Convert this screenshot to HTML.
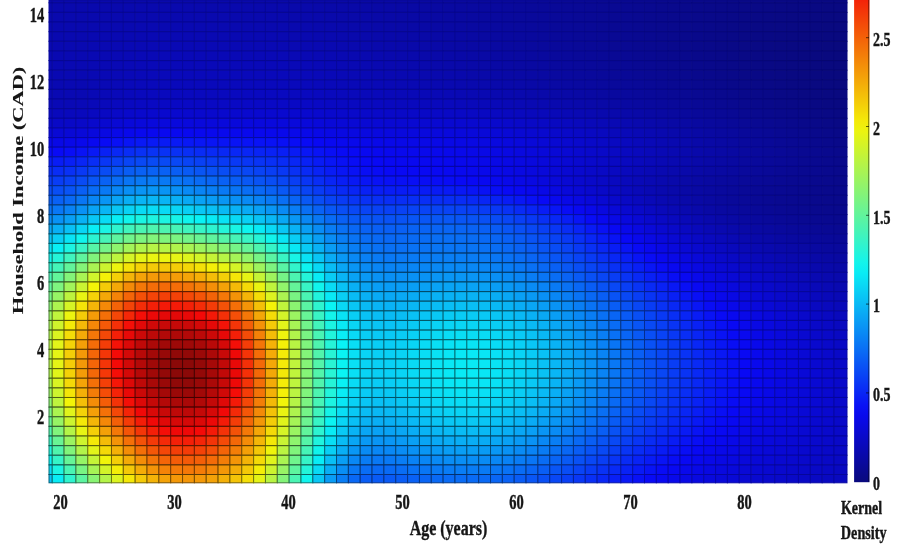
<!DOCTYPE html>
<html><head><meta charset="utf-8"><title>Kernel Density</title>
<style>
html,body{margin:0;padding:0;background:#fff;}
body{width:910px;height:550px;overflow:hidden;}
svg{display:block;}
text{font-family:"Liberation Serif",serif;font-weight:bold;fill:#161616;stroke:#161616;stroke-width:0.3px;}
</style></head><body>
<svg width="910" height="550" viewBox="0 0 910 550">
<rect width="910" height="550" fill="#fff"/>
<g>
<g stroke-width="1.0">
<rect x="49.00" y="0.00" width="3.25" height="2.78" fill="#0909ac" stroke="#08089a"/>
<rect x="52.25" y="0.00" width="11.84" height="2.78" fill="#0909ac" stroke="#080899"/>
<rect x="64.09" y="0.00" width="11.84" height="2.78" fill="#0909ac" stroke="#080899"/>
<rect x="75.94" y="0.00" width="11.84" height="2.78" fill="#0909ac" stroke="#080899"/>
<rect x="87.78" y="0.00" width="11.84" height="2.78" fill="#0909ac" stroke="#080899"/>
<rect x="99.63" y="0.00" width="11.84" height="2.78" fill="#0909ac" stroke="#080899"/>
<rect x="111.47" y="0.00" width="11.85" height="2.78" fill="#0909ac" stroke="#080899"/>
<rect x="123.32" y="0.00" width="11.85" height="2.78" fill="#0909ac" stroke="#08089a"/>
<rect x="135.17" y="0.00" width="11.84" height="2.78" fill="#0909ac" stroke="#08089a"/>
<rect x="147.01" y="0.00" width="11.85" height="2.78" fill="#0909ac" stroke="#08089a"/>
<rect x="158.86" y="0.00" width="11.84" height="2.78" fill="#0909ac" stroke="#08089a"/>
<rect x="170.70" y="0.00" width="11.85" height="2.78" fill="#0909ac" stroke="#08089a"/>
<rect x="182.55" y="0.00" width="11.84" height="2.78" fill="#0909ac" stroke="#080899"/>
<rect x="194.39" y="0.00" width="11.84" height="2.78" fill="#0909ac" stroke="#080899"/>
<rect x="206.24" y="0.00" width="11.84" height="2.78" fill="#0909ac" stroke="#080899"/>
<rect x="218.08" y="0.00" width="11.84" height="2.78" fill="#0909ac" stroke="#080899"/>
<rect x="229.93" y="0.00" width="11.84" height="2.78" fill="#0909ab" stroke="#080899"/>
<rect x="241.77" y="0.00" width="11.84" height="2.78" fill="#0909ab" stroke="#080899"/>
<rect x="253.62" y="0.00" width="11.85" height="2.78" fill="#0909ab" stroke="#080899"/>
<rect x="265.46" y="0.00" width="11.84" height="2.78" fill="#0909ab" stroke="#080899"/>
<rect x="277.31" y="0.00" width="11.84" height="2.78" fill="#0909aa" stroke="#080899"/>
<rect x="289.15" y="0.00" width="11.85" height="2.78" fill="#0909aa" stroke="#080898"/>
<rect x="301.00" y="0.00" width="11.85" height="2.78" fill="#0909a9" stroke="#080898"/>
<rect x="312.84" y="0.00" width="11.84" height="2.78" fill="#0909a9" stroke="#080898"/>
<rect x="324.69" y="0.00" width="11.85" height="2.78" fill="#0909a8" stroke="#080898"/>
<rect x="336.53" y="0.00" width="11.84" height="2.78" fill="#0909a8" stroke="#080898"/>
<rect x="348.38" y="0.00" width="11.85" height="2.78" fill="#0909a7" stroke="#080897"/>
<rect x="360.22" y="0.00" width="11.84" height="2.78" fill="#0909a6" stroke="#080897"/>
<rect x="372.06" y="0.00" width="11.85" height="2.78" fill="#0909a5" stroke="#080897"/>
<rect x="383.91" y="0.00" width="11.84" height="2.78" fill="#0909a5" stroke="#080897"/>
<rect x="395.75" y="0.00" width="11.85" height="2.78" fill="#0909a4" stroke="#080896"/>
<rect x="407.60" y="0.00" width="11.84" height="2.78" fill="#0909a3" stroke="#080896"/>
<rect x="419.44" y="0.00" width="11.85" height="2.78" fill="#0909a2" stroke="#080896"/>
<rect x="431.29" y="0.00" width="11.85" height="2.78" fill="#0909a2" stroke="#080895"/>
<rect x="443.14" y="0.00" width="11.84" height="2.78" fill="#0909a1" stroke="#080895"/>
<rect x="454.98" y="0.00" width="11.85" height="2.78" fill="#0909a0" stroke="#080895"/>
<rect x="466.83" y="0.00" width="11.84" height="2.78" fill="#09099f" stroke="#080895"/>
<rect x="478.67" y="0.00" width="11.85" height="2.78" fill="#09099e" stroke="#080894"/>
<rect x="490.52" y="0.00" width="11.84" height="2.78" fill="#09099d" stroke="#080894"/>
<rect x="502.36" y="0.00" width="11.85" height="2.78" fill="#09099c" stroke="#080894"/>
<rect x="514.21" y="0.00" width="11.84" height="2.78" fill="#09099b" stroke="#080893"/>
<rect x="526.05" y="0.00" width="11.85" height="2.78" fill="#09099a" stroke="#080892"/>
<rect x="537.89" y="0.00" width="11.85" height="2.78" fill="#090999" stroke="#080891"/>
<rect x="549.74" y="0.00" width="11.85" height="2.78" fill="#090998" stroke="#080890"/>
<rect x="561.59" y="0.00" width="11.85" height="2.78" fill="#090997" stroke="#080890"/>
<rect x="573.43" y="0.00" width="11.84" height="2.78" fill="#090996" stroke="#08088f"/>
<rect x="585.27" y="0.00" width="11.85" height="2.78" fill="#090995" stroke="#08088e"/>
<rect x="597.12" y="0.00" width="11.85" height="2.78" fill="#090994" stroke="#08088d"/>
<rect x="608.97" y="0.00" width="11.85" height="2.78" fill="#090993" stroke="#08088c"/>
<rect x="620.81" y="0.00" width="11.85" height="2.78" fill="#090992" stroke="#08088b"/>
<rect x="632.66" y="0.00" width="11.84" height="2.78" fill="#090991" stroke="#08088a"/>
<rect x="644.50" y="0.00" width="11.85" height="2.78" fill="#090990" stroke="#080889"/>
<rect x="656.35" y="0.00" width="11.85" height="2.78" fill="#09098f" stroke="#080888"/>
<rect x="668.19" y="0.00" width="11.85" height="2.78" fill="#09098e" stroke="#080887"/>
<rect x="680.04" y="0.00" width="11.84" height="2.78" fill="#09098d" stroke="#080886"/>
<rect x="691.88" y="0.00" width="11.85" height="2.78" fill="#09098c" stroke="#080885"/>
<rect x="703.73" y="0.00" width="11.85" height="2.78" fill="#09098b" stroke="#080884"/>
<rect x="715.57" y="0.00" width="11.85" height="2.78" fill="#09098a" stroke="#080883"/>
<rect x="727.42" y="0.00" width="11.84" height="2.78" fill="#090989" stroke="#080882"/>
<rect x="739.26" y="0.00" width="11.85" height="2.78" fill="#090988" stroke="#080882"/>
<rect x="751.11" y="0.00" width="11.85" height="2.78" fill="#090988" stroke="#080881"/>
<rect x="762.95" y="0.00" width="11.85" height="2.78" fill="#090987" stroke="#080880"/>
<rect x="774.80" y="0.00" width="11.84" height="2.78" fill="#090986" stroke="#08087f"/>
<rect x="786.64" y="0.00" width="11.85" height="2.78" fill="#090985" stroke="#08087f"/>
<rect x="798.49" y="0.00" width="11.85" height="2.78" fill="#090985" stroke="#08087e"/>
<rect x="810.33" y="0.00" width="11.85" height="2.78" fill="#090984" stroke="#08087e"/>
<rect x="822.18" y="0.00" width="11.85" height="2.78" fill="#090984" stroke="#08087d"/>
<rect x="834.02" y="0.00" width="12.98" height="2.78" fill="#090983" stroke="#08087d"/>
<rect x="49.00" y="2.78" width="3.25" height="9.63" fill="#0909ad" stroke="#08089a"/>
<rect x="52.25" y="2.78" width="11.84" height="9.63" fill="#0909ad" stroke="#08089a"/>
<rect x="64.09" y="2.78" width="11.84" height="9.63" fill="#0909ad" stroke="#08089a"/>
<rect x="75.94" y="2.78" width="11.84" height="9.63" fill="#0909ad" stroke="#08089a"/>
<rect x="87.78" y="2.78" width="11.84" height="9.63" fill="#0909ad" stroke="#08089a"/>
<rect x="99.63" y="2.78" width="11.84" height="9.63" fill="#0909ad" stroke="#08089a"/>
<rect x="111.47" y="2.78" width="11.85" height="9.63" fill="#0909ad" stroke="#08089a"/>
<rect x="123.32" y="2.78" width="11.85" height="9.63" fill="#0909ae" stroke="#08089a"/>
<rect x="135.17" y="2.78" width="11.84" height="9.63" fill="#0909ae" stroke="#08089a"/>
<rect x="147.01" y="2.78" width="11.85" height="9.63" fill="#0909ae" stroke="#08089a"/>
<rect x="158.86" y="2.78" width="11.84" height="9.63" fill="#0909ae" stroke="#08089a"/>
<rect x="170.70" y="2.78" width="11.85" height="9.63" fill="#0909ae" stroke="#08089a"/>
<rect x="182.55" y="2.78" width="11.84" height="9.63" fill="#0909ae" stroke="#08089a"/>
<rect x="194.39" y="2.78" width="11.84" height="9.63" fill="#0909ad" stroke="#08089a"/>
<rect x="206.24" y="2.78" width="11.84" height="9.63" fill="#0909ad" stroke="#08089a"/>
<rect x="218.08" y="2.78" width="11.84" height="9.63" fill="#0909ad" stroke="#08089a"/>
<rect x="229.93" y="2.78" width="11.84" height="9.63" fill="#0909ad" stroke="#08089a"/>
<rect x="241.77" y="2.78" width="11.84" height="9.63" fill="#0909ad" stroke="#08089a"/>
<rect x="253.62" y="2.78" width="11.85" height="9.63" fill="#0909ac" stroke="#080899"/>
<rect x="265.46" y="2.78" width="11.84" height="9.63" fill="#0909ac" stroke="#080899"/>
<rect x="277.31" y="2.78" width="11.84" height="9.63" fill="#0909ac" stroke="#080899"/>
<rect x="289.15" y="2.78" width="11.85" height="9.63" fill="#0909ab" stroke="#080899"/>
<rect x="301.00" y="2.78" width="11.85" height="9.63" fill="#0909ab" stroke="#080899"/>
<rect x="312.84" y="2.78" width="11.84" height="9.63" fill="#0909aa" stroke="#080899"/>
<rect x="324.69" y="2.78" width="11.85" height="9.63" fill="#0909a9" stroke="#080898"/>
<rect x="336.53" y="2.78" width="11.84" height="9.63" fill="#0909a9" stroke="#080898"/>
<rect x="348.38" y="2.78" width="11.85" height="9.63" fill="#0909a8" stroke="#080898"/>
<rect x="360.22" y="2.78" width="11.84" height="9.63" fill="#0909a7" stroke="#080898"/>
<rect x="372.06" y="2.78" width="11.85" height="9.63" fill="#0909a6" stroke="#080897"/>
<rect x="383.91" y="2.78" width="11.84" height="9.63" fill="#0909a6" stroke="#080897"/>
<rect x="395.75" y="2.78" width="11.85" height="9.63" fill="#0909a5" stroke="#080897"/>
<rect x="407.60" y="2.78" width="11.84" height="9.63" fill="#0909a4" stroke="#080896"/>
<rect x="419.44" y="2.78" width="11.85" height="9.63" fill="#0909a3" stroke="#080896"/>
<rect x="431.29" y="2.78" width="11.85" height="9.63" fill="#0909a2" stroke="#080896"/>
<rect x="443.14" y="2.78" width="11.84" height="9.63" fill="#0909a1" stroke="#080895"/>
<rect x="454.98" y="2.78" width="11.85" height="9.63" fill="#0909a0" stroke="#080895"/>
<rect x="466.83" y="2.78" width="11.84" height="9.63" fill="#0909a0" stroke="#080895"/>
<rect x="478.67" y="2.78" width="11.85" height="9.63" fill="#09099f" stroke="#080894"/>
<rect x="490.52" y="2.78" width="11.84" height="9.63" fill="#09099e" stroke="#080894"/>
<rect x="502.36" y="2.78" width="11.85" height="9.63" fill="#09099d" stroke="#080894"/>
<rect x="514.21" y="2.78" width="11.84" height="9.63" fill="#09099b" stroke="#080894"/>
<rect x="526.05" y="2.78" width="11.85" height="9.63" fill="#09099a" stroke="#080893"/>
<rect x="537.89" y="2.78" width="11.85" height="9.63" fill="#090999" stroke="#080892"/>
<rect x="549.74" y="2.78" width="11.85" height="9.63" fill="#090998" stroke="#080891"/>
<rect x="561.59" y="2.78" width="11.85" height="9.63" fill="#090997" stroke="#080890"/>
<rect x="573.43" y="2.78" width="11.84" height="9.63" fill="#090996" stroke="#08088f"/>
<rect x="585.27" y="2.78" width="11.85" height="9.63" fill="#090995" stroke="#08088e"/>
<rect x="597.12" y="2.78" width="11.85" height="9.63" fill="#090994" stroke="#08088d"/>
<rect x="608.97" y="2.78" width="11.85" height="9.63" fill="#090993" stroke="#08088b"/>
<rect x="620.81" y="2.78" width="11.85" height="9.63" fill="#090992" stroke="#08088a"/>
<rect x="632.66" y="2.78" width="11.84" height="9.63" fill="#090991" stroke="#080889"/>
<rect x="644.50" y="2.78" width="11.85" height="9.63" fill="#090990" stroke="#080888"/>
<rect x="656.35" y="2.78" width="11.85" height="9.63" fill="#09098e" stroke="#080887"/>
<rect x="668.19" y="2.78" width="11.85" height="9.63" fill="#09098d" stroke="#080886"/>
<rect x="680.04" y="2.78" width="11.84" height="9.63" fill="#09098c" stroke="#080885"/>
<rect x="691.88" y="2.78" width="11.85" height="9.63" fill="#09098b" stroke="#080884"/>
<rect x="703.73" y="2.78" width="11.85" height="9.63" fill="#09098a" stroke="#080883"/>
<rect x="715.57" y="2.78" width="11.85" height="9.63" fill="#090989" stroke="#080883"/>
<rect x="727.42" y="2.78" width="11.84" height="9.63" fill="#090988" stroke="#080882"/>
<rect x="739.26" y="2.78" width="11.85" height="9.63" fill="#090988" stroke="#080881"/>
<rect x="751.11" y="2.78" width="11.85" height="9.63" fill="#090987" stroke="#080880"/>
<rect x="762.95" y="2.78" width="11.85" height="9.63" fill="#090986" stroke="#08087f"/>
<rect x="774.80" y="2.78" width="11.84" height="9.63" fill="#090985" stroke="#08087e"/>
<rect x="786.64" y="2.78" width="11.85" height="9.63" fill="#090984" stroke="#08087e"/>
<rect x="798.49" y="2.78" width="11.85" height="9.63" fill="#090984" stroke="#08087d"/>
<rect x="810.33" y="2.78" width="11.85" height="9.63" fill="#090983" stroke="#08087d"/>
<rect x="822.18" y="2.78" width="11.85" height="9.63" fill="#090982" stroke="#08087c"/>
<rect x="834.02" y="2.78" width="12.98" height="9.63" fill="#090982" stroke="#08087b"/>
<rect x="49.00" y="12.40" width="3.25" height="9.63" fill="#0909ae" stroke="#08089a"/>
<rect x="52.25" y="12.40" width="11.84" height="9.63" fill="#0909ae" stroke="#08089a"/>
<rect x="64.09" y="12.40" width="11.84" height="9.63" fill="#0909ae" stroke="#08089a"/>
<rect x="75.94" y="12.40" width="11.84" height="9.63" fill="#0909ae" stroke="#08089a"/>
<rect x="87.78" y="12.40" width="11.84" height="9.63" fill="#0909ae" stroke="#08089a"/>
<rect x="99.63" y="12.40" width="11.84" height="9.63" fill="#0909ae" stroke="#08089a"/>
<rect x="111.47" y="12.40" width="11.85" height="9.63" fill="#0909af" stroke="#08089a"/>
<rect x="123.32" y="12.40" width="11.85" height="9.63" fill="#0909af" stroke="#08089b"/>
<rect x="135.17" y="12.40" width="11.84" height="9.63" fill="#0909af" stroke="#08089b"/>
<rect x="147.01" y="12.40" width="11.85" height="9.63" fill="#0909af" stroke="#08089b"/>
<rect x="158.86" y="12.40" width="11.84" height="9.63" fill="#0909af" stroke="#08089b"/>
<rect x="170.70" y="12.40" width="11.85" height="9.63" fill="#0909af" stroke="#08089b"/>
<rect x="182.55" y="12.40" width="11.84" height="9.63" fill="#0909af" stroke="#08089b"/>
<rect x="194.39" y="12.40" width="11.84" height="9.63" fill="#0909af" stroke="#08089b"/>
<rect x="206.24" y="12.40" width="11.84" height="9.63" fill="#0909af" stroke="#08089a"/>
<rect x="218.08" y="12.40" width="11.84" height="9.63" fill="#0909af" stroke="#08089a"/>
<rect x="229.93" y="12.40" width="11.84" height="9.63" fill="#0909ae" stroke="#08089a"/>
<rect x="241.77" y="12.40" width="11.84" height="9.63" fill="#0909ae" stroke="#08089a"/>
<rect x="253.62" y="12.40" width="11.85" height="9.63" fill="#0909ae" stroke="#08089a"/>
<rect x="265.46" y="12.40" width="11.84" height="9.63" fill="#0909ae" stroke="#08089a"/>
<rect x="277.31" y="12.40" width="11.84" height="9.63" fill="#0909ad" stroke="#08089a"/>
<rect x="289.15" y="12.40" width="11.85" height="9.63" fill="#0909ad" stroke="#08089a"/>
<rect x="301.00" y="12.40" width="11.85" height="9.63" fill="#0909ac" stroke="#080899"/>
<rect x="312.84" y="12.40" width="11.84" height="9.63" fill="#0909ac" stroke="#080899"/>
<rect x="324.69" y="12.40" width="11.85" height="9.63" fill="#0909ab" stroke="#080899"/>
<rect x="336.53" y="12.40" width="11.84" height="9.63" fill="#0909aa" stroke="#080899"/>
<rect x="348.38" y="12.40" width="11.85" height="9.63" fill="#0909a9" stroke="#080898"/>
<rect x="360.22" y="12.40" width="11.84" height="9.63" fill="#0909a9" stroke="#080898"/>
<rect x="372.06" y="12.40" width="11.85" height="9.63" fill="#0909a8" stroke="#080898"/>
<rect x="383.91" y="12.40" width="11.84" height="9.63" fill="#0909a7" stroke="#080897"/>
<rect x="395.75" y="12.40" width="11.85" height="9.63" fill="#0909a6" stroke="#080897"/>
<rect x="407.60" y="12.40" width="11.84" height="9.63" fill="#0909a5" stroke="#080897"/>
<rect x="419.44" y="12.40" width="11.85" height="9.63" fill="#0909a4" stroke="#080896"/>
<rect x="431.29" y="12.40" width="11.85" height="9.63" fill="#0909a3" stroke="#080896"/>
<rect x="443.14" y="12.40" width="11.84" height="9.63" fill="#0909a2" stroke="#080896"/>
<rect x="454.98" y="12.40" width="11.85" height="9.63" fill="#0909a1" stroke="#080895"/>
<rect x="466.83" y="12.40" width="11.84" height="9.63" fill="#0909a0" stroke="#080895"/>
<rect x="478.67" y="12.40" width="11.85" height="9.63" fill="#09099f" stroke="#080895"/>
<rect x="490.52" y="12.40" width="11.84" height="9.63" fill="#09099e" stroke="#080894"/>
<rect x="502.36" y="12.40" width="11.85" height="9.63" fill="#09099d" stroke="#080894"/>
<rect x="514.21" y="12.40" width="11.84" height="9.63" fill="#09099c" stroke="#080894"/>
<rect x="526.05" y="12.40" width="11.85" height="9.63" fill="#09099b" stroke="#080893"/>
<rect x="537.89" y="12.40" width="11.85" height="9.63" fill="#09099a" stroke="#080892"/>
<rect x="549.74" y="12.40" width="11.85" height="9.63" fill="#090999" stroke="#080891"/>
<rect x="561.59" y="12.40" width="11.85" height="9.63" fill="#090998" stroke="#080890"/>
<rect x="573.43" y="12.40" width="11.84" height="9.63" fill="#090996" stroke="#08088f"/>
<rect x="585.27" y="12.40" width="11.85" height="9.63" fill="#090995" stroke="#08088e"/>
<rect x="597.12" y="12.40" width="11.85" height="9.63" fill="#090994" stroke="#08088d"/>
<rect x="608.97" y="12.40" width="11.85" height="9.63" fill="#090993" stroke="#08088c"/>
<rect x="620.81" y="12.40" width="11.85" height="9.63" fill="#090992" stroke="#08088a"/>
<rect x="632.66" y="12.40" width="11.84" height="9.63" fill="#090991" stroke="#080889"/>
<rect x="644.50" y="12.40" width="11.85" height="9.63" fill="#09098f" stroke="#080888"/>
<rect x="656.35" y="12.40" width="11.85" height="9.63" fill="#09098e" stroke="#080887"/>
<rect x="668.19" y="12.40" width="11.85" height="9.63" fill="#09098d" stroke="#080886"/>
<rect x="680.04" y="12.40" width="11.84" height="9.63" fill="#09098c" stroke="#080885"/>
<rect x="691.88" y="12.40" width="11.85" height="9.63" fill="#09098b" stroke="#080884"/>
<rect x="703.73" y="12.40" width="11.85" height="9.63" fill="#09098a" stroke="#080883"/>
<rect x="715.57" y="12.40" width="11.85" height="9.63" fill="#090989" stroke="#080882"/>
<rect x="727.42" y="12.40" width="11.84" height="9.63" fill="#090988" stroke="#080881"/>
<rect x="739.26" y="12.40" width="11.85" height="9.63" fill="#090987" stroke="#080880"/>
<rect x="751.11" y="12.40" width="11.85" height="9.63" fill="#090986" stroke="#08087f"/>
<rect x="762.95" y="12.40" width="11.85" height="9.63" fill="#090985" stroke="#08087e"/>
<rect x="774.80" y="12.40" width="11.84" height="9.63" fill="#090984" stroke="#08087e"/>
<rect x="786.64" y="12.40" width="11.85" height="9.63" fill="#090983" stroke="#08087d"/>
<rect x="798.49" y="12.40" width="11.85" height="9.63" fill="#090983" stroke="#08087c"/>
<rect x="810.33" y="12.40" width="11.85" height="9.63" fill="#090982" stroke="#08087c"/>
<rect x="822.18" y="12.40" width="11.85" height="9.63" fill="#090981" stroke="#08087b"/>
<rect x="834.02" y="12.40" width="12.98" height="9.63" fill="#090981" stroke="#08087a"/>
<rect x="49.00" y="22.03" width="3.25" height="9.63" fill="#0909b0" stroke="#08089b"/>
<rect x="52.25" y="22.03" width="11.84" height="9.63" fill="#0909af" stroke="#08089b"/>
<rect x="64.09" y="22.03" width="11.84" height="9.63" fill="#0909af" stroke="#08089b"/>
<rect x="75.94" y="22.03" width="11.84" height="9.63" fill="#0909af" stroke="#08089b"/>
<rect x="87.78" y="22.03" width="11.84" height="9.63" fill="#0909af" stroke="#08089b"/>
<rect x="99.63" y="22.03" width="11.84" height="9.63" fill="#0909b0" stroke="#08089b"/>
<rect x="111.47" y="22.03" width="11.85" height="9.63" fill="#0909b0" stroke="#08089b"/>
<rect x="123.32" y="22.03" width="11.85" height="9.63" fill="#0909b0" stroke="#08089b"/>
<rect x="135.17" y="22.03" width="11.84" height="9.63" fill="#0909b1" stroke="#08089b"/>
<rect x="147.01" y="22.03" width="11.85" height="9.63" fill="#0909b1" stroke="#08089b"/>
<rect x="158.86" y="22.03" width="11.84" height="9.63" fill="#0909b1" stroke="#08089b"/>
<rect x="170.70" y="22.03" width="11.85" height="9.63" fill="#0909b1" stroke="#08089b"/>
<rect x="182.55" y="22.03" width="11.84" height="9.63" fill="#0909b1" stroke="#08089b"/>
<rect x="194.39" y="22.03" width="11.84" height="9.63" fill="#0909b1" stroke="#08089b"/>
<rect x="206.24" y="22.03" width="11.84" height="9.63" fill="#0909b1" stroke="#08089b"/>
<rect x="218.08" y="22.03" width="11.84" height="9.63" fill="#0909b0" stroke="#08089b"/>
<rect x="229.93" y="22.03" width="11.84" height="9.63" fill="#0909b0" stroke="#08089b"/>
<rect x="241.77" y="22.03" width="11.84" height="9.63" fill="#0909b0" stroke="#08089b"/>
<rect x="253.62" y="22.03" width="11.85" height="9.63" fill="#0909b0" stroke="#08089b"/>
<rect x="265.46" y="22.03" width="11.84" height="9.63" fill="#0909af" stroke="#08089b"/>
<rect x="277.31" y="22.03" width="11.84" height="9.63" fill="#0909af" stroke="#08089b"/>
<rect x="289.15" y="22.03" width="11.85" height="9.63" fill="#0909af" stroke="#08089a"/>
<rect x="301.00" y="22.03" width="11.85" height="9.63" fill="#0909ae" stroke="#08089a"/>
<rect x="312.84" y="22.03" width="11.84" height="9.63" fill="#0909ad" stroke="#08089a"/>
<rect x="324.69" y="22.03" width="11.85" height="9.63" fill="#0909ad" stroke="#08089a"/>
<rect x="336.53" y="22.03" width="11.84" height="9.63" fill="#0909ac" stroke="#080899"/>
<rect x="348.38" y="22.03" width="11.85" height="9.63" fill="#0909ab" stroke="#080899"/>
<rect x="360.22" y="22.03" width="11.84" height="9.63" fill="#0909aa" stroke="#080899"/>
<rect x="372.06" y="22.03" width="11.85" height="9.63" fill="#0909a9" stroke="#080898"/>
<rect x="383.91" y="22.03" width="11.84" height="9.63" fill="#0909a8" stroke="#080898"/>
<rect x="395.75" y="22.03" width="11.85" height="9.63" fill="#0909a7" stroke="#080898"/>
<rect x="407.60" y="22.03" width="11.84" height="9.63" fill="#0909a6" stroke="#080897"/>
<rect x="419.44" y="22.03" width="11.85" height="9.63" fill="#0909a5" stroke="#080897"/>
<rect x="431.29" y="22.03" width="11.85" height="9.63" fill="#0909a4" stroke="#080896"/>
<rect x="443.14" y="22.03" width="11.84" height="9.63" fill="#0909a3" stroke="#080896"/>
<rect x="454.98" y="22.03" width="11.85" height="9.63" fill="#0909a2" stroke="#080896"/>
<rect x="466.83" y="22.03" width="11.84" height="9.63" fill="#0909a1" stroke="#080895"/>
<rect x="478.67" y="22.03" width="11.85" height="9.63" fill="#0909a0" stroke="#080895"/>
<rect x="490.52" y="22.03" width="11.84" height="9.63" fill="#09099f" stroke="#080895"/>
<rect x="502.36" y="22.03" width="11.85" height="9.63" fill="#09099e" stroke="#080894"/>
<rect x="514.21" y="22.03" width="11.84" height="9.63" fill="#09099d" stroke="#080894"/>
<rect x="526.05" y="22.03" width="11.85" height="9.63" fill="#09099c" stroke="#080894"/>
<rect x="537.89" y="22.03" width="11.85" height="9.63" fill="#09099a" stroke="#080893"/>
<rect x="549.74" y="22.03" width="11.85" height="9.63" fill="#090999" stroke="#080892"/>
<rect x="561.59" y="22.03" width="11.85" height="9.63" fill="#090998" stroke="#080890"/>
<rect x="573.43" y="22.03" width="11.84" height="9.63" fill="#090997" stroke="#08088f"/>
<rect x="585.27" y="22.03" width="11.85" height="9.63" fill="#090996" stroke="#08088e"/>
<rect x="597.12" y="22.03" width="11.85" height="9.63" fill="#090994" stroke="#08088d"/>
<rect x="608.97" y="22.03" width="11.85" height="9.63" fill="#090993" stroke="#08088c"/>
<rect x="620.81" y="22.03" width="11.85" height="9.63" fill="#090992" stroke="#08088b"/>
<rect x="632.66" y="22.03" width="11.84" height="9.63" fill="#090991" stroke="#080889"/>
<rect x="644.50" y="22.03" width="11.85" height="9.63" fill="#09098f" stroke="#080888"/>
<rect x="656.35" y="22.03" width="11.85" height="9.63" fill="#09098e" stroke="#080887"/>
<rect x="668.19" y="22.03" width="11.85" height="9.63" fill="#09098d" stroke="#080886"/>
<rect x="680.04" y="22.03" width="11.84" height="9.63" fill="#09098c" stroke="#080885"/>
<rect x="691.88" y="22.03" width="11.85" height="9.63" fill="#09098b" stroke="#080884"/>
<rect x="703.73" y="22.03" width="11.85" height="9.63" fill="#09098a" stroke="#080883"/>
<rect x="715.57" y="22.03" width="11.85" height="9.63" fill="#090988" stroke="#080882"/>
<rect x="727.42" y="22.03" width="11.84" height="9.63" fill="#090987" stroke="#080881"/>
<rect x="739.26" y="22.03" width="11.85" height="9.63" fill="#090986" stroke="#080880"/>
<rect x="751.11" y="22.03" width="11.85" height="9.63" fill="#090985" stroke="#08087f"/>
<rect x="762.95" y="22.03" width="11.85" height="9.63" fill="#090984" stroke="#08087e"/>
<rect x="774.80" y="22.03" width="11.84" height="9.63" fill="#090984" stroke="#08087d"/>
<rect x="786.64" y="22.03" width="11.85" height="9.63" fill="#090983" stroke="#08087c"/>
<rect x="798.49" y="22.03" width="11.85" height="9.63" fill="#090982" stroke="#08087b"/>
<rect x="810.33" y="22.03" width="11.85" height="9.63" fill="#090981" stroke="#08087b"/>
<rect x="822.18" y="22.03" width="11.85" height="9.63" fill="#090980" stroke="#08087a"/>
<rect x="834.02" y="22.03" width="12.98" height="9.63" fill="#090980" stroke="#080879"/>
<rect x="49.00" y="31.66" width="3.25" height="9.63" fill="#0909b1" stroke="#08089b"/>
<rect x="52.25" y="31.66" width="11.84" height="9.63" fill="#0909b0" stroke="#08089b"/>
<rect x="64.09" y="31.66" width="11.84" height="9.63" fill="#0909b0" stroke="#08089b"/>
<rect x="75.94" y="31.66" width="11.84" height="9.63" fill="#0909b0" stroke="#08089b"/>
<rect x="87.78" y="31.66" width="11.84" height="9.63" fill="#0909b1" stroke="#08089b"/>
<rect x="99.63" y="31.66" width="11.84" height="9.63" fill="#0909b1" stroke="#08089b"/>
<rect x="111.47" y="31.66" width="11.85" height="9.63" fill="#0909b2" stroke="#08089c"/>
<rect x="123.32" y="31.66" width="11.85" height="9.63" fill="#0909b2" stroke="#08089c"/>
<rect x="135.17" y="31.66" width="11.84" height="9.63" fill="#0909b2" stroke="#08089c"/>
<rect x="147.01" y="31.66" width="11.85" height="9.63" fill="#0909b3" stroke="#08089c"/>
<rect x="158.86" y="31.66" width="11.84" height="9.63" fill="#0909b3" stroke="#08089c"/>
<rect x="170.70" y="31.66" width="11.85" height="9.63" fill="#0909b3" stroke="#08089c"/>
<rect x="182.55" y="31.66" width="11.84" height="9.63" fill="#0909b3" stroke="#08089c"/>
<rect x="194.39" y="31.66" width="11.84" height="9.63" fill="#0909b3" stroke="#08089c"/>
<rect x="206.24" y="31.66" width="11.84" height="9.63" fill="#0909b3" stroke="#08089c"/>
<rect x="218.08" y="31.66" width="11.84" height="9.63" fill="#0909b2" stroke="#08089c"/>
<rect x="229.93" y="31.66" width="11.84" height="9.63" fill="#0909b2" stroke="#08089c"/>
<rect x="241.77" y="31.66" width="11.84" height="9.63" fill="#0909b2" stroke="#08089c"/>
<rect x="253.62" y="31.66" width="11.85" height="9.63" fill="#0909b2" stroke="#08089c"/>
<rect x="265.46" y="31.66" width="11.84" height="9.63" fill="#0909b2" stroke="#08089c"/>
<rect x="277.31" y="31.66" width="11.84" height="9.63" fill="#0909b1" stroke="#08089b"/>
<rect x="289.15" y="31.66" width="11.85" height="9.63" fill="#0909b1" stroke="#08089b"/>
<rect x="301.00" y="31.66" width="11.85" height="9.63" fill="#0909b0" stroke="#08089b"/>
<rect x="312.84" y="31.66" width="11.84" height="9.63" fill="#0909af" stroke="#08089b"/>
<rect x="324.69" y="31.66" width="11.85" height="9.63" fill="#0909af" stroke="#08089a"/>
<rect x="336.53" y="31.66" width="11.84" height="9.63" fill="#0909ae" stroke="#08089a"/>
<rect x="348.38" y="31.66" width="11.85" height="9.63" fill="#0909ad" stroke="#08089a"/>
<rect x="360.22" y="31.66" width="11.84" height="9.63" fill="#0909ac" stroke="#080899"/>
<rect x="372.06" y="31.66" width="11.85" height="9.63" fill="#0909ab" stroke="#080899"/>
<rect x="383.91" y="31.66" width="11.84" height="9.63" fill="#0909aa" stroke="#080899"/>
<rect x="395.75" y="31.66" width="11.85" height="9.63" fill="#0909a9" stroke="#080898"/>
<rect x="407.60" y="31.66" width="11.84" height="9.63" fill="#0909a8" stroke="#080898"/>
<rect x="419.44" y="31.66" width="11.85" height="9.63" fill="#0909a7" stroke="#080897"/>
<rect x="431.29" y="31.66" width="11.85" height="9.63" fill="#0909a6" stroke="#080897"/>
<rect x="443.14" y="31.66" width="11.84" height="9.63" fill="#0909a5" stroke="#080897"/>
<rect x="454.98" y="31.66" width="11.85" height="9.63" fill="#0909a4" stroke="#080896"/>
<rect x="466.83" y="31.66" width="11.84" height="9.63" fill="#0909a3" stroke="#080896"/>
<rect x="478.67" y="31.66" width="11.85" height="9.63" fill="#0909a1" stroke="#080895"/>
<rect x="490.52" y="31.66" width="11.84" height="9.63" fill="#0909a0" stroke="#080895"/>
<rect x="502.36" y="31.66" width="11.85" height="9.63" fill="#09099f" stroke="#080895"/>
<rect x="514.21" y="31.66" width="11.84" height="9.63" fill="#09099e" stroke="#080894"/>
<rect x="526.05" y="31.66" width="11.85" height="9.63" fill="#09099d" stroke="#080894"/>
<rect x="537.89" y="31.66" width="11.85" height="9.63" fill="#09099b" stroke="#080894"/>
<rect x="549.74" y="31.66" width="11.85" height="9.63" fill="#09099a" stroke="#080892"/>
<rect x="561.59" y="31.66" width="11.85" height="9.63" fill="#090999" stroke="#080891"/>
<rect x="573.43" y="31.66" width="11.84" height="9.63" fill="#090997" stroke="#080890"/>
<rect x="585.27" y="31.66" width="11.85" height="9.63" fill="#090996" stroke="#08088f"/>
<rect x="597.12" y="31.66" width="11.85" height="9.63" fill="#090995" stroke="#08088d"/>
<rect x="608.97" y="31.66" width="11.85" height="9.63" fill="#090994" stroke="#08088c"/>
<rect x="620.81" y="31.66" width="11.85" height="9.63" fill="#090992" stroke="#08088b"/>
<rect x="632.66" y="31.66" width="11.84" height="9.63" fill="#090991" stroke="#08088a"/>
<rect x="644.50" y="31.66" width="11.85" height="9.63" fill="#090990" stroke="#080888"/>
<rect x="656.35" y="31.66" width="11.85" height="9.63" fill="#09098e" stroke="#080887"/>
<rect x="668.19" y="31.66" width="11.85" height="9.63" fill="#09098d" stroke="#080886"/>
<rect x="680.04" y="31.66" width="11.84" height="9.63" fill="#09098c" stroke="#080885"/>
<rect x="691.88" y="31.66" width="11.85" height="9.63" fill="#09098b" stroke="#080884"/>
<rect x="703.73" y="31.66" width="11.85" height="9.63" fill="#090989" stroke="#080883"/>
<rect x="715.57" y="31.66" width="11.85" height="9.63" fill="#090988" stroke="#080882"/>
<rect x="727.42" y="31.66" width="11.84" height="9.63" fill="#090987" stroke="#080880"/>
<rect x="739.26" y="31.66" width="11.85" height="9.63" fill="#090986" stroke="#08087f"/>
<rect x="751.11" y="31.66" width="11.85" height="9.63" fill="#090985" stroke="#08087e"/>
<rect x="762.95" y="31.66" width="11.85" height="9.63" fill="#090984" stroke="#08087d"/>
<rect x="774.80" y="31.66" width="11.84" height="9.63" fill="#090983" stroke="#08087d"/>
<rect x="786.64" y="31.66" width="11.85" height="9.63" fill="#090982" stroke="#08087c"/>
<rect x="798.49" y="31.66" width="11.85" height="9.63" fill="#090981" stroke="#08087b"/>
<rect x="810.33" y="31.66" width="11.85" height="9.63" fill="#090980" stroke="#08087a"/>
<rect x="822.18" y="31.66" width="11.85" height="9.63" fill="#090980" stroke="#080879"/>
<rect x="834.02" y="31.66" width="12.98" height="9.63" fill="#09097f" stroke="#080879"/>
<rect x="49.00" y="41.28" width="3.25" height="9.63" fill="#0909b2" stroke="#08089c"/>
<rect x="52.25" y="41.28" width="11.84" height="9.63" fill="#0909b1" stroke="#08089b"/>
<rect x="64.09" y="41.28" width="11.84" height="9.63" fill="#0909b1" stroke="#08089b"/>
<rect x="75.94" y="41.28" width="11.84" height="9.63" fill="#0909b1" stroke="#08089b"/>
<rect x="87.78" y="41.28" width="11.84" height="9.63" fill="#0909b2" stroke="#08089c"/>
<rect x="99.63" y="41.28" width="11.84" height="9.63" fill="#0909b2" stroke="#08089c"/>
<rect x="111.47" y="41.28" width="11.85" height="9.63" fill="#0909b3" stroke="#08089c"/>
<rect x="123.32" y="41.28" width="11.85" height="9.63" fill="#0909b4" stroke="#08089c"/>
<rect x="135.17" y="41.28" width="11.84" height="9.63" fill="#0909b4" stroke="#08089d"/>
<rect x="147.01" y="41.28" width="11.85" height="9.63" fill="#0909b5" stroke="#08089d"/>
<rect x="158.86" y="41.28" width="11.84" height="9.63" fill="#0909b5" stroke="#08089d"/>
<rect x="170.70" y="41.28" width="11.85" height="9.63" fill="#0909b5" stroke="#08089d"/>
<rect x="182.55" y="41.28" width="11.84" height="9.63" fill="#0909b5" stroke="#08089d"/>
<rect x="194.39" y="41.28" width="11.84" height="9.63" fill="#0909b5" stroke="#08089d"/>
<rect x="206.24" y="41.28" width="11.84" height="9.63" fill="#0909b5" stroke="#08089d"/>
<rect x="218.08" y="41.28" width="11.84" height="9.63" fill="#0909b4" stroke="#08089d"/>
<rect x="229.93" y="41.28" width="11.84" height="9.63" fill="#0909b4" stroke="#08089d"/>
<rect x="241.77" y="41.28" width="11.84" height="9.63" fill="#0909b4" stroke="#08089d"/>
<rect x="253.62" y="41.28" width="11.85" height="9.63" fill="#0909b4" stroke="#08089d"/>
<rect x="265.46" y="41.28" width="11.84" height="9.63" fill="#0909b4" stroke="#08089c"/>
<rect x="277.31" y="41.28" width="11.84" height="9.63" fill="#0909b3" stroke="#08089c"/>
<rect x="289.15" y="41.28" width="11.85" height="9.63" fill="#0909b3" stroke="#08089c"/>
<rect x="301.00" y="41.28" width="11.85" height="9.63" fill="#0909b2" stroke="#08089c"/>
<rect x="312.84" y="41.28" width="11.84" height="9.63" fill="#0909b2" stroke="#08089c"/>
<rect x="324.69" y="41.28" width="11.85" height="9.63" fill="#0909b1" stroke="#08089b"/>
<rect x="336.53" y="41.28" width="11.84" height="9.63" fill="#0909b0" stroke="#08089b"/>
<rect x="348.38" y="41.28" width="11.85" height="9.63" fill="#0909af" stroke="#08089a"/>
<rect x="360.22" y="41.28" width="11.84" height="9.63" fill="#0909ae" stroke="#08089a"/>
<rect x="372.06" y="41.28" width="11.85" height="9.63" fill="#0909ad" stroke="#08089a"/>
<rect x="383.91" y="41.28" width="11.84" height="9.63" fill="#0909ac" stroke="#080899"/>
<rect x="395.75" y="41.28" width="11.85" height="9.63" fill="#0909ab" stroke="#080899"/>
<rect x="407.60" y="41.28" width="11.84" height="9.63" fill="#0909aa" stroke="#080898"/>
<rect x="419.44" y="41.28" width="11.85" height="9.63" fill="#0909a9" stroke="#080898"/>
<rect x="431.29" y="41.28" width="11.85" height="9.63" fill="#0909a8" stroke="#080898"/>
<rect x="443.14" y="41.28" width="11.84" height="9.63" fill="#0909a6" stroke="#080897"/>
<rect x="454.98" y="41.28" width="11.85" height="9.63" fill="#0909a5" stroke="#080897"/>
<rect x="466.83" y="41.28" width="11.84" height="9.63" fill="#0909a4" stroke="#080896"/>
<rect x="478.67" y="41.28" width="11.85" height="9.63" fill="#0909a3" stroke="#080896"/>
<rect x="490.52" y="41.28" width="11.84" height="9.63" fill="#0909a2" stroke="#080895"/>
<rect x="502.36" y="41.28" width="11.85" height="9.63" fill="#0909a0" stroke="#080895"/>
<rect x="514.21" y="41.28" width="11.84" height="9.63" fill="#09099f" stroke="#080895"/>
<rect x="526.05" y="41.28" width="11.85" height="9.63" fill="#09099e" stroke="#080894"/>
<rect x="537.89" y="41.28" width="11.85" height="9.63" fill="#09099c" stroke="#080894"/>
<rect x="549.74" y="41.28" width="11.85" height="9.63" fill="#09099b" stroke="#080893"/>
<rect x="561.59" y="41.28" width="11.85" height="9.63" fill="#09099a" stroke="#080892"/>
<rect x="573.43" y="41.28" width="11.84" height="9.63" fill="#090998" stroke="#080891"/>
<rect x="585.27" y="41.28" width="11.85" height="9.63" fill="#090997" stroke="#08088f"/>
<rect x="597.12" y="41.28" width="11.85" height="9.63" fill="#090996" stroke="#08088e"/>
<rect x="608.97" y="41.28" width="11.85" height="9.63" fill="#090994" stroke="#08088d"/>
<rect x="620.81" y="41.28" width="11.85" height="9.63" fill="#090993" stroke="#08088b"/>
<rect x="632.66" y="41.28" width="11.84" height="9.63" fill="#090991" stroke="#08088a"/>
<rect x="644.50" y="41.28" width="11.85" height="9.63" fill="#090990" stroke="#080889"/>
<rect x="656.35" y="41.28" width="11.85" height="9.63" fill="#09098f" stroke="#080888"/>
<rect x="668.19" y="41.28" width="11.85" height="9.63" fill="#09098d" stroke="#080886"/>
<rect x="680.04" y="41.28" width="11.84" height="9.63" fill="#09098c" stroke="#080885"/>
<rect x="691.88" y="41.28" width="11.85" height="9.63" fill="#09098b" stroke="#080884"/>
<rect x="703.73" y="41.28" width="11.85" height="9.63" fill="#09098a" stroke="#080883"/>
<rect x="715.57" y="41.28" width="11.85" height="9.63" fill="#090988" stroke="#080882"/>
<rect x="727.42" y="41.28" width="11.84" height="9.63" fill="#090987" stroke="#080880"/>
<rect x="739.26" y="41.28" width="11.85" height="9.63" fill="#090986" stroke="#08087f"/>
<rect x="751.11" y="41.28" width="11.85" height="9.63" fill="#090985" stroke="#08087e"/>
<rect x="762.95" y="41.28" width="11.85" height="9.63" fill="#090984" stroke="#08087d"/>
<rect x="774.80" y="41.28" width="11.84" height="9.63" fill="#090983" stroke="#08087c"/>
<rect x="786.64" y="41.28" width="11.85" height="9.63" fill="#090982" stroke="#08087b"/>
<rect x="798.49" y="41.28" width="11.85" height="9.63" fill="#090981" stroke="#08087a"/>
<rect x="810.33" y="41.28" width="11.85" height="9.63" fill="#090980" stroke="#08087a"/>
<rect x="822.18" y="41.28" width="11.85" height="9.63" fill="#09097f" stroke="#080879"/>
<rect x="834.02" y="41.28" width="12.98" height="9.63" fill="#09097e" stroke="#080878"/>
<rect x="49.00" y="50.91" width="3.25" height="9.63" fill="#0909b3" stroke="#08089c"/>
<rect x="52.25" y="50.91" width="11.84" height="9.63" fill="#0909b2" stroke="#08089c"/>
<rect x="64.09" y="50.91" width="11.84" height="9.63" fill="#0909b2" stroke="#08089c"/>
<rect x="75.94" y="50.91" width="11.84" height="9.63" fill="#0909b2" stroke="#08089c"/>
<rect x="87.78" y="50.91" width="11.84" height="9.63" fill="#0909b3" stroke="#08089c"/>
<rect x="99.63" y="50.91" width="11.84" height="9.63" fill="#0909b3" stroke="#08089c"/>
<rect x="111.47" y="50.91" width="11.85" height="9.63" fill="#0909b4" stroke="#08089d"/>
<rect x="123.32" y="50.91" width="11.85" height="9.63" fill="#0909b5" stroke="#08089d"/>
<rect x="135.17" y="50.91" width="11.84" height="9.63" fill="#0909b6" stroke="#08089d"/>
<rect x="147.01" y="50.91" width="11.85" height="9.63" fill="#0909b6" stroke="#08089d"/>
<rect x="158.86" y="50.91" width="11.84" height="9.63" fill="#0909b7" stroke="#08089d"/>
<rect x="170.70" y="50.91" width="11.85" height="9.63" fill="#0909b7" stroke="#08089e"/>
<rect x="182.55" y="50.91" width="11.84" height="9.63" fill="#0909b7" stroke="#08089e"/>
<rect x="194.39" y="50.91" width="11.84" height="9.63" fill="#0909b7" stroke="#08089d"/>
<rect x="206.24" y="50.91" width="11.84" height="9.63" fill="#0909b6" stroke="#08089d"/>
<rect x="218.08" y="50.91" width="11.84" height="9.63" fill="#0909b6" stroke="#08089d"/>
<rect x="229.93" y="50.91" width="11.84" height="9.63" fill="#0909b6" stroke="#08089d"/>
<rect x="241.77" y="50.91" width="11.84" height="9.63" fill="#0909b6" stroke="#08089d"/>
<rect x="253.62" y="50.91" width="11.85" height="9.63" fill="#0909b6" stroke="#08089d"/>
<rect x="265.46" y="50.91" width="11.84" height="9.63" fill="#0909b6" stroke="#08089d"/>
<rect x="277.31" y="50.91" width="11.84" height="9.63" fill="#0909b6" stroke="#08089d"/>
<rect x="289.15" y="50.91" width="11.85" height="9.63" fill="#0909b5" stroke="#08089d"/>
<rect x="301.00" y="50.91" width="11.85" height="9.63" fill="#0909b4" stroke="#08089d"/>
<rect x="312.84" y="50.91" width="11.84" height="9.63" fill="#0909b4" stroke="#08089c"/>
<rect x="324.69" y="50.91" width="11.85" height="9.63" fill="#0909b3" stroke="#08089c"/>
<rect x="336.53" y="50.91" width="11.84" height="9.63" fill="#0909b2" stroke="#08089c"/>
<rect x="348.38" y="50.91" width="11.85" height="9.63" fill="#0909b1" stroke="#08089b"/>
<rect x="360.22" y="50.91" width="11.84" height="9.63" fill="#0909b0" stroke="#08089b"/>
<rect x="372.06" y="50.91" width="11.85" height="9.63" fill="#0909af" stroke="#08089a"/>
<rect x="383.91" y="50.91" width="11.84" height="9.63" fill="#0909ae" stroke="#08089a"/>
<rect x="395.75" y="50.91" width="11.85" height="9.63" fill="#0909ad" stroke="#08089a"/>
<rect x="407.60" y="50.91" width="11.84" height="9.63" fill="#0909ac" stroke="#080899"/>
<rect x="419.44" y="50.91" width="11.85" height="9.63" fill="#0909aa" stroke="#080899"/>
<rect x="431.29" y="50.91" width="11.85" height="9.63" fill="#0909a9" stroke="#080898"/>
<rect x="443.14" y="50.91" width="11.84" height="9.63" fill="#0909a8" stroke="#080898"/>
<rect x="454.98" y="50.91" width="11.85" height="9.63" fill="#0909a7" stroke="#080897"/>
<rect x="466.83" y="50.91" width="11.84" height="9.63" fill="#0909a6" stroke="#080897"/>
<rect x="478.67" y="50.91" width="11.85" height="9.63" fill="#0909a5" stroke="#080896"/>
<rect x="490.52" y="50.91" width="11.84" height="9.63" fill="#0909a3" stroke="#080896"/>
<rect x="502.36" y="50.91" width="11.85" height="9.63" fill="#0909a2" stroke="#080896"/>
<rect x="514.21" y="50.91" width="11.84" height="9.63" fill="#0909a1" stroke="#080895"/>
<rect x="526.05" y="50.91" width="11.85" height="9.63" fill="#09099f" stroke="#080895"/>
<rect x="537.89" y="50.91" width="11.85" height="9.63" fill="#09099e" stroke="#080894"/>
<rect x="549.74" y="50.91" width="11.85" height="9.63" fill="#09099c" stroke="#080894"/>
<rect x="561.59" y="50.91" width="11.85" height="9.63" fill="#09099b" stroke="#080893"/>
<rect x="573.43" y="50.91" width="11.84" height="9.63" fill="#090999" stroke="#080892"/>
<rect x="585.27" y="50.91" width="11.85" height="9.63" fill="#090998" stroke="#080890"/>
<rect x="597.12" y="50.91" width="11.85" height="9.63" fill="#090997" stroke="#08088f"/>
<rect x="608.97" y="50.91" width="11.85" height="9.63" fill="#090995" stroke="#08088e"/>
<rect x="620.81" y="50.91" width="11.85" height="9.63" fill="#090994" stroke="#08088c"/>
<rect x="632.66" y="50.91" width="11.84" height="9.63" fill="#090992" stroke="#08088b"/>
<rect x="644.50" y="50.91" width="11.85" height="9.63" fill="#090991" stroke="#08088a"/>
<rect x="656.35" y="50.91" width="11.85" height="9.63" fill="#09098f" stroke="#080888"/>
<rect x="668.19" y="50.91" width="11.85" height="9.63" fill="#09098e" stroke="#080887"/>
<rect x="680.04" y="50.91" width="11.84" height="9.63" fill="#09098d" stroke="#080886"/>
<rect x="691.88" y="50.91" width="11.85" height="9.63" fill="#09098b" stroke="#080884"/>
<rect x="703.73" y="50.91" width="11.85" height="9.63" fill="#09098a" stroke="#080883"/>
<rect x="715.57" y="50.91" width="11.85" height="9.63" fill="#090989" stroke="#080882"/>
<rect x="727.42" y="50.91" width="11.84" height="9.63" fill="#090987" stroke="#080881"/>
<rect x="739.26" y="50.91" width="11.85" height="9.63" fill="#090986" stroke="#08087f"/>
<rect x="751.11" y="50.91" width="11.85" height="9.63" fill="#090985" stroke="#08087e"/>
<rect x="762.95" y="50.91" width="11.85" height="9.63" fill="#090984" stroke="#08087d"/>
<rect x="774.80" y="50.91" width="11.84" height="9.63" fill="#090983" stroke="#08087c"/>
<rect x="786.64" y="50.91" width="11.85" height="9.63" fill="#090982" stroke="#08087b"/>
<rect x="798.49" y="50.91" width="11.85" height="9.63" fill="#090981" stroke="#08087a"/>
<rect x="810.33" y="50.91" width="11.85" height="9.63" fill="#090980" stroke="#080879"/>
<rect x="822.18" y="50.91" width="11.85" height="9.63" fill="#09097f" stroke="#080879"/>
<rect x="834.02" y="50.91" width="12.98" height="9.63" fill="#09097e" stroke="#080878"/>
<rect x="49.00" y="60.54" width="3.25" height="9.63" fill="#0909b3" stroke="#08089c"/>
<rect x="52.25" y="60.54" width="11.84" height="9.63" fill="#0909b2" stroke="#08089c"/>
<rect x="64.09" y="60.54" width="11.84" height="9.63" fill="#0909b2" stroke="#08089c"/>
<rect x="75.94" y="60.54" width="11.84" height="9.63" fill="#0909b2" stroke="#08089c"/>
<rect x="87.78" y="60.54" width="11.84" height="9.63" fill="#0909b3" stroke="#08089c"/>
<rect x="99.63" y="60.54" width="11.84" height="9.63" fill="#0909b4" stroke="#08089d"/>
<rect x="111.47" y="60.54" width="11.85" height="9.63" fill="#0909b5" stroke="#08089d"/>
<rect x="123.32" y="60.54" width="11.85" height="9.63" fill="#0909b6" stroke="#08089d"/>
<rect x="135.17" y="60.54" width="11.84" height="9.63" fill="#0909b7" stroke="#08089e"/>
<rect x="147.01" y="60.54" width="11.85" height="9.63" fill="#0909b8" stroke="#08089e"/>
<rect x="158.86" y="60.54" width="11.84" height="9.63" fill="#0909b8" stroke="#08089e"/>
<rect x="170.70" y="60.54" width="11.85" height="9.63" fill="#0909b8" stroke="#08089e"/>
<rect x="182.55" y="60.54" width="11.84" height="9.63" fill="#0909b8" stroke="#08089e"/>
<rect x="194.39" y="60.54" width="11.84" height="9.63" fill="#0909b8" stroke="#08089e"/>
<rect x="206.24" y="60.54" width="11.84" height="9.63" fill="#0909b8" stroke="#08089e"/>
<rect x="218.08" y="60.54" width="11.84" height="9.63" fill="#0909b8" stroke="#08089e"/>
<rect x="229.93" y="60.54" width="11.84" height="9.63" fill="#0909b8" stroke="#08089e"/>
<rect x="241.77" y="60.54" width="11.84" height="9.63" fill="#0909b8" stroke="#08089e"/>
<rect x="253.62" y="60.54" width="11.85" height="9.63" fill="#0909b8" stroke="#08089e"/>
<rect x="265.46" y="60.54" width="11.84" height="9.63" fill="#0909b8" stroke="#08089e"/>
<rect x="277.31" y="60.54" width="11.84" height="9.63" fill="#0909b8" stroke="#08089e"/>
<rect x="289.15" y="60.54" width="11.85" height="9.63" fill="#0909b7" stroke="#08089e"/>
<rect x="301.00" y="60.54" width="11.85" height="9.63" fill="#0909b7" stroke="#08089e"/>
<rect x="312.84" y="60.54" width="11.84" height="9.63" fill="#0909b6" stroke="#08089d"/>
<rect x="324.69" y="60.54" width="11.85" height="9.63" fill="#0909b5" stroke="#08089d"/>
<rect x="336.53" y="60.54" width="11.84" height="9.63" fill="#0909b4" stroke="#08089c"/>
<rect x="348.38" y="60.54" width="11.85" height="9.63" fill="#0909b3" stroke="#08089c"/>
<rect x="360.22" y="60.54" width="11.84" height="9.63" fill="#0909b2" stroke="#08089c"/>
<rect x="372.06" y="60.54" width="11.85" height="9.63" fill="#0909b1" stroke="#08089b"/>
<rect x="383.91" y="60.54" width="11.84" height="9.63" fill="#0909b0" stroke="#08089b"/>
<rect x="395.75" y="60.54" width="11.85" height="9.63" fill="#0909af" stroke="#08089a"/>
<rect x="407.60" y="60.54" width="11.84" height="9.63" fill="#0909ae" stroke="#08089a"/>
<rect x="419.44" y="60.54" width="11.85" height="9.63" fill="#0909ad" stroke="#08089a"/>
<rect x="431.29" y="60.54" width="11.85" height="9.63" fill="#0909ab" stroke="#080899"/>
<rect x="443.14" y="60.54" width="11.84" height="9.63" fill="#0909aa" stroke="#080899"/>
<rect x="454.98" y="60.54" width="11.85" height="9.63" fill="#0909a9" stroke="#080898"/>
<rect x="466.83" y="60.54" width="11.84" height="9.63" fill="#0909a8" stroke="#080898"/>
<rect x="478.67" y="60.54" width="11.85" height="9.63" fill="#0909a7" stroke="#080897"/>
<rect x="490.52" y="60.54" width="11.84" height="9.63" fill="#0909a5" stroke="#080897"/>
<rect x="502.36" y="60.54" width="11.85" height="9.63" fill="#0909a4" stroke="#080896"/>
<rect x="514.21" y="60.54" width="11.84" height="9.63" fill="#0909a2" stroke="#080896"/>
<rect x="526.05" y="60.54" width="11.85" height="9.63" fill="#0909a1" stroke="#080895"/>
<rect x="537.89" y="60.54" width="11.85" height="9.63" fill="#0909a0" stroke="#080895"/>
<rect x="549.74" y="60.54" width="11.85" height="9.63" fill="#09099e" stroke="#080894"/>
<rect x="561.59" y="60.54" width="11.85" height="9.63" fill="#09099d" stroke="#080894"/>
<rect x="573.43" y="60.54" width="11.84" height="9.63" fill="#09099b" stroke="#080893"/>
<rect x="585.27" y="60.54" width="11.85" height="9.63" fill="#09099a" stroke="#080892"/>
<rect x="597.12" y="60.54" width="11.85" height="9.63" fill="#090998" stroke="#080890"/>
<rect x="608.97" y="60.54" width="11.85" height="9.63" fill="#090996" stroke="#08088f"/>
<rect x="620.81" y="60.54" width="11.85" height="9.63" fill="#090995" stroke="#08088d"/>
<rect x="632.66" y="60.54" width="11.84" height="9.63" fill="#090993" stroke="#08088c"/>
<rect x="644.50" y="60.54" width="11.85" height="9.63" fill="#090992" stroke="#08088b"/>
<rect x="656.35" y="60.54" width="11.85" height="9.63" fill="#090990" stroke="#080889"/>
<rect x="668.19" y="60.54" width="11.85" height="9.63" fill="#09098f" stroke="#080888"/>
<rect x="680.04" y="60.54" width="11.84" height="9.63" fill="#09098d" stroke="#080886"/>
<rect x="691.88" y="60.54" width="11.85" height="9.63" fill="#09098c" stroke="#080885"/>
<rect x="703.73" y="60.54" width="11.85" height="9.63" fill="#09098b" stroke="#080884"/>
<rect x="715.57" y="60.54" width="11.85" height="9.63" fill="#090989" stroke="#080882"/>
<rect x="727.42" y="60.54" width="11.84" height="9.63" fill="#090988" stroke="#080881"/>
<rect x="739.26" y="60.54" width="11.85" height="9.63" fill="#090987" stroke="#080880"/>
<rect x="751.11" y="60.54" width="11.85" height="9.63" fill="#090985" stroke="#08087f"/>
<rect x="762.95" y="60.54" width="11.85" height="9.63" fill="#090984" stroke="#08087e"/>
<rect x="774.80" y="60.54" width="11.84" height="9.63" fill="#090983" stroke="#08087c"/>
<rect x="786.64" y="60.54" width="11.85" height="9.63" fill="#090982" stroke="#08087b"/>
<rect x="798.49" y="60.54" width="11.85" height="9.63" fill="#090981" stroke="#08087a"/>
<rect x="810.33" y="60.54" width="11.85" height="9.63" fill="#090980" stroke="#080879"/>
<rect x="822.18" y="60.54" width="11.85" height="9.63" fill="#09097f" stroke="#080878"/>
<rect x="834.02" y="60.54" width="12.98" height="9.63" fill="#09097e" stroke="#080878"/>
<rect x="49.00" y="70.17" width="3.25" height="9.63" fill="#0909b3" stroke="#08089c"/>
<rect x="52.25" y="70.17" width="11.84" height="9.63" fill="#0909b2" stroke="#08089c"/>
<rect x="64.09" y="70.17" width="11.84" height="9.63" fill="#0909b2" stroke="#08089c"/>
<rect x="75.94" y="70.17" width="11.84" height="9.63" fill="#0909b2" stroke="#08089c"/>
<rect x="87.78" y="70.17" width="11.84" height="9.63" fill="#0909b3" stroke="#08089c"/>
<rect x="99.63" y="70.17" width="11.84" height="9.63" fill="#0909b5" stroke="#08089d"/>
<rect x="111.47" y="70.17" width="11.85" height="9.63" fill="#0909b6" stroke="#08089d"/>
<rect x="123.32" y="70.17" width="11.85" height="9.63" fill="#0909b7" stroke="#08089e"/>
<rect x="135.17" y="70.17" width="11.84" height="9.63" fill="#0909b8" stroke="#08089e"/>
<rect x="147.01" y="70.17" width="11.85" height="9.63" fill="#0909b9" stroke="#08089e"/>
<rect x="158.86" y="70.17" width="11.84" height="9.63" fill="#0909b9" stroke="#08089f"/>
<rect x="170.70" y="70.17" width="11.85" height="9.63" fill="#0909ba" stroke="#08089f"/>
<rect x="182.55" y="70.17" width="11.84" height="9.63" fill="#0909ba" stroke="#08089f"/>
<rect x="194.39" y="70.17" width="11.84" height="9.63" fill="#0909ba" stroke="#08089f"/>
<rect x="206.24" y="70.17" width="11.84" height="9.63" fill="#0909ba" stroke="#08089f"/>
<rect x="218.08" y="70.17" width="11.84" height="9.63" fill="#0909ba" stroke="#08089f"/>
<rect x="229.93" y="70.17" width="11.84" height="9.63" fill="#0909ba" stroke="#08089f"/>
<rect x="241.77" y="70.17" width="11.84" height="9.63" fill="#0909ba" stroke="#08089f"/>
<rect x="253.62" y="70.17" width="11.85" height="9.63" fill="#0909ba" stroke="#08089f"/>
<rect x="265.46" y="70.17" width="11.84" height="9.63" fill="#0909ba" stroke="#08089f"/>
<rect x="277.31" y="70.17" width="11.84" height="9.63" fill="#0909ba" stroke="#08089f"/>
<rect x="289.15" y="70.17" width="11.85" height="9.63" fill="#0909b9" stroke="#08089f"/>
<rect x="301.00" y="70.17" width="11.85" height="9.63" fill="#0909b9" stroke="#08089e"/>
<rect x="312.84" y="70.17" width="11.84" height="9.63" fill="#0909b8" stroke="#08089e"/>
<rect x="324.69" y="70.17" width="11.85" height="9.63" fill="#0909b7" stroke="#08089e"/>
<rect x="336.53" y="70.17" width="11.84" height="9.63" fill="#0909b6" stroke="#08089d"/>
<rect x="348.38" y="70.17" width="11.85" height="9.63" fill="#0909b5" stroke="#08089d"/>
<rect x="360.22" y="70.17" width="11.84" height="9.63" fill="#0909b4" stroke="#08089c"/>
<rect x="372.06" y="70.17" width="11.85" height="9.63" fill="#0909b3" stroke="#08089c"/>
<rect x="383.91" y="70.17" width="11.84" height="9.63" fill="#0909b2" stroke="#08089c"/>
<rect x="395.75" y="70.17" width="11.85" height="9.63" fill="#0909b1" stroke="#08089b"/>
<rect x="407.60" y="70.17" width="11.84" height="9.63" fill="#0909b0" stroke="#08089b"/>
<rect x="419.44" y="70.17" width="11.85" height="9.63" fill="#0909af" stroke="#08089b"/>
<rect x="431.29" y="70.17" width="11.85" height="9.63" fill="#0909ae" stroke="#08089a"/>
<rect x="443.14" y="70.17" width="11.84" height="9.63" fill="#0909ad" stroke="#08089a"/>
<rect x="454.98" y="70.17" width="11.85" height="9.63" fill="#0909ac" stroke="#080899"/>
<rect x="466.83" y="70.17" width="11.84" height="9.63" fill="#0909aa" stroke="#080899"/>
<rect x="478.67" y="70.17" width="11.85" height="9.63" fill="#0909a9" stroke="#080898"/>
<rect x="490.52" y="70.17" width="11.84" height="9.63" fill="#0909a8" stroke="#080898"/>
<rect x="502.36" y="70.17" width="11.85" height="9.63" fill="#0909a6" stroke="#080897"/>
<rect x="514.21" y="70.17" width="11.84" height="9.63" fill="#0909a5" stroke="#080897"/>
<rect x="526.05" y="70.17" width="11.85" height="9.63" fill="#0909a4" stroke="#080896"/>
<rect x="537.89" y="70.17" width="11.85" height="9.63" fill="#0909a2" stroke="#080896"/>
<rect x="549.74" y="70.17" width="11.85" height="9.63" fill="#0909a0" stroke="#080895"/>
<rect x="561.59" y="70.17" width="11.85" height="9.63" fill="#09099f" stroke="#080895"/>
<rect x="573.43" y="70.17" width="11.84" height="9.63" fill="#09099d" stroke="#080894"/>
<rect x="585.27" y="70.17" width="11.85" height="9.63" fill="#09099c" stroke="#080894"/>
<rect x="597.12" y="70.17" width="11.85" height="9.63" fill="#09099a" stroke="#080892"/>
<rect x="608.97" y="70.17" width="11.85" height="9.63" fill="#090998" stroke="#080891"/>
<rect x="620.81" y="70.17" width="11.85" height="9.63" fill="#090997" stroke="#08088f"/>
<rect x="632.66" y="70.17" width="11.84" height="9.63" fill="#090995" stroke="#08088e"/>
<rect x="644.50" y="70.17" width="11.85" height="9.63" fill="#090993" stroke="#08088c"/>
<rect x="656.35" y="70.17" width="11.85" height="9.63" fill="#090992" stroke="#08088b"/>
<rect x="668.19" y="70.17" width="11.85" height="9.63" fill="#090990" stroke="#080889"/>
<rect x="680.04" y="70.17" width="11.84" height="9.63" fill="#09098f" stroke="#080888"/>
<rect x="691.88" y="70.17" width="11.85" height="9.63" fill="#09098d" stroke="#080886"/>
<rect x="703.73" y="70.17" width="11.85" height="9.63" fill="#09098c" stroke="#080885"/>
<rect x="715.57" y="70.17" width="11.85" height="9.63" fill="#09098a" stroke="#080883"/>
<rect x="727.42" y="70.17" width="11.84" height="9.63" fill="#090989" stroke="#080882"/>
<rect x="739.26" y="70.17" width="11.85" height="9.63" fill="#090987" stroke="#080881"/>
<rect x="751.11" y="70.17" width="11.85" height="9.63" fill="#090986" stroke="#08087f"/>
<rect x="762.95" y="70.17" width="11.85" height="9.63" fill="#090985" stroke="#08087e"/>
<rect x="774.80" y="70.17" width="11.84" height="9.63" fill="#090984" stroke="#08087d"/>
<rect x="786.64" y="70.17" width="11.85" height="9.63" fill="#090982" stroke="#08087c"/>
<rect x="798.49" y="70.17" width="11.85" height="9.63" fill="#090981" stroke="#08087b"/>
<rect x="810.33" y="70.17" width="11.85" height="9.63" fill="#090980" stroke="#08087a"/>
<rect x="822.18" y="70.17" width="11.85" height="9.63" fill="#09097f" stroke="#080879"/>
<rect x="834.02" y="70.17" width="12.98" height="9.63" fill="#09097e" stroke="#080878"/>
<rect x="49.00" y="79.79" width="3.25" height="9.63" fill="#0909b4" stroke="#08089c"/>
<rect x="52.25" y="79.79" width="11.84" height="9.63" fill="#0909b2" stroke="#08089c"/>
<rect x="64.09" y="79.79" width="11.84" height="9.63" fill="#0909b2" stroke="#08089c"/>
<rect x="75.94" y="79.79" width="11.84" height="9.63" fill="#0909b2" stroke="#08089c"/>
<rect x="87.78" y="79.79" width="11.84" height="9.63" fill="#0909b4" stroke="#08089c"/>
<rect x="99.63" y="79.79" width="11.84" height="9.63" fill="#0909b5" stroke="#08089d"/>
<rect x="111.47" y="79.79" width="11.85" height="9.63" fill="#0909b7" stroke="#08089e"/>
<rect x="123.32" y="79.79" width="11.85" height="9.63" fill="#0909b9" stroke="#08089e"/>
<rect x="135.17" y="79.79" width="11.84" height="9.63" fill="#0909ba" stroke="#08089f"/>
<rect x="147.01" y="79.79" width="11.85" height="9.63" fill="#0909bb" stroke="#08089f"/>
<rect x="158.86" y="79.79" width="11.84" height="9.63" fill="#0909bb" stroke="#08089f"/>
<rect x="170.70" y="79.79" width="11.85" height="9.63" fill="#0909bb" stroke="#08089f"/>
<rect x="182.55" y="79.79" width="11.84" height="9.63" fill="#0909bb" stroke="#08089f"/>
<rect x="194.39" y="79.79" width="11.84" height="9.63" fill="#0909bb" stroke="#08089f"/>
<rect x="206.24" y="79.79" width="11.84" height="9.63" fill="#0909bb" stroke="#08089f"/>
<rect x="218.08" y="79.79" width="11.84" height="9.63" fill="#0909bb" stroke="#08089f"/>
<rect x="229.93" y="79.79" width="11.84" height="9.63" fill="#0909bc" stroke="#08089f"/>
<rect x="241.77" y="79.79" width="11.84" height="9.63" fill="#0909bc" stroke="#0808a0"/>
<rect x="253.62" y="79.79" width="11.85" height="9.63" fill="#0909bc" stroke="#0808a0"/>
<rect x="265.46" y="79.79" width="11.84" height="9.63" fill="#0909bc" stroke="#0808a0"/>
<rect x="277.31" y="79.79" width="11.84" height="9.63" fill="#0909bc" stroke="#0808a0"/>
<rect x="289.15" y="79.79" width="11.85" height="9.63" fill="#0909bc" stroke="#08089f"/>
<rect x="301.00" y="79.79" width="11.85" height="9.63" fill="#0909bb" stroke="#08089f"/>
<rect x="312.84" y="79.79" width="11.84" height="9.63" fill="#0909ba" stroke="#08089f"/>
<rect x="324.69" y="79.79" width="11.85" height="9.63" fill="#0909b9" stroke="#08089f"/>
<rect x="336.53" y="79.79" width="11.84" height="9.63" fill="#0909b8" stroke="#08089e"/>
<rect x="348.38" y="79.79" width="11.85" height="9.63" fill="#0909b7" stroke="#08089e"/>
<rect x="360.22" y="79.79" width="11.84" height="9.63" fill="#0909b6" stroke="#08089d"/>
<rect x="372.06" y="79.79" width="11.85" height="9.63" fill="#0909b6" stroke="#08089d"/>
<rect x="383.91" y="79.79" width="11.84" height="9.63" fill="#0909b5" stroke="#08089d"/>
<rect x="395.75" y="79.79" width="11.85" height="9.63" fill="#0909b4" stroke="#08089c"/>
<rect x="407.60" y="79.79" width="11.84" height="9.63" fill="#0909b3" stroke="#08089c"/>
<rect x="419.44" y="79.79" width="11.85" height="9.63" fill="#0909b2" stroke="#08089c"/>
<rect x="431.29" y="79.79" width="11.85" height="9.63" fill="#0909b1" stroke="#08089b"/>
<rect x="443.14" y="79.79" width="11.84" height="9.63" fill="#0909b0" stroke="#08089b"/>
<rect x="454.98" y="79.79" width="11.85" height="9.63" fill="#0909af" stroke="#08089b"/>
<rect x="466.83" y="79.79" width="11.84" height="9.63" fill="#0909ae" stroke="#08089a"/>
<rect x="478.67" y="79.79" width="11.85" height="9.63" fill="#0909ad" stroke="#08089a"/>
<rect x="490.52" y="79.79" width="11.84" height="9.63" fill="#0909ab" stroke="#080899"/>
<rect x="502.36" y="79.79" width="11.85" height="9.63" fill="#0909aa" stroke="#080899"/>
<rect x="514.21" y="79.79" width="11.84" height="9.63" fill="#0909a9" stroke="#080898"/>
<rect x="526.05" y="79.79" width="11.85" height="9.63" fill="#0909a7" stroke="#080897"/>
<rect x="537.89" y="79.79" width="11.85" height="9.63" fill="#0909a5" stroke="#080897"/>
<rect x="549.74" y="79.79" width="11.85" height="9.63" fill="#0909a4" stroke="#080896"/>
<rect x="561.59" y="79.79" width="11.85" height="9.63" fill="#0909a2" stroke="#080896"/>
<rect x="573.43" y="79.79" width="11.84" height="9.63" fill="#0909a0" stroke="#080895"/>
<rect x="585.27" y="79.79" width="11.85" height="9.63" fill="#09099f" stroke="#080894"/>
<rect x="597.12" y="79.79" width="11.85" height="9.63" fill="#09099d" stroke="#080894"/>
<rect x="608.97" y="79.79" width="11.85" height="9.63" fill="#09099b" stroke="#080893"/>
<rect x="620.81" y="79.79" width="11.85" height="9.63" fill="#090999" stroke="#080892"/>
<rect x="632.66" y="79.79" width="11.84" height="9.63" fill="#090998" stroke="#080890"/>
<rect x="644.50" y="79.79" width="11.85" height="9.63" fill="#090996" stroke="#08088e"/>
<rect x="656.35" y="79.79" width="11.85" height="9.63" fill="#090994" stroke="#08088d"/>
<rect x="668.19" y="79.79" width="11.85" height="9.63" fill="#090992" stroke="#08088b"/>
<rect x="680.04" y="79.79" width="11.84" height="9.63" fill="#090991" stroke="#080889"/>
<rect x="691.88" y="79.79" width="11.85" height="9.63" fill="#09098f" stroke="#080888"/>
<rect x="703.73" y="79.79" width="11.85" height="9.63" fill="#09098d" stroke="#080886"/>
<rect x="715.57" y="79.79" width="11.85" height="9.63" fill="#09098c" stroke="#080885"/>
<rect x="727.42" y="79.79" width="11.84" height="9.63" fill="#09098a" stroke="#080883"/>
<rect x="739.26" y="79.79" width="11.85" height="9.63" fill="#090989" stroke="#080882"/>
<rect x="751.11" y="79.79" width="11.85" height="9.63" fill="#090987" stroke="#080881"/>
<rect x="762.95" y="79.79" width="11.85" height="9.63" fill="#090986" stroke="#08087f"/>
<rect x="774.80" y="79.79" width="11.84" height="9.63" fill="#090985" stroke="#08087e"/>
<rect x="786.64" y="79.79" width="11.85" height="9.63" fill="#090983" stroke="#08087d"/>
<rect x="798.49" y="79.79" width="11.85" height="9.63" fill="#090982" stroke="#08087c"/>
<rect x="810.33" y="79.79" width="11.85" height="9.63" fill="#090981" stroke="#08087a"/>
<rect x="822.18" y="79.79" width="11.85" height="9.63" fill="#090980" stroke="#080879"/>
<rect x="834.02" y="79.79" width="12.98" height="9.63" fill="#09097f" stroke="#080878"/>
<rect x="49.00" y="89.42" width="3.25" height="9.63" fill="#0909b5" stroke="#08089d"/>
<rect x="52.25" y="89.42" width="11.84" height="9.63" fill="#0909b3" stroke="#08089c"/>
<rect x="64.09" y="89.42" width="11.84" height="9.63" fill="#0909b3" stroke="#08089c"/>
<rect x="75.94" y="89.42" width="11.84" height="9.63" fill="#0909b3" stroke="#08089c"/>
<rect x="87.78" y="89.42" width="11.84" height="9.63" fill="#0909b5" stroke="#08089d"/>
<rect x="99.63" y="89.42" width="11.84" height="9.63" fill="#0909b7" stroke="#08089e"/>
<rect x="111.47" y="89.42" width="11.85" height="9.63" fill="#0909b9" stroke="#08089f"/>
<rect x="123.32" y="89.42" width="11.85" height="9.63" fill="#0909bb" stroke="#08089f"/>
<rect x="135.17" y="89.42" width="11.84" height="9.63" fill="#0909bd" stroke="#0808a0"/>
<rect x="147.01" y="89.42" width="11.85" height="9.63" fill="#0909be" stroke="#0808a0"/>
<rect x="158.86" y="89.42" width="11.84" height="9.63" fill="#0909be" stroke="#0808a0"/>
<rect x="170.70" y="89.42" width="11.85" height="9.63" fill="#0909be" stroke="#0808a0"/>
<rect x="182.55" y="89.42" width="11.84" height="9.63" fill="#0909be" stroke="#0808a0"/>
<rect x="194.39" y="89.42" width="11.84" height="9.63" fill="#0909be" stroke="#0808a0"/>
<rect x="206.24" y="89.42" width="11.84" height="9.63" fill="#0909be" stroke="#0808a0"/>
<rect x="218.08" y="89.42" width="11.84" height="9.63" fill="#0909be" stroke="#0808a0"/>
<rect x="229.93" y="89.42" width="11.84" height="9.63" fill="#0909bf" stroke="#0808a1"/>
<rect x="241.77" y="89.42" width="11.84" height="9.63" fill="#0909bf" stroke="#0808a1"/>
<rect x="253.62" y="89.42" width="11.85" height="9.63" fill="#0909c0" stroke="#0707a1"/>
<rect x="265.46" y="89.42" width="11.84" height="9.63" fill="#0909c0" stroke="#0707a1"/>
<rect x="277.31" y="89.42" width="11.84" height="9.63" fill="#0909c0" stroke="#0707a1"/>
<rect x="289.15" y="89.42" width="11.85" height="9.63" fill="#0909bf" stroke="#0707a1"/>
<rect x="301.00" y="89.42" width="11.85" height="9.63" fill="#0909bf" stroke="#0808a1"/>
<rect x="312.84" y="89.42" width="11.84" height="9.63" fill="#0909be" stroke="#0808a0"/>
<rect x="324.69" y="89.42" width="11.85" height="9.63" fill="#0909bd" stroke="#0808a0"/>
<rect x="336.53" y="89.42" width="11.84" height="9.63" fill="#0909bc" stroke="#0808a0"/>
<rect x="348.38" y="89.42" width="11.85" height="9.63" fill="#0909bb" stroke="#08089f"/>
<rect x="360.22" y="89.42" width="11.84" height="9.63" fill="#0909ba" stroke="#08089f"/>
<rect x="372.06" y="89.42" width="11.85" height="9.63" fill="#0909ba" stroke="#08089f"/>
<rect x="383.91" y="89.42" width="11.84" height="9.63" fill="#0909b9" stroke="#08089e"/>
<rect x="395.75" y="89.42" width="11.85" height="9.63" fill="#0909b8" stroke="#08089e"/>
<rect x="407.60" y="89.42" width="11.84" height="9.63" fill="#0909b7" stroke="#08089e"/>
<rect x="419.44" y="89.42" width="11.85" height="9.63" fill="#0909b7" stroke="#08089e"/>
<rect x="431.29" y="89.42" width="11.85" height="9.63" fill="#0909b6" stroke="#08089d"/>
<rect x="443.14" y="89.42" width="11.84" height="9.63" fill="#0909b5" stroke="#08089d"/>
<rect x="454.98" y="89.42" width="11.85" height="9.63" fill="#0909b4" stroke="#08089d"/>
<rect x="466.83" y="89.42" width="11.84" height="9.63" fill="#0909b3" stroke="#08089c"/>
<rect x="478.67" y="89.42" width="11.85" height="9.63" fill="#0909b2" stroke="#08089c"/>
<rect x="490.52" y="89.42" width="11.84" height="9.63" fill="#0909b0" stroke="#08089b"/>
<rect x="502.36" y="89.42" width="11.85" height="9.63" fill="#0909af" stroke="#08089b"/>
<rect x="514.21" y="89.42" width="11.84" height="9.63" fill="#0909ae" stroke="#08089a"/>
<rect x="526.05" y="89.42" width="11.85" height="9.63" fill="#0909ac" stroke="#080899"/>
<rect x="537.89" y="89.42" width="11.85" height="9.63" fill="#0909aa" stroke="#080899"/>
<rect x="549.74" y="89.42" width="11.85" height="9.63" fill="#0909a8" stroke="#080898"/>
<rect x="561.59" y="89.42" width="11.85" height="9.63" fill="#0909a7" stroke="#080897"/>
<rect x="573.43" y="89.42" width="11.84" height="9.63" fill="#0909a5" stroke="#080897"/>
<rect x="585.27" y="89.42" width="11.85" height="9.63" fill="#0909a3" stroke="#080896"/>
<rect x="597.12" y="89.42" width="11.85" height="9.63" fill="#0909a1" stroke="#080895"/>
<rect x="608.97" y="89.42" width="11.85" height="9.63" fill="#09099f" stroke="#080895"/>
<rect x="620.81" y="89.42" width="11.85" height="9.63" fill="#09099d" stroke="#080894"/>
<rect x="632.66" y="89.42" width="11.84" height="9.63" fill="#09099b" stroke="#080893"/>
<rect x="644.50" y="89.42" width="11.85" height="9.63" fill="#090999" stroke="#080892"/>
<rect x="656.35" y="89.42" width="11.85" height="9.63" fill="#090997" stroke="#080890"/>
<rect x="668.19" y="89.42" width="11.85" height="9.63" fill="#090995" stroke="#08088e"/>
<rect x="680.04" y="89.42" width="11.84" height="9.63" fill="#090994" stroke="#08088c"/>
<rect x="691.88" y="89.42" width="11.85" height="9.63" fill="#090992" stroke="#08088b"/>
<rect x="703.73" y="89.42" width="11.85" height="9.63" fill="#090990" stroke="#080889"/>
<rect x="715.57" y="89.42" width="11.85" height="9.63" fill="#09098e" stroke="#080887"/>
<rect x="727.42" y="89.42" width="11.84" height="9.63" fill="#09098d" stroke="#080886"/>
<rect x="739.26" y="89.42" width="11.85" height="9.63" fill="#09098b" stroke="#080884"/>
<rect x="751.11" y="89.42" width="11.85" height="9.63" fill="#090989" stroke="#080882"/>
<rect x="762.95" y="89.42" width="11.85" height="9.63" fill="#090988" stroke="#080881"/>
<rect x="774.80" y="89.42" width="11.84" height="9.63" fill="#090986" stroke="#08087f"/>
<rect x="786.64" y="89.42" width="11.85" height="9.63" fill="#090985" stroke="#08087e"/>
<rect x="798.49" y="89.42" width="11.85" height="9.63" fill="#090983" stroke="#08087d"/>
<rect x="810.33" y="89.42" width="11.85" height="9.63" fill="#090982" stroke="#08087c"/>
<rect x="822.18" y="89.42" width="11.85" height="9.63" fill="#090981" stroke="#08087a"/>
<rect x="834.02" y="89.42" width="12.98" height="9.63" fill="#090980" stroke="#080879"/>
<rect x="49.00" y="99.05" width="3.25" height="9.63" fill="#0909b8" stroke="#08089e"/>
<rect x="52.25" y="99.05" width="11.84" height="9.63" fill="#0909b6" stroke="#08089d"/>
<rect x="64.09" y="99.05" width="11.84" height="9.63" fill="#0909b5" stroke="#08089d"/>
<rect x="75.94" y="99.05" width="11.84" height="9.63" fill="#0909b7" stroke="#08089e"/>
<rect x="87.78" y="99.05" width="11.84" height="9.63" fill="#0909b9" stroke="#08089e"/>
<rect x="99.63" y="99.05" width="11.84" height="9.63" fill="#0909bb" stroke="#08089f"/>
<rect x="111.47" y="99.05" width="11.85" height="9.63" fill="#0909be" stroke="#0808a0"/>
<rect x="123.32" y="99.05" width="11.85" height="9.63" fill="#0909c0" stroke="#0707a1"/>
<rect x="135.17" y="99.05" width="11.84" height="9.63" fill="#0909c2" stroke="#0707a2"/>
<rect x="147.01" y="99.05" width="11.85" height="9.63" fill="#0909c3" stroke="#0707a2"/>
<rect x="158.86" y="99.05" width="11.84" height="9.63" fill="#0909c4" stroke="#0707a2"/>
<rect x="170.70" y="99.05" width="11.85" height="9.63" fill="#0909c4" stroke="#0707a2"/>
<rect x="182.55" y="99.05" width="11.84" height="9.63" fill="#0909c4" stroke="#0707a2"/>
<rect x="194.39" y="99.05" width="11.84" height="9.63" fill="#0909c4" stroke="#0707a2"/>
<rect x="206.24" y="99.05" width="11.84" height="9.63" fill="#0909c4" stroke="#0707a2"/>
<rect x="218.08" y="99.05" width="11.84" height="9.63" fill="#0909c4" stroke="#0707a2"/>
<rect x="229.93" y="99.05" width="11.84" height="9.63" fill="#0909c4" stroke="#0707a3"/>
<rect x="241.77" y="99.05" width="11.84" height="9.63" fill="#0909c5" stroke="#0707a3"/>
<rect x="253.62" y="99.05" width="11.85" height="9.63" fill="#0909c5" stroke="#0707a3"/>
<rect x="265.46" y="99.05" width="11.84" height="9.63" fill="#0909c6" stroke="#0707a3"/>
<rect x="277.31" y="99.05" width="11.84" height="9.63" fill="#0909c6" stroke="#0707a3"/>
<rect x="289.15" y="99.05" width="11.85" height="9.63" fill="#0909c5" stroke="#0707a3"/>
<rect x="301.00" y="99.05" width="11.85" height="9.63" fill="#0909c5" stroke="#0707a3"/>
<rect x="312.84" y="99.05" width="11.84" height="9.63" fill="#0909c4" stroke="#0707a2"/>
<rect x="324.69" y="99.05" width="11.85" height="9.63" fill="#0909c3" stroke="#0707a2"/>
<rect x="336.53" y="99.05" width="11.84" height="9.63" fill="#0909c2" stroke="#0707a2"/>
<rect x="348.38" y="99.05" width="11.85" height="9.63" fill="#0909c1" stroke="#0707a1"/>
<rect x="360.22" y="99.05" width="11.84" height="9.63" fill="#0909c0" stroke="#0707a1"/>
<rect x="372.06" y="99.05" width="11.85" height="9.63" fill="#0909c0" stroke="#0707a1"/>
<rect x="383.91" y="99.05" width="11.84" height="9.63" fill="#0909bf" stroke="#0808a1"/>
<rect x="395.75" y="99.05" width="11.85" height="9.63" fill="#0909be" stroke="#0808a0"/>
<rect x="407.60" y="99.05" width="11.84" height="9.63" fill="#0909be" stroke="#0808a0"/>
<rect x="419.44" y="99.05" width="11.85" height="9.63" fill="#0909bd" stroke="#0808a0"/>
<rect x="431.29" y="99.05" width="11.85" height="9.63" fill="#0909bd" stroke="#0808a0"/>
<rect x="443.14" y="99.05" width="11.84" height="9.63" fill="#0909bc" stroke="#0808a0"/>
<rect x="454.98" y="99.05" width="11.85" height="9.63" fill="#0909bb" stroke="#08089f"/>
<rect x="466.83" y="99.05" width="11.84" height="9.63" fill="#0909ba" stroke="#08089f"/>
<rect x="478.67" y="99.05" width="11.85" height="9.63" fill="#0909b9" stroke="#08089e"/>
<rect x="490.52" y="99.05" width="11.84" height="9.63" fill="#0909b8" stroke="#08089e"/>
<rect x="502.36" y="99.05" width="11.85" height="9.63" fill="#0909b6" stroke="#08089d"/>
<rect x="514.21" y="99.05" width="11.84" height="9.63" fill="#0909b5" stroke="#08089d"/>
<rect x="526.05" y="99.05" width="11.85" height="9.63" fill="#0909b3" stroke="#08089c"/>
<rect x="537.89" y="99.05" width="11.85" height="9.63" fill="#0909b1" stroke="#08089b"/>
<rect x="549.74" y="99.05" width="11.85" height="9.63" fill="#0909af" stroke="#08089b"/>
<rect x="561.59" y="99.05" width="11.85" height="9.63" fill="#0909ad" stroke="#08089a"/>
<rect x="573.43" y="99.05" width="11.84" height="9.63" fill="#0909ab" stroke="#080899"/>
<rect x="585.27" y="99.05" width="11.85" height="9.63" fill="#0909a9" stroke="#080898"/>
<rect x="597.12" y="99.05" width="11.85" height="9.63" fill="#0909a7" stroke="#080897"/>
<rect x="608.97" y="99.05" width="11.85" height="9.63" fill="#0909a5" stroke="#080896"/>
<rect x="620.81" y="99.05" width="11.85" height="9.63" fill="#0909a2" stroke="#080896"/>
<rect x="632.66" y="99.05" width="11.84" height="9.63" fill="#0909a0" stroke="#080895"/>
<rect x="644.50" y="99.05" width="11.85" height="9.63" fill="#09099e" stroke="#080894"/>
<rect x="656.35" y="99.05" width="11.85" height="9.63" fill="#09099c" stroke="#080894"/>
<rect x="668.19" y="99.05" width="11.85" height="9.63" fill="#09099a" stroke="#080892"/>
<rect x="680.04" y="99.05" width="11.84" height="9.63" fill="#090998" stroke="#080890"/>
<rect x="691.88" y="99.05" width="11.85" height="9.63" fill="#090996" stroke="#08088e"/>
<rect x="703.73" y="99.05" width="11.85" height="9.63" fill="#090994" stroke="#08088c"/>
<rect x="715.57" y="99.05" width="11.85" height="9.63" fill="#090992" stroke="#08088a"/>
<rect x="727.42" y="99.05" width="11.84" height="9.63" fill="#090990" stroke="#080888"/>
<rect x="739.26" y="99.05" width="11.85" height="9.63" fill="#09098e" stroke="#080887"/>
<rect x="751.11" y="99.05" width="11.85" height="9.63" fill="#09098c" stroke="#080885"/>
<rect x="762.95" y="99.05" width="11.85" height="9.63" fill="#09098a" stroke="#080883"/>
<rect x="774.80" y="99.05" width="11.84" height="9.63" fill="#090988" stroke="#080882"/>
<rect x="786.64" y="99.05" width="11.85" height="9.63" fill="#090987" stroke="#080880"/>
<rect x="798.49" y="99.05" width="11.85" height="9.63" fill="#090985" stroke="#08087f"/>
<rect x="810.33" y="99.05" width="11.85" height="9.63" fill="#090984" stroke="#08087d"/>
<rect x="822.18" y="99.05" width="11.85" height="9.63" fill="#090982" stroke="#08087c"/>
<rect x="834.02" y="99.05" width="12.98" height="9.63" fill="#090981" stroke="#08087b"/>
<rect x="49.00" y="108.67" width="3.25" height="9.63" fill="#0909be" stroke="#0808a0"/>
<rect x="52.25" y="108.67" width="11.84" height="9.63" fill="#0909bc" stroke="#0808a0"/>
<rect x="64.09" y="108.67" width="11.84" height="9.63" fill="#0909bc" stroke="#08089f"/>
<rect x="75.94" y="108.67" width="11.84" height="9.63" fill="#0909bd" stroke="#0808a0"/>
<rect x="87.78" y="108.67" width="11.84" height="9.63" fill="#0909c0" stroke="#0707a1"/>
<rect x="99.63" y="108.67" width="11.84" height="9.63" fill="#0909c3" stroke="#0707a2"/>
<rect x="111.47" y="108.67" width="11.85" height="9.63" fill="#0909c7" stroke="#0707a3"/>
<rect x="123.32" y="108.67" width="11.85" height="9.63" fill="#0909ca" stroke="#0707a4"/>
<rect x="135.17" y="108.67" width="11.84" height="9.63" fill="#0909cc" stroke="#0707a5"/>
<rect x="147.01" y="108.67" width="11.85" height="9.63" fill="#0909cd" stroke="#0707a6"/>
<rect x="158.86" y="108.67" width="11.84" height="9.63" fill="#0909ce" stroke="#0707a6"/>
<rect x="170.70" y="108.67" width="11.85" height="9.63" fill="#0909ce" stroke="#0707a6"/>
<rect x="182.55" y="108.67" width="11.84" height="9.63" fill="#0909cd" stroke="#0707a6"/>
<rect x="194.39" y="108.67" width="11.84" height="9.63" fill="#0909cd" stroke="#0707a6"/>
<rect x="206.24" y="108.67" width="11.84" height="9.63" fill="#0909cd" stroke="#0707a6"/>
<rect x="218.08" y="108.67" width="11.84" height="9.63" fill="#0909cd" stroke="#0707a6"/>
<rect x="229.93" y="108.67" width="11.84" height="9.63" fill="#0909ce" stroke="#0707a6"/>
<rect x="241.77" y="108.67" width="11.84" height="9.63" fill="#0909ce" stroke="#0707a6"/>
<rect x="253.62" y="108.67" width="11.85" height="9.63" fill="#0909cf" stroke="#0707a6"/>
<rect x="265.46" y="108.67" width="11.84" height="9.63" fill="#0909cf" stroke="#0707a6"/>
<rect x="277.31" y="108.67" width="11.84" height="9.63" fill="#0909cf" stroke="#0707a6"/>
<rect x="289.15" y="108.67" width="11.85" height="9.63" fill="#0909cf" stroke="#0707a6"/>
<rect x="301.00" y="108.67" width="11.85" height="9.63" fill="#0909ce" stroke="#0707a6"/>
<rect x="312.84" y="108.67" width="11.84" height="9.63" fill="#0909cd" stroke="#0707a6"/>
<rect x="324.69" y="108.67" width="11.85" height="9.63" fill="#0909cc" stroke="#0707a5"/>
<rect x="336.53" y="108.67" width="11.84" height="9.63" fill="#0909cb" stroke="#0707a5"/>
<rect x="348.38" y="108.67" width="11.85" height="9.63" fill="#0909ca" stroke="#0707a4"/>
<rect x="360.22" y="108.67" width="11.84" height="9.63" fill="#0909c9" stroke="#0707a4"/>
<rect x="372.06" y="108.67" width="11.85" height="9.63" fill="#0909c8" stroke="#0707a4"/>
<rect x="383.91" y="108.67" width="11.84" height="9.63" fill="#0909c8" stroke="#0707a4"/>
<rect x="395.75" y="108.67" width="11.85" height="9.63" fill="#0909c7" stroke="#0707a4"/>
<rect x="407.60" y="108.67" width="11.84" height="9.63" fill="#0909c7" stroke="#0707a4"/>
<rect x="419.44" y="108.67" width="11.85" height="9.63" fill="#0909c6" stroke="#0707a3"/>
<rect x="431.29" y="108.67" width="11.85" height="9.63" fill="#0909c6" stroke="#0707a3"/>
<rect x="443.14" y="108.67" width="11.84" height="9.63" fill="#0909c5" stroke="#0707a3"/>
<rect x="454.98" y="108.67" width="11.85" height="9.63" fill="#0909c5" stroke="#0707a3"/>
<rect x="466.83" y="108.67" width="11.84" height="9.63" fill="#0909c4" stroke="#0707a2"/>
<rect x="478.67" y="108.67" width="11.85" height="9.63" fill="#0909c2" stroke="#0707a2"/>
<rect x="490.52" y="108.67" width="11.84" height="9.63" fill="#0909c1" stroke="#0707a1"/>
<rect x="502.36" y="108.67" width="11.85" height="9.63" fill="#0909bf" stroke="#0808a1"/>
<rect x="514.21" y="108.67" width="11.84" height="9.63" fill="#0909be" stroke="#0808a0"/>
<rect x="526.05" y="108.67" width="11.85" height="9.63" fill="#0909bc" stroke="#08089f"/>
<rect x="537.89" y="108.67" width="11.85" height="9.63" fill="#0909ba" stroke="#08089f"/>
<rect x="549.74" y="108.67" width="11.85" height="9.63" fill="#0909b8" stroke="#08089e"/>
<rect x="561.59" y="108.67" width="11.85" height="9.63" fill="#0909b5" stroke="#08089d"/>
<rect x="573.43" y="108.67" width="11.84" height="9.63" fill="#0909b3" stroke="#08089c"/>
<rect x="585.27" y="108.67" width="11.85" height="9.63" fill="#0909b1" stroke="#08089b"/>
<rect x="597.12" y="108.67" width="11.85" height="9.63" fill="#0909ae" stroke="#08089a"/>
<rect x="608.97" y="108.67" width="11.85" height="9.63" fill="#0909ac" stroke="#080899"/>
<rect x="620.81" y="108.67" width="11.85" height="9.63" fill="#0909a9" stroke="#080898"/>
<rect x="632.66" y="108.67" width="11.84" height="9.63" fill="#0909a7" stroke="#080897"/>
<rect x="644.50" y="108.67" width="11.85" height="9.63" fill="#0909a4" stroke="#080896"/>
<rect x="656.35" y="108.67" width="11.85" height="9.63" fill="#0909a2" stroke="#080895"/>
<rect x="668.19" y="108.67" width="11.85" height="9.63" fill="#09099f" stroke="#080895"/>
<rect x="680.04" y="108.67" width="11.84" height="9.63" fill="#09099d" stroke="#080894"/>
<rect x="691.88" y="108.67" width="11.85" height="9.63" fill="#09099a" stroke="#080893"/>
<rect x="703.73" y="108.67" width="11.85" height="9.63" fill="#090998" stroke="#080890"/>
<rect x="715.57" y="108.67" width="11.85" height="9.63" fill="#090996" stroke="#08088e"/>
<rect x="727.42" y="108.67" width="11.84" height="9.63" fill="#090994" stroke="#08088c"/>
<rect x="739.26" y="108.67" width="11.85" height="9.63" fill="#090991" stroke="#08088a"/>
<rect x="751.11" y="108.67" width="11.85" height="9.63" fill="#09098f" stroke="#080888"/>
<rect x="762.95" y="108.67" width="11.85" height="9.63" fill="#09098d" stroke="#080886"/>
<rect x="774.80" y="108.67" width="11.84" height="9.63" fill="#09098b" stroke="#080884"/>
<rect x="786.64" y="108.67" width="11.85" height="9.63" fill="#09098a" stroke="#080883"/>
<rect x="798.49" y="108.67" width="11.85" height="9.63" fill="#090988" stroke="#080881"/>
<rect x="810.33" y="108.67" width="11.85" height="9.63" fill="#090986" stroke="#080880"/>
<rect x="822.18" y="108.67" width="11.85" height="9.63" fill="#090985" stroke="#08087e"/>
<rect x="834.02" y="108.67" width="12.98" height="9.63" fill="#090983" stroke="#08087d"/>
<rect x="49.00" y="118.30" width="3.25" height="9.63" fill="#0909c8" stroke="#0707a4"/>
<rect x="52.25" y="118.30" width="11.84" height="9.63" fill="#0909c6" stroke="#0707a3"/>
<rect x="64.09" y="118.30" width="11.84" height="9.63" fill="#0909c6" stroke="#0707a3"/>
<rect x="75.94" y="118.30" width="11.84" height="9.63" fill="#0909c8" stroke="#0707a4"/>
<rect x="87.78" y="118.30" width="11.84" height="9.63" fill="#0909cc" stroke="#0707a5"/>
<rect x="99.63" y="118.30" width="11.84" height="9.63" fill="#0909d0" stroke="#0707a7"/>
<rect x="111.47" y="118.30" width="11.85" height="9.63" fill="#0909d4" stroke="#0707a8"/>
<rect x="123.32" y="118.30" width="11.85" height="9.63" fill="#0909d8" stroke="#0707a9"/>
<rect x="135.17" y="118.30" width="11.84" height="9.63" fill="#0909da" stroke="#0707aa"/>
<rect x="147.01" y="118.30" width="11.85" height="9.63" fill="#0909dc" stroke="#0707aa"/>
<rect x="158.86" y="118.30" width="11.84" height="9.63" fill="#0909dc" stroke="#0707aa"/>
<rect x="170.70" y="118.30" width="11.85" height="9.63" fill="#0909dc" stroke="#0707aa"/>
<rect x="182.55" y="118.30" width="11.84" height="9.63" fill="#0909dc" stroke="#0707aa"/>
<rect x="194.39" y="118.30" width="11.84" height="9.63" fill="#0909db" stroke="#0707aa"/>
<rect x="206.24" y="118.30" width="11.84" height="9.63" fill="#0909db" stroke="#0707aa"/>
<rect x="218.08" y="118.30" width="11.84" height="9.63" fill="#0909db" stroke="#0707aa"/>
<rect x="229.93" y="118.30" width="11.84" height="9.63" fill="#0909db" stroke="#0707aa"/>
<rect x="241.77" y="118.30" width="11.84" height="9.63" fill="#0909dc" stroke="#0707aa"/>
<rect x="253.62" y="118.30" width="11.85" height="9.63" fill="#0909dc" stroke="#0707aa"/>
<rect x="265.46" y="118.30" width="11.84" height="9.63" fill="#0909dc" stroke="#0707aa"/>
<rect x="277.31" y="118.30" width="11.84" height="9.63" fill="#0909dc" stroke="#0707aa"/>
<rect x="289.15" y="118.30" width="11.85" height="9.63" fill="#0909db" stroke="#0707aa"/>
<rect x="301.00" y="118.30" width="11.85" height="9.63" fill="#0909da" stroke="#0707aa"/>
<rect x="312.84" y="118.30" width="11.84" height="9.63" fill="#0909d9" stroke="#0707a9"/>
<rect x="324.69" y="118.30" width="11.85" height="9.63" fill="#0909d7" stroke="#0707a9"/>
<rect x="336.53" y="118.30" width="11.84" height="9.63" fill="#0909d6" stroke="#0707a8"/>
<rect x="348.38" y="118.30" width="11.85" height="9.63" fill="#0909d4" stroke="#0707a8"/>
<rect x="360.22" y="118.30" width="11.84" height="9.63" fill="#0909d3" stroke="#0707a8"/>
<rect x="372.06" y="118.30" width="11.85" height="9.63" fill="#0909d3" stroke="#0707a8"/>
<rect x="383.91" y="118.30" width="11.84" height="9.63" fill="#0909d2" stroke="#0707a7"/>
<rect x="395.75" y="118.30" width="11.85" height="9.63" fill="#0909d2" stroke="#0707a7"/>
<rect x="407.60" y="118.30" width="11.84" height="9.63" fill="#0909d2" stroke="#0707a7"/>
<rect x="419.44" y="118.30" width="11.85" height="9.63" fill="#0909d1" stroke="#0707a7"/>
<rect x="431.29" y="118.30" width="11.85" height="9.63" fill="#0909d1" stroke="#0707a7"/>
<rect x="443.14" y="118.30" width="11.84" height="9.63" fill="#0909d0" stroke="#0707a7"/>
<rect x="454.98" y="118.30" width="11.85" height="9.63" fill="#0909d0" stroke="#0707a6"/>
<rect x="466.83" y="118.30" width="11.84" height="9.63" fill="#0909cf" stroke="#0707a6"/>
<rect x="478.67" y="118.30" width="11.85" height="9.63" fill="#0909cd" stroke="#0707a6"/>
<rect x="490.52" y="118.30" width="11.84" height="9.63" fill="#0909cc" stroke="#0707a5"/>
<rect x="502.36" y="118.30" width="11.85" height="9.63" fill="#0909ca" stroke="#0707a5"/>
<rect x="514.21" y="118.30" width="11.84" height="9.63" fill="#0909c8" stroke="#0707a4"/>
<rect x="526.05" y="118.30" width="11.85" height="9.63" fill="#0909c6" stroke="#0707a3"/>
<rect x="537.89" y="118.30" width="11.85" height="9.63" fill="#0909c4" stroke="#0707a2"/>
<rect x="549.74" y="118.30" width="11.85" height="9.63" fill="#0909c1" stroke="#0707a2"/>
<rect x="561.59" y="118.30" width="11.85" height="9.63" fill="#0909bf" stroke="#0808a1"/>
<rect x="573.43" y="118.30" width="11.84" height="9.63" fill="#0909bc" stroke="#0808a0"/>
<rect x="585.27" y="118.30" width="11.85" height="9.63" fill="#0909b9" stroke="#08089f"/>
<rect x="597.12" y="118.30" width="11.85" height="9.63" fill="#0909b7" stroke="#08089d"/>
<rect x="608.97" y="118.30" width="11.85" height="9.63" fill="#0909b4" stroke="#08089c"/>
<rect x="620.81" y="118.30" width="11.85" height="9.63" fill="#0909b1" stroke="#08089b"/>
<rect x="632.66" y="118.30" width="11.84" height="9.63" fill="#0909ae" stroke="#08089a"/>
<rect x="644.50" y="118.30" width="11.85" height="9.63" fill="#0909ab" stroke="#080899"/>
<rect x="656.35" y="118.30" width="11.85" height="9.63" fill="#0909a8" stroke="#080898"/>
<rect x="668.19" y="118.30" width="11.85" height="9.63" fill="#0909a5" stroke="#080897"/>
<rect x="680.04" y="118.30" width="11.84" height="9.63" fill="#0909a3" stroke="#080896"/>
<rect x="691.88" y="118.30" width="11.85" height="9.63" fill="#0909a0" stroke="#080895"/>
<rect x="703.73" y="118.30" width="11.85" height="9.63" fill="#09099d" stroke="#080894"/>
<rect x="715.57" y="118.30" width="11.85" height="9.63" fill="#09099b" stroke="#080893"/>
<rect x="727.42" y="118.30" width="11.84" height="9.63" fill="#090998" stroke="#080891"/>
<rect x="739.26" y="118.30" width="11.85" height="9.63" fill="#090996" stroke="#08088e"/>
<rect x="751.11" y="118.30" width="11.85" height="9.63" fill="#090993" stroke="#08088c"/>
<rect x="762.95" y="118.30" width="11.85" height="9.63" fill="#090991" stroke="#08088a"/>
<rect x="774.80" y="118.30" width="11.84" height="9.63" fill="#09098f" stroke="#080888"/>
<rect x="786.64" y="118.30" width="11.85" height="9.63" fill="#09098d" stroke="#080886"/>
<rect x="798.49" y="118.30" width="11.85" height="9.63" fill="#09098b" stroke="#080884"/>
<rect x="810.33" y="118.30" width="11.85" height="9.63" fill="#090989" stroke="#080882"/>
<rect x="822.18" y="118.30" width="11.85" height="9.63" fill="#090987" stroke="#080880"/>
<rect x="834.02" y="118.30" width="12.98" height="9.63" fill="#090985" stroke="#08087f"/>
<rect x="49.00" y="127.93" width="3.25" height="9.63" fill="#0909d6" stroke="#0707a9"/>
<rect x="52.25" y="127.93" width="11.84" height="9.63" fill="#0909d4" stroke="#0707a8"/>
<rect x="64.09" y="127.93" width="11.84" height="9.63" fill="#0909d5" stroke="#0707a8"/>
<rect x="75.94" y="127.93" width="11.84" height="9.63" fill="#0909d8" stroke="#0707a9"/>
<rect x="87.78" y="127.93" width="11.84" height="9.63" fill="#0909dc" stroke="#0707aa"/>
<rect x="99.63" y="127.93" width="11.84" height="9.63" fill="#0909e2" stroke="#0707ac"/>
<rect x="111.47" y="127.93" width="11.85" height="9.63" fill="#0909e7" stroke="#0707ad"/>
<rect x="123.32" y="127.93" width="11.85" height="9.63" fill="#0909eb" stroke="#0707ae"/>
<rect x="135.17" y="127.93" width="11.84" height="9.63" fill="#0909ee" stroke="#0707af"/>
<rect x="147.01" y="127.93" width="11.85" height="9.63" fill="#0909ef" stroke="#0707af"/>
<rect x="158.86" y="127.93" width="11.84" height="9.63" fill="#0909f0" stroke="#0707b0"/>
<rect x="170.70" y="127.93" width="11.85" height="9.63" fill="#0909ef" stroke="#0707af"/>
<rect x="182.55" y="127.93" width="11.84" height="9.63" fill="#0909ef" stroke="#0707af"/>
<rect x="194.39" y="127.93" width="11.84" height="9.63" fill="#0909ee" stroke="#0707af"/>
<rect x="206.24" y="127.93" width="11.84" height="9.63" fill="#0909ed" stroke="#0707af"/>
<rect x="218.08" y="127.93" width="11.84" height="9.63" fill="#0909ed" stroke="#0707af"/>
<rect x="229.93" y="127.93" width="11.84" height="9.63" fill="#0909ed" stroke="#0707af"/>
<rect x="241.77" y="127.93" width="11.84" height="9.63" fill="#0909ed" stroke="#0707af"/>
<rect x="253.62" y="127.93" width="11.85" height="9.63" fill="#0909ed" stroke="#0707af"/>
<rect x="265.46" y="127.93" width="11.84" height="9.63" fill="#0909ec" stroke="#0707af"/>
<rect x="277.31" y="127.93" width="11.84" height="9.63" fill="#0909eb" stroke="#0707ae"/>
<rect x="289.15" y="127.93" width="11.85" height="9.63" fill="#0909ea" stroke="#0707ae"/>
<rect x="301.00" y="127.93" width="11.85" height="9.63" fill="#0909e8" stroke="#0707ae"/>
<rect x="312.84" y="127.93" width="11.84" height="9.63" fill="#0909e6" stroke="#0707ad"/>
<rect x="324.69" y="127.93" width="11.85" height="9.63" fill="#0909e4" stroke="#0707ad"/>
<rect x="336.53" y="127.93" width="11.84" height="9.63" fill="#0909e2" stroke="#0707ac"/>
<rect x="348.38" y="127.93" width="11.85" height="9.63" fill="#0909e0" stroke="#0707ac"/>
<rect x="360.22" y="127.93" width="11.84" height="9.63" fill="#0909df" stroke="#0707ab"/>
<rect x="372.06" y="127.93" width="11.85" height="9.63" fill="#0909de" stroke="#0707ab"/>
<rect x="383.91" y="127.93" width="11.84" height="9.63" fill="#0909de" stroke="#0707ab"/>
<rect x="395.75" y="127.93" width="11.85" height="9.63" fill="#0909dd" stroke="#0707ab"/>
<rect x="407.60" y="127.93" width="11.84" height="9.63" fill="#0909dd" stroke="#0707ab"/>
<rect x="419.44" y="127.93" width="11.85" height="9.63" fill="#0909dd" stroke="#0707ab"/>
<rect x="431.29" y="127.93" width="11.85" height="9.63" fill="#0909dc" stroke="#0707aa"/>
<rect x="443.14" y="127.93" width="11.84" height="9.63" fill="#0909dc" stroke="#0707aa"/>
<rect x="454.98" y="127.93" width="11.85" height="9.63" fill="#0909db" stroke="#0707aa"/>
<rect x="466.83" y="127.93" width="11.84" height="9.63" fill="#0909da" stroke="#0707aa"/>
<rect x="478.67" y="127.93" width="11.85" height="9.63" fill="#0909d8" stroke="#0707a9"/>
<rect x="490.52" y="127.93" width="11.84" height="9.63" fill="#0909d7" stroke="#0707a9"/>
<rect x="502.36" y="127.93" width="11.85" height="9.63" fill="#0909d5" stroke="#0707a8"/>
<rect x="514.21" y="127.93" width="11.84" height="9.63" fill="#0909d2" stroke="#0707a7"/>
<rect x="526.05" y="127.93" width="11.85" height="9.63" fill="#0909d0" stroke="#0707a7"/>
<rect x="537.89" y="127.93" width="11.85" height="9.63" fill="#0909ce" stroke="#0707a6"/>
<rect x="549.74" y="127.93" width="11.85" height="9.63" fill="#0909cb" stroke="#0707a5"/>
<rect x="561.59" y="127.93" width="11.85" height="9.63" fill="#0909c8" stroke="#0707a4"/>
<rect x="573.43" y="127.93" width="11.84" height="9.63" fill="#0909c5" stroke="#0707a3"/>
<rect x="585.27" y="127.93" width="11.85" height="9.63" fill="#0909c2" stroke="#0707a2"/>
<rect x="597.12" y="127.93" width="11.85" height="9.63" fill="#0909bf" stroke="#0808a1"/>
<rect x="608.97" y="127.93" width="11.85" height="9.63" fill="#0909bb" stroke="#08089f"/>
<rect x="620.81" y="127.93" width="11.85" height="9.63" fill="#0909b8" stroke="#08089e"/>
<rect x="632.66" y="127.93" width="11.84" height="9.63" fill="#0909b5" stroke="#08089d"/>
<rect x="644.50" y="127.93" width="11.85" height="9.63" fill="#0909b2" stroke="#08089c"/>
<rect x="656.35" y="127.93" width="11.85" height="9.63" fill="#0909af" stroke="#08089a"/>
<rect x="668.19" y="127.93" width="11.85" height="9.63" fill="#0909ab" stroke="#080899"/>
<rect x="680.04" y="127.93" width="11.84" height="9.63" fill="#0909a8" stroke="#080898"/>
<rect x="691.88" y="127.93" width="11.85" height="9.63" fill="#0909a5" stroke="#080897"/>
<rect x="703.73" y="127.93" width="11.85" height="9.63" fill="#0909a2" stroke="#080896"/>
<rect x="715.57" y="127.93" width="11.85" height="9.63" fill="#09099f" stroke="#080895"/>
<rect x="727.42" y="127.93" width="11.84" height="9.63" fill="#09099d" stroke="#080894"/>
<rect x="739.26" y="127.93" width="11.85" height="9.63" fill="#09099a" stroke="#080892"/>
<rect x="751.11" y="127.93" width="11.85" height="9.63" fill="#090997" stroke="#080890"/>
<rect x="762.95" y="127.93" width="11.85" height="9.63" fill="#090995" stroke="#08088d"/>
<rect x="774.80" y="127.93" width="11.84" height="9.63" fill="#090992" stroke="#08088b"/>
<rect x="786.64" y="127.93" width="11.85" height="9.63" fill="#090990" stroke="#080889"/>
<rect x="798.49" y="127.93" width="11.85" height="9.63" fill="#09098e" stroke="#080887"/>
<rect x="810.33" y="127.93" width="11.85" height="9.63" fill="#09098c" stroke="#080885"/>
<rect x="822.18" y="127.93" width="11.85" height="9.63" fill="#09098a" stroke="#080883"/>
<rect x="834.02" y="127.93" width="12.98" height="9.63" fill="#090988" stroke="#080881"/>
<rect x="49.00" y="137.55" width="3.25" height="9.63" fill="#0909e7" stroke="#0707ad"/>
<rect x="52.25" y="137.55" width="11.84" height="9.63" fill="#0909e5" stroke="#0707ad"/>
<rect x="64.09" y="137.55" width="11.84" height="9.63" fill="#0909e7" stroke="#0707ad"/>
<rect x="75.94" y="137.55" width="11.84" height="9.63" fill="#0909eb" stroke="#0707ae"/>
<rect x="87.78" y="137.55" width="11.84" height="9.63" fill="#0909f0" stroke="#0707b0"/>
<rect x="99.63" y="137.55" width="11.84" height="9.63" fill="#090bf5" stroke="#0608b0"/>
<rect x="111.47" y="137.55" width="11.85" height="9.63" fill="#0910f5" stroke="#060cad"/>
<rect x="123.32" y="137.55" width="11.85" height="9.63" fill="#0915f5" stroke="#060faa"/>
<rect x="135.17" y="137.55" width="11.84" height="9.63" fill="#0919f5" stroke="#0611a9"/>
<rect x="147.01" y="137.55" width="11.85" height="9.63" fill="#091af5" stroke="#0612a8"/>
<rect x="158.86" y="137.55" width="11.84" height="9.63" fill="#091bf5" stroke="#0612a8"/>
<rect x="170.70" y="137.55" width="11.85" height="9.63" fill="#091af5" stroke="#0612a8"/>
<rect x="182.55" y="137.55" width="11.84" height="9.63" fill="#0918f5" stroke="#0611a9"/>
<rect x="194.39" y="137.55" width="11.84" height="9.63" fill="#0917f5" stroke="#0610aa"/>
<rect x="206.24" y="137.55" width="11.84" height="9.63" fill="#0915f5" stroke="#060faa"/>
<rect x="218.08" y="137.55" width="11.84" height="9.63" fill="#0914f5" stroke="#060eab"/>
<rect x="229.93" y="137.55" width="11.84" height="9.63" fill="#0914f5" stroke="#060eab"/>
<rect x="241.77" y="137.55" width="11.84" height="9.63" fill="#0913f5" stroke="#060eab"/>
<rect x="253.62" y="137.55" width="11.85" height="9.63" fill="#0913f5" stroke="#060dac"/>
<rect x="265.46" y="137.55" width="11.84" height="9.63" fill="#0912f5" stroke="#060cac"/>
<rect x="277.31" y="137.55" width="11.84" height="9.63" fill="#0910f5" stroke="#060bad"/>
<rect x="289.15" y="137.55" width="11.85" height="9.63" fill="#090df5" stroke="#060aae"/>
<rect x="301.00" y="137.55" width="11.85" height="9.63" fill="#090bf5" stroke="#0608b0"/>
<rect x="312.84" y="137.55" width="11.84" height="9.63" fill="#0909f3" stroke="#0606b0"/>
<rect x="324.69" y="137.55" width="11.85" height="9.63" fill="#0909f0" stroke="#0707b0"/>
<rect x="336.53" y="137.55" width="11.84" height="9.63" fill="#0909ee" stroke="#0707af"/>
<rect x="348.38" y="137.55" width="11.85" height="9.63" fill="#0909eb" stroke="#0707ae"/>
<rect x="360.22" y="137.55" width="11.84" height="9.63" fill="#0909ea" stroke="#0707ae"/>
<rect x="372.06" y="137.55" width="11.85" height="9.63" fill="#0909e8" stroke="#0707ae"/>
<rect x="383.91" y="137.55" width="11.84" height="9.63" fill="#0909e8" stroke="#0707ad"/>
<rect x="395.75" y="137.55" width="11.85" height="9.63" fill="#0909e7" stroke="#0707ad"/>
<rect x="407.60" y="137.55" width="11.84" height="9.63" fill="#0909e7" stroke="#0707ad"/>
<rect x="419.44" y="137.55" width="11.85" height="9.63" fill="#0909e6" stroke="#0707ad"/>
<rect x="431.29" y="137.55" width="11.85" height="9.63" fill="#0909e6" stroke="#0707ad"/>
<rect x="443.14" y="137.55" width="11.84" height="9.63" fill="#0909e5" stroke="#0707ad"/>
<rect x="454.98" y="137.55" width="11.85" height="9.63" fill="#0909e4" stroke="#0707ad"/>
<rect x="466.83" y="137.55" width="11.84" height="9.63" fill="#0909e3" stroke="#0707ac"/>
<rect x="478.67" y="137.55" width="11.85" height="9.63" fill="#0909e1" stroke="#0707ac"/>
<rect x="490.52" y="137.55" width="11.84" height="9.63" fill="#0909df" stroke="#0707ab"/>
<rect x="502.36" y="137.55" width="11.85" height="9.63" fill="#0909dd" stroke="#0707ab"/>
<rect x="514.21" y="137.55" width="11.84" height="9.63" fill="#0909db" stroke="#0707aa"/>
<rect x="526.05" y="137.55" width="11.85" height="9.63" fill="#0909d8" stroke="#0707a9"/>
<rect x="537.89" y="137.55" width="11.85" height="9.63" fill="#0909d5" stroke="#0707a8"/>
<rect x="549.74" y="137.55" width="11.85" height="9.63" fill="#0909d2" stroke="#0707a7"/>
<rect x="561.59" y="137.55" width="11.85" height="9.63" fill="#0909cf" stroke="#0707a6"/>
<rect x="573.43" y="137.55" width="11.84" height="9.63" fill="#0909cc" stroke="#0707a5"/>
<rect x="585.27" y="137.55" width="11.85" height="9.63" fill="#0909c8" stroke="#0707a4"/>
<rect x="597.12" y="137.55" width="11.85" height="9.63" fill="#0909c5" stroke="#0707a3"/>
<rect x="608.97" y="137.55" width="11.85" height="9.63" fill="#0909c1" stroke="#0707a2"/>
<rect x="620.81" y="137.55" width="11.85" height="9.63" fill="#0909be" stroke="#0808a0"/>
<rect x="632.66" y="137.55" width="11.84" height="9.63" fill="#0909ba" stroke="#08089f"/>
<rect x="644.50" y="137.55" width="11.85" height="9.63" fill="#0909b7" stroke="#08089e"/>
<rect x="656.35" y="137.55" width="11.85" height="9.63" fill="#0909b3" stroke="#08089c"/>
<rect x="668.19" y="137.55" width="11.85" height="9.63" fill="#0909b0" stroke="#08089b"/>
<rect x="680.04" y="137.55" width="11.84" height="9.63" fill="#0909ad" stroke="#08089a"/>
<rect x="691.88" y="137.55" width="11.85" height="9.63" fill="#0909a9" stroke="#080898"/>
<rect x="703.73" y="137.55" width="11.85" height="9.63" fill="#0909a6" stroke="#080897"/>
<rect x="715.57" y="137.55" width="11.85" height="9.63" fill="#0909a3" stroke="#080896"/>
<rect x="727.42" y="137.55" width="11.84" height="9.63" fill="#0909a0" stroke="#080895"/>
<rect x="739.26" y="137.55" width="11.85" height="9.63" fill="#09099d" stroke="#080894"/>
<rect x="751.11" y="137.55" width="11.85" height="9.63" fill="#09099a" stroke="#080893"/>
<rect x="762.95" y="137.55" width="11.85" height="9.63" fill="#090998" stroke="#080890"/>
<rect x="774.80" y="137.55" width="11.84" height="9.63" fill="#090995" stroke="#08088e"/>
<rect x="786.64" y="137.55" width="11.85" height="9.63" fill="#090993" stroke="#08088b"/>
<rect x="798.49" y="137.55" width="11.85" height="9.63" fill="#090991" stroke="#080889"/>
<rect x="810.33" y="137.55" width="11.85" height="9.63" fill="#09098e" stroke="#080887"/>
<rect x="822.18" y="137.55" width="11.85" height="9.63" fill="#09098c" stroke="#080885"/>
<rect x="834.02" y="137.55" width="12.98" height="9.63" fill="#09098a" stroke="#080883"/>
<rect x="49.00" y="147.18" width="3.25" height="9.63" fill="#090df5" stroke="#0609af"/>
<rect x="52.25" y="147.18" width="11.84" height="9.63" fill="#090bf5" stroke="#0608af"/>
<rect x="64.09" y="147.18" width="11.84" height="9.63" fill="#090ef5" stroke="#060aae"/>
<rect x="75.94" y="147.18" width="11.84" height="9.63" fill="#0913f5" stroke="#060dac"/>
<rect x="87.78" y="147.18" width="11.84" height="9.63" fill="#0919f5" stroke="#0611a8"/>
<rect x="99.63" y="147.18" width="11.84" height="9.63" fill="#0921f5" stroke="#0616a5"/>
<rect x="111.47" y="147.18" width="11.85" height="9.63" fill="#0928f5" stroke="#061aa1"/>
<rect x="123.32" y="147.18" width="11.85" height="9.63" fill="#092df5" stroke="#061d9f"/>
<rect x="135.17" y="147.18" width="11.84" height="9.63" fill="#0931f5" stroke="#061f9d"/>
<rect x="147.01" y="147.18" width="11.85" height="9.63" fill="#0933f5" stroke="#06209c"/>
<rect x="158.86" y="147.18" width="11.84" height="9.63" fill="#0932f5" stroke="#06209c"/>
<rect x="170.70" y="147.18" width="11.85" height="9.63" fill="#0931f5" stroke="#061f9d"/>
<rect x="182.55" y="147.18" width="11.84" height="9.63" fill="#092ff5" stroke="#061e9e"/>
<rect x="194.39" y="147.18" width="11.84" height="9.63" fill="#092cf5" stroke="#061d9f"/>
<rect x="206.24" y="147.18" width="11.84" height="9.63" fill="#092af5" stroke="#061ca0"/>
<rect x="218.08" y="147.18" width="11.84" height="9.63" fill="#0928f5" stroke="#061ba1"/>
<rect x="229.93" y="147.18" width="11.84" height="9.63" fill="#0927f5" stroke="#061aa2"/>
<rect x="241.77" y="147.18" width="11.84" height="9.63" fill="#0926f5" stroke="#0619a2"/>
<rect x="253.62" y="147.18" width="11.85" height="9.63" fill="#0924f5" stroke="#0618a3"/>
<rect x="265.46" y="147.18" width="11.84" height="9.63" fill="#0922f5" stroke="#0617a4"/>
<rect x="277.31" y="147.18" width="11.84" height="9.63" fill="#091ff5" stroke="#0615a6"/>
<rect x="289.15" y="147.18" width="11.85" height="9.63" fill="#091bf5" stroke="#0613a8"/>
<rect x="301.00" y="147.18" width="11.85" height="9.63" fill="#0917f5" stroke="#0610aa"/>
<rect x="312.84" y="147.18" width="11.84" height="9.63" fill="#0913f5" stroke="#060dac"/>
<rect x="324.69" y="147.18" width="11.85" height="9.63" fill="#090ff5" stroke="#060aae"/>
<rect x="336.53" y="147.18" width="11.84" height="9.63" fill="#090bf5" stroke="#0608b0"/>
<rect x="348.38" y="147.18" width="11.85" height="9.63" fill="#0909f4" stroke="#0606b0"/>
<rect x="360.22" y="147.18" width="11.84" height="9.63" fill="#0909f1" stroke="#0707b0"/>
<rect x="372.06" y="147.18" width="11.85" height="9.63" fill="#0909ef" stroke="#0707af"/>
<rect x="383.91" y="147.18" width="11.84" height="9.63" fill="#0909ee" stroke="#0707af"/>
<rect x="395.75" y="147.18" width="11.85" height="9.63" fill="#0909ed" stroke="#0707af"/>
<rect x="407.60" y="147.18" width="11.84" height="9.63" fill="#0909ed" stroke="#0707af"/>
<rect x="419.44" y="147.18" width="11.85" height="9.63" fill="#0909ec" stroke="#0707af"/>
<rect x="431.29" y="147.18" width="11.85" height="9.63" fill="#0909ec" stroke="#0707af"/>
<rect x="443.14" y="147.18" width="11.84" height="9.63" fill="#0909eb" stroke="#0707ae"/>
<rect x="454.98" y="147.18" width="11.85" height="9.63" fill="#0909ea" stroke="#0707ae"/>
<rect x="466.83" y="147.18" width="11.84" height="9.63" fill="#0909e8" stroke="#0707ae"/>
<rect x="478.67" y="147.18" width="11.85" height="9.63" fill="#0909e6" stroke="#0707ad"/>
<rect x="490.52" y="147.18" width="11.84" height="9.63" fill="#0909e4" stroke="#0707ad"/>
<rect x="502.36" y="147.18" width="11.85" height="9.63" fill="#0909e2" stroke="#0707ac"/>
<rect x="514.21" y="147.18" width="11.84" height="9.63" fill="#0909df" stroke="#0707ab"/>
<rect x="526.05" y="147.18" width="11.85" height="9.63" fill="#0909dc" stroke="#0707aa"/>
<rect x="537.89" y="147.18" width="11.85" height="9.63" fill="#0909d9" stroke="#0707aa"/>
<rect x="549.74" y="147.18" width="11.85" height="9.63" fill="#0909d6" stroke="#0707a9"/>
<rect x="561.59" y="147.18" width="11.85" height="9.63" fill="#0909d3" stroke="#0707a7"/>
<rect x="573.43" y="147.18" width="11.84" height="9.63" fill="#0909cf" stroke="#0707a6"/>
<rect x="585.27" y="147.18" width="11.85" height="9.63" fill="#0909cb" stroke="#0707a5"/>
<rect x="597.12" y="147.18" width="11.85" height="9.63" fill="#0909c8" stroke="#0707a4"/>
<rect x="608.97" y="147.18" width="11.85" height="9.63" fill="#0909c4" stroke="#0707a3"/>
<rect x="620.81" y="147.18" width="11.85" height="9.63" fill="#0909c0" stroke="#0707a1"/>
<rect x="632.66" y="147.18" width="11.84" height="9.63" fill="#0909bd" stroke="#0808a0"/>
<rect x="644.50" y="147.18" width="11.85" height="9.63" fill="#0909b9" stroke="#08089e"/>
<rect x="656.35" y="147.18" width="11.85" height="9.63" fill="#0909b5" stroke="#08089d"/>
<rect x="668.19" y="147.18" width="11.85" height="9.63" fill="#0909b2" stroke="#08089c"/>
<rect x="680.04" y="147.18" width="11.84" height="9.63" fill="#0909ae" stroke="#08089a"/>
<rect x="691.88" y="147.18" width="11.85" height="9.63" fill="#0909ab" stroke="#080899"/>
<rect x="703.73" y="147.18" width="11.85" height="9.63" fill="#0909a8" stroke="#080898"/>
<rect x="715.57" y="147.18" width="11.85" height="9.63" fill="#0909a5" stroke="#080897"/>
<rect x="727.42" y="147.18" width="11.84" height="9.63" fill="#0909a2" stroke="#080895"/>
<rect x="739.26" y="147.18" width="11.85" height="9.63" fill="#09099f" stroke="#080895"/>
<rect x="751.11" y="147.18" width="11.85" height="9.63" fill="#09099c" stroke="#080894"/>
<rect x="762.95" y="147.18" width="11.85" height="9.63" fill="#090999" stroke="#080892"/>
<rect x="774.80" y="147.18" width="11.84" height="9.63" fill="#090997" stroke="#08088f"/>
<rect x="786.64" y="147.18" width="11.85" height="9.63" fill="#090994" stroke="#08088d"/>
<rect x="798.49" y="147.18" width="11.85" height="9.63" fill="#090992" stroke="#08088b"/>
<rect x="810.33" y="147.18" width="11.85" height="9.63" fill="#090990" stroke="#080889"/>
<rect x="822.18" y="147.18" width="11.85" height="9.63" fill="#09098e" stroke="#080887"/>
<rect x="834.02" y="147.18" width="12.98" height="9.63" fill="#09098c" stroke="#080885"/>
<rect x="49.00" y="156.81" width="3.25" height="9.63" fill="#091ef5" stroke="#0614a6"/>
<rect x="52.25" y="156.81" width="11.84" height="9.63" fill="#091df5" stroke="#0614a7"/>
<rect x="64.09" y="156.81" width="11.84" height="9.63" fill="#0920f5" stroke="#0616a5"/>
<rect x="75.94" y="156.81" width="11.84" height="9.63" fill="#0926f5" stroke="#0619a2"/>
<rect x="87.78" y="156.81" width="11.84" height="9.63" fill="#092ef5" stroke="#061e9e"/>
<rect x="99.63" y="156.81" width="11.84" height="9.63" fill="#0937f5" stroke="#06239a"/>
<rect x="111.47" y="156.81" width="11.85" height="9.63" fill="#093ff5" stroke="#052797"/>
<rect x="123.32" y="156.81" width="11.85" height="9.63" fill="#0945f5" stroke="#052a94"/>
<rect x="135.17" y="156.81" width="11.84" height="9.63" fill="#0949f5" stroke="#052c92"/>
<rect x="147.01" y="156.81" width="11.85" height="9.63" fill="#094bf5" stroke="#052c91"/>
<rect x="158.86" y="156.81" width="11.84" height="9.63" fill="#094af5" stroke="#052c91"/>
<rect x="170.70" y="156.81" width="11.85" height="9.63" fill="#0948f5" stroke="#052b93"/>
<rect x="182.55" y="156.81" width="11.84" height="9.63" fill="#0944f5" stroke="#052994"/>
<rect x="194.39" y="156.81" width="11.84" height="9.63" fill="#0941f5" stroke="#052896"/>
<rect x="206.24" y="156.81" width="11.84" height="9.63" fill="#093ef5" stroke="#062697"/>
<rect x="218.08" y="156.81" width="11.84" height="9.63" fill="#093bf5" stroke="#062598"/>
<rect x="229.93" y="156.81" width="11.84" height="9.63" fill="#0939f5" stroke="#062499"/>
<rect x="241.77" y="156.81" width="11.84" height="9.63" fill="#0936f5" stroke="#06229a"/>
<rect x="253.62" y="156.81" width="11.85" height="9.63" fill="#0934f5" stroke="#06219c"/>
<rect x="265.46" y="156.81" width="11.84" height="9.63" fill="#0930f5" stroke="#061f9d"/>
<rect x="277.31" y="156.81" width="11.84" height="9.63" fill="#092cf5" stroke="#061d9f"/>
<rect x="289.15" y="156.81" width="11.85" height="9.63" fill="#0927f5" stroke="#061aa2"/>
<rect x="301.00" y="156.81" width="11.85" height="9.63" fill="#0921f5" stroke="#0616a5"/>
<rect x="312.84" y="156.81" width="11.84" height="9.63" fill="#091bf5" stroke="#0613a7"/>
<rect x="324.69" y="156.81" width="11.85" height="9.63" fill="#0916f5" stroke="#060faa"/>
<rect x="336.53" y="156.81" width="11.84" height="9.63" fill="#0911f5" stroke="#060cad"/>
<rect x="348.38" y="156.81" width="11.85" height="9.63" fill="#090df5" stroke="#0609af"/>
<rect x="360.22" y="156.81" width="11.84" height="9.63" fill="#090af5" stroke="#0607b0"/>
<rect x="372.06" y="156.81" width="11.85" height="9.63" fill="#0909f4" stroke="#0606b0"/>
<rect x="383.91" y="156.81" width="11.84" height="9.63" fill="#0909f2" stroke="#0606b0"/>
<rect x="395.75" y="156.81" width="11.85" height="9.63" fill="#0909f1" stroke="#0707b0"/>
<rect x="407.60" y="156.81" width="11.84" height="9.63" fill="#0909f0" stroke="#0707b0"/>
<rect x="419.44" y="156.81" width="11.85" height="9.63" fill="#0909f0" stroke="#0707af"/>
<rect x="431.29" y="156.81" width="11.85" height="9.63" fill="#0909ef" stroke="#0707af"/>
<rect x="443.14" y="156.81" width="11.84" height="9.63" fill="#0909ee" stroke="#0707af"/>
<rect x="454.98" y="156.81" width="11.85" height="9.63" fill="#0909ec" stroke="#0707af"/>
<rect x="466.83" y="156.81" width="11.84" height="9.63" fill="#0909eb" stroke="#0707ae"/>
<rect x="478.67" y="156.81" width="11.85" height="9.63" fill="#0909e9" stroke="#0707ae"/>
<rect x="490.52" y="156.81" width="11.84" height="9.63" fill="#0909e6" stroke="#0707ad"/>
<rect x="502.36" y="156.81" width="11.85" height="9.63" fill="#0909e4" stroke="#0707ac"/>
<rect x="514.21" y="156.81" width="11.84" height="9.63" fill="#0909e1" stroke="#0707ac"/>
<rect x="526.05" y="156.81" width="11.85" height="9.63" fill="#0909de" stroke="#0707ab"/>
<rect x="537.89" y="156.81" width="11.85" height="9.63" fill="#0909da" stroke="#0707aa"/>
<rect x="549.74" y="156.81" width="11.85" height="9.63" fill="#0909d7" stroke="#0707a9"/>
<rect x="561.59" y="156.81" width="11.85" height="9.63" fill="#0909d3" stroke="#0707a8"/>
<rect x="573.43" y="156.81" width="11.84" height="9.63" fill="#0909cf" stroke="#0707a6"/>
<rect x="585.27" y="156.81" width="11.85" height="9.63" fill="#0909cb" stroke="#0707a5"/>
<rect x="597.12" y="156.81" width="11.85" height="9.63" fill="#0909c7" stroke="#0707a4"/>
<rect x="608.97" y="156.81" width="11.85" height="9.63" fill="#0909c3" stroke="#0707a2"/>
<rect x="620.81" y="156.81" width="11.85" height="9.63" fill="#0909c0" stroke="#0707a1"/>
<rect x="632.66" y="156.81" width="11.84" height="9.63" fill="#0909bc" stroke="#08089f"/>
<rect x="644.50" y="156.81" width="11.85" height="9.63" fill="#0909b8" stroke="#08089e"/>
<rect x="656.35" y="156.81" width="11.85" height="9.63" fill="#0909b4" stroke="#08089d"/>
<rect x="668.19" y="156.81" width="11.85" height="9.63" fill="#0909b1" stroke="#08089b"/>
<rect x="680.04" y="156.81" width="11.84" height="9.63" fill="#0909ae" stroke="#08089a"/>
<rect x="691.88" y="156.81" width="11.85" height="9.63" fill="#0909aa" stroke="#080899"/>
<rect x="703.73" y="156.81" width="11.85" height="9.63" fill="#0909a7" stroke="#080897"/>
<rect x="715.57" y="156.81" width="11.85" height="9.63" fill="#0909a4" stroke="#080896"/>
<rect x="727.42" y="156.81" width="11.84" height="9.63" fill="#0909a1" stroke="#080895"/>
<rect x="739.26" y="156.81" width="11.85" height="9.63" fill="#09099e" stroke="#080894"/>
<rect x="751.11" y="156.81" width="11.85" height="9.63" fill="#09099c" stroke="#080894"/>
<rect x="762.95" y="156.81" width="11.85" height="9.63" fill="#090999" stroke="#080892"/>
<rect x="774.80" y="156.81" width="11.84" height="9.63" fill="#090997" stroke="#08088f"/>
<rect x="786.64" y="156.81" width="11.85" height="9.63" fill="#090995" stroke="#08088d"/>
<rect x="798.49" y="156.81" width="11.85" height="9.63" fill="#090992" stroke="#08088b"/>
<rect x="810.33" y="156.81" width="11.85" height="9.63" fill="#090990" stroke="#080889"/>
<rect x="822.18" y="156.81" width="11.85" height="9.63" fill="#09098e" stroke="#080887"/>
<rect x="834.02" y="156.81" width="12.98" height="9.63" fill="#09098c" stroke="#080885"/>
<rect x="49.00" y="166.44" width="3.25" height="9.63" fill="#092ef5" stroke="#061e9f"/>
<rect x="52.25" y="166.44" width="11.84" height="9.63" fill="#092df5" stroke="#061d9f"/>
<rect x="64.09" y="166.44" width="11.84" height="9.63" fill="#0931f5" stroke="#06209d"/>
<rect x="75.94" y="166.44" width="11.84" height="9.63" fill="#0939f5" stroke="#062499"/>
<rect x="87.78" y="166.44" width="11.84" height="9.63" fill="#0942f5" stroke="#052895"/>
<rect x="99.63" y="166.44" width="11.84" height="9.63" fill="#094cf5" stroke="#052d90"/>
<rect x="111.47" y="166.44" width="11.85" height="9.63" fill="#0955f5" stroke="#05318c"/>
<rect x="123.32" y="166.44" width="11.85" height="9.63" fill="#095df5" stroke="#053489"/>
<rect x="135.17" y="166.44" width="11.84" height="9.63" fill="#0961f5" stroke="#053687"/>
<rect x="147.01" y="166.44" width="11.85" height="9.63" fill="#0962f5" stroke="#053687"/>
<rect x="158.86" y="166.44" width="11.84" height="9.63" fill="#0961f5" stroke="#053687"/>
<rect x="170.70" y="166.44" width="11.85" height="9.63" fill="#095ef5" stroke="#053488"/>
<rect x="182.55" y="166.44" width="11.84" height="9.63" fill="#095af5" stroke="#05338a"/>
<rect x="194.39" y="166.44" width="11.84" height="9.63" fill="#0955f5" stroke="#05318c"/>
<rect x="206.24" y="166.44" width="11.84" height="9.63" fill="#0951f5" stroke="#052f8e"/>
<rect x="218.08" y="166.44" width="11.84" height="9.63" fill="#094df5" stroke="#052e90"/>
<rect x="229.93" y="166.44" width="11.84" height="9.63" fill="#094af5" stroke="#052c91"/>
<rect x="241.77" y="166.44" width="11.84" height="9.63" fill="#0947f5" stroke="#052a93"/>
<rect x="253.62" y="166.44" width="11.85" height="9.63" fill="#0943f5" stroke="#052995"/>
<rect x="265.46" y="166.44" width="11.84" height="9.63" fill="#093ef5" stroke="#062697"/>
<rect x="277.31" y="166.44" width="11.84" height="9.63" fill="#0938f5" stroke="#06239a"/>
<rect x="289.15" y="166.44" width="11.85" height="9.63" fill="#0931f5" stroke="#06209d"/>
<rect x="301.00" y="166.44" width="11.85" height="9.63" fill="#092af5" stroke="#061ca0"/>
<rect x="312.84" y="166.44" width="11.84" height="9.63" fill="#0923f5" stroke="#0617a4"/>
<rect x="324.69" y="166.44" width="11.85" height="9.63" fill="#091cf5" stroke="#0613a7"/>
<rect x="336.53" y="166.44" width="11.84" height="9.63" fill="#0916f5" stroke="#0610aa"/>
<rect x="348.38" y="166.44" width="11.85" height="9.63" fill="#0912f5" stroke="#060cac"/>
<rect x="360.22" y="166.44" width="11.84" height="9.63" fill="#090ef5" stroke="#060aae"/>
<rect x="372.06" y="166.44" width="11.85" height="9.63" fill="#090cf5" stroke="#0608af"/>
<rect x="383.91" y="166.44" width="11.84" height="9.63" fill="#090af5" stroke="#0607b0"/>
<rect x="395.75" y="166.44" width="11.85" height="9.63" fill="#0909f5" stroke="#0606b1"/>
<rect x="407.60" y="166.44" width="11.84" height="9.63" fill="#0909f4" stroke="#0606b0"/>
<rect x="419.44" y="166.44" width="11.85" height="9.63" fill="#0909f3" stroke="#0606b0"/>
<rect x="431.29" y="166.44" width="11.85" height="9.63" fill="#0909f2" stroke="#0606b0"/>
<rect x="443.14" y="166.44" width="11.84" height="9.63" fill="#0909f1" stroke="#0707b0"/>
<rect x="454.98" y="166.44" width="11.85" height="9.63" fill="#0909ef" stroke="#0707af"/>
<rect x="466.83" y="166.44" width="11.84" height="9.63" fill="#0909ed" stroke="#0707af"/>
<rect x="478.67" y="166.44" width="11.85" height="9.63" fill="#0909eb" stroke="#0707ae"/>
<rect x="490.52" y="166.44" width="11.84" height="9.63" fill="#0909e8" stroke="#0707ae"/>
<rect x="502.36" y="166.44" width="11.85" height="9.63" fill="#0909e5" stroke="#0707ad"/>
<rect x="514.21" y="166.44" width="11.84" height="9.63" fill="#0909e2" stroke="#0707ac"/>
<rect x="526.05" y="166.44" width="11.85" height="9.63" fill="#0909de" stroke="#0707ab"/>
<rect x="537.89" y="166.44" width="11.85" height="9.63" fill="#0909da" stroke="#0707aa"/>
<rect x="549.74" y="166.44" width="11.85" height="9.63" fill="#0909d6" stroke="#0707a9"/>
<rect x="561.59" y="166.44" width="11.85" height="9.63" fill="#0909d2" stroke="#0707a7"/>
<rect x="573.43" y="166.44" width="11.84" height="9.63" fill="#0909ce" stroke="#0707a6"/>
<rect x="585.27" y="166.44" width="11.85" height="9.63" fill="#0909c9" stroke="#0707a4"/>
<rect x="597.12" y="166.44" width="11.85" height="9.63" fill="#0909c5" stroke="#0707a3"/>
<rect x="608.97" y="166.44" width="11.85" height="9.63" fill="#0909c1" stroke="#0707a1"/>
<rect x="620.81" y="166.44" width="11.85" height="9.63" fill="#0909bd" stroke="#0808a0"/>
<rect x="632.66" y="166.44" width="11.84" height="9.63" fill="#0909b9" stroke="#08089e"/>
<rect x="644.50" y="166.44" width="11.85" height="9.63" fill="#0909b5" stroke="#08089d"/>
<rect x="656.35" y="166.44" width="11.85" height="9.63" fill="#0909b1" stroke="#08089c"/>
<rect x="668.19" y="166.44" width="11.85" height="9.63" fill="#0909ae" stroke="#08089a"/>
<rect x="680.04" y="166.44" width="11.84" height="9.63" fill="#0909ab" stroke="#080899"/>
<rect x="691.88" y="166.44" width="11.85" height="9.63" fill="#0909a7" stroke="#080898"/>
<rect x="703.73" y="166.44" width="11.85" height="9.63" fill="#0909a4" stroke="#080896"/>
<rect x="715.57" y="166.44" width="11.85" height="9.63" fill="#0909a2" stroke="#080895"/>
<rect x="727.42" y="166.44" width="11.84" height="9.63" fill="#09099f" stroke="#080894"/>
<rect x="739.26" y="166.44" width="11.85" height="9.63" fill="#09099c" stroke="#080894"/>
<rect x="751.11" y="166.44" width="11.85" height="9.63" fill="#09099a" stroke="#080892"/>
<rect x="762.95" y="166.44" width="11.85" height="9.63" fill="#090998" stroke="#080890"/>
<rect x="774.80" y="166.44" width="11.84" height="9.63" fill="#090995" stroke="#08088e"/>
<rect x="786.64" y="166.44" width="11.85" height="9.63" fill="#090993" stroke="#08088c"/>
<rect x="798.49" y="166.44" width="11.85" height="9.63" fill="#090991" stroke="#08088a"/>
<rect x="810.33" y="166.44" width="11.85" height="9.63" fill="#090990" stroke="#080888"/>
<rect x="822.18" y="166.44" width="11.85" height="9.63" fill="#09098e" stroke="#080887"/>
<rect x="834.02" y="166.44" width="12.98" height="9.63" fill="#09098c" stroke="#080885"/>
<rect x="49.00" y="176.06" width="3.25" height="9.63" fill="#093df5" stroke="#062698"/>
<rect x="52.25" y="176.06" width="11.84" height="9.63" fill="#093df5" stroke="#062697"/>
<rect x="64.09" y="176.06" width="11.84" height="9.63" fill="#0942f5" stroke="#052895"/>
<rect x="75.94" y="176.06" width="11.84" height="9.63" fill="#094bf5" stroke="#052d91"/>
<rect x="87.78" y="176.06" width="11.84" height="9.63" fill="#0956f5" stroke="#05318c"/>
<rect x="99.63" y="176.06" width="11.84" height="9.63" fill="#0962f5" stroke="#053687"/>
<rect x="111.47" y="176.06" width="11.85" height="9.63" fill="#096cf5" stroke="#053a82"/>
<rect x="123.32" y="176.06" width="11.85" height="9.63" fill="#0975f5" stroke="#053c7f"/>
<rect x="135.17" y="176.06" width="11.84" height="9.63" fill="#0979f5" stroke="#053e7c"/>
<rect x="147.01" y="176.06" width="11.85" height="9.63" fill="#097bf5" stroke="#053e7c"/>
<rect x="158.86" y="176.06" width="11.84" height="9.63" fill="#0979f5" stroke="#053e7d"/>
<rect x="170.70" y="176.06" width="11.85" height="9.63" fill="#0975f5" stroke="#053c7e"/>
<rect x="182.55" y="176.06" width="11.84" height="9.63" fill="#0970f5" stroke="#053b81"/>
<rect x="194.39" y="176.06" width="11.84" height="9.63" fill="#096bf5" stroke="#053983"/>
<rect x="206.24" y="176.06" width="11.84" height="9.63" fill="#0966f5" stroke="#053785"/>
<rect x="218.08" y="176.06" width="11.84" height="9.63" fill="#0961f5" stroke="#053687"/>
<rect x="229.93" y="176.06" width="11.84" height="9.63" fill="#095df5" stroke="#053489"/>
<rect x="241.77" y="176.06" width="11.84" height="9.63" fill="#0958f5" stroke="#05328b"/>
<rect x="253.62" y="176.06" width="11.85" height="9.63" fill="#0953f5" stroke="#05308d"/>
<rect x="265.46" y="176.06" width="11.84" height="9.63" fill="#094df5" stroke="#052d90"/>
<rect x="277.31" y="176.06" width="11.84" height="9.63" fill="#0946f5" stroke="#052a93"/>
<rect x="289.15" y="176.06" width="11.85" height="9.63" fill="#093ef5" stroke="#062697"/>
<rect x="301.00" y="176.06" width="11.85" height="9.63" fill="#0935f5" stroke="#06229b"/>
<rect x="312.84" y="176.06" width="11.84" height="9.63" fill="#092df5" stroke="#061d9f"/>
<rect x="324.69" y="176.06" width="11.85" height="9.63" fill="#0925f5" stroke="#0619a3"/>
<rect x="336.53" y="176.06" width="11.84" height="9.63" fill="#091ef5" stroke="#0614a6"/>
<rect x="348.38" y="176.06" width="11.85" height="9.63" fill="#0919f5" stroke="#0611a9"/>
<rect x="360.22" y="176.06" width="11.84" height="9.63" fill="#0915f5" stroke="#060fab"/>
<rect x="372.06" y="176.06" width="11.85" height="9.63" fill="#0912f5" stroke="#060dac"/>
<rect x="383.91" y="176.06" width="11.84" height="9.63" fill="#0911f5" stroke="#060cad"/>
<rect x="395.75" y="176.06" width="11.85" height="9.63" fill="#0910f5" stroke="#060bad"/>
<rect x="407.60" y="176.06" width="11.84" height="9.63" fill="#090ff5" stroke="#060bae"/>
<rect x="419.44" y="176.06" width="11.85" height="9.63" fill="#090ef5" stroke="#060aae"/>
<rect x="431.29" y="176.06" width="11.85" height="9.63" fill="#090df5" stroke="#0609ae"/>
<rect x="443.14" y="176.06" width="11.84" height="9.63" fill="#090cf5" stroke="#0609af"/>
<rect x="454.98" y="176.06" width="11.85" height="9.63" fill="#090af5" stroke="#0607b0"/>
<rect x="466.83" y="176.06" width="11.84" height="9.63" fill="#0909f4" stroke="#0606b0"/>
<rect x="478.67" y="176.06" width="11.85" height="9.63" fill="#0909f1" stroke="#0707b0"/>
<rect x="490.52" y="176.06" width="11.84" height="9.63" fill="#0909ee" stroke="#0707af"/>
<rect x="502.36" y="176.06" width="11.85" height="9.63" fill="#0909ea" stroke="#0707ae"/>
<rect x="514.21" y="176.06" width="11.84" height="9.63" fill="#0909e6" stroke="#0707ad"/>
<rect x="526.05" y="176.06" width="11.85" height="9.63" fill="#0909e2" stroke="#0707ac"/>
<rect x="537.89" y="176.06" width="11.85" height="9.63" fill="#0909dd" stroke="#0707ab"/>
<rect x="549.74" y="176.06" width="11.85" height="9.63" fill="#0909d8" stroke="#0707a9"/>
<rect x="561.59" y="176.06" width="11.85" height="9.63" fill="#0909d3" stroke="#0707a8"/>
<rect x="573.43" y="176.06" width="11.84" height="9.63" fill="#0909ce" stroke="#0707a6"/>
<rect x="585.27" y="176.06" width="11.85" height="9.63" fill="#0909c9" stroke="#0707a4"/>
<rect x="597.12" y="176.06" width="11.85" height="9.63" fill="#0909c5" stroke="#0707a3"/>
<rect x="608.97" y="176.06" width="11.85" height="9.63" fill="#0909c0" stroke="#0707a1"/>
<rect x="620.81" y="176.06" width="11.85" height="9.63" fill="#0909bb" stroke="#08089f"/>
<rect x="632.66" y="176.06" width="11.84" height="9.63" fill="#0909b7" stroke="#08089e"/>
<rect x="644.50" y="176.06" width="11.85" height="9.63" fill="#0909b3" stroke="#08089c"/>
<rect x="656.35" y="176.06" width="11.85" height="9.63" fill="#0909af" stroke="#08089a"/>
<rect x="668.19" y="176.06" width="11.85" height="9.63" fill="#0909ab" stroke="#080899"/>
<rect x="680.04" y="176.06" width="11.84" height="9.63" fill="#0909a7" stroke="#080898"/>
<rect x="691.88" y="176.06" width="11.85" height="9.63" fill="#0909a4" stroke="#080896"/>
<rect x="703.73" y="176.06" width="11.85" height="9.63" fill="#0909a1" stroke="#080895"/>
<rect x="715.57" y="176.06" width="11.85" height="9.63" fill="#09099e" stroke="#080894"/>
<rect x="727.42" y="176.06" width="11.84" height="9.63" fill="#09099c" stroke="#080894"/>
<rect x="739.26" y="176.06" width="11.85" height="9.63" fill="#090999" stroke="#080892"/>
<rect x="751.11" y="176.06" width="11.85" height="9.63" fill="#090997" stroke="#080890"/>
<rect x="762.95" y="176.06" width="11.85" height="9.63" fill="#090995" stroke="#08088e"/>
<rect x="774.80" y="176.06" width="11.84" height="9.63" fill="#090993" stroke="#08088c"/>
<rect x="786.64" y="176.06" width="11.85" height="9.63" fill="#090991" stroke="#08088a"/>
<rect x="798.49" y="176.06" width="11.85" height="9.63" fill="#090990" stroke="#080889"/>
<rect x="810.33" y="176.06" width="11.85" height="9.63" fill="#09098e" stroke="#080887"/>
<rect x="822.18" y="176.06" width="11.85" height="9.63" fill="#09098d" stroke="#080886"/>
<rect x="834.02" y="176.06" width="12.98" height="9.63" fill="#09098b" stroke="#080884"/>
<rect x="49.00" y="185.69" width="3.25" height="9.63" fill="#094cf5" stroke="#052d90"/>
<rect x="52.25" y="185.69" width="11.84" height="9.63" fill="#094ef5" stroke="#052e90"/>
<rect x="64.09" y="185.69" width="11.84" height="9.63" fill="#0954f5" stroke="#05318d"/>
<rect x="75.94" y="185.69" width="11.84" height="9.63" fill="#095ff5" stroke="#053588"/>
<rect x="87.78" y="185.69" width="11.84" height="9.63" fill="#096cf5" stroke="#053982"/>
<rect x="99.63" y="185.69" width="11.84" height="9.63" fill="#0979f5" stroke="#053e7c"/>
<rect x="111.47" y="185.69" width="11.85" height="9.63" fill="#0986f5" stroke="#04437a"/>
<rect x="123.32" y="185.69" width="11.85" height="9.63" fill="#098ff5" stroke="#04477a"/>
<rect x="135.17" y="185.69" width="11.84" height="9.63" fill="#0994f5" stroke="#044a7a"/>
<rect x="147.01" y="185.69" width="11.85" height="9.63" fill="#0996f5" stroke="#044b7a"/>
<rect x="158.86" y="185.69" width="11.84" height="9.63" fill="#0994f5" stroke="#044a7a"/>
<rect x="170.70" y="185.69" width="11.85" height="9.63" fill="#0990f5" stroke="#04487a"/>
<rect x="182.55" y="185.69" width="11.84" height="9.63" fill="#098af5" stroke="#04457a"/>
<rect x="194.39" y="185.69" width="11.84" height="9.63" fill="#0984f5" stroke="#04427a"/>
<rect x="206.24" y="185.69" width="11.84" height="9.63" fill="#097ef5" stroke="#043f7a"/>
<rect x="218.08" y="185.69" width="11.84" height="9.63" fill="#0979f5" stroke="#053e7d"/>
<rect x="229.93" y="185.69" width="11.84" height="9.63" fill="#0974f5" stroke="#053c7f"/>
<rect x="241.77" y="185.69" width="11.84" height="9.63" fill="#096ef5" stroke="#053a81"/>
<rect x="253.62" y="185.69" width="11.85" height="9.63" fill="#0968f5" stroke="#053884"/>
<rect x="265.46" y="185.69" width="11.84" height="9.63" fill="#0961f5" stroke="#053587"/>
<rect x="277.31" y="185.69" width="11.84" height="9.63" fill="#0958f5" stroke="#05328b"/>
<rect x="289.15" y="185.69" width="11.85" height="9.63" fill="#094ef5" stroke="#052e90"/>
<rect x="301.00" y="185.69" width="11.85" height="9.63" fill="#0944f5" stroke="#052994"/>
<rect x="312.84" y="185.69" width="11.84" height="9.63" fill="#093bf5" stroke="#062499"/>
<rect x="324.69" y="185.69" width="11.85" height="9.63" fill="#0932f5" stroke="#06209d"/>
<rect x="336.53" y="185.69" width="11.84" height="9.63" fill="#092af5" stroke="#061ca0"/>
<rect x="348.38" y="185.69" width="11.85" height="9.63" fill="#0925f5" stroke="#0618a3"/>
<rect x="360.22" y="185.69" width="11.84" height="9.63" fill="#0921f5" stroke="#0616a5"/>
<rect x="372.06" y="185.69" width="11.85" height="9.63" fill="#091ef5" stroke="#0615a6"/>
<rect x="383.91" y="185.69" width="11.84" height="9.63" fill="#091df5" stroke="#0614a7"/>
<rect x="395.75" y="185.69" width="11.85" height="9.63" fill="#091cf5" stroke="#0613a7"/>
<rect x="407.60" y="185.69" width="11.84" height="9.63" fill="#091cf5" stroke="#0613a7"/>
<rect x="419.44" y="185.69" width="11.85" height="9.63" fill="#091cf5" stroke="#0613a7"/>
<rect x="431.29" y="185.69" width="11.85" height="9.63" fill="#091bf5" stroke="#0612a8"/>
<rect x="443.14" y="185.69" width="11.84" height="9.63" fill="#091af5" stroke="#0612a8"/>
<rect x="454.98" y="185.69" width="11.85" height="9.63" fill="#0918f5" stroke="#0610a9"/>
<rect x="466.83" y="185.69" width="11.84" height="9.63" fill="#0915f5" stroke="#060faa"/>
<rect x="478.67" y="185.69" width="11.85" height="9.63" fill="#0912f5" stroke="#060dac"/>
<rect x="490.52" y="185.69" width="11.84" height="9.63" fill="#090ef5" stroke="#060aae"/>
<rect x="502.36" y="185.69" width="11.85" height="9.63" fill="#090af5" stroke="#0607b0"/>
<rect x="514.21" y="185.69" width="11.84" height="9.63" fill="#0909f1" stroke="#0707b0"/>
<rect x="526.05" y="185.69" width="11.85" height="9.63" fill="#0909ec" stroke="#0707af"/>
<rect x="537.89" y="185.69" width="11.85" height="9.63" fill="#0909e6" stroke="#0707ad"/>
<rect x="549.74" y="185.69" width="11.85" height="9.63" fill="#0909e0" stroke="#0707ac"/>
<rect x="561.59" y="185.69" width="11.85" height="9.63" fill="#0909da" stroke="#0707aa"/>
<rect x="573.43" y="185.69" width="11.84" height="9.63" fill="#0909d4" stroke="#0707a8"/>
<rect x="585.27" y="185.69" width="11.85" height="9.63" fill="#0909ce" stroke="#0707a6"/>
<rect x="597.12" y="185.69" width="11.85" height="9.63" fill="#0909c8" stroke="#0707a4"/>
<rect x="608.97" y="185.69" width="11.85" height="9.63" fill="#0909c3" stroke="#0707a2"/>
<rect x="620.81" y="185.69" width="11.85" height="9.63" fill="#0909bd" stroke="#0808a0"/>
<rect x="632.66" y="185.69" width="11.84" height="9.63" fill="#0909b8" stroke="#08089e"/>
<rect x="644.50" y="185.69" width="11.85" height="9.63" fill="#0909b3" stroke="#08089c"/>
<rect x="656.35" y="185.69" width="11.85" height="9.63" fill="#0909ae" stroke="#08089a"/>
<rect x="668.19" y="185.69" width="11.85" height="9.63" fill="#0909aa" stroke="#080899"/>
<rect x="680.04" y="185.69" width="11.84" height="9.63" fill="#0909a6" stroke="#080897"/>
<rect x="691.88" y="185.69" width="11.85" height="9.63" fill="#0909a3" stroke="#080896"/>
<rect x="703.73" y="185.69" width="11.85" height="9.63" fill="#0909a0" stroke="#080895"/>
<rect x="715.57" y="185.69" width="11.85" height="9.63" fill="#09099d" stroke="#080894"/>
<rect x="727.42" y="185.69" width="11.84" height="9.63" fill="#09099a" stroke="#080892"/>
<rect x="739.26" y="185.69" width="11.85" height="9.63" fill="#090997" stroke="#080890"/>
<rect x="751.11" y="185.69" width="11.85" height="9.63" fill="#090995" stroke="#08088e"/>
<rect x="762.95" y="185.69" width="11.85" height="9.63" fill="#090993" stroke="#08088c"/>
<rect x="774.80" y="185.69" width="11.84" height="9.63" fill="#090992" stroke="#08088a"/>
<rect x="786.64" y="185.69" width="11.85" height="9.63" fill="#090990" stroke="#080889"/>
<rect x="798.49" y="185.69" width="11.85" height="9.63" fill="#09098e" stroke="#080887"/>
<rect x="810.33" y="185.69" width="11.85" height="9.63" fill="#09098d" stroke="#080886"/>
<rect x="822.18" y="185.69" width="11.85" height="9.63" fill="#09098c" stroke="#080885"/>
<rect x="834.02" y="185.69" width="12.98" height="9.63" fill="#09098b" stroke="#080884"/>
<rect x="49.00" y="195.32" width="3.25" height="9.63" fill="#095ef5" stroke="#053489"/>
<rect x="52.25" y="195.32" width="11.84" height="9.63" fill="#0961f5" stroke="#053587"/>
<rect x="64.09" y="195.32" width="11.84" height="9.63" fill="#0969f5" stroke="#053984"/>
<rect x="75.94" y="195.32" width="11.84" height="9.63" fill="#0976f5" stroke="#053d7e"/>
<rect x="87.78" y="195.32" width="11.84" height="9.63" fill="#0985f5" stroke="#04437a"/>
<rect x="99.63" y="195.32" width="11.84" height="9.63" fill="#0995f5" stroke="#044a7a"/>
<rect x="111.47" y="195.32" width="11.85" height="9.63" fill="#09a3f5" stroke="#04517a"/>
<rect x="123.32" y="195.32" width="11.85" height="9.63" fill="#09aef5" stroke="#04577a"/>
<rect x="135.17" y="195.32" width="11.84" height="9.63" fill="#09b4f5" stroke="#045a7a"/>
<rect x="147.01" y="195.32" width="11.85" height="9.63" fill="#09b6f5" stroke="#045b7a"/>
<rect x="158.86" y="195.32" width="11.84" height="9.63" fill="#09b4f5" stroke="#045a7a"/>
<rect x="170.70" y="195.32" width="11.85" height="9.63" fill="#09aff5" stroke="#04587a"/>
<rect x="182.55" y="195.32" width="11.84" height="9.63" fill="#09a9f5" stroke="#04557a"/>
<rect x="194.39" y="195.32" width="11.84" height="9.63" fill="#09a2f5" stroke="#04517a"/>
<rect x="206.24" y="195.32" width="11.84" height="9.63" fill="#099cf5" stroke="#044e7a"/>
<rect x="218.08" y="195.32" width="11.84" height="9.63" fill="#0996f5" stroke="#044b7a"/>
<rect x="229.93" y="195.32" width="11.84" height="9.63" fill="#0990f5" stroke="#04487a"/>
<rect x="241.77" y="195.32" width="11.84" height="9.63" fill="#098af5" stroke="#04457a"/>
<rect x="253.62" y="195.32" width="11.85" height="9.63" fill="#0982f5" stroke="#04417a"/>
<rect x="265.46" y="195.32" width="11.84" height="9.63" fill="#0979f5" stroke="#053e7d"/>
<rect x="277.31" y="195.32" width="11.84" height="9.63" fill="#096ff5" stroke="#053a81"/>
<rect x="289.15" y="195.32" width="11.85" height="9.63" fill="#0964f5" stroke="#053786"/>
<rect x="301.00" y="195.32" width="11.85" height="9.63" fill="#0958f5" stroke="#05328b"/>
<rect x="312.84" y="195.32" width="11.84" height="9.63" fill="#094df5" stroke="#052d90"/>
<rect x="324.69" y="195.32" width="11.85" height="9.63" fill="#0943f5" stroke="#052995"/>
<rect x="336.53" y="195.32" width="11.84" height="9.63" fill="#093bf5" stroke="#062598"/>
<rect x="348.38" y="195.32" width="11.85" height="9.63" fill="#0935f5" stroke="#06229b"/>
<rect x="360.22" y="195.32" width="11.84" height="9.63" fill="#0931f5" stroke="#06209d"/>
<rect x="372.06" y="195.32" width="11.85" height="9.63" fill="#092ff5" stroke="#061e9e"/>
<rect x="383.91" y="195.32" width="11.84" height="9.63" fill="#092ef5" stroke="#061e9e"/>
<rect x="395.75" y="195.32" width="11.85" height="9.63" fill="#092ef5" stroke="#061e9e"/>
<rect x="407.60" y="195.32" width="11.84" height="9.63" fill="#092ef5" stroke="#061e9e"/>
<rect x="419.44" y="195.32" width="11.85" height="9.63" fill="#092ff5" stroke="#061e9e"/>
<rect x="431.29" y="195.32" width="11.85" height="9.63" fill="#092ef5" stroke="#061e9e"/>
<rect x="443.14" y="195.32" width="11.84" height="9.63" fill="#092df5" stroke="#061d9f"/>
<rect x="454.98" y="195.32" width="11.85" height="9.63" fill="#092cf5" stroke="#061ca0"/>
<rect x="466.83" y="195.32" width="11.84" height="9.63" fill="#0929f5" stroke="#061ba1"/>
<rect x="478.67" y="195.32" width="11.85" height="9.63" fill="#0926f5" stroke="#0619a3"/>
<rect x="490.52" y="195.32" width="11.84" height="9.63" fill="#0921f5" stroke="#0616a5"/>
<rect x="502.36" y="195.32" width="11.85" height="9.63" fill="#091cf5" stroke="#0613a7"/>
<rect x="514.21" y="195.32" width="11.84" height="9.63" fill="#0917f5" stroke="#0610aa"/>
<rect x="526.05" y="195.32" width="11.85" height="9.63" fill="#0910f5" stroke="#060cad"/>
<rect x="537.89" y="195.32" width="11.85" height="9.63" fill="#090af5" stroke="#0607b0"/>
<rect x="549.74" y="195.32" width="11.85" height="9.63" fill="#0909ee" stroke="#0707af"/>
<rect x="561.59" y="195.32" width="11.85" height="9.63" fill="#0909e7" stroke="#0707ad"/>
<rect x="573.43" y="195.32" width="11.84" height="9.63" fill="#0909e0" stroke="#0707ab"/>
<rect x="585.27" y="195.32" width="11.85" height="9.63" fill="#0909d9" stroke="#0707a9"/>
<rect x="597.12" y="195.32" width="11.85" height="9.63" fill="#0909d2" stroke="#0707a7"/>
<rect x="608.97" y="195.32" width="11.85" height="9.63" fill="#0909cb" stroke="#0707a5"/>
<rect x="620.81" y="195.32" width="11.85" height="9.63" fill="#0909c4" stroke="#0707a3"/>
<rect x="632.66" y="195.32" width="11.84" height="9.63" fill="#0909be" stroke="#0808a0"/>
<rect x="644.50" y="195.32" width="11.85" height="9.63" fill="#0909b8" stroke="#08089e"/>
<rect x="656.35" y="195.32" width="11.85" height="9.63" fill="#0909b2" stroke="#08089c"/>
<rect x="668.19" y="195.32" width="11.85" height="9.63" fill="#0909ad" stroke="#08089a"/>
<rect x="680.04" y="195.32" width="11.84" height="9.63" fill="#0909a9" stroke="#080898"/>
<rect x="691.88" y="195.32" width="11.85" height="9.63" fill="#0909a5" stroke="#080896"/>
<rect x="703.73" y="195.32" width="11.85" height="9.63" fill="#0909a1" stroke="#080895"/>
<rect x="715.57" y="195.32" width="11.85" height="9.63" fill="#09099d" stroke="#080894"/>
<rect x="727.42" y="195.32" width="11.84" height="9.63" fill="#09099a" stroke="#080893"/>
<rect x="739.26" y="195.32" width="11.85" height="9.63" fill="#090998" stroke="#080890"/>
<rect x="751.11" y="195.32" width="11.85" height="9.63" fill="#090995" stroke="#08088e"/>
<rect x="762.95" y="195.32" width="11.85" height="9.63" fill="#090993" stroke="#08088c"/>
<rect x="774.80" y="195.32" width="11.84" height="9.63" fill="#090991" stroke="#08088a"/>
<rect x="786.64" y="195.32" width="11.85" height="9.63" fill="#090990" stroke="#080888"/>
<rect x="798.49" y="195.32" width="11.85" height="9.63" fill="#09098e" stroke="#080887"/>
<rect x="810.33" y="195.32" width="11.85" height="9.63" fill="#09098d" stroke="#080886"/>
<rect x="822.18" y="195.32" width="11.85" height="9.63" fill="#09098c" stroke="#080885"/>
<rect x="834.02" y="195.32" width="12.98" height="9.63" fill="#09098b" stroke="#080884"/>
<rect x="49.00" y="204.94" width="3.25" height="9.63" fill="#0972f5" stroke="#053c80"/>
<rect x="52.25" y="204.94" width="11.84" height="9.63" fill="#0977f5" stroke="#053d7d"/>
<rect x="64.09" y="204.94" width="11.84" height="9.63" fill="#0982f5" stroke="#04417a"/>
<rect x="75.94" y="204.94" width="11.84" height="9.63" fill="#0991f5" stroke="#04497a"/>
<rect x="87.78" y="204.94" width="11.84" height="9.63" fill="#09a3f5" stroke="#04527a"/>
<rect x="99.63" y="204.94" width="11.84" height="9.63" fill="#09b5f5" stroke="#045b7a"/>
<rect x="111.47" y="204.94" width="11.85" height="9.63" fill="#09c6f5" stroke="#04637a"/>
<rect x="123.32" y="204.94" width="11.85" height="9.63" fill="#09d2f5" stroke="#04697a"/>
<rect x="135.17" y="204.94" width="11.84" height="9.63" fill="#09daf5" stroke="#046d7a"/>
<rect x="147.01" y="204.94" width="11.85" height="9.63" fill="#09dcf5" stroke="#046e7a"/>
<rect x="158.86" y="204.94" width="11.84" height="9.63" fill="#09daf5" stroke="#046d7a"/>
<rect x="170.70" y="204.94" width="11.85" height="9.63" fill="#09d5f5" stroke="#046b7a"/>
<rect x="182.55" y="204.94" width="11.84" height="9.63" fill="#09cff5" stroke="#04677a"/>
<rect x="194.39" y="204.94" width="11.84" height="9.63" fill="#09c7f5" stroke="#04647a"/>
<rect x="206.24" y="204.94" width="11.84" height="9.63" fill="#09c0f5" stroke="#04607a"/>
<rect x="218.08" y="204.94" width="11.84" height="9.63" fill="#09b9f5" stroke="#045d7a"/>
<rect x="229.93" y="204.94" width="11.84" height="9.63" fill="#09b2f5" stroke="#04597a"/>
<rect x="241.77" y="204.94" width="11.84" height="9.63" fill="#09aaf5" stroke="#04557a"/>
<rect x="253.62" y="204.94" width="11.85" height="9.63" fill="#09a1f5" stroke="#04517a"/>
<rect x="265.46" y="204.94" width="11.84" height="9.63" fill="#0996f5" stroke="#044b7a"/>
<rect x="277.31" y="204.94" width="11.84" height="9.63" fill="#098af5" stroke="#04457a"/>
<rect x="289.15" y="204.94" width="11.85" height="9.63" fill="#097df5" stroke="#043f7b"/>
<rect x="301.00" y="204.94" width="11.85" height="9.63" fill="#096ff5" stroke="#053a81"/>
<rect x="312.84" y="204.94" width="11.84" height="9.63" fill="#0962f5" stroke="#053687"/>
<rect x="324.69" y="204.94" width="11.85" height="9.63" fill="#0957f5" stroke="#05328c"/>
<rect x="336.53" y="204.94" width="11.84" height="9.63" fill="#094ef5" stroke="#052e90"/>
<rect x="348.38" y="204.94" width="11.85" height="9.63" fill="#0948f5" stroke="#052b93"/>
<rect x="360.22" y="204.94" width="11.84" height="9.63" fill="#0944f5" stroke="#052994"/>
<rect x="372.06" y="204.94" width="11.85" height="9.63" fill="#0942f5" stroke="#052895"/>
<rect x="383.91" y="204.94" width="11.84" height="9.63" fill="#0941f5" stroke="#052895"/>
<rect x="395.75" y="204.94" width="11.85" height="9.63" fill="#0942f5" stroke="#052895"/>
<rect x="407.60" y="204.94" width="11.84" height="9.63" fill="#0943f5" stroke="#052995"/>
<rect x="419.44" y="204.94" width="11.85" height="9.63" fill="#0944f5" stroke="#052994"/>
<rect x="431.29" y="204.94" width="11.85" height="9.63" fill="#0944f5" stroke="#052994"/>
<rect x="443.14" y="204.94" width="11.84" height="9.63" fill="#0943f5" stroke="#052995"/>
<rect x="454.98" y="204.94" width="11.85" height="9.63" fill="#0942f5" stroke="#052895"/>
<rect x="466.83" y="204.94" width="11.84" height="9.63" fill="#093ff5" stroke="#052796"/>
<rect x="478.67" y="204.94" width="11.85" height="9.63" fill="#093cf5" stroke="#062598"/>
<rect x="490.52" y="204.94" width="11.84" height="9.63" fill="#0937f5" stroke="#06239a"/>
<rect x="502.36" y="204.94" width="11.85" height="9.63" fill="#0932f5" stroke="#06209d"/>
<rect x="514.21" y="204.94" width="11.84" height="9.63" fill="#092bf5" stroke="#061ca0"/>
<rect x="526.05" y="204.94" width="11.85" height="9.63" fill="#0924f5" stroke="#0618a3"/>
<rect x="537.89" y="204.94" width="11.85" height="9.63" fill="#091df5" stroke="#0614a7"/>
<rect x="549.74" y="204.94" width="11.85" height="9.63" fill="#0915f5" stroke="#060fab"/>
<rect x="561.59" y="204.94" width="11.85" height="9.63" fill="#090df5" stroke="#0609af"/>
<rect x="573.43" y="204.94" width="11.84" height="9.63" fill="#0909f0" stroke="#0707b0"/>
<rect x="585.27" y="204.94" width="11.85" height="9.63" fill="#0909e8" stroke="#0707ad"/>
<rect x="597.12" y="204.94" width="11.85" height="9.63" fill="#0909df" stroke="#0707ab"/>
<rect x="608.97" y="204.94" width="11.85" height="9.63" fill="#0909d7" stroke="#0707a9"/>
<rect x="620.81" y="204.94" width="11.85" height="9.63" fill="#0909cf" stroke="#0707a6"/>
<rect x="632.66" y="204.94" width="11.84" height="9.63" fill="#0909c8" stroke="#0707a4"/>
<rect x="644.50" y="204.94" width="11.85" height="9.63" fill="#0909c1" stroke="#0707a1"/>
<rect x="656.35" y="204.94" width="11.85" height="9.63" fill="#0909ba" stroke="#08089f"/>
<rect x="668.19" y="204.94" width="11.85" height="9.63" fill="#0909b4" stroke="#08089d"/>
<rect x="680.04" y="204.94" width="11.84" height="9.63" fill="#0909af" stroke="#08089a"/>
<rect x="691.88" y="204.94" width="11.85" height="9.63" fill="#0909aa" stroke="#080899"/>
<rect x="703.73" y="204.94" width="11.85" height="9.63" fill="#0909a5" stroke="#080897"/>
<rect x="715.57" y="204.94" width="11.85" height="9.63" fill="#0909a1" stroke="#080895"/>
<rect x="727.42" y="204.94" width="11.84" height="9.63" fill="#09099e" stroke="#080894"/>
<rect x="739.26" y="204.94" width="11.85" height="9.63" fill="#09099b" stroke="#080893"/>
<rect x="751.11" y="204.94" width="11.85" height="9.63" fill="#090998" stroke="#080890"/>
<rect x="762.95" y="204.94" width="11.85" height="9.63" fill="#090995" stroke="#08088e"/>
<rect x="774.80" y="204.94" width="11.84" height="9.63" fill="#090993" stroke="#08088c"/>
<rect x="786.64" y="204.94" width="11.85" height="9.63" fill="#090991" stroke="#08088a"/>
<rect x="798.49" y="204.94" width="11.85" height="9.63" fill="#090990" stroke="#080889"/>
<rect x="810.33" y="204.94" width="11.85" height="9.63" fill="#09098e" stroke="#080887"/>
<rect x="822.18" y="204.94" width="11.85" height="9.63" fill="#09098d" stroke="#080886"/>
<rect x="834.02" y="204.94" width="12.98" height="9.63" fill="#09098c" stroke="#080885"/>
<rect x="49.00" y="214.57" width="3.25" height="9.63" fill="#098af5" stroke="#04457a"/>
<rect x="52.25" y="214.57" width="11.84" height="9.63" fill="#0992f5" stroke="#04497a"/>
<rect x="64.09" y="214.57" width="11.84" height="9.63" fill="#099ff5" stroke="#04507a"/>
<rect x="75.94" y="214.57" width="11.84" height="9.63" fill="#09b1f5" stroke="#04597a"/>
<rect x="87.78" y="214.57" width="11.84" height="9.63" fill="#09c6f5" stroke="#04637a"/>
<rect x="99.63" y="214.57" width="11.84" height="9.63" fill="#09dbf5" stroke="#046d7a"/>
<rect x="111.47" y="214.57" width="11.85" height="9.63" fill="#09eef5" stroke="#04777a"/>
<rect x="123.32" y="214.57" width="11.85" height="9.63" fill="#11f4ec" stroke="#097a76"/>
<rect x="135.17" y="214.57" width="11.84" height="9.63" fill="#1af4e3" stroke="#0d7a72"/>
<rect x="147.01" y="214.57" width="11.85" height="9.63" fill="#1ef4e0" stroke="#0f7a70"/>
<rect x="158.86" y="214.57" width="11.84" height="9.63" fill="#1cf4e2" stroke="#0e7a71"/>
<rect x="170.70" y="214.57" width="11.85" height="9.63" fill="#17f4e7" stroke="#0b7a73"/>
<rect x="182.55" y="214.57" width="11.84" height="9.63" fill="#0ff4ee" stroke="#087a77"/>
<rect x="194.39" y="214.57" width="11.84" height="9.63" fill="#09f2f5" stroke="#04797a"/>
<rect x="206.24" y="214.57" width="11.84" height="9.63" fill="#09eaf5" stroke="#04757a"/>
<rect x="218.08" y="214.57" width="11.84" height="9.63" fill="#09e2f5" stroke="#04717a"/>
<rect x="229.93" y="214.57" width="11.84" height="9.63" fill="#09d9f5" stroke="#046d7a"/>
<rect x="241.77" y="214.57" width="11.84" height="9.63" fill="#09d0f5" stroke="#04687a"/>
<rect x="253.62" y="214.57" width="11.85" height="9.63" fill="#09c4f5" stroke="#04627a"/>
<rect x="265.46" y="214.57" width="11.84" height="9.63" fill="#09b7f5" stroke="#045b7a"/>
<rect x="277.31" y="214.57" width="11.84" height="9.63" fill="#09a7f5" stroke="#04547a"/>
<rect x="289.15" y="214.57" width="11.85" height="9.63" fill="#0997f5" stroke="#044c7a"/>
<rect x="301.00" y="214.57" width="11.85" height="9.63" fill="#0987f5" stroke="#04437a"/>
<rect x="312.84" y="214.57" width="11.84" height="9.63" fill="#0978f5" stroke="#053d7d"/>
<rect x="324.69" y="214.57" width="11.85" height="9.63" fill="#096bf5" stroke="#053983"/>
<rect x="336.53" y="214.57" width="11.84" height="9.63" fill="#0960f5" stroke="#053587"/>
<rect x="348.38" y="214.57" width="11.85" height="9.63" fill="#0959f5" stroke="#05328b"/>
<rect x="360.22" y="214.57" width="11.84" height="9.63" fill="#0955f5" stroke="#05318d"/>
<rect x="372.06" y="214.57" width="11.85" height="9.63" fill="#0953f5" stroke="#05308e"/>
<rect x="383.91" y="214.57" width="11.84" height="9.63" fill="#0952f5" stroke="#05308e"/>
<rect x="395.75" y="214.57" width="11.85" height="9.63" fill="#0953f5" stroke="#05308d"/>
<rect x="407.60" y="214.57" width="11.84" height="9.63" fill="#0955f5" stroke="#05318d"/>
<rect x="419.44" y="214.57" width="11.85" height="9.63" fill="#0956f5" stroke="#05318c"/>
<rect x="431.29" y="214.57" width="11.85" height="9.63" fill="#0957f5" stroke="#05318c"/>
<rect x="443.14" y="214.57" width="11.84" height="9.63" fill="#0957f5" stroke="#05318c"/>
<rect x="454.98" y="214.57" width="11.85" height="9.63" fill="#0955f5" stroke="#05318c"/>
<rect x="466.83" y="214.57" width="11.84" height="9.63" fill="#0953f5" stroke="#05308d"/>
<rect x="478.67" y="214.57" width="11.85" height="9.63" fill="#0950f5" stroke="#052f8f"/>
<rect x="490.52" y="214.57" width="11.84" height="9.63" fill="#094bf5" stroke="#052d91"/>
<rect x="502.36" y="214.57" width="11.85" height="9.63" fill="#0946f5" stroke="#052a93"/>
<rect x="514.21" y="214.57" width="11.84" height="9.63" fill="#093ff5" stroke="#052796"/>
<rect x="526.05" y="214.57" width="11.85" height="9.63" fill="#0938f5" stroke="#06239a"/>
<rect x="537.89" y="214.57" width="11.85" height="9.63" fill="#0930f5" stroke="#061f9e"/>
<rect x="549.74" y="214.57" width="11.85" height="9.63" fill="#0927f5" stroke="#061aa2"/>
<rect x="561.59" y="214.57" width="11.85" height="9.63" fill="#091ef5" stroke="#0614a6"/>
<rect x="573.43" y="214.57" width="11.84" height="9.63" fill="#0915f5" stroke="#060fab"/>
<rect x="585.27" y="214.57" width="11.85" height="9.63" fill="#090cf5" stroke="#0608af"/>
<rect x="597.12" y="214.57" width="11.85" height="9.63" fill="#0909ef" stroke="#0707af"/>
<rect x="608.97" y="214.57" width="11.85" height="9.63" fill="#0909e5" stroke="#0707ad"/>
<rect x="620.81" y="214.57" width="11.85" height="9.63" fill="#0909dd" stroke="#0707ab"/>
<rect x="632.66" y="214.57" width="11.84" height="9.63" fill="#0909d4" stroke="#0707a8"/>
<rect x="644.50" y="214.57" width="11.85" height="9.63" fill="#0909cc" stroke="#0707a5"/>
<rect x="656.35" y="214.57" width="11.85" height="9.63" fill="#0909c5" stroke="#0707a3"/>
<rect x="668.19" y="214.57" width="11.85" height="9.63" fill="#0909be" stroke="#0808a0"/>
<rect x="680.04" y="214.57" width="11.84" height="9.63" fill="#0909b8" stroke="#08089e"/>
<rect x="691.88" y="214.57" width="11.85" height="9.63" fill="#0909b2" stroke="#08089c"/>
<rect x="703.73" y="214.57" width="11.85" height="9.63" fill="#0909ad" stroke="#08089a"/>
<rect x="715.57" y="214.57" width="11.85" height="9.63" fill="#0909a8" stroke="#080898"/>
<rect x="727.42" y="214.57" width="11.84" height="9.63" fill="#0909a4" stroke="#080896"/>
<rect x="739.26" y="214.57" width="11.85" height="9.63" fill="#0909a0" stroke="#080895"/>
<rect x="751.11" y="214.57" width="11.85" height="9.63" fill="#09099d" stroke="#080894"/>
<rect x="762.95" y="214.57" width="11.85" height="9.63" fill="#09099a" stroke="#080892"/>
<rect x="774.80" y="214.57" width="11.84" height="9.63" fill="#090997" stroke="#080890"/>
<rect x="786.64" y="214.57" width="11.85" height="9.63" fill="#090995" stroke="#08088d"/>
<rect x="798.49" y="214.57" width="11.85" height="9.63" fill="#090993" stroke="#08088c"/>
<rect x="810.33" y="214.57" width="11.85" height="9.63" fill="#090991" stroke="#08088a"/>
<rect x="822.18" y="214.57" width="11.85" height="9.63" fill="#090990" stroke="#080889"/>
<rect x="834.02" y="214.57" width="12.98" height="9.63" fill="#09098e" stroke="#080887"/>
<rect x="49.00" y="224.20" width="3.25" height="9.63" fill="#09a5f5" stroke="#04537a"/>
<rect x="52.25" y="224.20" width="11.84" height="9.63" fill="#09aff5" stroke="#04587a"/>
<rect x="64.09" y="224.20" width="11.84" height="9.63" fill="#09c0f5" stroke="#04607a"/>
<rect x="75.94" y="224.20" width="11.84" height="9.63" fill="#09d5f5" stroke="#046a7a"/>
<rect x="87.78" y="224.20" width="11.84" height="9.63" fill="#09edf5" stroke="#04767a"/>
<rect x="99.63" y="224.20" width="11.84" height="9.63" fill="#1af4e4" stroke="#0d7a72"/>
<rect x="111.47" y="224.20" width="11.85" height="9.63" fill="#2ff4ce" stroke="#187a67"/>
<rect x="123.32" y="224.20" width="11.85" height="9.63" fill="#40f4bd" stroke="#207a5f"/>
<rect x="135.17" y="224.20" width="11.84" height="9.63" fill="#4af4b3" stroke="#257a5a"/>
<rect x="147.01" y="224.20" width="11.85" height="9.63" fill="#4ef4af" stroke="#277a57"/>
<rect x="158.86" y="224.20" width="11.84" height="9.63" fill="#4df4b0" stroke="#267a58"/>
<rect x="170.70" y="224.20" width="11.85" height="9.63" fill="#47f4b6" stroke="#247a5b"/>
<rect x="182.55" y="224.20" width="11.84" height="9.63" fill="#3ff4be" stroke="#207a5f"/>
<rect x="194.39" y="224.20" width="11.84" height="9.63" fill="#37f4c7" stroke="#1b7a63"/>
<rect x="206.24" y="224.20" width="11.84" height="9.63" fill="#2df4d0" stroke="#177a68"/>
<rect x="218.08" y="224.20" width="11.84" height="9.63" fill="#24f4da" stroke="#127a6d"/>
<rect x="229.93" y="224.20" width="11.84" height="9.63" fill="#19f4e4" stroke="#0d7a72"/>
<rect x="241.77" y="224.20" width="11.84" height="9.63" fill="#0df4f0" stroke="#077a78"/>
<rect x="253.62" y="224.20" width="11.85" height="9.63" fill="#09eaf5" stroke="#04757a"/>
<rect x="265.46" y="224.20" width="11.84" height="9.63" fill="#09d9f5" stroke="#046c7a"/>
<rect x="277.31" y="224.20" width="11.84" height="9.63" fill="#09c6f5" stroke="#04637a"/>
<rect x="289.15" y="224.20" width="11.85" height="9.63" fill="#09b2f5" stroke="#04597a"/>
<rect x="301.00" y="224.20" width="11.85" height="9.63" fill="#099ef5" stroke="#044f7a"/>
<rect x="312.84" y="224.20" width="11.84" height="9.63" fill="#098cf5" stroke="#04467a"/>
<rect x="324.69" y="224.20" width="11.85" height="9.63" fill="#097cf5" stroke="#043f7b"/>
<rect x="336.53" y="224.20" width="11.84" height="9.63" fill="#0970f5" stroke="#053b81"/>
<rect x="348.38" y="224.20" width="11.85" height="9.63" fill="#0967f5" stroke="#053884"/>
<rect x="360.22" y="224.20" width="11.84" height="9.63" fill="#0962f5" stroke="#053687"/>
<rect x="372.06" y="224.20" width="11.85" height="9.63" fill="#095ff5" stroke="#053588"/>
<rect x="383.91" y="224.20" width="11.84" height="9.63" fill="#095ff5" stroke="#053588"/>
<rect x="395.75" y="224.20" width="11.85" height="9.63" fill="#0960f5" stroke="#053588"/>
<rect x="407.60" y="224.20" width="11.84" height="9.63" fill="#0962f5" stroke="#053687"/>
<rect x="419.44" y="224.20" width="11.85" height="9.63" fill="#0963f5" stroke="#053686"/>
<rect x="431.29" y="224.20" width="11.85" height="9.63" fill="#0964f5" stroke="#053786"/>
<rect x="443.14" y="224.20" width="11.84" height="9.63" fill="#0965f5" stroke="#053785"/>
<rect x="454.98" y="224.20" width="11.85" height="9.63" fill="#0964f5" stroke="#053786"/>
<rect x="466.83" y="224.20" width="11.84" height="9.63" fill="#0962f5" stroke="#053687"/>
<rect x="478.67" y="224.20" width="11.85" height="9.63" fill="#095ff5" stroke="#053588"/>
<rect x="490.52" y="224.20" width="11.84" height="9.63" fill="#095bf5" stroke="#05338a"/>
<rect x="502.36" y="224.20" width="11.85" height="9.63" fill="#0955f5" stroke="#05318c"/>
<rect x="514.21" y="224.20" width="11.84" height="9.63" fill="#094ff5" stroke="#052e8f"/>
<rect x="526.05" y="224.20" width="11.85" height="9.63" fill="#0947f5" stroke="#052b93"/>
<rect x="537.89" y="224.20" width="11.85" height="9.63" fill="#093ff5" stroke="#052796"/>
<rect x="549.74" y="224.20" width="11.85" height="9.63" fill="#0936f5" stroke="#06229a"/>
<rect x="561.59" y="224.20" width="11.85" height="9.63" fill="#092df5" stroke="#061d9f"/>
<rect x="573.43" y="224.20" width="11.84" height="9.63" fill="#0924f5" stroke="#0618a3"/>
<rect x="585.27" y="224.20" width="11.85" height="9.63" fill="#091af5" stroke="#0612a8"/>
<rect x="597.12" y="224.20" width="11.85" height="9.63" fill="#0911f5" stroke="#060cad"/>
<rect x="608.97" y="224.20" width="11.85" height="9.63" fill="#0909f3" stroke="#0606b0"/>
<rect x="620.81" y="224.20" width="11.85" height="9.63" fill="#0909ea" stroke="#0707ae"/>
<rect x="632.66" y="224.20" width="11.84" height="9.63" fill="#0909e1" stroke="#0707ac"/>
<rect x="644.50" y="224.20" width="11.85" height="9.63" fill="#0909d8" stroke="#0707a9"/>
<rect x="656.35" y="224.20" width="11.85" height="9.63" fill="#0909d0" stroke="#0707a7"/>
<rect x="668.19" y="224.20" width="11.85" height="9.63" fill="#0909c9" stroke="#0707a4"/>
<rect x="680.04" y="224.20" width="11.84" height="9.63" fill="#0909c2" stroke="#0707a2"/>
<rect x="691.88" y="224.20" width="11.85" height="9.63" fill="#0909bb" stroke="#08089f"/>
<rect x="703.73" y="224.20" width="11.85" height="9.63" fill="#0909b5" stroke="#08089d"/>
<rect x="715.57" y="224.20" width="11.85" height="9.63" fill="#0909b0" stroke="#08089b"/>
<rect x="727.42" y="224.20" width="11.84" height="9.63" fill="#0909ab" stroke="#080899"/>
<rect x="739.26" y="224.20" width="11.85" height="9.63" fill="#0909a7" stroke="#080897"/>
<rect x="751.11" y="224.20" width="11.85" height="9.63" fill="#0909a3" stroke="#080896"/>
<rect x="762.95" y="224.20" width="11.85" height="9.63" fill="#0909a0" stroke="#080895"/>
<rect x="774.80" y="224.20" width="11.84" height="9.63" fill="#09099d" stroke="#080894"/>
<rect x="786.64" y="224.20" width="11.85" height="9.63" fill="#09099a" stroke="#080892"/>
<rect x="798.49" y="224.20" width="11.85" height="9.63" fill="#090998" stroke="#080890"/>
<rect x="810.33" y="224.20" width="11.85" height="9.63" fill="#090996" stroke="#08088e"/>
<rect x="822.18" y="224.20" width="11.85" height="9.63" fill="#090994" stroke="#08088c"/>
<rect x="834.02" y="224.20" width="12.98" height="9.63" fill="#090992" stroke="#08088b"/>
<rect x="49.00" y="233.82" width="3.25" height="9.63" fill="#09c2f5" stroke="#04617a"/>
<rect x="52.25" y="233.82" width="11.84" height="9.63" fill="#09cff5" stroke="#04687a"/>
<rect x="64.09" y="233.82" width="11.84" height="9.63" fill="#09e3f5" stroke="#04717a"/>
<rect x="75.94" y="233.82" width="11.84" height="9.63" fill="#10f4ed" stroke="#087a77"/>
<rect x="87.78" y="233.82" width="11.84" height="9.63" fill="#2bf4d2" stroke="#167a69"/>
<rect x="99.63" y="233.82" width="11.84" height="9.63" fill="#46f4b7" stroke="#237a5b"/>
<rect x="111.47" y="233.82" width="11.85" height="9.63" fill="#5ef49f" stroke="#2f7a4f"/>
<rect x="123.32" y="233.82" width="11.85" height="9.63" fill="#71f48c" stroke="#387a46"/>
<rect x="135.17" y="233.82" width="11.84" height="9.63" fill="#7df480" stroke="#3e7a40"/>
<rect x="147.01" y="233.82" width="11.85" height="9.63" fill="#82f47b" stroke="#417a3d"/>
<rect x="158.86" y="233.82" width="11.84" height="9.63" fill="#80f47c" stroke="#407a3e"/>
<rect x="170.70" y="233.82" width="11.85" height="9.63" fill="#7bf481" stroke="#3e7a41"/>
<rect x="182.55" y="233.82" width="11.84" height="9.63" fill="#73f48a" stroke="#397a45"/>
<rect x="194.39" y="233.82" width="11.84" height="9.63" fill="#69f494" stroke="#357a4a"/>
<rect x="206.24" y="233.82" width="11.84" height="9.63" fill="#5ff49e" stroke="#2f7a4f"/>
<rect x="218.08" y="233.82" width="11.84" height="9.63" fill="#54f4a9" stroke="#2a7a55"/>
<rect x="229.93" y="233.82" width="11.84" height="9.63" fill="#47f4b6" stroke="#237a5b"/>
<rect x="241.77" y="233.82" width="11.84" height="9.63" fill="#38f4c5" stroke="#1c7a63"/>
<rect x="253.62" y="233.82" width="11.85" height="9.63" fill="#26f4d7" stroke="#137a6c"/>
<rect x="265.46" y="233.82" width="11.84" height="9.63" fill="#11f4ec" stroke="#097a76"/>
<rect x="277.31" y="233.82" width="11.84" height="9.63" fill="#09e5f5" stroke="#04727a"/>
<rect x="289.15" y="233.82" width="11.85" height="9.63" fill="#09cdf5" stroke="#04667a"/>
<rect x="301.00" y="233.82" width="11.85" height="9.63" fill="#09b5f5" stroke="#045a7a"/>
<rect x="312.84" y="233.82" width="11.84" height="9.63" fill="#099ff5" stroke="#044f7a"/>
<rect x="324.69" y="233.82" width="11.85" height="9.63" fill="#098cf5" stroke="#04467a"/>
<rect x="336.53" y="233.82" width="11.84" height="9.63" fill="#097df5" stroke="#043f7b"/>
<rect x="348.38" y="233.82" width="11.85" height="9.63" fill="#0973f5" stroke="#053c7f"/>
<rect x="360.22" y="233.82" width="11.84" height="9.63" fill="#096cf5" stroke="#053a82"/>
<rect x="372.06" y="233.82" width="11.85" height="9.63" fill="#0969f5" stroke="#053884"/>
<rect x="383.91" y="233.82" width="11.84" height="9.63" fill="#0968f5" stroke="#053884"/>
<rect x="395.75" y="233.82" width="11.85" height="9.63" fill="#0969f5" stroke="#053884"/>
<rect x="407.60" y="233.82" width="11.84" height="9.63" fill="#096af5" stroke="#053983"/>
<rect x="419.44" y="233.82" width="11.85" height="9.63" fill="#096cf5" stroke="#053a82"/>
<rect x="431.29" y="233.82" width="11.85" height="9.63" fill="#096ef5" stroke="#053a82"/>
<rect x="443.14" y="233.82" width="11.84" height="9.63" fill="#096ef5" stroke="#053a81"/>
<rect x="454.98" y="233.82" width="11.85" height="9.63" fill="#096ef5" stroke="#053a82"/>
<rect x="466.83" y="233.82" width="11.84" height="9.63" fill="#096cf5" stroke="#053982"/>
<rect x="478.67" y="233.82" width="11.85" height="9.63" fill="#0969f5" stroke="#053984"/>
<rect x="490.52" y="233.82" width="11.84" height="9.63" fill="#0965f5" stroke="#053785"/>
<rect x="502.36" y="233.82" width="11.85" height="9.63" fill="#0960f5" stroke="#053588"/>
<rect x="514.21" y="233.82" width="11.84" height="9.63" fill="#095af5" stroke="#05338a"/>
<rect x="526.05" y="233.82" width="11.85" height="9.63" fill="#0953f5" stroke="#05308e"/>
<rect x="537.89" y="233.82" width="11.85" height="9.63" fill="#094bf5" stroke="#052c91"/>
<rect x="549.74" y="233.82" width="11.85" height="9.63" fill="#0942f5" stroke="#052895"/>
<rect x="561.59" y="233.82" width="11.85" height="9.63" fill="#0939f5" stroke="#062499"/>
<rect x="573.43" y="233.82" width="11.84" height="9.63" fill="#0930f5" stroke="#061f9e"/>
<rect x="585.27" y="233.82" width="11.85" height="9.63" fill="#0926f5" stroke="#0619a2"/>
<rect x="597.12" y="233.82" width="11.85" height="9.63" fill="#091cf5" stroke="#0613a7"/>
<rect x="608.97" y="233.82" width="11.85" height="9.63" fill="#0913f5" stroke="#060dac"/>
<rect x="620.81" y="233.82" width="11.85" height="9.63" fill="#0909f5" stroke="#0607b0"/>
<rect x="632.66" y="233.82" width="11.84" height="9.63" fill="#0909ec" stroke="#0707af"/>
<rect x="644.50" y="233.82" width="11.85" height="9.63" fill="#0909e3" stroke="#0707ac"/>
<rect x="656.35" y="233.82" width="11.85" height="9.63" fill="#0909db" stroke="#0707aa"/>
<rect x="668.19" y="233.82" width="11.85" height="9.63" fill="#0909d3" stroke="#0707a8"/>
<rect x="680.04" y="233.82" width="11.84" height="9.63" fill="#0909cc" stroke="#0707a5"/>
<rect x="691.88" y="233.82" width="11.85" height="9.63" fill="#0909c5" stroke="#0707a3"/>
<rect x="703.73" y="233.82" width="11.85" height="9.63" fill="#0909be" stroke="#0808a1"/>
<rect x="715.57" y="233.82" width="11.85" height="9.63" fill="#0909b9" stroke="#08089e"/>
<rect x="727.42" y="233.82" width="11.84" height="9.63" fill="#0909b3" stroke="#08089c"/>
<rect x="739.26" y="233.82" width="11.85" height="9.63" fill="#0909af" stroke="#08089a"/>
<rect x="751.11" y="233.82" width="11.85" height="9.63" fill="#0909aa" stroke="#080899"/>
<rect x="762.95" y="233.82" width="11.85" height="9.63" fill="#0909a7" stroke="#080897"/>
<rect x="774.80" y="233.82" width="11.84" height="9.63" fill="#0909a3" stroke="#080896"/>
<rect x="786.64" y="233.82" width="11.85" height="9.63" fill="#0909a0" stroke="#080895"/>
<rect x="798.49" y="233.82" width="11.85" height="9.63" fill="#09099d" stroke="#080894"/>
<rect x="810.33" y="233.82" width="11.85" height="9.63" fill="#09099b" stroke="#080893"/>
<rect x="822.18" y="233.82" width="11.85" height="9.63" fill="#090999" stroke="#080891"/>
<rect x="834.02" y="233.82" width="12.98" height="9.63" fill="#090997" stroke="#08088f"/>
<rect x="49.00" y="243.45" width="3.25" height="9.63" fill="#09e0f5" stroke="#04707a"/>
<rect x="52.25" y="243.45" width="11.84" height="9.63" fill="#09f0f5" stroke="#04787a"/>
<rect x="64.09" y="243.45" width="11.84" height="9.63" fill="#1cf4e2" stroke="#0e7a71"/>
<rect x="75.94" y="243.45" width="11.84" height="9.63" fill="#38f4c6" stroke="#1c7a63"/>
<rect x="87.78" y="243.45" width="11.84" height="9.63" fill="#56f4a7" stroke="#2b7a53"/>
<rect x="99.63" y="243.45" width="11.84" height="9.63" fill="#74f489" stroke="#3a7a44"/>
<rect x="111.47" y="243.45" width="11.85" height="9.63" fill="#8ef46e" stroke="#477a37"/>
<rect x="123.32" y="243.45" width="11.85" height="9.63" fill="#a3f459" stroke="#517a2d"/>
<rect x="135.17" y="243.45" width="11.84" height="9.63" fill="#b0f44c" stroke="#587a26"/>
<rect x="147.01" y="243.45" width="11.85" height="9.63" fill="#b6f446" stroke="#5b7a23"/>
<rect x="158.86" y="243.45" width="11.84" height="9.63" fill="#b6f446" stroke="#5b7a23"/>
<rect x="170.70" y="243.45" width="11.85" height="9.63" fill="#b0f44c" stroke="#587a26"/>
<rect x="182.55" y="243.45" width="11.84" height="9.63" fill="#a8f454" stroke="#547a2a"/>
<rect x="194.39" y="243.45" width="11.84" height="9.63" fill="#9df45f" stroke="#4f7a2f"/>
<rect x="206.24" y="243.45" width="11.84" height="9.63" fill="#92f46a" stroke="#497a35"/>
<rect x="218.08" y="243.45" width="11.84" height="9.63" fill="#85f478" stroke="#427a3c"/>
<rect x="229.93" y="243.45" width="11.84" height="9.63" fill="#76f487" stroke="#3b7a43"/>
<rect x="241.77" y="243.45" width="11.84" height="9.63" fill="#64f499" stroke="#327a4d"/>
<rect x="253.62" y="243.45" width="11.85" height="9.63" fill="#4ef4af" stroke="#277a57"/>
<rect x="265.46" y="243.45" width="11.84" height="9.63" fill="#35f4c8" stroke="#1b7a64"/>
<rect x="277.31" y="243.45" width="11.84" height="9.63" fill="#1af4e4" stroke="#0d7a72"/>
<rect x="289.15" y="243.45" width="11.85" height="9.63" fill="#09e7f5" stroke="#04747a"/>
<rect x="301.00" y="243.45" width="11.85" height="9.63" fill="#09cbf5" stroke="#04667a"/>
<rect x="312.84" y="243.45" width="11.84" height="9.63" fill="#09b2f5" stroke="#04597a"/>
<rect x="324.69" y="243.45" width="11.85" height="9.63" fill="#099cf5" stroke="#044e7a"/>
<rect x="336.53" y="243.45" width="11.84" height="9.63" fill="#098af5" stroke="#04457a"/>
<rect x="348.38" y="243.45" width="11.85" height="9.63" fill="#097ef5" stroke="#043f7b"/>
<rect x="360.22" y="243.45" width="11.84" height="9.63" fill="#0976f5" stroke="#053d7e"/>
<rect x="372.06" y="243.45" width="11.85" height="9.63" fill="#0971f5" stroke="#053b80"/>
<rect x="383.91" y="243.45" width="11.84" height="9.63" fill="#0970f5" stroke="#053b81"/>
<rect x="395.75" y="243.45" width="11.85" height="9.63" fill="#0970f5" stroke="#053b80"/>
<rect x="407.60" y="243.45" width="11.84" height="9.63" fill="#0972f5" stroke="#053b80"/>
<rect x="419.44" y="243.45" width="11.85" height="9.63" fill="#0973f5" stroke="#053c7f"/>
<rect x="431.29" y="243.45" width="11.85" height="9.63" fill="#0975f5" stroke="#053c7e"/>
<rect x="443.14" y="243.45" width="11.84" height="9.63" fill="#0975f5" stroke="#053d7e"/>
<rect x="454.98" y="243.45" width="11.85" height="9.63" fill="#0975f5" stroke="#053c7e"/>
<rect x="466.83" y="243.45" width="11.84" height="9.63" fill="#0974f5" stroke="#053c7f"/>
<rect x="478.67" y="243.45" width="11.85" height="9.63" fill="#0971f5" stroke="#053b80"/>
<rect x="490.52" y="243.45" width="11.84" height="9.63" fill="#096df5" stroke="#053a82"/>
<rect x="502.36" y="243.45" width="11.85" height="9.63" fill="#0968f5" stroke="#053884"/>
<rect x="514.21" y="243.45" width="11.84" height="9.63" fill="#0962f5" stroke="#053686"/>
<rect x="526.05" y="243.45" width="11.85" height="9.63" fill="#095cf5" stroke="#05338a"/>
<rect x="537.89" y="243.45" width="11.85" height="9.63" fill="#0954f5" stroke="#05308d"/>
<rect x="549.74" y="243.45" width="11.85" height="9.63" fill="#094cf5" stroke="#052d91"/>
<rect x="561.59" y="243.45" width="11.85" height="9.63" fill="#0943f5" stroke="#052995"/>
<rect x="573.43" y="243.45" width="11.84" height="9.63" fill="#0939f5" stroke="#062499"/>
<rect x="585.27" y="243.45" width="11.85" height="9.63" fill="#0930f5" stroke="#061f9d"/>
<rect x="597.12" y="243.45" width="11.85" height="9.63" fill="#0927f5" stroke="#0619a2"/>
<rect x="608.97" y="243.45" width="11.85" height="9.63" fill="#091df5" stroke="#0614a7"/>
<rect x="620.81" y="243.45" width="11.85" height="9.63" fill="#0914f5" stroke="#060eab"/>
<rect x="632.66" y="243.45" width="11.84" height="9.63" fill="#090bf5" stroke="#0608b0"/>
<rect x="644.50" y="243.45" width="11.85" height="9.63" fill="#0909ee" stroke="#0707af"/>
<rect x="656.35" y="243.45" width="11.85" height="9.63" fill="#0909e5" stroke="#0707ad"/>
<rect x="668.19" y="243.45" width="11.85" height="9.63" fill="#0909dd" stroke="#0707ab"/>
<rect x="680.04" y="243.45" width="11.84" height="9.63" fill="#0909d5" stroke="#0707a8"/>
<rect x="691.88" y="243.45" width="11.85" height="9.63" fill="#0909ce" stroke="#0707a6"/>
<rect x="703.73" y="243.45" width="11.85" height="9.63" fill="#0909c8" stroke="#0707a4"/>
<rect x="715.57" y="243.45" width="11.85" height="9.63" fill="#0909c2" stroke="#0707a2"/>
<rect x="727.42" y="243.45" width="11.84" height="9.63" fill="#0909bc" stroke="#0808a0"/>
<rect x="739.26" y="243.45" width="11.85" height="9.63" fill="#0909b7" stroke="#08089e"/>
<rect x="751.11" y="243.45" width="11.85" height="9.63" fill="#0909b2" stroke="#08089c"/>
<rect x="762.95" y="243.45" width="11.85" height="9.63" fill="#0909ae" stroke="#08089a"/>
<rect x="774.80" y="243.45" width="11.84" height="9.63" fill="#0909aa" stroke="#080899"/>
<rect x="786.64" y="243.45" width="11.85" height="9.63" fill="#0909a7" stroke="#080897"/>
<rect x="798.49" y="243.45" width="11.85" height="9.63" fill="#0909a4" stroke="#080896"/>
<rect x="810.33" y="243.45" width="11.85" height="9.63" fill="#0909a1" stroke="#080895"/>
<rect x="822.18" y="243.45" width="11.85" height="9.63" fill="#09099e" stroke="#080894"/>
<rect x="834.02" y="243.45" width="12.98" height="9.63" fill="#09099c" stroke="#080894"/>
<rect x="49.00" y="253.08" width="3.25" height="9.63" fill="#12f4ec" stroke="#097a76"/>
<rect x="52.25" y="253.08" width="11.84" height="9.63" fill="#25f4d8" stroke="#137a6c"/>
<rect x="64.09" y="253.08" width="11.84" height="9.63" fill="#40f4be" stroke="#207a5f"/>
<rect x="75.94" y="253.08" width="11.84" height="9.63" fill="#5ff49e" stroke="#2f7a4f"/>
<rect x="87.78" y="253.08" width="11.84" height="9.63" fill="#80f47c" stroke="#407a3e"/>
<rect x="99.63" y="253.08" width="11.84" height="9.63" fill="#a1f45b" stroke="#507a2e"/>
<rect x="111.47" y="253.08" width="11.85" height="9.63" fill="#bef43e" stroke="#5f7a1f"/>
<rect x="123.32" y="253.08" width="11.85" height="9.63" fill="#d5f427" stroke="#6a7a13"/>
<rect x="135.17" y="253.08" width="11.84" height="9.63" fill="#e3f418" stroke="#727a0c"/>
<rect x="147.01" y="253.08" width="11.85" height="9.63" fill="#eaf411" stroke="#757a08"/>
<rect x="158.86" y="253.08" width="11.84" height="9.63" fill="#ebf411" stroke="#757a08"/>
<rect x="170.70" y="253.08" width="11.85" height="9.63" fill="#e6f416" stroke="#737a0b"/>
<rect x="182.55" y="253.08" width="11.84" height="9.63" fill="#ddf41e" stroke="#6e7a0f"/>
<rect x="194.39" y="253.08" width="11.84" height="9.63" fill="#d2f429" stroke="#697a15"/>
<rect x="206.24" y="253.08" width="11.84" height="9.63" fill="#c5f436" stroke="#637a1b"/>
<rect x="218.08" y="253.08" width="11.84" height="9.63" fill="#b7f445" stroke="#5b7a23"/>
<rect x="229.93" y="253.08" width="11.84" height="9.63" fill="#a5f457" stroke="#537a2b"/>
<rect x="241.77" y="253.08" width="11.84" height="9.63" fill="#90f46c" stroke="#487a36"/>
<rect x="253.62" y="253.08" width="11.85" height="9.63" fill="#77f486" stroke="#3b7a43"/>
<rect x="265.46" y="253.08" width="11.84" height="9.63" fill="#59f4a4" stroke="#2d7a52"/>
<rect x="277.31" y="253.08" width="11.84" height="9.63" fill="#39f4c4" stroke="#1d7a62"/>
<rect x="289.15" y="253.08" width="11.85" height="9.63" fill="#18f4e6" stroke="#0c7a73"/>
<rect x="301.00" y="253.08" width="11.85" height="9.63" fill="#09e2f5" stroke="#04717a"/>
<rect x="312.84" y="253.08" width="11.84" height="9.63" fill="#09c5f5" stroke="#04627a"/>
<rect x="324.69" y="253.08" width="11.85" height="9.63" fill="#09abf5" stroke="#04567a"/>
<rect x="336.53" y="253.08" width="11.84" height="9.63" fill="#0998f5" stroke="#044c7a"/>
<rect x="348.38" y="253.08" width="11.85" height="9.63" fill="#0989f5" stroke="#04457a"/>
<rect x="360.22" y="253.08" width="11.84" height="9.63" fill="#0980f5" stroke="#04407a"/>
<rect x="372.06" y="253.08" width="11.85" height="9.63" fill="#097af5" stroke="#053e7c"/>
<rect x="383.91" y="253.08" width="11.84" height="9.63" fill="#0978f5" stroke="#053d7d"/>
<rect x="395.75" y="253.08" width="11.85" height="9.63" fill="#0979f5" stroke="#053d7d"/>
<rect x="407.60" y="253.08" width="11.84" height="9.63" fill="#097af5" stroke="#053e7c"/>
<rect x="419.44" y="253.08" width="11.85" height="9.63" fill="#097cf5" stroke="#053e7c"/>
<rect x="431.29" y="253.08" width="11.85" height="9.63" fill="#097df5" stroke="#043f7b"/>
<rect x="443.14" y="253.08" width="11.84" height="9.63" fill="#097ef5" stroke="#043f7b"/>
<rect x="454.98" y="253.08" width="11.85" height="9.63" fill="#097ef5" stroke="#043f7b"/>
<rect x="466.83" y="253.08" width="11.84" height="9.63" fill="#097cf5" stroke="#043f7b"/>
<rect x="478.67" y="253.08" width="11.85" height="9.63" fill="#097af5" stroke="#053e7c"/>
<rect x="490.52" y="253.08" width="11.84" height="9.63" fill="#0976f5" stroke="#053d7e"/>
<rect x="502.36" y="253.08" width="11.85" height="9.63" fill="#0971f5" stroke="#053b80"/>
<rect x="514.21" y="253.08" width="11.84" height="9.63" fill="#096cf5" stroke="#053983"/>
<rect x="526.05" y="253.08" width="11.85" height="9.63" fill="#0965f5" stroke="#053785"/>
<rect x="537.89" y="253.08" width="11.85" height="9.63" fill="#095df5" stroke="#053489"/>
<rect x="549.74" y="253.08" width="11.85" height="9.63" fill="#0955f5" stroke="#05318c"/>
<rect x="561.59" y="253.08" width="11.85" height="9.63" fill="#094cf5" stroke="#052d90"/>
<rect x="573.43" y="253.08" width="11.84" height="9.63" fill="#0943f5" stroke="#052995"/>
<rect x="585.27" y="253.08" width="11.85" height="9.63" fill="#093af5" stroke="#062499"/>
<rect x="597.12" y="253.08" width="11.85" height="9.63" fill="#0930f5" stroke="#061f9d"/>
<rect x="608.97" y="253.08" width="11.85" height="9.63" fill="#0927f5" stroke="#061aa2"/>
<rect x="620.81" y="253.08" width="11.85" height="9.63" fill="#091ef5" stroke="#0614a6"/>
<rect x="632.66" y="253.08" width="11.84" height="9.63" fill="#0914f5" stroke="#060eab"/>
<rect x="644.50" y="253.08" width="11.85" height="9.63" fill="#090cf5" stroke="#0608af"/>
<rect x="656.35" y="253.08" width="11.85" height="9.63" fill="#0909ef" stroke="#0707af"/>
<rect x="668.19" y="253.08" width="11.85" height="9.63" fill="#0909e7" stroke="#0707ad"/>
<rect x="680.04" y="253.08" width="11.84" height="9.63" fill="#0909df" stroke="#0707ab"/>
<rect x="691.88" y="253.08" width="11.85" height="9.63" fill="#0909d8" stroke="#0707a9"/>
<rect x="703.73" y="253.08" width="11.85" height="9.63" fill="#0909d1" stroke="#0707a7"/>
<rect x="715.57" y="253.08" width="11.85" height="9.63" fill="#0909ca" stroke="#0707a5"/>
<rect x="727.42" y="253.08" width="11.84" height="9.63" fill="#0909c4" stroke="#0707a3"/>
<rect x="739.26" y="253.08" width="11.85" height="9.63" fill="#0909bf" stroke="#0808a1"/>
<rect x="751.11" y="253.08" width="11.85" height="9.63" fill="#0909ba" stroke="#08089f"/>
<rect x="762.95" y="253.08" width="11.85" height="9.63" fill="#0909b5" stroke="#08089d"/>
<rect x="774.80" y="253.08" width="11.84" height="9.63" fill="#0909b1" stroke="#08089b"/>
<rect x="786.64" y="253.08" width="11.85" height="9.63" fill="#0909ad" stroke="#08089a"/>
<rect x="798.49" y="253.08" width="11.85" height="9.63" fill="#0909aa" stroke="#080899"/>
<rect x="810.33" y="253.08" width="11.85" height="9.63" fill="#0909a7" stroke="#080897"/>
<rect x="822.18" y="253.08" width="11.85" height="9.63" fill="#0909a4" stroke="#080896"/>
<rect x="834.02" y="253.08" width="12.98" height="9.63" fill="#0909a1" stroke="#080895"/>
<rect x="49.00" y="262.71" width="3.25" height="9.63" fill="#2ef4cf" stroke="#177a68"/>
<rect x="52.25" y="262.71" width="11.84" height="9.63" fill="#45f4b8" stroke="#227a5c"/>
<rect x="64.09" y="262.71" width="11.84" height="9.63" fill="#62f49b" stroke="#317a4d"/>
<rect x="75.94" y="262.71" width="11.84" height="9.63" fill="#84f478" stroke="#427a3c"/>
<rect x="87.78" y="262.71" width="11.84" height="9.63" fill="#a9f453" stroke="#547a2a"/>
<rect x="99.63" y="262.71" width="11.84" height="9.63" fill="#ccf42f" stroke="#667a18"/>
<rect x="111.47" y="262.71" width="11.85" height="9.63" fill="#ecf40f" stroke="#767a08"/>
<rect x="123.32" y="262.71" width="11.85" height="9.63" fill="#f4e308" stroke="#7a7104"/>
<rect x="135.17" y="262.71" width="11.84" height="9.63" fill="#f4d208" stroke="#7a6904"/>
<rect x="147.01" y="262.71" width="11.85" height="9.63" fill="#f4ca08" stroke="#7a6504"/>
<rect x="158.86" y="262.71" width="11.84" height="9.63" fill="#f4c908" stroke="#7a6404"/>
<rect x="170.70" y="262.71" width="11.85" height="9.63" fill="#f4cd08" stroke="#7a6704"/>
<rect x="182.55" y="262.71" width="11.84" height="9.63" fill="#f4d608" stroke="#7a6b04"/>
<rect x="194.39" y="262.71" width="11.84" height="9.63" fill="#f4e108" stroke="#7a7104"/>
<rect x="206.24" y="262.71" width="11.84" height="9.63" fill="#f4ef08" stroke="#7a7704"/>
<rect x="218.08" y="262.71" width="11.84" height="9.63" fill="#e8f413" stroke="#747a0a"/>
<rect x="229.93" y="262.71" width="11.84" height="9.63" fill="#d4f427" stroke="#6a7a14"/>
<rect x="241.77" y="262.71" width="11.84" height="9.63" fill="#bcf440" stroke="#5e7a20"/>
<rect x="253.62" y="262.71" width="11.85" height="9.63" fill="#9ef45e" stroke="#4f7a2f"/>
<rect x="265.46" y="262.71" width="11.84" height="9.63" fill="#7df480" stroke="#3e7a40"/>
<rect x="277.31" y="262.71" width="11.84" height="9.63" fill="#58f4a5" stroke="#2c7a52"/>
<rect x="289.15" y="262.71" width="11.85" height="9.63" fill="#32f4cb" stroke="#197a65"/>
<rect x="301.00" y="262.71" width="11.85" height="9.63" fill="#0ef4f0" stroke="#077a78"/>
<rect x="312.84" y="262.71" width="11.84" height="9.63" fill="#09d8f5" stroke="#046c7a"/>
<rect x="324.69" y="262.71" width="11.85" height="9.63" fill="#09bcf5" stroke="#045e7a"/>
<rect x="336.53" y="262.71" width="11.84" height="9.63" fill="#09a6f5" stroke="#04537a"/>
<rect x="348.38" y="262.71" width="11.85" height="9.63" fill="#0996f5" stroke="#044b7a"/>
<rect x="360.22" y="262.71" width="11.84" height="9.63" fill="#098bf5" stroke="#04467a"/>
<rect x="372.06" y="262.71" width="11.85" height="9.63" fill="#0985f5" stroke="#04437a"/>
<rect x="383.91" y="262.71" width="11.84" height="9.63" fill="#0983f5" stroke="#04427a"/>
<rect x="395.75" y="262.71" width="11.85" height="9.63" fill="#0983f5" stroke="#04427a"/>
<rect x="407.60" y="262.71" width="11.84" height="9.63" fill="#0985f5" stroke="#04427a"/>
<rect x="419.44" y="262.71" width="11.85" height="9.63" fill="#0986f5" stroke="#04437a"/>
<rect x="431.29" y="262.71" width="11.85" height="9.63" fill="#0988f5" stroke="#04447a"/>
<rect x="443.14" y="262.71" width="11.84" height="9.63" fill="#0989f5" stroke="#04447a"/>
<rect x="454.98" y="262.71" width="11.85" height="9.63" fill="#0989f5" stroke="#04447a"/>
<rect x="466.83" y="262.71" width="11.84" height="9.63" fill="#0987f5" stroke="#04447a"/>
<rect x="478.67" y="262.71" width="11.85" height="9.63" fill="#0985f5" stroke="#04427a"/>
<rect x="490.52" y="262.71" width="11.84" height="9.63" fill="#0981f5" stroke="#04417a"/>
<rect x="502.36" y="262.71" width="11.85" height="9.63" fill="#097cf5" stroke="#043f7b"/>
<rect x="514.21" y="262.71" width="11.84" height="9.63" fill="#0977f5" stroke="#053d7e"/>
<rect x="526.05" y="262.71" width="11.85" height="9.63" fill="#0970f5" stroke="#053b81"/>
<rect x="537.89" y="262.71" width="11.85" height="9.63" fill="#0968f5" stroke="#053884"/>
<rect x="549.74" y="262.71" width="11.85" height="9.63" fill="#0960f5" stroke="#053588"/>
<rect x="561.59" y="262.71" width="11.85" height="9.63" fill="#0957f5" stroke="#05328c"/>
<rect x="573.43" y="262.71" width="11.84" height="9.63" fill="#094ef5" stroke="#052e90"/>
<rect x="585.27" y="262.71" width="11.85" height="9.63" fill="#0945f5" stroke="#052994"/>
<rect x="597.12" y="262.71" width="11.85" height="9.63" fill="#093bf5" stroke="#062598"/>
<rect x="608.97" y="262.71" width="11.85" height="9.63" fill="#0931f5" stroke="#06209d"/>
<rect x="620.81" y="262.71" width="11.85" height="9.63" fill="#0928f5" stroke="#061aa1"/>
<rect x="632.66" y="262.71" width="11.84" height="9.63" fill="#091ff5" stroke="#0615a6"/>
<rect x="644.50" y="262.71" width="11.85" height="9.63" fill="#0916f5" stroke="#060faa"/>
<rect x="656.35" y="262.71" width="11.85" height="9.63" fill="#090df5" stroke="#0609af"/>
<rect x="668.19" y="262.71" width="11.85" height="9.63" fill="#0909f0" stroke="#0707b0"/>
<rect x="680.04" y="262.71" width="11.84" height="9.63" fill="#0909e8" stroke="#0707ae"/>
<rect x="691.88" y="262.71" width="11.85" height="9.63" fill="#0909e1" stroke="#0707ac"/>
<rect x="703.73" y="262.71" width="11.85" height="9.63" fill="#0909da" stroke="#0707aa"/>
<rect x="715.57" y="262.71" width="11.85" height="9.63" fill="#0909d3" stroke="#0707a8"/>
<rect x="727.42" y="262.71" width="11.84" height="9.63" fill="#0909cd" stroke="#0707a6"/>
<rect x="739.26" y="262.71" width="11.85" height="9.63" fill="#0909c7" stroke="#0707a4"/>
<rect x="751.11" y="262.71" width="11.85" height="9.63" fill="#0909c2" stroke="#0707a2"/>
<rect x="762.95" y="262.71" width="11.85" height="9.63" fill="#0909bd" stroke="#0808a0"/>
<rect x="774.80" y="262.71" width="11.84" height="9.63" fill="#0909b8" stroke="#08089e"/>
<rect x="786.64" y="262.71" width="11.85" height="9.63" fill="#0909b4" stroke="#08089c"/>
<rect x="798.49" y="262.71" width="11.85" height="9.63" fill="#0909b0" stroke="#08089b"/>
<rect x="810.33" y="262.71" width="11.85" height="9.63" fill="#0909ad" stroke="#08089a"/>
<rect x="822.18" y="262.71" width="11.85" height="9.63" fill="#0909a9" stroke="#080898"/>
<rect x="834.02" y="262.71" width="12.98" height="9.63" fill="#0909a6" stroke="#080897"/>
<rect x="49.00" y="272.33" width="3.25" height="9.63" fill="#48f4b5" stroke="#247a5a"/>
<rect x="52.25" y="272.33" width="11.84" height="9.63" fill="#62f49a" stroke="#317a4d"/>
<rect x="64.09" y="272.33" width="11.84" height="9.63" fill="#83f479" stroke="#417a3d"/>
<rect x="75.94" y="272.33" width="11.84" height="9.63" fill="#a8f454" stroke="#547a2a"/>
<rect x="87.78" y="272.33" width="11.84" height="9.63" fill="#d0f42c" stroke="#687a16"/>
<rect x="99.63" y="272.33" width="11.84" height="9.63" fill="#f4f108" stroke="#7a7904"/>
<rect x="111.47" y="272.33" width="11.85" height="9.63" fill="#f4d008" stroke="#7a6804"/>
<rect x="123.32" y="272.33" width="11.85" height="9.63" fill="#f4b508" stroke="#7a5b04"/>
<rect x="135.17" y="272.33" width="11.84" height="9.63" fill="#f4a308" stroke="#7a5204"/>
<rect x="147.01" y="272.33" width="11.85" height="9.63" fill="#f49a08" stroke="#7a4d04"/>
<rect x="158.86" y="272.33" width="11.84" height="9.63" fill="#f49808" stroke="#7a4c04"/>
<rect x="170.70" y="272.33" width="11.85" height="9.63" fill="#f49c08" stroke="#7a4e04"/>
<rect x="182.55" y="272.33" width="11.84" height="9.63" fill="#f4a408" stroke="#7a5204"/>
<rect x="194.39" y="272.33" width="11.84" height="9.63" fill="#f4af08" stroke="#7a5804"/>
<rect x="206.24" y="272.33" width="11.84" height="9.63" fill="#f4bd08" stroke="#7a5f04"/>
<rect x="218.08" y="272.33" width="11.84" height="9.63" fill="#f4cf08" stroke="#7a6804"/>
<rect x="229.93" y="272.33" width="11.84" height="9.63" fill="#f4e508" stroke="#7a7304"/>
<rect x="241.77" y="272.33" width="11.84" height="9.63" fill="#e6f415" stroke="#737a0b"/>
<rect x="253.62" y="272.33" width="11.85" height="9.63" fill="#c5f437" stroke="#627a1b"/>
<rect x="265.46" y="272.33" width="11.84" height="9.63" fill="#9ff45d" stroke="#507a2f"/>
<rect x="277.31" y="272.33" width="11.84" height="9.63" fill="#76f487" stroke="#3b7a43"/>
<rect x="289.15" y="272.33" width="11.85" height="9.63" fill="#4cf4b1" stroke="#267a58"/>
<rect x="301.00" y="272.33" width="11.85" height="9.63" fill="#24f4d9" stroke="#127a6d"/>
<rect x="312.84" y="272.33" width="11.84" height="9.63" fill="#09ebf5" stroke="#04757a"/>
<rect x="324.69" y="272.33" width="11.85" height="9.63" fill="#09ccf5" stroke="#04667a"/>
<rect x="336.53" y="272.33" width="11.84" height="9.63" fill="#09b4f5" stroke="#045a7a"/>
<rect x="348.38" y="272.33" width="11.85" height="9.63" fill="#09a3f5" stroke="#04527a"/>
<rect x="360.22" y="272.33" width="11.84" height="9.63" fill="#0998f5" stroke="#044c7a"/>
<rect x="372.06" y="272.33" width="11.85" height="9.63" fill="#0992f5" stroke="#04497a"/>
<rect x="383.91" y="272.33" width="11.84" height="9.63" fill="#098ff5" stroke="#04487a"/>
<rect x="395.75" y="272.33" width="11.85" height="9.63" fill="#098ff5" stroke="#04487a"/>
<rect x="407.60" y="272.33" width="11.84" height="9.63" fill="#0991f5" stroke="#04497a"/>
<rect x="419.44" y="272.33" width="11.85" height="9.63" fill="#0993f5" stroke="#044a7a"/>
<rect x="431.29" y="272.33" width="11.85" height="9.63" fill="#0995f5" stroke="#044a7a"/>
<rect x="443.14" y="272.33" width="11.84" height="9.63" fill="#0996f5" stroke="#044b7a"/>
<rect x="454.98" y="272.33" width="11.85" height="9.63" fill="#0996f5" stroke="#044b7a"/>
<rect x="466.83" y="272.33" width="11.84" height="9.63" fill="#0995f5" stroke="#044a7a"/>
<rect x="478.67" y="272.33" width="11.85" height="9.63" fill="#0992f5" stroke="#04497a"/>
<rect x="490.52" y="272.33" width="11.84" height="9.63" fill="#098ff5" stroke="#04477a"/>
<rect x="502.36" y="272.33" width="11.85" height="9.63" fill="#098af5" stroke="#04457a"/>
<rect x="514.21" y="272.33" width="11.84" height="9.63" fill="#0984f5" stroke="#04427a"/>
<rect x="526.05" y="272.33" width="11.85" height="9.63" fill="#097df5" stroke="#043f7b"/>
<rect x="537.89" y="272.33" width="11.85" height="9.63" fill="#0975f5" stroke="#053c7e"/>
<rect x="549.74" y="272.33" width="11.85" height="9.63" fill="#096df5" stroke="#053a82"/>
<rect x="561.59" y="272.33" width="11.85" height="9.63" fill="#0963f5" stroke="#053686"/>
<rect x="573.43" y="272.33" width="11.84" height="9.63" fill="#095af5" stroke="#05338a"/>
<rect x="585.27" y="272.33" width="11.85" height="9.63" fill="#0950f5" stroke="#052f8f"/>
<rect x="597.12" y="272.33" width="11.85" height="9.63" fill="#0946f5" stroke="#052a93"/>
<rect x="608.97" y="272.33" width="11.85" height="9.63" fill="#093df5" stroke="#062698"/>
<rect x="620.81" y="272.33" width="11.85" height="9.63" fill="#0933f5" stroke="#06209c"/>
<rect x="632.66" y="272.33" width="11.84" height="9.63" fill="#0929f5" stroke="#061ba1"/>
<rect x="644.50" y="272.33" width="11.85" height="9.63" fill="#0920f5" stroke="#0616a5"/>
<rect x="656.35" y="272.33" width="11.85" height="9.63" fill="#0917f5" stroke="#0610aa"/>
<rect x="668.19" y="272.33" width="11.85" height="9.63" fill="#090ef5" stroke="#060aae"/>
<rect x="680.04" y="272.33" width="11.84" height="9.63" fill="#0909f2" stroke="#0606b0"/>
<rect x="691.88" y="272.33" width="11.85" height="9.63" fill="#0909ea" stroke="#0707ae"/>
<rect x="703.73" y="272.33" width="11.85" height="9.63" fill="#0909e2" stroke="#0707ac"/>
<rect x="715.57" y="272.33" width="11.85" height="9.63" fill="#0909db" stroke="#0707aa"/>
<rect x="727.42" y="272.33" width="11.84" height="9.63" fill="#0909d5" stroke="#0707a8"/>
<rect x="739.26" y="272.33" width="11.85" height="9.63" fill="#0909cf" stroke="#0707a6"/>
<rect x="751.11" y="272.33" width="11.85" height="9.63" fill="#0909c9" stroke="#0707a4"/>
<rect x="762.95" y="272.33" width="11.85" height="9.63" fill="#0909c4" stroke="#0707a2"/>
<rect x="774.80" y="272.33" width="11.84" height="9.63" fill="#0909bf" stroke="#0808a1"/>
<rect x="786.64" y="272.33" width="11.85" height="9.63" fill="#0909ba" stroke="#08089f"/>
<rect x="798.49" y="272.33" width="11.85" height="9.63" fill="#0909b6" stroke="#08089d"/>
<rect x="810.33" y="272.33" width="11.85" height="9.63" fill="#0909b2" stroke="#08089c"/>
<rect x="822.18" y="272.33" width="11.85" height="9.63" fill="#0909af" stroke="#08089b"/>
<rect x="834.02" y="272.33" width="12.98" height="9.63" fill="#0909ac" stroke="#080899"/>
<rect x="49.00" y="281.96" width="3.25" height="9.63" fill="#60f49d" stroke="#307a4e"/>
<rect x="52.25" y="281.96" width="11.84" height="9.63" fill="#7ef47f" stroke="#3f7a3f"/>
<rect x="64.09" y="281.96" width="11.84" height="9.63" fill="#a2f45b" stroke="#517a2d"/>
<rect x="75.94" y="281.96" width="11.84" height="9.63" fill="#caf432" stroke="#657a19"/>
<rect x="87.78" y="281.96" width="11.84" height="9.63" fill="#f4f308" stroke="#7a7a04"/>
<rect x="99.63" y="281.96" width="11.84" height="9.63" fill="#f4cb08" stroke="#7a6604"/>
<rect x="111.47" y="281.96" width="11.85" height="9.63" fill="#f4a808" stroke="#7a5404"/>
<rect x="123.32" y="281.96" width="11.85" height="9.63" fill="#f48b08" stroke="#7a4604"/>
<rect x="135.17" y="281.96" width="11.84" height="9.63" fill="#f47808" stroke="#7a3c04"/>
<rect x="147.01" y="281.96" width="11.85" height="9.63" fill="#f46d08" stroke="#7a3704"/>
<rect x="158.86" y="281.96" width="11.84" height="9.63" fill="#f46a08" stroke="#7a3504"/>
<rect x="170.70" y="281.96" width="11.85" height="9.63" fill="#f46d08" stroke="#7a3604"/>
<rect x="182.55" y="281.96" width="11.84" height="9.63" fill="#f47408" stroke="#7a3a04"/>
<rect x="194.39" y="281.96" width="11.84" height="9.63" fill="#f48008" stroke="#7a4004"/>
<rect x="206.24" y="281.96" width="11.84" height="9.63" fill="#f48f08" stroke="#7a4704"/>
<rect x="218.08" y="281.96" width="11.84" height="9.63" fill="#f4a208" stroke="#7a5104"/>
<rect x="229.93" y="281.96" width="11.84" height="9.63" fill="#f4ba08" stroke="#7a5d04"/>
<rect x="241.77" y="281.96" width="11.84" height="9.63" fill="#f4d908" stroke="#7a6d04"/>
<rect x="253.62" y="281.96" width="11.85" height="9.63" fill="#e9f412" stroke="#747a09"/>
<rect x="265.46" y="281.96" width="11.84" height="9.63" fill="#bff43d" stroke="#5f7a1e"/>
<rect x="277.31" y="281.96" width="11.84" height="9.63" fill="#92f46b" stroke="#497a35"/>
<rect x="289.15" y="281.96" width="11.85" height="9.63" fill="#64f499" stroke="#327a4c"/>
<rect x="301.00" y="281.96" width="11.85" height="9.63" fill="#38f4c5" stroke="#1c7a62"/>
<rect x="312.84" y="281.96" width="11.84" height="9.63" fill="#11f4ec" stroke="#097a76"/>
<rect x="324.69" y="281.96" width="11.85" height="9.63" fill="#09dbf5" stroke="#046e7a"/>
<rect x="336.53" y="281.96" width="11.84" height="9.63" fill="#09c2f5" stroke="#04617a"/>
<rect x="348.38" y="281.96" width="11.85" height="9.63" fill="#09b0f5" stroke="#04587a"/>
<rect x="360.22" y="281.96" width="11.84" height="9.63" fill="#09a4f5" stroke="#04527a"/>
<rect x="372.06" y="281.96" width="11.85" height="9.63" fill="#099ef5" stroke="#044f7a"/>
<rect x="383.91" y="281.96" width="11.84" height="9.63" fill="#099cf5" stroke="#044e7a"/>
<rect x="395.75" y="281.96" width="11.85" height="9.63" fill="#099cf5" stroke="#044e7a"/>
<rect x="407.60" y="281.96" width="11.84" height="9.63" fill="#099ef5" stroke="#044f7a"/>
<rect x="419.44" y="281.96" width="11.85" height="9.63" fill="#09a1f5" stroke="#04507a"/>
<rect x="431.29" y="281.96" width="11.85" height="9.63" fill="#09a3f5" stroke="#04517a"/>
<rect x="443.14" y="281.96" width="11.84" height="9.63" fill="#09a4f5" stroke="#04527a"/>
<rect x="454.98" y="281.96" width="11.85" height="9.63" fill="#09a4f5" stroke="#04527a"/>
<rect x="466.83" y="281.96" width="11.84" height="9.63" fill="#09a3f5" stroke="#04527a"/>
<rect x="478.67" y="281.96" width="11.85" height="9.63" fill="#09a1f5" stroke="#04517a"/>
<rect x="490.52" y="281.96" width="11.84" height="9.63" fill="#099df5" stroke="#044f7a"/>
<rect x="502.36" y="281.96" width="11.85" height="9.63" fill="#0998f5" stroke="#044c7a"/>
<rect x="514.21" y="281.96" width="11.84" height="9.63" fill="#0992f5" stroke="#04497a"/>
<rect x="526.05" y="281.96" width="11.85" height="9.63" fill="#098bf5" stroke="#04457a"/>
<rect x="537.89" y="281.96" width="11.85" height="9.63" fill="#0983f5" stroke="#04417a"/>
<rect x="549.74" y="281.96" width="11.85" height="9.63" fill="#097af5" stroke="#053e7c"/>
<rect x="561.59" y="281.96" width="11.85" height="9.63" fill="#0971f5" stroke="#053b80"/>
<rect x="573.43" y="281.96" width="11.84" height="9.63" fill="#0967f5" stroke="#053885"/>
<rect x="585.27" y="281.96" width="11.85" height="9.63" fill="#095df5" stroke="#053489"/>
<rect x="597.12" y="281.96" width="11.85" height="9.63" fill="#0952f5" stroke="#05308e"/>
<rect x="608.97" y="281.96" width="11.85" height="9.63" fill="#0948f5" stroke="#052b92"/>
<rect x="620.81" y="281.96" width="11.85" height="9.63" fill="#093ef5" stroke="#062697"/>
<rect x="632.66" y="281.96" width="11.84" height="9.63" fill="#0934f5" stroke="#06219c"/>
<rect x="644.50" y="281.96" width="11.85" height="9.63" fill="#092af5" stroke="#061ca0"/>
<rect x="656.35" y="281.96" width="11.85" height="9.63" fill="#0921f5" stroke="#0616a5"/>
<rect x="668.19" y="281.96" width="11.85" height="9.63" fill="#0918f5" stroke="#0610a9"/>
<rect x="680.04" y="281.96" width="11.84" height="9.63" fill="#090ff5" stroke="#060bae"/>
<rect x="691.88" y="281.96" width="11.85" height="9.63" fill="#0909f3" stroke="#0606b0"/>
<rect x="703.73" y="281.96" width="11.85" height="9.63" fill="#0909eb" stroke="#0707ae"/>
<rect x="715.57" y="281.96" width="11.85" height="9.63" fill="#0909e3" stroke="#0707ac"/>
<rect x="727.42" y="281.96" width="11.84" height="9.63" fill="#0909dd" stroke="#0707aa"/>
<rect x="739.26" y="281.96" width="11.85" height="9.63" fill="#0909d6" stroke="#0707a9"/>
<rect x="751.11" y="281.96" width="11.85" height="9.63" fill="#0909d0" stroke="#0707a7"/>
<rect x="762.95" y="281.96" width="11.85" height="9.63" fill="#0909ca" stroke="#0707a5"/>
<rect x="774.80" y="281.96" width="11.84" height="9.63" fill="#0909c5" stroke="#0707a3"/>
<rect x="786.64" y="281.96" width="11.85" height="9.63" fill="#0909c0" stroke="#0707a1"/>
<rect x="798.49" y="281.96" width="11.85" height="9.63" fill="#0909bc" stroke="#0808a0"/>
<rect x="810.33" y="281.96" width="11.85" height="9.63" fill="#0909b8" stroke="#08089e"/>
<rect x="822.18" y="281.96" width="11.85" height="9.63" fill="#0909b4" stroke="#08089c"/>
<rect x="834.02" y="281.96" width="12.98" height="9.63" fill="#0909b0" stroke="#08089b"/>
<rect x="49.00" y="291.59" width="3.25" height="9.63" fill="#76f487" stroke="#3b7a43"/>
<rect x="52.25" y="291.59" width="11.84" height="9.63" fill="#97f465" stroke="#4b7a33"/>
<rect x="64.09" y="291.59" width="11.84" height="9.63" fill="#bdf43e" stroke="#5f7a1f"/>
<rect x="75.94" y="291.59" width="11.84" height="9.63" fill="#e8f413" stroke="#747a0a"/>
<rect x="87.78" y="291.59" width="11.84" height="9.63" fill="#f4d308" stroke="#7a6904"/>
<rect x="99.63" y="291.59" width="11.84" height="9.63" fill="#f4a808" stroke="#7a5404"/>
<rect x="111.47" y="291.59" width="11.85" height="9.63" fill="#f48308" stroke="#7a4204"/>
<rect x="123.32" y="291.59" width="11.85" height="9.63" fill="#f46508" stroke="#7a3304"/>
<rect x="135.17" y="291.59" width="11.84" height="9.63" fill="#f45008" stroke="#7a2804"/>
<rect x="147.01" y="291.59" width="11.85" height="9.63" fill="#f44408" stroke="#7a2204"/>
<rect x="158.86" y="291.59" width="11.84" height="9.63" fill="#f44008" stroke="#7a2004"/>
<rect x="170.70" y="291.59" width="11.85" height="9.63" fill="#f44208" stroke="#7a2104"/>
<rect x="182.55" y="291.59" width="11.84" height="9.63" fill="#f44908" stroke="#7a2404"/>
<rect x="194.39" y="291.59" width="11.84" height="9.63" fill="#f45408" stroke="#7a2a04"/>
<rect x="206.24" y="291.59" width="11.84" height="9.63" fill="#f46308" stroke="#7a3204"/>
<rect x="218.08" y="291.59" width="11.84" height="9.63" fill="#f47808" stroke="#7a3c04"/>
<rect x="229.93" y="291.59" width="11.84" height="9.63" fill="#f49308" stroke="#7a4904"/>
<rect x="241.77" y="291.59" width="11.84" height="9.63" fill="#f4b508" stroke="#7a5a04"/>
<rect x="253.62" y="291.59" width="11.85" height="9.63" fill="#f4dd08" stroke="#7a6f04"/>
<rect x="265.46" y="291.59" width="11.84" height="9.63" fill="#dcf420" stroke="#6e7a10"/>
<rect x="277.31" y="291.59" width="11.84" height="9.63" fill="#abf451" stroke="#557a29"/>
<rect x="289.15" y="291.59" width="11.85" height="9.63" fill="#79f483" stroke="#3d7a42"/>
<rect x="301.00" y="291.59" width="11.85" height="9.63" fill="#4af4b3" stroke="#257a59"/>
<rect x="312.84" y="291.59" width="11.84" height="9.63" fill="#21f4dd" stroke="#107a6e"/>
<rect x="324.69" y="291.59" width="11.85" height="9.63" fill="#09e9f5" stroke="#04757a"/>
<rect x="336.53" y="291.59" width="11.84" height="9.63" fill="#09cef5" stroke="#04677a"/>
<rect x="348.38" y="291.59" width="11.85" height="9.63" fill="#09bcf5" stroke="#045e7a"/>
<rect x="360.22" y="291.59" width="11.84" height="9.63" fill="#09b0f5" stroke="#04587a"/>
<rect x="372.06" y="291.59" width="11.85" height="9.63" fill="#09aaf5" stroke="#04557a"/>
<rect x="383.91" y="291.59" width="11.84" height="9.63" fill="#09a8f5" stroke="#04547a"/>
<rect x="395.75" y="291.59" width="11.85" height="9.63" fill="#09a9f5" stroke="#04547a"/>
<rect x="407.60" y="291.59" width="11.84" height="9.63" fill="#09abf5" stroke="#04567a"/>
<rect x="419.44" y="291.59" width="11.85" height="9.63" fill="#09aef5" stroke="#04577a"/>
<rect x="431.29" y="291.59" width="11.85" height="9.63" fill="#09b1f5" stroke="#04587a"/>
<rect x="443.14" y="291.59" width="11.84" height="9.63" fill="#09b2f5" stroke="#04597a"/>
<rect x="454.98" y="291.59" width="11.85" height="9.63" fill="#09b3f5" stroke="#04597a"/>
<rect x="466.83" y="291.59" width="11.84" height="9.63" fill="#09b2f5" stroke="#04597a"/>
<rect x="478.67" y="291.59" width="11.85" height="9.63" fill="#09b0f5" stroke="#04587a"/>
<rect x="490.52" y="291.59" width="11.84" height="9.63" fill="#09acf5" stroke="#04567a"/>
<rect x="502.36" y="291.59" width="11.85" height="9.63" fill="#09a7f5" stroke="#04537a"/>
<rect x="514.21" y="291.59" width="11.84" height="9.63" fill="#09a0f5" stroke="#04507a"/>
<rect x="526.05" y="291.59" width="11.85" height="9.63" fill="#0999f5" stroke="#044c7a"/>
<rect x="537.89" y="291.59" width="11.85" height="9.63" fill="#0990f5" stroke="#04487a"/>
<rect x="549.74" y="291.59" width="11.85" height="9.63" fill="#0987f5" stroke="#04447a"/>
<rect x="561.59" y="291.59" width="11.85" height="9.63" fill="#097df5" stroke="#043f7b"/>
<rect x="573.43" y="291.59" width="11.84" height="9.63" fill="#0973f5" stroke="#053c7f"/>
<rect x="585.27" y="291.59" width="11.85" height="9.63" fill="#0968f5" stroke="#053884"/>
<rect x="597.12" y="291.59" width="11.85" height="9.63" fill="#095ef5" stroke="#053489"/>
<rect x="608.97" y="291.59" width="11.85" height="9.63" fill="#0953f5" stroke="#05308d"/>
<rect x="620.81" y="291.59" width="11.85" height="9.63" fill="#0948f5" stroke="#052b92"/>
<rect x="632.66" y="291.59" width="11.84" height="9.63" fill="#093ef5" stroke="#062697"/>
<rect x="644.50" y="291.59" width="11.85" height="9.63" fill="#0934f5" stroke="#06219c"/>
<rect x="656.35" y="291.59" width="11.85" height="9.63" fill="#092af5" stroke="#061ba0"/>
<rect x="668.19" y="291.59" width="11.85" height="9.63" fill="#0920f5" stroke="#0616a5"/>
<rect x="680.04" y="291.59" width="11.84" height="9.63" fill="#0917f5" stroke="#0610a9"/>
<rect x="691.88" y="291.59" width="11.85" height="9.63" fill="#090ff5" stroke="#060bae"/>
<rect x="703.73" y="291.59" width="11.85" height="9.63" fill="#0909f3" stroke="#0606b0"/>
<rect x="715.57" y="291.59" width="11.85" height="9.63" fill="#0909eb" stroke="#0707ae"/>
<rect x="727.42" y="291.59" width="11.84" height="9.63" fill="#0909e4" stroke="#0707ac"/>
<rect x="739.26" y="291.59" width="11.85" height="9.63" fill="#0909dd" stroke="#0707ab"/>
<rect x="751.11" y="291.59" width="11.85" height="9.63" fill="#0909d6" stroke="#0707a9"/>
<rect x="762.95" y="291.59" width="11.85" height="9.63" fill="#0909d0" stroke="#0707a7"/>
<rect x="774.80" y="291.59" width="11.84" height="9.63" fill="#0909cb" stroke="#0707a5"/>
<rect x="786.64" y="291.59" width="11.85" height="9.63" fill="#0909c6" stroke="#0707a3"/>
<rect x="798.49" y="291.59" width="11.85" height="9.63" fill="#0909c1" stroke="#0707a1"/>
<rect x="810.33" y="291.59" width="11.85" height="9.63" fill="#0909bd" stroke="#0808a0"/>
<rect x="822.18" y="291.59" width="11.85" height="9.63" fill="#0909b9" stroke="#08089e"/>
<rect x="834.02" y="291.59" width="12.98" height="9.63" fill="#0909b5" stroke="#08089d"/>
<rect x="49.00" y="301.21" width="3.25" height="9.63" fill="#89f473" stroke="#447a3a"/>
<rect x="52.25" y="301.21" width="11.84" height="9.63" fill="#adf44f" stroke="#567a28"/>
<rect x="64.09" y="301.21" width="11.84" height="9.63" fill="#d6f425" stroke="#6b7a13"/>
<rect x="75.94" y="301.21" width="11.84" height="9.63" fill="#f4e408" stroke="#7a7204"/>
<rect x="87.78" y="301.21" width="11.84" height="9.63" fill="#f4b508" stroke="#7a5b04"/>
<rect x="99.63" y="301.21" width="11.84" height="9.63" fill="#f48908" stroke="#7a4504"/>
<rect x="111.47" y="301.21" width="11.85" height="9.63" fill="#f46308" stroke="#7a3104"/>
<rect x="123.32" y="301.21" width="11.85" height="9.63" fill="#f44408" stroke="#7a2204"/>
<rect x="135.17" y="301.21" width="11.84" height="9.63" fill="#f42d08" stroke="#7a1704"/>
<rect x="147.01" y="301.21" width="11.85" height="9.63" fill="#f42008" stroke="#7a1004"/>
<rect x="158.86" y="301.21" width="11.84" height="9.63" fill="#f41a08" stroke="#7a0d04"/>
<rect x="170.70" y="301.21" width="11.85" height="9.63" fill="#f41b08" stroke="#7a0d04"/>
<rect x="182.55" y="301.21" width="11.84" height="9.63" fill="#f42108" stroke="#7a1004"/>
<rect x="194.39" y="301.21" width="11.84" height="9.63" fill="#f42c08" stroke="#7a1604"/>
<rect x="206.24" y="301.21" width="11.84" height="9.63" fill="#f43c08" stroke="#7a1e04"/>
<rect x="218.08" y="301.21" width="11.84" height="9.63" fill="#f45208" stroke="#7a2904"/>
<rect x="229.93" y="301.21" width="11.84" height="9.63" fill="#f46f08" stroke="#7a3704"/>
<rect x="241.77" y="301.21" width="11.84" height="9.63" fill="#f49408" stroke="#7a4a04"/>
<rect x="253.62" y="301.21" width="11.85" height="9.63" fill="#f4c008" stroke="#7a6004"/>
<rect x="265.46" y="301.21" width="11.84" height="9.63" fill="#f4f208" stroke="#7a7904"/>
<rect x="277.31" y="301.21" width="11.84" height="9.63" fill="#c0f43c" stroke="#607a1e"/>
<rect x="289.15" y="301.21" width="11.85" height="9.63" fill="#8bf471" stroke="#467a38"/>
<rect x="301.00" y="301.21" width="11.85" height="9.63" fill="#5af4a3" stroke="#2d7a52"/>
<rect x="312.84" y="301.21" width="11.84" height="9.63" fill="#2ef4cf" stroke="#177a68"/>
<rect x="324.69" y="301.21" width="11.85" height="9.63" fill="#0af4f4" stroke="#057a7a"/>
<rect x="336.53" y="301.21" width="11.84" height="9.63" fill="#09d9f5" stroke="#046d7a"/>
<rect x="348.38" y="301.21" width="11.85" height="9.63" fill="#09c6f5" stroke="#04637a"/>
<rect x="360.22" y="301.21" width="11.84" height="9.63" fill="#09baf5" stroke="#045d7a"/>
<rect x="372.06" y="301.21" width="11.85" height="9.63" fill="#09b4f5" stroke="#045a7a"/>
<rect x="383.91" y="301.21" width="11.84" height="9.63" fill="#09b2f5" stroke="#04597a"/>
<rect x="395.75" y="301.21" width="11.85" height="9.63" fill="#09b4f5" stroke="#045a7a"/>
<rect x="407.60" y="301.21" width="11.84" height="9.63" fill="#09b7f5" stroke="#045b7a"/>
<rect x="419.44" y="301.21" width="11.85" height="9.63" fill="#09baf5" stroke="#045d7a"/>
<rect x="431.29" y="301.21" width="11.85" height="9.63" fill="#09bdf5" stroke="#045f7a"/>
<rect x="443.14" y="301.21" width="11.84" height="9.63" fill="#09bff5" stroke="#04607a"/>
<rect x="454.98" y="301.21" width="11.85" height="9.63" fill="#09c0f5" stroke="#04607a"/>
<rect x="466.83" y="301.21" width="11.84" height="9.63" fill="#09bff5" stroke="#04607a"/>
<rect x="478.67" y="301.21" width="11.85" height="9.63" fill="#09bdf5" stroke="#045f7a"/>
<rect x="490.52" y="301.21" width="11.84" height="9.63" fill="#09b9f5" stroke="#045d7a"/>
<rect x="502.36" y="301.21" width="11.85" height="9.63" fill="#09b4f5" stroke="#045a7a"/>
<rect x="514.21" y="301.21" width="11.84" height="9.63" fill="#09adf5" stroke="#04577a"/>
<rect x="526.05" y="301.21" width="11.85" height="9.63" fill="#09a6f5" stroke="#04537a"/>
<rect x="537.89" y="301.21" width="11.85" height="9.63" fill="#099df5" stroke="#044e7a"/>
<rect x="549.74" y="301.21" width="11.85" height="9.63" fill="#0993f5" stroke="#044a7a"/>
<rect x="561.59" y="301.21" width="11.85" height="9.63" fill="#0989f5" stroke="#04457a"/>
<rect x="573.43" y="301.21" width="11.84" height="9.63" fill="#097ef5" stroke="#043f7a"/>
<rect x="585.27" y="301.21" width="11.85" height="9.63" fill="#0973f5" stroke="#053c7f"/>
<rect x="597.12" y="301.21" width="11.85" height="9.63" fill="#0968f5" stroke="#053884"/>
<rect x="608.97" y="301.21" width="11.85" height="9.63" fill="#095df5" stroke="#053489"/>
<rect x="620.81" y="301.21" width="11.85" height="9.63" fill="#0952f5" stroke="#052f8e"/>
<rect x="632.66" y="301.21" width="11.84" height="9.63" fill="#0947f5" stroke="#052b93"/>
<rect x="644.50" y="301.21" width="11.85" height="9.63" fill="#093cf5" stroke="#062598"/>
<rect x="656.35" y="301.21" width="11.85" height="9.63" fill="#0932f5" stroke="#06209d"/>
<rect x="668.19" y="301.21" width="11.85" height="9.63" fill="#0928f5" stroke="#061ba1"/>
<rect x="680.04" y="301.21" width="11.84" height="9.63" fill="#091ff5" stroke="#0615a6"/>
<rect x="691.88" y="301.21" width="11.85" height="9.63" fill="#0916f5" stroke="#060faa"/>
<rect x="703.73" y="301.21" width="11.85" height="9.63" fill="#090df5" stroke="#060aae"/>
<rect x="715.57" y="301.21" width="11.85" height="9.63" fill="#0909f1" stroke="#0707b0"/>
<rect x="727.42" y="301.21" width="11.84" height="9.63" fill="#0909ea" stroke="#0707ae"/>
<rect x="739.26" y="301.21" width="11.85" height="9.63" fill="#0909e3" stroke="#0707ac"/>
<rect x="751.11" y="301.21" width="11.85" height="9.63" fill="#0909dc" stroke="#0707aa"/>
<rect x="762.95" y="301.21" width="11.85" height="9.63" fill="#0909d6" stroke="#0707a8"/>
<rect x="774.80" y="301.21" width="11.84" height="9.63" fill="#0909d0" stroke="#0707a7"/>
<rect x="786.64" y="301.21" width="11.85" height="9.63" fill="#0909cb" stroke="#0707a5"/>
<rect x="798.49" y="301.21" width="11.85" height="9.63" fill="#0909c6" stroke="#0707a3"/>
<rect x="810.33" y="301.21" width="11.85" height="9.63" fill="#0909c1" stroke="#0707a1"/>
<rect x="822.18" y="301.21" width="11.85" height="9.63" fill="#0909bd" stroke="#0808a0"/>
<rect x="834.02" y="301.21" width="12.98" height="9.63" fill="#0909b9" stroke="#08089e"/>
<rect x="49.00" y="310.84" width="3.25" height="9.63" fill="#99f463" stroke="#4c7a32"/>
<rect x="52.25" y="310.84" width="11.84" height="9.63" fill="#c0f43c" stroke="#607a1e"/>
<rect x="64.09" y="310.84" width="11.84" height="9.63" fill="#ecf40f" stroke="#767a08"/>
<rect x="75.94" y="310.84" width="11.84" height="9.63" fill="#f4cc08" stroke="#7a6604"/>
<rect x="87.78" y="310.84" width="11.84" height="9.63" fill="#f49c08" stroke="#7a4e04"/>
<rect x="99.63" y="310.84" width="11.84" height="9.63" fill="#f46f08" stroke="#7a3704"/>
<rect x="111.47" y="310.84" width="11.85" height="9.63" fill="#f44708" stroke="#7a2404"/>
<rect x="123.32" y="310.84" width="11.85" height="9.63" fill="#f42708" stroke="#7a1304"/>
<rect x="135.17" y="310.84" width="11.84" height="9.63" fill="#f40f08" stroke="#7a0804"/>
<rect x="147.01" y="310.84" width="11.85" height="9.63" fill="#eb0908" stroke="#750404"/>
<rect x="158.86" y="310.84" width="11.84" height="9.63" fill="#e40908" stroke="#720404"/>
<rect x="170.70" y="310.84" width="11.85" height="9.63" fill="#e30908" stroke="#720404"/>
<rect x="182.55" y="310.84" width="11.84" height="9.63" fill="#e80908" stroke="#740404"/>
<rect x="194.39" y="310.84" width="11.84" height="9.63" fill="#f30908" stroke="#790404"/>
<rect x="206.24" y="310.84" width="11.84" height="9.63" fill="#f41908" stroke="#7a0c04"/>
<rect x="218.08" y="310.84" width="11.84" height="9.63" fill="#f43008" stroke="#7a1804"/>
<rect x="229.93" y="310.84" width="11.84" height="9.63" fill="#f44f08" stroke="#7a2804"/>
<rect x="241.77" y="310.84" width="11.84" height="9.63" fill="#f47708" stroke="#7a3c04"/>
<rect x="253.62" y="310.84" width="11.85" height="9.63" fill="#f4a708" stroke="#7a5304"/>
<rect x="265.46" y="310.84" width="11.84" height="9.63" fill="#f4dc08" stroke="#7a6e04"/>
<rect x="277.31" y="310.84" width="11.84" height="9.63" fill="#d3f429" stroke="#697a14"/>
<rect x="289.15" y="310.84" width="11.85" height="9.63" fill="#9bf461" stroke="#4d7a31"/>
<rect x="301.00" y="310.84" width="11.85" height="9.63" fill="#67f496" stroke="#337a4b"/>
<rect x="312.84" y="310.84" width="11.84" height="9.63" fill="#39f4c4" stroke="#1d7a62"/>
<rect x="324.69" y="310.84" width="11.85" height="9.63" fill="#14f4ea" stroke="#0a7a75"/>
<rect x="336.53" y="310.84" width="11.84" height="9.63" fill="#09e2f5" stroke="#04717a"/>
<rect x="348.38" y="310.84" width="11.85" height="9.63" fill="#09cef5" stroke="#04677a"/>
<rect x="360.22" y="310.84" width="11.84" height="9.63" fill="#09c2f5" stroke="#04617a"/>
<rect x="372.06" y="310.84" width="11.85" height="9.63" fill="#09bdf5" stroke="#045e7a"/>
<rect x="383.91" y="310.84" width="11.84" height="9.63" fill="#09bbf5" stroke="#045e7a"/>
<rect x="395.75" y="310.84" width="11.85" height="9.63" fill="#09bdf5" stroke="#045f7a"/>
<rect x="407.60" y="310.84" width="11.84" height="9.63" fill="#09c1f5" stroke="#04617a"/>
<rect x="419.44" y="310.84" width="11.85" height="9.63" fill="#09c5f5" stroke="#04627a"/>
<rect x="431.29" y="310.84" width="11.85" height="9.63" fill="#09c8f5" stroke="#04647a"/>
<rect x="443.14" y="310.84" width="11.84" height="9.63" fill="#09cbf5" stroke="#04657a"/>
<rect x="454.98" y="310.84" width="11.85" height="9.63" fill="#09ccf5" stroke="#04667a"/>
<rect x="466.83" y="310.84" width="11.84" height="9.63" fill="#09cbf5" stroke="#04667a"/>
<rect x="478.67" y="310.84" width="11.85" height="9.63" fill="#09c9f5" stroke="#04657a"/>
<rect x="490.52" y="310.84" width="11.84" height="9.63" fill="#09c5f5" stroke="#04637a"/>
<rect x="502.36" y="310.84" width="11.85" height="9.63" fill="#09c0f5" stroke="#04607a"/>
<rect x="514.21" y="310.84" width="11.84" height="9.63" fill="#09b9f5" stroke="#045d7a"/>
<rect x="526.05" y="310.84" width="11.85" height="9.63" fill="#09b1f5" stroke="#04587a"/>
<rect x="537.89" y="310.84" width="11.85" height="9.63" fill="#09a8f5" stroke="#04547a"/>
<rect x="549.74" y="310.84" width="11.85" height="9.63" fill="#099ef5" stroke="#044f7a"/>
<rect x="561.59" y="310.84" width="11.85" height="9.63" fill="#0993f5" stroke="#044a7a"/>
<rect x="573.43" y="310.84" width="11.84" height="9.63" fill="#0988f5" stroke="#04447a"/>
<rect x="585.27" y="310.84" width="11.85" height="9.63" fill="#097df5" stroke="#043f7b"/>
<rect x="597.12" y="310.84" width="11.85" height="9.63" fill="#0971f5" stroke="#053b80"/>
<rect x="608.97" y="310.84" width="11.85" height="9.63" fill="#0965f5" stroke="#053785"/>
<rect x="620.81" y="310.84" width="11.85" height="9.63" fill="#095af5" stroke="#05338a"/>
<rect x="632.66" y="310.84" width="11.84" height="9.63" fill="#094ff5" stroke="#052e8f"/>
<rect x="644.50" y="310.84" width="11.85" height="9.63" fill="#0944f5" stroke="#052994"/>
<rect x="656.35" y="310.84" width="11.85" height="9.63" fill="#0939f5" stroke="#062499"/>
<rect x="668.19" y="310.84" width="11.85" height="9.63" fill="#092ff5" stroke="#061e9e"/>
<rect x="680.04" y="310.84" width="11.84" height="9.63" fill="#0925f5" stroke="#0619a3"/>
<rect x="691.88" y="310.84" width="11.85" height="9.63" fill="#091cf5" stroke="#0613a7"/>
<rect x="703.73" y="310.84" width="11.85" height="9.63" fill="#0913f5" stroke="#060dab"/>
<rect x="715.57" y="310.84" width="11.85" height="9.63" fill="#090bf5" stroke="#0608b0"/>
<rect x="727.42" y="310.84" width="11.84" height="9.63" fill="#0909ef" stroke="#0707af"/>
<rect x="739.26" y="310.84" width="11.85" height="9.63" fill="#0909e8" stroke="#0707ae"/>
<rect x="751.11" y="310.84" width="11.85" height="9.63" fill="#0909e1" stroke="#0707ac"/>
<rect x="762.95" y="310.84" width="11.85" height="9.63" fill="#0909db" stroke="#0707aa"/>
<rect x="774.80" y="310.84" width="11.84" height="9.63" fill="#0909d5" stroke="#0707a8"/>
<rect x="786.64" y="310.84" width="11.85" height="9.63" fill="#0909cf" stroke="#0707a6"/>
<rect x="798.49" y="310.84" width="11.85" height="9.63" fill="#0909ca" stroke="#0707a5"/>
<rect x="810.33" y="310.84" width="11.85" height="9.63" fill="#0909c5" stroke="#0707a3"/>
<rect x="822.18" y="310.84" width="11.85" height="9.63" fill="#0909c1" stroke="#0707a1"/>
<rect x="834.02" y="310.84" width="12.98" height="9.63" fill="#0909bc" stroke="#0808a0"/>
<rect x="49.00" y="320.47" width="3.25" height="9.63" fill="#a6f456" stroke="#537a2b"/>
<rect x="52.25" y="320.47" width="11.84" height="9.63" fill="#cff42c" stroke="#687a16"/>
<rect x="64.09" y="320.47" width="11.84" height="9.63" fill="#f4ea08" stroke="#7a7504"/>
<rect x="75.94" y="320.47" width="11.84" height="9.63" fill="#f4b908" stroke="#7a5c04"/>
<rect x="87.78" y="320.47" width="11.84" height="9.63" fill="#f48808" stroke="#7a4404"/>
<rect x="99.63" y="320.47" width="11.84" height="9.63" fill="#f45908" stroke="#7a2d04"/>
<rect x="111.47" y="320.47" width="11.85" height="9.63" fill="#f43008" stroke="#7a1804"/>
<rect x="123.32" y="320.47" width="11.85" height="9.63" fill="#f40f08" stroke="#7a0704"/>
<rect x="135.17" y="320.47" width="11.84" height="9.63" fill="#e10908" stroke="#700404"/>
<rect x="147.01" y="320.47" width="11.85" height="9.63" fill="#d00908" stroke="#680404"/>
<rect x="158.86" y="320.47" width="11.84" height="9.63" fill="#c80908" stroke="#640404"/>
<rect x="170.70" y="320.47" width="11.85" height="9.63" fill="#c60908" stroke="#630404"/>
<rect x="182.55" y="320.47" width="11.84" height="9.63" fill="#ca0908" stroke="#650404"/>
<rect x="194.39" y="320.47" width="11.84" height="9.63" fill="#d40908" stroke="#6a0404"/>
<rect x="206.24" y="320.47" width="11.84" height="9.63" fill="#e50908" stroke="#730404"/>
<rect x="218.08" y="320.47" width="11.84" height="9.63" fill="#f41308" stroke="#7a0a04"/>
<rect x="229.93" y="320.47" width="11.84" height="9.63" fill="#f43508" stroke="#7a1a04"/>
<rect x="241.77" y="320.47" width="11.84" height="9.63" fill="#f45f08" stroke="#7a3004"/>
<rect x="253.62" y="320.47" width="11.85" height="9.63" fill="#f49208" stroke="#7a4904"/>
<rect x="265.46" y="320.47" width="11.84" height="9.63" fill="#f4ca08" stroke="#7a6504"/>
<rect x="277.31" y="320.47" width="11.84" height="9.63" fill="#e2f41a" stroke="#717a0d"/>
<rect x="289.15" y="320.47" width="11.85" height="9.63" fill="#a7f455" stroke="#547a2a"/>
<rect x="301.00" y="320.47" width="11.85" height="9.63" fill="#71f48b" stroke="#397a46"/>
<rect x="312.84" y="320.47" width="11.84" height="9.63" fill="#42f4bb" stroke="#217a5e"/>
<rect x="324.69" y="320.47" width="11.85" height="9.63" fill="#1bf4e2" stroke="#0e7a71"/>
<rect x="336.53" y="320.47" width="11.84" height="9.63" fill="#09e9f5" stroke="#04747a"/>
<rect x="348.38" y="320.47" width="11.85" height="9.63" fill="#09d5f5" stroke="#046a7a"/>
<rect x="360.22" y="320.47" width="11.84" height="9.63" fill="#09c9f5" stroke="#04647a"/>
<rect x="372.06" y="320.47" width="11.85" height="9.63" fill="#09c4f5" stroke="#04627a"/>
<rect x="383.91" y="320.47" width="11.84" height="9.63" fill="#09c3f5" stroke="#04617a"/>
<rect x="395.75" y="320.47" width="11.85" height="9.63" fill="#09c5f5" stroke="#04637a"/>
<rect x="407.60" y="320.47" width="11.84" height="9.63" fill="#09caf5" stroke="#04657a"/>
<rect x="419.44" y="320.47" width="11.85" height="9.63" fill="#09cef5" stroke="#04677a"/>
<rect x="431.29" y="320.47" width="11.85" height="9.63" fill="#09d2f5" stroke="#04697a"/>
<rect x="443.14" y="320.47" width="11.84" height="9.63" fill="#09d5f5" stroke="#046a7a"/>
<rect x="454.98" y="320.47" width="11.85" height="9.63" fill="#09d6f5" stroke="#046b7a"/>
<rect x="466.83" y="320.47" width="11.84" height="9.63" fill="#09d5f5" stroke="#046b7a"/>
<rect x="478.67" y="320.47" width="11.85" height="9.63" fill="#09d3f5" stroke="#046a7a"/>
<rect x="490.52" y="320.47" width="11.84" height="9.63" fill="#09cff5" stroke="#04687a"/>
<rect x="502.36" y="320.47" width="11.85" height="9.63" fill="#09caf5" stroke="#04657a"/>
<rect x="514.21" y="320.47" width="11.84" height="9.63" fill="#09c3f5" stroke="#04617a"/>
<rect x="526.05" y="320.47" width="11.85" height="9.63" fill="#09baf5" stroke="#045d7a"/>
<rect x="537.89" y="320.47" width="11.85" height="9.63" fill="#09b1f5" stroke="#04587a"/>
<rect x="549.74" y="320.47" width="11.85" height="9.63" fill="#09a7f5" stroke="#04537a"/>
<rect x="561.59" y="320.47" width="11.85" height="9.63" fill="#099cf5" stroke="#044e7a"/>
<rect x="573.43" y="320.47" width="11.84" height="9.63" fill="#0990f5" stroke="#04487a"/>
<rect x="585.27" y="320.47" width="11.85" height="9.63" fill="#0984f5" stroke="#04427a"/>
<rect x="597.12" y="320.47" width="11.85" height="9.63" fill="#0978f5" stroke="#053d7d"/>
<rect x="608.97" y="320.47" width="11.85" height="9.63" fill="#096cf5" stroke="#053a82"/>
<rect x="620.81" y="320.47" width="11.85" height="9.63" fill="#0960f5" stroke="#053587"/>
<rect x="632.66" y="320.47" width="11.84" height="9.63" fill="#0955f5" stroke="#05318d"/>
<rect x="644.50" y="320.47" width="11.85" height="9.63" fill="#0949f5" stroke="#052c92"/>
<rect x="656.35" y="320.47" width="11.85" height="9.63" fill="#093ff5" stroke="#052797"/>
<rect x="668.19" y="320.47" width="11.85" height="9.63" fill="#0934f5" stroke="#06219c"/>
<rect x="680.04" y="320.47" width="11.84" height="9.63" fill="#092af5" stroke="#061ca0"/>
<rect x="691.88" y="320.47" width="11.85" height="9.63" fill="#0921f5" stroke="#0616a5"/>
<rect x="703.73" y="320.47" width="11.85" height="9.63" fill="#0918f5" stroke="#0611a9"/>
<rect x="715.57" y="320.47" width="11.85" height="9.63" fill="#0910f5" stroke="#060bad"/>
<rect x="727.42" y="320.47" width="11.84" height="9.63" fill="#0909f4" stroke="#0606b0"/>
<rect x="739.26" y="320.47" width="11.85" height="9.63" fill="#0909ec" stroke="#0707af"/>
<rect x="751.11" y="320.47" width="11.85" height="9.63" fill="#0909e5" stroke="#0707ad"/>
<rect x="762.95" y="320.47" width="11.85" height="9.63" fill="#0909df" stroke="#0707ab"/>
<rect x="774.80" y="320.47" width="11.84" height="9.63" fill="#0909d8" stroke="#0707a9"/>
<rect x="786.64" y="320.47" width="11.85" height="9.63" fill="#0909d3" stroke="#0707a7"/>
<rect x="798.49" y="320.47" width="11.85" height="9.63" fill="#0909cd" stroke="#0707a6"/>
<rect x="810.33" y="320.47" width="11.85" height="9.63" fill="#0909c8" stroke="#0707a4"/>
<rect x="822.18" y="320.47" width="11.85" height="9.63" fill="#0909c4" stroke="#0707a2"/>
<rect x="834.02" y="320.47" width="12.98" height="9.63" fill="#0909bf" stroke="#0707a1"/>
<rect x="49.00" y="330.10" width="3.25" height="9.63" fill="#aff44d" stroke="#577a27"/>
<rect x="52.25" y="330.10" width="11.84" height="9.63" fill="#dbf420" stroke="#6d7a10"/>
<rect x="64.09" y="330.10" width="11.84" height="9.63" fill="#f4dc08" stroke="#7a6e04"/>
<rect x="75.94" y="330.10" width="11.84" height="9.63" fill="#f4aa08" stroke="#7a5504"/>
<rect x="87.78" y="330.10" width="11.84" height="9.63" fill="#f47708" stroke="#7a3c04"/>
<rect x="99.63" y="330.10" width="11.84" height="9.63" fill="#f44808" stroke="#7a2404"/>
<rect x="111.47" y="330.10" width="11.85" height="9.63" fill="#f41f08" stroke="#7a0f04"/>
<rect x="123.32" y="330.10" width="11.85" height="9.63" fill="#e70908" stroke="#730404"/>
<rect x="135.17" y="330.10" width="11.84" height="9.63" fill="#cd0908" stroke="#670404"/>
<rect x="147.01" y="330.10" width="11.85" height="9.63" fill="#bc0908" stroke="#5e0404"/>
<rect x="158.86" y="330.10" width="11.84" height="9.63" fill="#b20908" stroke="#590404"/>
<rect x="170.70" y="330.10" width="11.85" height="9.63" fill="#ae0908" stroke="#570404"/>
<rect x="182.55" y="330.10" width="11.84" height="9.63" fill="#b20908" stroke="#590404"/>
<rect x="194.39" y="330.10" width="11.84" height="9.63" fill="#bb0908" stroke="#5e0404"/>
<rect x="206.24" y="330.10" width="11.84" height="9.63" fill="#cc0908" stroke="#660404"/>
<rect x="218.08" y="330.10" width="11.84" height="9.63" fill="#e60908" stroke="#730404"/>
<rect x="229.93" y="330.10" width="11.84" height="9.63" fill="#f41f08" stroke="#7a0f04"/>
<rect x="241.77" y="330.10" width="11.84" height="9.63" fill="#f44c08" stroke="#7a2604"/>
<rect x="253.62" y="330.10" width="11.85" height="9.63" fill="#f48108" stroke="#7a4004"/>
<rect x="265.46" y="330.10" width="11.84" height="9.63" fill="#f4bc08" stroke="#7a5e04"/>
<rect x="277.31" y="330.10" width="11.84" height="9.63" fill="#eef40e" stroke="#777a07"/>
<rect x="289.15" y="330.10" width="11.85" height="9.63" fill="#b1f44b" stroke="#597a25"/>
<rect x="301.00" y="330.10" width="11.85" height="9.63" fill="#79f483" stroke="#3d7a42"/>
<rect x="312.84" y="330.10" width="11.84" height="9.63" fill="#49f4b4" stroke="#247a5a"/>
<rect x="324.69" y="330.10" width="11.85" height="9.63" fill="#21f4dc" stroke="#117a6e"/>
<rect x="336.53" y="330.10" width="11.84" height="9.63" fill="#09eef5" stroke="#04777a"/>
<rect x="348.38" y="330.10" width="11.85" height="9.63" fill="#09daf5" stroke="#046d7a"/>
<rect x="360.22" y="330.10" width="11.84" height="9.63" fill="#09cef5" stroke="#04677a"/>
<rect x="372.06" y="330.10" width="11.85" height="9.63" fill="#09c9f5" stroke="#04657a"/>
<rect x="383.91" y="330.10" width="11.84" height="9.63" fill="#09c9f5" stroke="#04647a"/>
<rect x="395.75" y="330.10" width="11.85" height="9.63" fill="#09ccf5" stroke="#04667a"/>
<rect x="407.60" y="330.10" width="11.84" height="9.63" fill="#09d0f5" stroke="#04687a"/>
<rect x="419.44" y="330.10" width="11.85" height="9.63" fill="#09d5f5" stroke="#046b7a"/>
<rect x="431.29" y="330.10" width="11.85" height="9.63" fill="#09d9f5" stroke="#046d7a"/>
<rect x="443.14" y="330.10" width="11.84" height="9.63" fill="#09dcf5" stroke="#046e7a"/>
<rect x="454.98" y="330.10" width="11.85" height="9.63" fill="#09def5" stroke="#046f7a"/>
<rect x="466.83" y="330.10" width="11.84" height="9.63" fill="#09ddf5" stroke="#046f7a"/>
<rect x="478.67" y="330.10" width="11.85" height="9.63" fill="#09dbf5" stroke="#046e7a"/>
<rect x="490.52" y="330.10" width="11.84" height="9.63" fill="#09d7f5" stroke="#046c7a"/>
<rect x="502.36" y="330.10" width="11.85" height="9.63" fill="#09d2f5" stroke="#04697a"/>
<rect x="514.21" y="330.10" width="11.84" height="9.63" fill="#09caf5" stroke="#04657a"/>
<rect x="526.05" y="330.10" width="11.85" height="9.63" fill="#09c2f5" stroke="#04617a"/>
<rect x="537.89" y="330.10" width="11.85" height="9.63" fill="#09b8f5" stroke="#045c7a"/>
<rect x="549.74" y="330.10" width="11.85" height="9.63" fill="#09adf5" stroke="#04577a"/>
<rect x="561.59" y="330.10" width="11.85" height="9.63" fill="#09a2f5" stroke="#04517a"/>
<rect x="573.43" y="330.10" width="11.84" height="9.63" fill="#0996f5" stroke="#044b7a"/>
<rect x="585.27" y="330.10" width="11.85" height="9.63" fill="#098af5" stroke="#04457a"/>
<rect x="597.12" y="330.10" width="11.85" height="9.63" fill="#097ef5" stroke="#043f7b"/>
<rect x="608.97" y="330.10" width="11.85" height="9.63" fill="#0971f5" stroke="#053b80"/>
<rect x="620.81" y="330.10" width="11.85" height="9.63" fill="#0965f5" stroke="#053785"/>
<rect x="632.66" y="330.10" width="11.84" height="9.63" fill="#0959f5" stroke="#05338a"/>
<rect x="644.50" y="330.10" width="11.85" height="9.63" fill="#094ef5" stroke="#052e90"/>
<rect x="656.35" y="330.10" width="11.85" height="9.63" fill="#0943f5" stroke="#052995"/>
<rect x="668.19" y="330.10" width="11.85" height="9.63" fill="#0938f5" stroke="#06239a"/>
<rect x="680.04" y="330.10" width="11.84" height="9.63" fill="#092ef5" stroke="#061e9e"/>
<rect x="691.88" y="330.10" width="11.85" height="9.63" fill="#0925f5" stroke="#0618a3"/>
<rect x="703.73" y="330.10" width="11.85" height="9.63" fill="#091cf5" stroke="#0613a7"/>
<rect x="715.57" y="330.10" width="11.85" height="9.63" fill="#0913f5" stroke="#060dab"/>
<rect x="727.42" y="330.10" width="11.84" height="9.63" fill="#090bf5" stroke="#0608af"/>
<rect x="739.26" y="330.10" width="11.85" height="9.63" fill="#0909f0" stroke="#0707af"/>
<rect x="751.11" y="330.10" width="11.85" height="9.63" fill="#0909e8" stroke="#0707ae"/>
<rect x="762.95" y="330.10" width="11.85" height="9.63" fill="#0909e2" stroke="#0707ac"/>
<rect x="774.80" y="330.10" width="11.84" height="9.63" fill="#0909dc" stroke="#0707aa"/>
<rect x="786.64" y="330.10" width="11.85" height="9.63" fill="#0909d6" stroke="#0707a8"/>
<rect x="798.49" y="330.10" width="11.85" height="9.63" fill="#0909d0" stroke="#0707a7"/>
<rect x="810.33" y="330.10" width="11.85" height="9.63" fill="#0909cb" stroke="#0707a5"/>
<rect x="822.18" y="330.10" width="11.85" height="9.63" fill="#0909c7" stroke="#0707a3"/>
<rect x="834.02" y="330.10" width="12.98" height="9.63" fill="#0909c2" stroke="#0707a2"/>
<rect x="49.00" y="339.72" width="3.25" height="9.63" fill="#b4f447" stroke="#5a7a24"/>
<rect x="52.25" y="339.72" width="11.84" height="9.63" fill="#e3f419" stroke="#717a0c"/>
<rect x="64.09" y="339.72" width="11.84" height="9.63" fill="#f4d308" stroke="#7a6904"/>
<rect x="75.94" y="339.72" width="11.84" height="9.63" fill="#f49f08" stroke="#7a5004"/>
<rect x="87.78" y="339.72" width="11.84" height="9.63" fill="#f46c08" stroke="#7a3604"/>
<rect x="99.63" y="339.72" width="11.84" height="9.63" fill="#f43d08" stroke="#7a1e04"/>
<rect x="111.47" y="339.72" width="11.85" height="9.63" fill="#f41208" stroke="#7a0904"/>
<rect x="123.32" y="339.72" width="11.85" height="9.63" fill="#da0908" stroke="#6d0404"/>
<rect x="135.17" y="339.72" width="11.84" height="9.63" fill="#bf0908" stroke="#600404"/>
<rect x="147.01" y="339.72" width="11.85" height="9.63" fill="#ac0908" stroke="#560404"/>
<rect x="158.86" y="339.72" width="11.84" height="9.63" fill="#a10908" stroke="#510404"/>
<rect x="170.70" y="339.72" width="11.85" height="9.63" fill="#9d0908" stroke="#4e0404"/>
<rect x="182.55" y="339.72" width="11.84" height="9.63" fill="#9f0908" stroke="#4f0404"/>
<rect x="194.39" y="339.72" width="11.84" height="9.63" fill="#a80908" stroke="#540404"/>
<rect x="206.24" y="339.72" width="11.84" height="9.63" fill="#b90908" stroke="#5d0404"/>
<rect x="218.08" y="339.72" width="11.84" height="9.63" fill="#d40908" stroke="#6a0404"/>
<rect x="229.93" y="339.72" width="11.84" height="9.63" fill="#f40f08" stroke="#7a0704"/>
<rect x="241.77" y="339.72" width="11.84" height="9.63" fill="#f43d08" stroke="#7a1f04"/>
<rect x="253.62" y="339.72" width="11.85" height="9.63" fill="#f47508" stroke="#7a3a04"/>
<rect x="265.46" y="339.72" width="11.84" height="9.63" fill="#f4b208" stroke="#7a5904"/>
<rect x="277.31" y="339.72" width="11.84" height="9.63" fill="#f4f108" stroke="#7a7804"/>
<rect x="289.15" y="339.72" width="11.85" height="9.63" fill="#b8f443" stroke="#5c7a22"/>
<rect x="301.00" y="339.72" width="11.85" height="9.63" fill="#7ff47d" stroke="#407a3f"/>
<rect x="312.84" y="339.72" width="11.84" height="9.63" fill="#4ef4af" stroke="#277a58"/>
<rect x="324.69" y="339.72" width="11.85" height="9.63" fill="#26f4d8" stroke="#137a6c"/>
<rect x="336.53" y="339.72" width="11.84" height="9.63" fill="#09f2f5" stroke="#04797a"/>
<rect x="348.38" y="339.72" width="11.85" height="9.63" fill="#09def5" stroke="#046f7a"/>
<rect x="360.22" y="339.72" width="11.84" height="9.63" fill="#09d2f5" stroke="#04697a"/>
<rect x="372.06" y="339.72" width="11.85" height="9.63" fill="#09cdf5" stroke="#04667a"/>
<rect x="383.91" y="339.72" width="11.84" height="9.63" fill="#09cdf5" stroke="#04677a"/>
<rect x="395.75" y="339.72" width="11.85" height="9.63" fill="#09d0f5" stroke="#04687a"/>
<rect x="407.60" y="339.72" width="11.84" height="9.63" fill="#09d5f5" stroke="#046b7a"/>
<rect x="419.44" y="339.72" width="11.85" height="9.63" fill="#09dbf5" stroke="#046d7a"/>
<rect x="431.29" y="339.72" width="11.85" height="9.63" fill="#09dff5" stroke="#04707a"/>
<rect x="443.14" y="339.72" width="11.84" height="9.63" fill="#09e2f5" stroke="#04717a"/>
<rect x="454.98" y="339.72" width="11.85" height="9.63" fill="#09e4f5" stroke="#04727a"/>
<rect x="466.83" y="339.72" width="11.84" height="9.63" fill="#09e4f5" stroke="#04727a"/>
<rect x="478.67" y="339.72" width="11.85" height="9.63" fill="#09e1f5" stroke="#04717a"/>
<rect x="490.52" y="339.72" width="11.84" height="9.63" fill="#09ddf5" stroke="#046f7a"/>
<rect x="502.36" y="339.72" width="11.85" height="9.63" fill="#09d8f5" stroke="#046c7a"/>
<rect x="514.21" y="339.72" width="11.84" height="9.63" fill="#09d0f5" stroke="#04687a"/>
<rect x="526.05" y="339.72" width="11.85" height="9.63" fill="#09c7f5" stroke="#04647a"/>
<rect x="537.89" y="339.72" width="11.85" height="9.63" fill="#09bdf5" stroke="#045f7a"/>
<rect x="549.74" y="339.72" width="11.85" height="9.63" fill="#09b2f5" stroke="#04597a"/>
<rect x="561.59" y="339.72" width="11.85" height="9.63" fill="#09a7f5" stroke="#04537a"/>
<rect x="573.43" y="339.72" width="11.84" height="9.63" fill="#099bf5" stroke="#044d7a"/>
<rect x="585.27" y="339.72" width="11.85" height="9.63" fill="#098ef5" stroke="#04477a"/>
<rect x="597.12" y="339.72" width="11.85" height="9.63" fill="#0982f5" stroke="#04417a"/>
<rect x="608.97" y="339.72" width="11.85" height="9.63" fill="#0975f5" stroke="#053c7e"/>
<rect x="620.81" y="339.72" width="11.85" height="9.63" fill="#0969f5" stroke="#053884"/>
<rect x="632.66" y="339.72" width="11.84" height="9.63" fill="#095df5" stroke="#053489"/>
<rect x="644.50" y="339.72" width="11.85" height="9.63" fill="#0951f5" stroke="#052f8e"/>
<rect x="656.35" y="339.72" width="11.85" height="9.63" fill="#0946f5" stroke="#052a93"/>
<rect x="668.19" y="339.72" width="11.85" height="9.63" fill="#093bf5" stroke="#062598"/>
<rect x="680.04" y="339.72" width="11.84" height="9.63" fill="#0931f5" stroke="#061f9d"/>
<rect x="691.88" y="339.72" width="11.85" height="9.63" fill="#0927f5" stroke="#061aa2"/>
<rect x="703.73" y="339.72" width="11.85" height="9.63" fill="#091ef5" stroke="#0615a6"/>
<rect x="715.57" y="339.72" width="11.85" height="9.63" fill="#0916f5" stroke="#060faa"/>
<rect x="727.42" y="339.72" width="11.84" height="9.63" fill="#090ef5" stroke="#060aae"/>
<rect x="739.26" y="339.72" width="11.85" height="9.63" fill="#0909f2" stroke="#0606b0"/>
<rect x="751.11" y="339.72" width="11.85" height="9.63" fill="#0909eb" stroke="#0707ae"/>
<rect x="762.95" y="339.72" width="11.85" height="9.63" fill="#0909e4" stroke="#0707ad"/>
<rect x="774.80" y="339.72" width="11.84" height="9.63" fill="#0909de" stroke="#0707ab"/>
<rect x="786.64" y="339.72" width="11.85" height="9.63" fill="#0909d8" stroke="#0707a9"/>
<rect x="798.49" y="339.72" width="11.85" height="9.63" fill="#0909d3" stroke="#0707a8"/>
<rect x="810.33" y="339.72" width="11.85" height="9.63" fill="#0909ce" stroke="#0707a6"/>
<rect x="822.18" y="339.72" width="11.85" height="9.63" fill="#0909c9" stroke="#0707a4"/>
<rect x="834.02" y="339.72" width="12.98" height="9.63" fill="#0909c5" stroke="#0707a3"/>
<rect x="49.00" y="349.35" width="3.25" height="9.63" fill="#b6f446" stroke="#5b7a23"/>
<rect x="52.25" y="349.35" width="11.84" height="9.63" fill="#e6f415" stroke="#737a0b"/>
<rect x="64.09" y="349.35" width="11.84" height="9.63" fill="#f4ce08" stroke="#7a6704"/>
<rect x="75.94" y="349.35" width="11.84" height="9.63" fill="#f49908" stroke="#7a4d04"/>
<rect x="87.78" y="349.35" width="11.84" height="9.63" fill="#f46608" stroke="#7a3304"/>
<rect x="99.63" y="349.35" width="11.84" height="9.63" fill="#f43608" stroke="#7a1b04"/>
<rect x="111.47" y="349.35" width="11.85" height="9.63" fill="#f40b08" stroke="#7a0604"/>
<rect x="123.32" y="349.35" width="11.85" height="9.63" fill="#d30908" stroke="#690404"/>
<rect x="135.17" y="349.35" width="11.84" height="9.63" fill="#b70908" stroke="#5c0404"/>
<rect x="147.01" y="349.35" width="11.85" height="9.63" fill="#a30908" stroke="#520404"/>
<rect x="158.86" y="349.35" width="11.84" height="9.63" fill="#970908" stroke="#4b0404"/>
<rect x="170.70" y="349.35" width="11.85" height="9.63" fill="#910908" stroke="#480404"/>
<rect x="182.55" y="349.35" width="11.84" height="9.63" fill="#920908" stroke="#490404"/>
<rect x="194.39" y="349.35" width="11.84" height="9.63" fill="#9b0908" stroke="#4d0404"/>
<rect x="206.24" y="349.35" width="11.84" height="9.63" fill="#ac0908" stroke="#560404"/>
<rect x="218.08" y="349.35" width="11.84" height="9.63" fill="#c80908" stroke="#640404"/>
<rect x="229.93" y="349.35" width="11.84" height="9.63" fill="#ee0908" stroke="#770404"/>
<rect x="241.77" y="349.35" width="11.84" height="9.63" fill="#f43408" stroke="#7a1a04"/>
<rect x="253.62" y="349.35" width="11.85" height="9.63" fill="#f46d08" stroke="#7a3604"/>
<rect x="265.46" y="349.35" width="11.84" height="9.63" fill="#f4ab08" stroke="#7a5504"/>
<rect x="277.31" y="349.35" width="11.84" height="9.63" fill="#f4eb08" stroke="#7a7604"/>
<rect x="289.15" y="349.35" width="11.85" height="9.63" fill="#bdf43f" stroke="#5f7a1f"/>
<rect x="301.00" y="349.35" width="11.85" height="9.63" fill="#83f479" stroke="#427a3d"/>
<rect x="312.84" y="349.35" width="11.84" height="9.63" fill="#51f4ac" stroke="#297a56"/>
<rect x="324.69" y="349.35" width="11.85" height="9.63" fill="#28f4d5" stroke="#147a6b"/>
<rect x="336.53" y="349.35" width="11.84" height="9.63" fill="#0af4f4" stroke="#057a7a"/>
<rect x="348.38" y="349.35" width="11.85" height="9.63" fill="#09e0f5" stroke="#04707a"/>
<rect x="360.22" y="349.35" width="11.84" height="9.63" fill="#09d4f5" stroke="#046a7a"/>
<rect x="372.06" y="349.35" width="11.85" height="9.63" fill="#09cff5" stroke="#04687a"/>
<rect x="383.91" y="349.35" width="11.84" height="9.63" fill="#09d0f5" stroke="#04687a"/>
<rect x="395.75" y="349.35" width="11.85" height="9.63" fill="#09d3f5" stroke="#046a7a"/>
<rect x="407.60" y="349.35" width="11.84" height="9.63" fill="#09d9f5" stroke="#046c7a"/>
<rect x="419.44" y="349.35" width="11.85" height="9.63" fill="#09def5" stroke="#046f7a"/>
<rect x="431.29" y="349.35" width="11.85" height="9.63" fill="#09e3f5" stroke="#04727a"/>
<rect x="443.14" y="349.35" width="11.84" height="9.63" fill="#09e6f5" stroke="#04737a"/>
<rect x="454.98" y="349.35" width="11.85" height="9.63" fill="#09e8f5" stroke="#04747a"/>
<rect x="466.83" y="349.35" width="11.84" height="9.63" fill="#09e8f5" stroke="#04747a"/>
<rect x="478.67" y="349.35" width="11.85" height="9.63" fill="#09e6f5" stroke="#04737a"/>
<rect x="490.52" y="349.35" width="11.84" height="9.63" fill="#09e1f5" stroke="#04717a"/>
<rect x="502.36" y="349.35" width="11.85" height="9.63" fill="#09dcf5" stroke="#046e7a"/>
<rect x="514.21" y="349.35" width="11.84" height="9.63" fill="#09d4f5" stroke="#046a7a"/>
<rect x="526.05" y="349.35" width="11.85" height="9.63" fill="#09cbf5" stroke="#04657a"/>
<rect x="537.89" y="349.35" width="11.85" height="9.63" fill="#09c1f5" stroke="#04607a"/>
<rect x="549.74" y="349.35" width="11.85" height="9.63" fill="#09b6f5" stroke="#045b7a"/>
<rect x="561.59" y="349.35" width="11.85" height="9.63" fill="#09aaf5" stroke="#04557a"/>
<rect x="573.43" y="349.35" width="11.84" height="9.63" fill="#099df5" stroke="#044f7a"/>
<rect x="585.27" y="349.35" width="11.85" height="9.63" fill="#0991f5" stroke="#04487a"/>
<rect x="597.12" y="349.35" width="11.85" height="9.63" fill="#0984f5" stroke="#04427a"/>
<rect x="608.97" y="349.35" width="11.85" height="9.63" fill="#0977f5" stroke="#053d7d"/>
<rect x="620.81" y="349.35" width="11.85" height="9.63" fill="#096bf5" stroke="#053983"/>
<rect x="632.66" y="349.35" width="11.84" height="9.63" fill="#095ff5" stroke="#053588"/>
<rect x="644.50" y="349.35" width="11.85" height="9.63" fill="#0953f5" stroke="#05308d"/>
<rect x="656.35" y="349.35" width="11.85" height="9.63" fill="#0948f5" stroke="#052b93"/>
<rect x="668.19" y="349.35" width="11.85" height="9.63" fill="#093df5" stroke="#062698"/>
<rect x="680.04" y="349.35" width="11.84" height="9.63" fill="#0933f5" stroke="#06209c"/>
<rect x="691.88" y="349.35" width="11.85" height="9.63" fill="#0929f5" stroke="#061ba1"/>
<rect x="703.73" y="349.35" width="11.85" height="9.63" fill="#0920f5" stroke="#0616a5"/>
<rect x="715.57" y="349.35" width="11.85" height="9.63" fill="#0918f5" stroke="#0610a9"/>
<rect x="727.42" y="349.35" width="11.84" height="9.63" fill="#0910f5" stroke="#060bad"/>
<rect x="739.26" y="349.35" width="11.85" height="9.63" fill="#0909f4" stroke="#0606b0"/>
<rect x="751.11" y="349.35" width="11.85" height="9.63" fill="#0909ed" stroke="#0707af"/>
<rect x="762.95" y="349.35" width="11.85" height="9.63" fill="#0909e6" stroke="#0707ad"/>
<rect x="774.80" y="349.35" width="11.84" height="9.63" fill="#0909e0" stroke="#0707ab"/>
<rect x="786.64" y="349.35" width="11.85" height="9.63" fill="#0909da" stroke="#0707aa"/>
<rect x="798.49" y="349.35" width="11.85" height="9.63" fill="#0909d5" stroke="#0707a8"/>
<rect x="810.33" y="349.35" width="11.85" height="9.63" fill="#0909d0" stroke="#0707a7"/>
<rect x="822.18" y="349.35" width="11.85" height="9.63" fill="#0909cb" stroke="#0707a5"/>
<rect x="834.02" y="349.35" width="12.98" height="9.63" fill="#0909c7" stroke="#0707a3"/>
<rect x="49.00" y="358.98" width="3.25" height="9.63" fill="#b4f448" stroke="#5a7a24"/>
<rect x="52.25" y="358.98" width="11.84" height="9.63" fill="#e6f416" stroke="#737a0b"/>
<rect x="64.09" y="358.98" width="11.84" height="9.63" fill="#f4cd08" stroke="#7a6704"/>
<rect x="75.94" y="358.98" width="11.84" height="9.63" fill="#f49808" stroke="#7a4c04"/>
<rect x="87.78" y="358.98" width="11.84" height="9.63" fill="#f46508" stroke="#7a3204"/>
<rect x="99.63" y="358.98" width="11.84" height="9.63" fill="#f43508" stroke="#7a1a04"/>
<rect x="111.47" y="358.98" width="11.85" height="9.63" fill="#f40a08" stroke="#7a0504"/>
<rect x="123.32" y="358.98" width="11.85" height="9.63" fill="#d10908" stroke="#680404"/>
<rect x="135.17" y="358.98" width="11.84" height="9.63" fill="#b40908" stroke="#5a0404"/>
<rect x="147.01" y="358.98" width="11.85" height="9.63" fill="#a00908" stroke="#500404"/>
<rect x="158.86" y="358.98" width="11.84" height="9.63" fill="#920908" stroke="#490404"/>
<rect x="170.70" y="358.98" width="11.85" height="9.63" fill="#8b0908" stroke="#450404"/>
<rect x="182.55" y="358.98" width="11.84" height="9.63" fill="#8b0908" stroke="#460404"/>
<rect x="194.39" y="358.98" width="11.84" height="9.63" fill="#940908" stroke="#4a0404"/>
<rect x="206.24" y="358.98" width="11.84" height="9.63" fill="#a60908" stroke="#530404"/>
<rect x="218.08" y="358.98" width="11.84" height="9.63" fill="#c20908" stroke="#610404"/>
<rect x="229.93" y="358.98" width="11.84" height="9.63" fill="#e90908" stroke="#740404"/>
<rect x="241.77" y="358.98" width="11.84" height="9.63" fill="#f43008" stroke="#7a1804"/>
<rect x="253.62" y="358.98" width="11.85" height="9.63" fill="#f46908" stroke="#7a3404"/>
<rect x="265.46" y="358.98" width="11.84" height="9.63" fill="#f4a808" stroke="#7a5404"/>
<rect x="277.31" y="358.98" width="11.84" height="9.63" fill="#f4e908" stroke="#7a7404"/>
<rect x="289.15" y="358.98" width="11.85" height="9.63" fill="#bff43c" stroke="#607a1e"/>
<rect x="301.00" y="358.98" width="11.85" height="9.63" fill="#85f477" stroke="#437a3c"/>
<rect x="312.84" y="358.98" width="11.84" height="9.63" fill="#53f4aa" stroke="#297a55"/>
<rect x="324.69" y="358.98" width="11.85" height="9.63" fill="#29f4d4" stroke="#157a6a"/>
<rect x="336.53" y="358.98" width="11.84" height="9.63" fill="#0af4f3" stroke="#057a7a"/>
<rect x="348.38" y="358.98" width="11.85" height="9.63" fill="#09e0f5" stroke="#04707a"/>
<rect x="360.22" y="358.98" width="11.84" height="9.63" fill="#09d4f5" stroke="#046a7a"/>
<rect x="372.06" y="358.98" width="11.85" height="9.63" fill="#09d0f5" stroke="#04687a"/>
<rect x="383.91" y="358.98" width="11.84" height="9.63" fill="#09d1f5" stroke="#04687a"/>
<rect x="395.75" y="358.98" width="11.85" height="9.63" fill="#09d5f5" stroke="#046a7a"/>
<rect x="407.60" y="358.98" width="11.84" height="9.63" fill="#09daf5" stroke="#046d7a"/>
<rect x="419.44" y="358.98" width="11.85" height="9.63" fill="#09e0f5" stroke="#04707a"/>
<rect x="431.29" y="358.98" width="11.85" height="9.63" fill="#09e5f5" stroke="#04727a"/>
<rect x="443.14" y="358.98" width="11.84" height="9.63" fill="#09e8f5" stroke="#04747a"/>
<rect x="454.98" y="358.98" width="11.85" height="9.63" fill="#09eaf5" stroke="#04757a"/>
<rect x="466.83" y="358.98" width="11.84" height="9.63" fill="#09eaf5" stroke="#04757a"/>
<rect x="478.67" y="358.98" width="11.85" height="9.63" fill="#09e8f5" stroke="#04747a"/>
<rect x="490.52" y="358.98" width="11.84" height="9.63" fill="#09e3f5" stroke="#04727a"/>
<rect x="502.36" y="358.98" width="11.85" height="9.63" fill="#09ddf5" stroke="#046f7a"/>
<rect x="514.21" y="358.98" width="11.84" height="9.63" fill="#09d6f5" stroke="#046b7a"/>
<rect x="526.05" y="358.98" width="11.85" height="9.63" fill="#09ccf5" stroke="#04667a"/>
<rect x="537.89" y="358.98" width="11.85" height="9.63" fill="#09c2f5" stroke="#04617a"/>
<rect x="549.74" y="358.98" width="11.85" height="9.63" fill="#09b7f5" stroke="#045b7a"/>
<rect x="561.59" y="358.98" width="11.85" height="9.63" fill="#09abf5" stroke="#04557a"/>
<rect x="573.43" y="358.98" width="11.84" height="9.63" fill="#099ef5" stroke="#044f7a"/>
<rect x="585.27" y="358.98" width="11.85" height="9.63" fill="#0991f5" stroke="#04497a"/>
<rect x="597.12" y="358.98" width="11.85" height="9.63" fill="#0984f5" stroke="#04427a"/>
<rect x="608.97" y="358.98" width="11.85" height="9.63" fill="#0978f5" stroke="#053d7d"/>
<rect x="620.81" y="358.98" width="11.85" height="9.63" fill="#096bf5" stroke="#053983"/>
<rect x="632.66" y="358.98" width="11.84" height="9.63" fill="#095ff5" stroke="#053588"/>
<rect x="644.50" y="358.98" width="11.85" height="9.63" fill="#0953f5" stroke="#05308d"/>
<rect x="656.35" y="358.98" width="11.85" height="9.63" fill="#0948f5" stroke="#052b92"/>
<rect x="668.19" y="358.98" width="11.85" height="9.63" fill="#093df5" stroke="#062697"/>
<rect x="680.04" y="358.98" width="11.84" height="9.63" fill="#0933f5" stroke="#06219c"/>
<rect x="691.88" y="358.98" width="11.85" height="9.63" fill="#092af5" stroke="#061ba1"/>
<rect x="703.73" y="358.98" width="11.85" height="9.63" fill="#0921f5" stroke="#0616a5"/>
<rect x="715.57" y="358.98" width="11.85" height="9.63" fill="#0918f5" stroke="#0611a9"/>
<rect x="727.42" y="358.98" width="11.84" height="9.63" fill="#0910f5" stroke="#060cad"/>
<rect x="739.26" y="358.98" width="11.85" height="9.63" fill="#0909f5" stroke="#0607b1"/>
<rect x="751.11" y="358.98" width="11.85" height="9.63" fill="#0909ee" stroke="#0707af"/>
<rect x="762.95" y="358.98" width="11.85" height="9.63" fill="#0909e8" stroke="#0707ad"/>
<rect x="774.80" y="358.98" width="11.84" height="9.63" fill="#0909e1" stroke="#0707ac"/>
<rect x="786.64" y="358.98" width="11.85" height="9.63" fill="#0909dc" stroke="#0707aa"/>
<rect x="798.49" y="358.98" width="11.85" height="9.63" fill="#0909d6" stroke="#0707a9"/>
<rect x="810.33" y="358.98" width="11.85" height="9.63" fill="#0909d1" stroke="#0707a7"/>
<rect x="822.18" y="358.98" width="11.85" height="9.63" fill="#0909cd" stroke="#0707a6"/>
<rect x="834.02" y="358.98" width="12.98" height="9.63" fill="#0909c8" stroke="#0707a4"/>
<rect x="49.00" y="368.60" width="3.25" height="9.63" fill="#aef44d" stroke="#577a27"/>
<rect x="52.25" y="368.60" width="11.84" height="9.63" fill="#e1f41a" stroke="#717a0d"/>
<rect x="64.09" y="368.60" width="11.84" height="9.63" fill="#f4d108" stroke="#7a6904"/>
<rect x="75.94" y="368.60" width="11.84" height="9.63" fill="#f49c08" stroke="#7a4e04"/>
<rect x="87.78" y="368.60" width="11.84" height="9.63" fill="#f46808" stroke="#7a3404"/>
<rect x="99.63" y="368.60" width="11.84" height="9.63" fill="#f43808" stroke="#7a1c04"/>
<rect x="111.47" y="368.60" width="11.85" height="9.63" fill="#f40e08" stroke="#7a0704"/>
<rect x="123.32" y="368.60" width="11.85" height="9.63" fill="#d40908" stroke="#6a0404"/>
<rect x="135.17" y="368.60" width="11.84" height="9.63" fill="#b70908" stroke="#5c0404"/>
<rect x="147.01" y="368.60" width="11.85" height="9.63" fill="#a10908" stroke="#510404"/>
<rect x="158.86" y="368.60" width="11.84" height="9.63" fill="#930908" stroke="#490404"/>
<rect x="170.70" y="368.60" width="11.85" height="9.63" fill="#8b0908" stroke="#450404"/>
<rect x="182.55" y="368.60" width="11.84" height="9.63" fill="#8b0908" stroke="#450404"/>
<rect x="194.39" y="368.60" width="11.84" height="9.63" fill="#930908" stroke="#490404"/>
<rect x="206.24" y="368.60" width="11.84" height="9.63" fill="#a50908" stroke="#520404"/>
<rect x="218.08" y="368.60" width="11.84" height="9.63" fill="#c10908" stroke="#610404"/>
<rect x="229.93" y="368.60" width="11.84" height="9.63" fill="#e90908" stroke="#740404"/>
<rect x="241.77" y="368.60" width="11.84" height="9.63" fill="#f43008" stroke="#7a1804"/>
<rect x="253.62" y="368.60" width="11.85" height="9.63" fill="#f46908" stroke="#7a3504"/>
<rect x="265.46" y="368.60" width="11.84" height="9.63" fill="#f4a808" stroke="#7a5404"/>
<rect x="277.31" y="368.60" width="11.84" height="9.63" fill="#f4e908" stroke="#7a7404"/>
<rect x="289.15" y="368.60" width="11.85" height="9.63" fill="#bff43c" stroke="#607a1e"/>
<rect x="301.00" y="368.60" width="11.85" height="9.63" fill="#85f477" stroke="#437a3c"/>
<rect x="312.84" y="368.60" width="11.84" height="9.63" fill="#52f4ab" stroke="#297a55"/>
<rect x="324.69" y="368.60" width="11.85" height="9.63" fill="#29f4d5" stroke="#147a6a"/>
<rect x="336.53" y="368.60" width="11.84" height="9.63" fill="#0af4f4" stroke="#057a7a"/>
<rect x="348.38" y="368.60" width="11.85" height="9.63" fill="#09dff5" stroke="#04707a"/>
<rect x="360.22" y="368.60" width="11.84" height="9.63" fill="#09d3f5" stroke="#046a7a"/>
<rect x="372.06" y="368.60" width="11.85" height="9.63" fill="#09cff5" stroke="#04677a"/>
<rect x="383.91" y="368.60" width="11.84" height="9.63" fill="#09d0f5" stroke="#04687a"/>
<rect x="395.75" y="368.60" width="11.85" height="9.63" fill="#09d4f5" stroke="#046a7a"/>
<rect x="407.60" y="368.60" width="11.84" height="9.63" fill="#09daf5" stroke="#046d7a"/>
<rect x="419.44" y="368.60" width="11.85" height="9.63" fill="#09e0f5" stroke="#04707a"/>
<rect x="431.29" y="368.60" width="11.85" height="9.63" fill="#09e5f5" stroke="#04727a"/>
<rect x="443.14" y="368.60" width="11.84" height="9.63" fill="#09e8f5" stroke="#04747a"/>
<rect x="454.98" y="368.60" width="11.85" height="9.63" fill="#09eaf5" stroke="#04757a"/>
<rect x="466.83" y="368.60" width="11.84" height="9.63" fill="#09eaf5" stroke="#04757a"/>
<rect x="478.67" y="368.60" width="11.85" height="9.63" fill="#09e7f5" stroke="#04747a"/>
<rect x="490.52" y="368.60" width="11.84" height="9.63" fill="#09e3f5" stroke="#04727a"/>
<rect x="502.36" y="368.60" width="11.85" height="9.63" fill="#09ddf5" stroke="#046e7a"/>
<rect x="514.21" y="368.60" width="11.84" height="9.63" fill="#09d5f5" stroke="#046b7a"/>
<rect x="526.05" y="368.60" width="11.85" height="9.63" fill="#09ccf5" stroke="#04667a"/>
<rect x="537.89" y="368.60" width="11.85" height="9.63" fill="#09c1f5" stroke="#04617a"/>
<rect x="549.74" y="368.60" width="11.85" height="9.63" fill="#09b6f5" stroke="#045b7a"/>
<rect x="561.59" y="368.60" width="11.85" height="9.63" fill="#09aaf5" stroke="#04557a"/>
<rect x="573.43" y="368.60" width="11.84" height="9.63" fill="#099df5" stroke="#044f7a"/>
<rect x="585.27" y="368.60" width="11.85" height="9.63" fill="#0990f5" stroke="#04487a"/>
<rect x="597.12" y="368.60" width="11.85" height="9.63" fill="#0983f5" stroke="#04427a"/>
<rect x="608.97" y="368.60" width="11.85" height="9.63" fill="#0976f5" stroke="#053d7e"/>
<rect x="620.81" y="368.60" width="11.85" height="9.63" fill="#096af5" stroke="#053983"/>
<rect x="632.66" y="368.60" width="11.84" height="9.63" fill="#095ef5" stroke="#053489"/>
<rect x="644.50" y="368.60" width="11.85" height="9.63" fill="#0952f5" stroke="#05308e"/>
<rect x="656.35" y="368.60" width="11.85" height="9.63" fill="#0947f5" stroke="#052b93"/>
<rect x="668.19" y="368.60" width="11.85" height="9.63" fill="#093cf5" stroke="#062598"/>
<rect x="680.04" y="368.60" width="11.84" height="9.63" fill="#0933f5" stroke="#06209c"/>
<rect x="691.88" y="368.60" width="11.85" height="9.63" fill="#0929f5" stroke="#061ba1"/>
<rect x="703.73" y="368.60" width="11.85" height="9.63" fill="#0920f5" stroke="#0616a5"/>
<rect x="715.57" y="368.60" width="11.85" height="9.63" fill="#0918f5" stroke="#0611a9"/>
<rect x="727.42" y="368.60" width="11.84" height="9.63" fill="#0911f5" stroke="#060cad"/>
<rect x="739.26" y="368.60" width="11.85" height="9.63" fill="#0909f5" stroke="#0607b0"/>
<rect x="751.11" y="368.60" width="11.85" height="9.63" fill="#0909ee" stroke="#0707af"/>
<rect x="762.95" y="368.60" width="11.85" height="9.63" fill="#0909e8" stroke="#0707ae"/>
<rect x="774.80" y="368.60" width="11.84" height="9.63" fill="#0909e2" stroke="#0707ac"/>
<rect x="786.64" y="368.60" width="11.85" height="9.63" fill="#0909dd" stroke="#0707aa"/>
<rect x="798.49" y="368.60" width="11.85" height="9.63" fill="#0909d7" stroke="#0707a9"/>
<rect x="810.33" y="368.60" width="11.85" height="9.63" fill="#0909d3" stroke="#0707a7"/>
<rect x="822.18" y="368.60" width="11.85" height="9.63" fill="#0909ce" stroke="#0707a6"/>
<rect x="834.02" y="368.60" width="12.98" height="9.63" fill="#0909ca" stroke="#0707a4"/>
<rect x="49.00" y="378.23" width="3.25" height="9.63" fill="#a5f457" stroke="#537a2b"/>
<rect x="52.25" y="378.23" width="11.84" height="9.63" fill="#d9f423" stroke="#6c7a11"/>
<rect x="64.09" y="378.23" width="11.84" height="9.63" fill="#f4d908" stroke="#7a6c04"/>
<rect x="75.94" y="378.23" width="11.84" height="9.63" fill="#f4a408" stroke="#7a5204"/>
<rect x="87.78" y="378.23" width="11.84" height="9.63" fill="#f47008" stroke="#7a3804"/>
<rect x="99.63" y="378.23" width="11.84" height="9.63" fill="#f44008" stroke="#7a2004"/>
<rect x="111.47" y="378.23" width="11.85" height="9.63" fill="#f41608" stroke="#7a0b04"/>
<rect x="123.32" y="378.23" width="11.85" height="9.63" fill="#dc0908" stroke="#6e0404"/>
<rect x="135.17" y="378.23" width="11.84" height="9.63" fill="#bf0908" stroke="#600404"/>
<rect x="147.01" y="378.23" width="11.85" height="9.63" fill="#a90908" stroke="#540404"/>
<rect x="158.86" y="378.23" width="11.84" height="9.63" fill="#990908" stroke="#4c0404"/>
<rect x="170.70" y="378.23" width="11.85" height="9.63" fill="#900908" stroke="#480404"/>
<rect x="182.55" y="378.23" width="11.84" height="9.63" fill="#900908" stroke="#480404"/>
<rect x="194.39" y="378.23" width="11.84" height="9.63" fill="#980908" stroke="#4c0404"/>
<rect x="206.24" y="378.23" width="11.84" height="9.63" fill="#aa0908" stroke="#550404"/>
<rect x="218.08" y="378.23" width="11.84" height="9.63" fill="#c60908" stroke="#630404"/>
<rect x="229.93" y="378.23" width="11.84" height="9.63" fill="#ee0908" stroke="#770404"/>
<rect x="241.77" y="378.23" width="11.84" height="9.63" fill="#f43408" stroke="#7a1a04"/>
<rect x="253.62" y="378.23" width="11.85" height="9.63" fill="#f46d08" stroke="#7a3704"/>
<rect x="265.46" y="378.23" width="11.84" height="9.63" fill="#f4ab08" stroke="#7a5604"/>
<rect x="277.31" y="378.23" width="11.84" height="9.63" fill="#f4eb08" stroke="#7a7504"/>
<rect x="289.15" y="378.23" width="11.85" height="9.63" fill="#bef43e" stroke="#5f7a1f"/>
<rect x="301.00" y="378.23" width="11.85" height="9.63" fill="#83f479" stroke="#427a3c"/>
<rect x="312.84" y="378.23" width="11.84" height="9.63" fill="#50f4ad" stroke="#287a56"/>
<rect x="324.69" y="378.23" width="11.85" height="9.63" fill="#26f4d7" stroke="#137a6b"/>
<rect x="336.53" y="378.23" width="11.84" height="9.63" fill="#09f1f5" stroke="#04797a"/>
<rect x="348.38" y="378.23" width="11.85" height="9.63" fill="#09dcf5" stroke="#046e7a"/>
<rect x="360.22" y="378.23" width="11.84" height="9.63" fill="#09d0f5" stroke="#04687a"/>
<rect x="372.06" y="378.23" width="11.85" height="9.63" fill="#09ccf5" stroke="#04667a"/>
<rect x="383.91" y="378.23" width="11.84" height="9.63" fill="#09cdf5" stroke="#04667a"/>
<rect x="395.75" y="378.23" width="11.85" height="9.63" fill="#09d1f5" stroke="#04697a"/>
<rect x="407.60" y="378.23" width="11.84" height="9.63" fill="#09d7f5" stroke="#046c7a"/>
<rect x="419.44" y="378.23" width="11.85" height="9.63" fill="#09ddf5" stroke="#046f7a"/>
<rect x="431.29" y="378.23" width="11.85" height="9.63" fill="#09e2f5" stroke="#04717a"/>
<rect x="443.14" y="378.23" width="11.84" height="9.63" fill="#09e6f5" stroke="#04737a"/>
<rect x="454.98" y="378.23" width="11.85" height="9.63" fill="#09e8f5" stroke="#04747a"/>
<rect x="466.83" y="378.23" width="11.84" height="9.63" fill="#09e7f5" stroke="#04747a"/>
<rect x="478.67" y="378.23" width="11.85" height="9.63" fill="#09e5f5" stroke="#04727a"/>
<rect x="490.52" y="378.23" width="11.84" height="9.63" fill="#09e1f5" stroke="#04707a"/>
<rect x="502.36" y="378.23" width="11.85" height="9.63" fill="#09daf5" stroke="#046d7a"/>
<rect x="514.21" y="378.23" width="11.84" height="9.63" fill="#09d2f5" stroke="#04697a"/>
<rect x="526.05" y="378.23" width="11.85" height="9.63" fill="#09c9f5" stroke="#04657a"/>
<rect x="537.89" y="378.23" width="11.85" height="9.63" fill="#09bff5" stroke="#045f7a"/>
<rect x="549.74" y="378.23" width="11.85" height="9.63" fill="#09b3f5" stroke="#045a7a"/>
<rect x="561.59" y="378.23" width="11.85" height="9.63" fill="#09a7f5" stroke="#04537a"/>
<rect x="573.43" y="378.23" width="11.84" height="9.63" fill="#099af5" stroke="#044d7a"/>
<rect x="585.27" y="378.23" width="11.85" height="9.63" fill="#098df5" stroke="#04477a"/>
<rect x="597.12" y="378.23" width="11.85" height="9.63" fill="#0980f5" stroke="#04407a"/>
<rect x="608.97" y="378.23" width="11.85" height="9.63" fill="#0974f5" stroke="#053c7f"/>
<rect x="620.81" y="378.23" width="11.85" height="9.63" fill="#0967f5" stroke="#053884"/>
<rect x="632.66" y="378.23" width="11.84" height="9.63" fill="#095bf5" stroke="#05338a"/>
<rect x="644.50" y="378.23" width="11.85" height="9.63" fill="#0950f5" stroke="#052f8f"/>
<rect x="656.35" y="378.23" width="11.85" height="9.63" fill="#0945f5" stroke="#052a94"/>
<rect x="668.19" y="378.23" width="11.85" height="9.63" fill="#093bf5" stroke="#062499"/>
<rect x="680.04" y="378.23" width="11.84" height="9.63" fill="#0931f5" stroke="#061f9d"/>
<rect x="691.88" y="378.23" width="11.85" height="9.63" fill="#0928f5" stroke="#061aa1"/>
<rect x="703.73" y="378.23" width="11.85" height="9.63" fill="#091ff5" stroke="#0615a6"/>
<rect x="715.57" y="378.23" width="11.85" height="9.63" fill="#0917f5" stroke="#0610aa"/>
<rect x="727.42" y="378.23" width="11.84" height="9.63" fill="#0910f5" stroke="#060bad"/>
<rect x="739.26" y="378.23" width="11.85" height="9.63" fill="#0909f5" stroke="#0606b1"/>
<rect x="751.11" y="378.23" width="11.85" height="9.63" fill="#0909ee" stroke="#0707af"/>
<rect x="762.95" y="378.23" width="11.85" height="9.63" fill="#0909e8" stroke="#0707ae"/>
<rect x="774.80" y="378.23" width="11.84" height="9.63" fill="#0909e2" stroke="#0707ac"/>
<rect x="786.64" y="378.23" width="11.85" height="9.63" fill="#0909dd" stroke="#0707ab"/>
<rect x="798.49" y="378.23" width="11.85" height="9.63" fill="#0909d8" stroke="#0707a9"/>
<rect x="810.33" y="378.23" width="11.85" height="9.63" fill="#0909d3" stroke="#0707a8"/>
<rect x="822.18" y="378.23" width="11.85" height="9.63" fill="#0909cf" stroke="#0707a6"/>
<rect x="834.02" y="378.23" width="12.98" height="9.63" fill="#0909ca" stroke="#0707a5"/>
<rect x="49.00" y="387.86" width="3.25" height="9.63" fill="#99f463" stroke="#4c7a32"/>
<rect x="52.25" y="387.86" width="11.84" height="9.63" fill="#cdf42f" stroke="#667a17"/>
<rect x="64.09" y="387.86" width="11.84" height="9.63" fill="#f4e508" stroke="#7a7204"/>
<rect x="75.94" y="387.86" width="11.84" height="9.63" fill="#f4b008" stroke="#7a5804"/>
<rect x="87.78" y="387.86" width="11.84" height="9.63" fill="#f47c08" stroke="#7a3e04"/>
<rect x="99.63" y="387.86" width="11.84" height="9.63" fill="#f44d08" stroke="#7a2604"/>
<rect x="111.47" y="387.86" width="11.85" height="9.63" fill="#f42308" stroke="#7a1104"/>
<rect x="123.32" y="387.86" width="11.85" height="9.63" fill="#e90908" stroke="#750404"/>
<rect x="135.17" y="387.86" width="11.84" height="9.63" fill="#cb0908" stroke="#660404"/>
<rect x="147.01" y="387.86" width="11.85" height="9.63" fill="#b40908" stroke="#5a0404"/>
<rect x="158.86" y="387.86" width="11.84" height="9.63" fill="#a40908" stroke="#520404"/>
<rect x="170.70" y="387.86" width="11.85" height="9.63" fill="#9b0908" stroke="#4e0404"/>
<rect x="182.55" y="387.86" width="11.84" height="9.63" fill="#9a0908" stroke="#4d0404"/>
<rect x="194.39" y="387.86" width="11.84" height="9.63" fill="#a20908" stroke="#510404"/>
<rect x="206.24" y="387.86" width="11.84" height="9.63" fill="#b40908" stroke="#5a0404"/>
<rect x="218.08" y="387.86" width="11.84" height="9.63" fill="#d00908" stroke="#680404"/>
<rect x="229.93" y="387.86" width="11.84" height="9.63" fill="#f40d08" stroke="#7a0604"/>
<rect x="241.77" y="387.86" width="11.84" height="9.63" fill="#f43d08" stroke="#7a1e04"/>
<rect x="253.62" y="387.86" width="11.85" height="9.63" fill="#f47408" stroke="#7a3a04"/>
<rect x="265.46" y="387.86" width="11.84" height="9.63" fill="#f4b108" stroke="#7a5804"/>
<rect x="277.31" y="387.86" width="11.84" height="9.63" fill="#f4ef08" stroke="#7a7804"/>
<rect x="289.15" y="387.86" width="11.85" height="9.63" fill="#baf442" stroke="#5d7a21"/>
<rect x="301.00" y="387.86" width="11.85" height="9.63" fill="#80f47c" stroke="#407a3e"/>
<rect x="312.84" y="387.86" width="11.84" height="9.63" fill="#4df4b0" stroke="#267a58"/>
<rect x="324.69" y="387.86" width="11.85" height="9.63" fill="#22f4db" stroke="#117a6d"/>
<rect x="336.53" y="387.86" width="11.84" height="9.63" fill="#09edf5" stroke="#04777a"/>
<rect x="348.38" y="387.86" width="11.85" height="9.63" fill="#09d7f5" stroke="#046c7a"/>
<rect x="360.22" y="387.86" width="11.84" height="9.63" fill="#09cbf5" stroke="#04667a"/>
<rect x="372.06" y="387.86" width="11.85" height="9.63" fill="#09c7f5" stroke="#04637a"/>
<rect x="383.91" y="387.86" width="11.84" height="9.63" fill="#09c8f5" stroke="#04647a"/>
<rect x="395.75" y="387.86" width="11.85" height="9.63" fill="#09cdf5" stroke="#04667a"/>
<rect x="407.60" y="387.86" width="11.84" height="9.63" fill="#09d3f5" stroke="#04697a"/>
<rect x="419.44" y="387.86" width="11.85" height="9.63" fill="#09d9f5" stroke="#046c7a"/>
<rect x="431.29" y="387.86" width="11.85" height="9.63" fill="#09def5" stroke="#046f7a"/>
<rect x="443.14" y="387.86" width="11.84" height="9.63" fill="#09e1f5" stroke="#04717a"/>
<rect x="454.98" y="387.86" width="11.85" height="9.63" fill="#09e3f5" stroke="#04727a"/>
<rect x="466.83" y="387.86" width="11.84" height="9.63" fill="#09e3f5" stroke="#04717a"/>
<rect x="478.67" y="387.86" width="11.85" height="9.63" fill="#09e0f5" stroke="#04707a"/>
<rect x="490.52" y="387.86" width="11.84" height="9.63" fill="#09dcf5" stroke="#046e7a"/>
<rect x="502.36" y="387.86" width="11.85" height="9.63" fill="#09d6f5" stroke="#046b7a"/>
<rect x="514.21" y="387.86" width="11.84" height="9.63" fill="#09cef5" stroke="#04677a"/>
<rect x="526.05" y="387.86" width="11.85" height="9.63" fill="#09c4f5" stroke="#04627a"/>
<rect x="537.89" y="387.86" width="11.85" height="9.63" fill="#09baf5" stroke="#045d7a"/>
<rect x="549.74" y="387.86" width="11.85" height="9.63" fill="#09aef5" stroke="#04577a"/>
<rect x="561.59" y="387.86" width="11.85" height="9.63" fill="#09a2f5" stroke="#04517a"/>
<rect x="573.43" y="387.86" width="11.84" height="9.63" fill="#0996f5" stroke="#044b7a"/>
<rect x="585.27" y="387.86" width="11.85" height="9.63" fill="#0989f5" stroke="#04447a"/>
<rect x="597.12" y="387.86" width="11.85" height="9.63" fill="#097cf5" stroke="#043f7b"/>
<rect x="608.97" y="387.86" width="11.85" height="9.63" fill="#0970f5" stroke="#053b81"/>
<rect x="620.81" y="387.86" width="11.85" height="9.63" fill="#0963f5" stroke="#053686"/>
<rect x="632.66" y="387.86" width="11.84" height="9.63" fill="#0958f5" stroke="#05328b"/>
<rect x="644.50" y="387.86" width="11.85" height="9.63" fill="#094cf5" stroke="#052d90"/>
<rect x="656.35" y="387.86" width="11.85" height="9.63" fill="#0942f5" stroke="#052895"/>
<rect x="668.19" y="387.86" width="11.85" height="9.63" fill="#0937f5" stroke="#06239a"/>
<rect x="680.04" y="387.86" width="11.84" height="9.63" fill="#092ef5" stroke="#061e9e"/>
<rect x="691.88" y="387.86" width="11.85" height="9.63" fill="#0925f5" stroke="#0619a3"/>
<rect x="703.73" y="387.86" width="11.85" height="9.63" fill="#091df5" stroke="#0614a7"/>
<rect x="715.57" y="387.86" width="11.85" height="9.63" fill="#0915f5" stroke="#060faa"/>
<rect x="727.42" y="387.86" width="11.84" height="9.63" fill="#090ef5" stroke="#060aae"/>
<rect x="739.26" y="387.86" width="11.85" height="9.63" fill="#0909f3" stroke="#0606b0"/>
<rect x="751.11" y="387.86" width="11.85" height="9.63" fill="#0909ed" stroke="#0707af"/>
<rect x="762.95" y="387.86" width="11.85" height="9.63" fill="#0909e7" stroke="#0707ad"/>
<rect x="774.80" y="387.86" width="11.84" height="9.63" fill="#0909e2" stroke="#0707ac"/>
<rect x="786.64" y="387.86" width="11.85" height="9.63" fill="#0909dc" stroke="#0707aa"/>
<rect x="798.49" y="387.86" width="11.85" height="9.63" fill="#0909d8" stroke="#0707a9"/>
<rect x="810.33" y="387.86" width="11.85" height="9.63" fill="#0909d3" stroke="#0707a8"/>
<rect x="822.18" y="387.86" width="11.85" height="9.63" fill="#0909cf" stroke="#0707a6"/>
<rect x="834.02" y="387.86" width="12.98" height="9.63" fill="#0909cb" stroke="#0707a5"/>
<rect x="49.00" y="397.48" width="3.25" height="9.63" fill="#8af473" stroke="#457a39"/>
<rect x="52.25" y="397.48" width="11.84" height="9.63" fill="#bef43e" stroke="#5f7a1f"/>
<rect x="64.09" y="397.48" width="11.84" height="9.63" fill="#f3f408" stroke="#7a7a04"/>
<rect x="75.94" y="397.48" width="11.84" height="9.63" fill="#f4bf08" stroke="#7a6004"/>
<rect x="87.78" y="397.48" width="11.84" height="9.63" fill="#f48c08" stroke="#7a4604"/>
<rect x="99.63" y="397.48" width="11.84" height="9.63" fill="#f45d08" stroke="#7a2f04"/>
<rect x="111.47" y="397.48" width="11.85" height="9.63" fill="#f43308" stroke="#7a1a04"/>
<rect x="123.32" y="397.48" width="11.85" height="9.63" fill="#f40f08" stroke="#7a0804"/>
<rect x="135.17" y="397.48" width="11.84" height="9.63" fill="#dc0908" stroke="#6e0404"/>
<rect x="147.01" y="397.48" width="11.85" height="9.63" fill="#c50908" stroke="#620404"/>
<rect x="158.86" y="397.48" width="11.84" height="9.63" fill="#b40908" stroke="#5a0404"/>
<rect x="170.70" y="397.48" width="11.85" height="9.63" fill="#ab0908" stroke="#550404"/>
<rect x="182.55" y="397.48" width="11.84" height="9.63" fill="#a90908" stroke="#550404"/>
<rect x="194.39" y="397.48" width="11.84" height="9.63" fill="#b10908" stroke="#590404"/>
<rect x="206.24" y="397.48" width="11.84" height="9.63" fill="#c30908" stroke="#610404"/>
<rect x="218.08" y="397.48" width="11.84" height="9.63" fill="#df0908" stroke="#6f0404"/>
<rect x="229.93" y="397.48" width="11.84" height="9.63" fill="#f41a08" stroke="#7a0d04"/>
<rect x="241.77" y="397.48" width="11.84" height="9.63" fill="#f44808" stroke="#7a2404"/>
<rect x="253.62" y="397.48" width="11.85" height="9.63" fill="#f47e08" stroke="#7a3f04"/>
<rect x="265.46" y="397.48" width="11.84" height="9.63" fill="#f4b908" stroke="#7a5c04"/>
<rect x="277.31" y="397.48" width="11.84" height="9.63" fill="#f1f40a" stroke="#797a05"/>
<rect x="289.15" y="397.48" width="11.85" height="9.63" fill="#b5f447" stroke="#5a7a24"/>
<rect x="301.00" y="397.48" width="11.85" height="9.63" fill="#7bf482" stroke="#3d7a41"/>
<rect x="312.84" y="397.48" width="11.84" height="9.63" fill="#47f4b6" stroke="#247a5b"/>
<rect x="324.69" y="397.48" width="11.85" height="9.63" fill="#1df4e1" stroke="#0e7a70"/>
<rect x="336.53" y="397.48" width="11.84" height="9.63" fill="#09e7f5" stroke="#04737a"/>
<rect x="348.38" y="397.48" width="11.85" height="9.63" fill="#09d1f5" stroke="#04687a"/>
<rect x="360.22" y="397.48" width="11.84" height="9.63" fill="#09c5f5" stroke="#04627a"/>
<rect x="372.06" y="397.48" width="11.85" height="9.63" fill="#09c0f5" stroke="#04607a"/>
<rect x="383.91" y="397.48" width="11.84" height="9.63" fill="#09c1f5" stroke="#04617a"/>
<rect x="395.75" y="397.48" width="11.85" height="9.63" fill="#09c6f5" stroke="#04637a"/>
<rect x="407.60" y="397.48" width="11.84" height="9.63" fill="#09ccf5" stroke="#04667a"/>
<rect x="419.44" y="397.48" width="11.85" height="9.63" fill="#09d2f5" stroke="#04697a"/>
<rect x="431.29" y="397.48" width="11.85" height="9.63" fill="#09d7f5" stroke="#046c7a"/>
<rect x="443.14" y="397.48" width="11.84" height="9.63" fill="#09dbf5" stroke="#046d7a"/>
<rect x="454.98" y="397.48" width="11.85" height="9.63" fill="#09dcf5" stroke="#046e7a"/>
<rect x="466.83" y="397.48" width="11.84" height="9.63" fill="#09dcf5" stroke="#046e7a"/>
<rect x="478.67" y="397.48" width="11.85" height="9.63" fill="#09d9f5" stroke="#046d7a"/>
<rect x="490.52" y="397.48" width="11.84" height="9.63" fill="#09d5f5" stroke="#046a7a"/>
<rect x="502.36" y="397.48" width="11.85" height="9.63" fill="#09cff5" stroke="#04677a"/>
<rect x="514.21" y="397.48" width="11.84" height="9.63" fill="#09c7f5" stroke="#04637a"/>
<rect x="526.05" y="397.48" width="11.85" height="9.63" fill="#09bef5" stroke="#045f7a"/>
<rect x="537.89" y="397.48" width="11.85" height="9.63" fill="#09b3f5" stroke="#045a7a"/>
<rect x="549.74" y="397.48" width="11.85" height="9.63" fill="#09a8f5" stroke="#04547a"/>
<rect x="561.59" y="397.48" width="11.85" height="9.63" fill="#099cf5" stroke="#044e7a"/>
<rect x="573.43" y="397.48" width="11.84" height="9.63" fill="#098ff5" stroke="#04487a"/>
<rect x="585.27" y="397.48" width="11.85" height="9.63" fill="#0983f5" stroke="#04417a"/>
<rect x="597.12" y="397.48" width="11.85" height="9.63" fill="#0976f5" stroke="#053d7e"/>
<rect x="608.97" y="397.48" width="11.85" height="9.63" fill="#096af5" stroke="#053983"/>
<rect x="620.81" y="397.48" width="11.85" height="9.63" fill="#095ef5" stroke="#053488"/>
<rect x="632.66" y="397.48" width="11.84" height="9.63" fill="#0953f5" stroke="#05308e"/>
<rect x="644.50" y="397.48" width="11.85" height="9.63" fill="#0948f5" stroke="#052b93"/>
<rect x="656.35" y="397.48" width="11.85" height="9.63" fill="#093df5" stroke="#062697"/>
<rect x="668.19" y="397.48" width="11.85" height="9.63" fill="#0933f5" stroke="#06219c"/>
<rect x="680.04" y="397.48" width="11.84" height="9.63" fill="#092af5" stroke="#061ca0"/>
<rect x="691.88" y="397.48" width="11.85" height="9.63" fill="#0922f5" stroke="#0617a4"/>
<rect x="703.73" y="397.48" width="11.85" height="9.63" fill="#091af5" stroke="#0612a8"/>
<rect x="715.57" y="397.48" width="11.85" height="9.63" fill="#0913f5" stroke="#060dac"/>
<rect x="727.42" y="397.48" width="11.84" height="9.63" fill="#090cf5" stroke="#0608af"/>
<rect x="739.26" y="397.48" width="11.85" height="9.63" fill="#0909f1" stroke="#0707b0"/>
<rect x="751.11" y="397.48" width="11.85" height="9.63" fill="#0909eb" stroke="#0707ae"/>
<rect x="762.95" y="397.48" width="11.85" height="9.63" fill="#0909e6" stroke="#0707ad"/>
<rect x="774.80" y="397.48" width="11.84" height="9.63" fill="#0909e0" stroke="#0707ac"/>
<rect x="786.64" y="397.48" width="11.85" height="9.63" fill="#0909dc" stroke="#0707aa"/>
<rect x="798.49" y="397.48" width="11.85" height="9.63" fill="#0909d7" stroke="#0707a9"/>
<rect x="810.33" y="397.48" width="11.85" height="9.63" fill="#0909d3" stroke="#0707a7"/>
<rect x="822.18" y="397.48" width="11.85" height="9.63" fill="#0909cf" stroke="#0707a6"/>
<rect x="834.02" y="397.48" width="12.98" height="9.63" fill="#0909cb" stroke="#0707a5"/>
<rect x="49.00" y="407.11" width="3.25" height="9.63" fill="#78f485" stroke="#3c7a42"/>
<rect x="52.25" y="407.11" width="11.84" height="9.63" fill="#acf450" stroke="#567a28"/>
<rect x="64.09" y="407.11" width="11.84" height="9.63" fill="#e1f41b" stroke="#707a0d"/>
<rect x="75.94" y="407.11" width="11.84" height="9.63" fill="#f4d208" stroke="#7a6904"/>
<rect x="87.78" y="407.11" width="11.84" height="9.63" fill="#f4a008" stroke="#7a5004"/>
<rect x="99.63" y="407.11" width="11.84" height="9.63" fill="#f47108" stroke="#7a3904"/>
<rect x="111.47" y="407.11" width="11.85" height="9.63" fill="#f44808" stroke="#7a2404"/>
<rect x="123.32" y="407.11" width="11.85" height="9.63" fill="#f42408" stroke="#7a1204"/>
<rect x="135.17" y="407.11" width="11.84" height="9.63" fill="#f00908" stroke="#780404"/>
<rect x="147.01" y="407.11" width="11.85" height="9.63" fill="#d90908" stroke="#6c0404"/>
<rect x="158.86" y="407.11" width="11.84" height="9.63" fill="#c80908" stroke="#640404"/>
<rect x="170.70" y="407.11" width="11.85" height="9.63" fill="#be0908" stroke="#5f0404"/>
<rect x="182.55" y="407.11" width="11.84" height="9.63" fill="#bd0908" stroke="#5e0404"/>
<rect x="194.39" y="407.11" width="11.84" height="9.63" fill="#c40908" stroke="#620404"/>
<rect x="206.24" y="407.11" width="11.84" height="9.63" fill="#d60908" stroke="#6b0404"/>
<rect x="218.08" y="407.11" width="11.84" height="9.63" fill="#f10908" stroke="#780404"/>
<rect x="229.93" y="407.11" width="11.84" height="9.63" fill="#f42a08" stroke="#7a1504"/>
<rect x="241.77" y="407.11" width="11.84" height="9.63" fill="#f45708" stroke="#7a2b04"/>
<rect x="253.62" y="407.11" width="11.85" height="9.63" fill="#f48a08" stroke="#7a4504"/>
<rect x="265.46" y="407.11" width="11.84" height="9.63" fill="#f4c208" stroke="#7a6104"/>
<rect x="277.31" y="407.11" width="11.84" height="9.63" fill="#eaf412" stroke="#757a09"/>
<rect x="289.15" y="407.11" width="11.85" height="9.63" fill="#aef44e" stroke="#577a27"/>
<rect x="301.00" y="407.11" width="11.85" height="9.63" fill="#74f488" stroke="#3a7a44"/>
<rect x="312.84" y="407.11" width="11.84" height="9.63" fill="#40f4bd" stroke="#207a5e"/>
<rect x="324.69" y="407.11" width="11.85" height="9.63" fill="#15f4e8" stroke="#0b7a74"/>
<rect x="336.53" y="407.11" width="11.84" height="9.63" fill="#09dff5" stroke="#046f7a"/>
<rect x="348.38" y="407.11" width="11.85" height="9.63" fill="#09c9f5" stroke="#04647a"/>
<rect x="360.22" y="407.11" width="11.84" height="9.63" fill="#09bcf5" stroke="#045e7a"/>
<rect x="372.06" y="407.11" width="11.85" height="9.63" fill="#09b8f5" stroke="#045c7a"/>
<rect x="383.91" y="407.11" width="11.84" height="9.63" fill="#09b9f5" stroke="#045c7a"/>
<rect x="395.75" y="407.11" width="11.85" height="9.63" fill="#09bdf5" stroke="#045f7a"/>
<rect x="407.60" y="407.11" width="11.84" height="9.63" fill="#09c3f5" stroke="#04627a"/>
<rect x="419.44" y="407.11" width="11.85" height="9.63" fill="#09c9f5" stroke="#04657a"/>
<rect x="431.29" y="407.11" width="11.85" height="9.63" fill="#09cef5" stroke="#04677a"/>
<rect x="443.14" y="407.11" width="11.84" height="9.63" fill="#09d2f5" stroke="#04697a"/>
<rect x="454.98" y="407.11" width="11.85" height="9.63" fill="#09d3f5" stroke="#046a7a"/>
<rect x="466.83" y="407.11" width="11.84" height="9.63" fill="#09d3f5" stroke="#04697a"/>
<rect x="478.67" y="407.11" width="11.85" height="9.63" fill="#09d0f5" stroke="#04687a"/>
<rect x="490.52" y="407.11" width="11.84" height="9.63" fill="#09ccf5" stroke="#04667a"/>
<rect x="502.36" y="407.11" width="11.85" height="9.63" fill="#09c6f5" stroke="#04637a"/>
<rect x="514.21" y="407.11" width="11.84" height="9.63" fill="#09bef5" stroke="#045f7a"/>
<rect x="526.05" y="407.11" width="11.85" height="9.63" fill="#09b5f5" stroke="#045a7a"/>
<rect x="537.89" y="407.11" width="11.85" height="9.63" fill="#09abf5" stroke="#04557a"/>
<rect x="549.74" y="407.11" width="11.85" height="9.63" fill="#09a0f5" stroke="#04507a"/>
<rect x="561.59" y="407.11" width="11.85" height="9.63" fill="#0994f5" stroke="#044a7a"/>
<rect x="573.43" y="407.11" width="11.84" height="9.63" fill="#0988f5" stroke="#04447a"/>
<rect x="585.27" y="407.11" width="11.85" height="9.63" fill="#097bf5" stroke="#053e7c"/>
<rect x="597.12" y="407.11" width="11.85" height="9.63" fill="#096ff5" stroke="#053b81"/>
<rect x="608.97" y="407.11" width="11.85" height="9.63" fill="#0963f5" stroke="#053686"/>
<rect x="620.81" y="407.11" width="11.85" height="9.63" fill="#0958f5" stroke="#05328b"/>
<rect x="632.66" y="407.11" width="11.84" height="9.63" fill="#094cf5" stroke="#052d90"/>
<rect x="644.50" y="407.11" width="11.85" height="9.63" fill="#0942f5" stroke="#052895"/>
<rect x="656.35" y="407.11" width="11.85" height="9.63" fill="#0938f5" stroke="#06239a"/>
<rect x="668.19" y="407.11" width="11.85" height="9.63" fill="#092ff5" stroke="#061e9e"/>
<rect x="680.04" y="407.11" width="11.84" height="9.63" fill="#0926f5" stroke="#0619a2"/>
<rect x="691.88" y="407.11" width="11.85" height="9.63" fill="#091ef5" stroke="#0614a6"/>
<rect x="703.73" y="407.11" width="11.85" height="9.63" fill="#0916f5" stroke="#060faa"/>
<rect x="715.57" y="407.11" width="11.85" height="9.63" fill="#090ff5" stroke="#060bad"/>
<rect x="727.42" y="407.11" width="11.84" height="9.63" fill="#0909f5" stroke="#0606b1"/>
<rect x="739.26" y="407.11" width="11.85" height="9.63" fill="#0909ef" stroke="#0707af"/>
<rect x="751.11" y="407.11" width="11.85" height="9.63" fill="#0909e9" stroke="#0707ae"/>
<rect x="762.95" y="407.11" width="11.85" height="9.63" fill="#0909e4" stroke="#0707ac"/>
<rect x="774.80" y="407.11" width="11.84" height="9.63" fill="#0909df" stroke="#0707ab"/>
<rect x="786.64" y="407.11" width="11.85" height="9.63" fill="#0909da" stroke="#0707aa"/>
<rect x="798.49" y="407.11" width="11.85" height="9.63" fill="#0909d6" stroke="#0707a8"/>
<rect x="810.33" y="407.11" width="11.85" height="9.63" fill="#0909d2" stroke="#0707a7"/>
<rect x="822.18" y="407.11" width="11.85" height="9.63" fill="#0909ce" stroke="#0707a6"/>
<rect x="834.02" y="407.11" width="12.98" height="9.63" fill="#0909ca" stroke="#0707a5"/>
<rect x="49.00" y="416.74" width="3.25" height="9.63" fill="#64f499" stroke="#327a4c"/>
<rect x="52.25" y="416.74" width="11.84" height="9.63" fill="#97f465" stroke="#4c7a32"/>
<rect x="64.09" y="416.74" width="11.84" height="9.63" fill="#ccf430" stroke="#667a18"/>
<rect x="75.94" y="416.74" width="11.84" height="9.63" fill="#f4e808" stroke="#7a7404"/>
<rect x="87.78" y="416.74" width="11.84" height="9.63" fill="#f4b608" stroke="#7a5b04"/>
<rect x="99.63" y="416.74" width="11.84" height="9.63" fill="#f48808" stroke="#7a4404"/>
<rect x="111.47" y="416.74" width="11.85" height="9.63" fill="#f45f08" stroke="#7a2f04"/>
<rect x="123.32" y="416.74" width="11.85" height="9.63" fill="#f43b08" stroke="#7a1d04"/>
<rect x="135.17" y="416.74" width="11.84" height="9.63" fill="#f41d08" stroke="#7a0e04"/>
<rect x="147.01" y="416.74" width="11.85" height="9.63" fill="#f00908" stroke="#780404"/>
<rect x="158.86" y="416.74" width="11.84" height="9.63" fill="#df0908" stroke="#6f0404"/>
<rect x="170.70" y="416.74" width="11.85" height="9.63" fill="#d50908" stroke="#6b0404"/>
<rect x="182.55" y="416.74" width="11.84" height="9.63" fill="#d40908" stroke="#6a0404"/>
<rect x="194.39" y="416.74" width="11.84" height="9.63" fill="#db0908" stroke="#6e0404"/>
<rect x="206.24" y="416.74" width="11.84" height="9.63" fill="#ec0908" stroke="#760404"/>
<rect x="218.08" y="416.74" width="11.84" height="9.63" fill="#f41b08" stroke="#7a0d04"/>
<rect x="229.93" y="416.74" width="11.84" height="9.63" fill="#f43d08" stroke="#7a1f04"/>
<rect x="241.77" y="416.74" width="11.84" height="9.63" fill="#f46708" stroke="#7a3304"/>
<rect x="253.62" y="416.74" width="11.85" height="9.63" fill="#f49708" stroke="#7a4c04"/>
<rect x="265.46" y="416.74" width="11.84" height="9.63" fill="#f4cd08" stroke="#7a6704"/>
<rect x="277.31" y="416.74" width="11.84" height="9.63" fill="#e0f41b" stroke="#707a0e"/>
<rect x="289.15" y="416.74" width="11.85" height="9.63" fill="#a5f457" stroke="#527a2c"/>
<rect x="301.00" y="416.74" width="11.85" height="9.63" fill="#6cf491" stroke="#367a49"/>
<rect x="312.84" y="416.74" width="11.84" height="9.63" fill="#37f4c6" stroke="#1c7a63"/>
<rect x="324.69" y="416.74" width="11.85" height="9.63" fill="#0cf4f2" stroke="#067a79"/>
<rect x="336.53" y="416.74" width="11.84" height="9.63" fill="#09d5f5" stroke="#046a7a"/>
<rect x="348.38" y="416.74" width="11.85" height="9.63" fill="#09bff5" stroke="#045f7a"/>
<rect x="360.22" y="416.74" width="11.84" height="9.63" fill="#09b2f5" stroke="#04597a"/>
<rect x="372.06" y="416.74" width="11.85" height="9.63" fill="#09aef5" stroke="#04577a"/>
<rect x="383.91" y="416.74" width="11.84" height="9.63" fill="#09aff5" stroke="#04577a"/>
<rect x="395.75" y="416.74" width="11.85" height="9.63" fill="#09b3f5" stroke="#045a7a"/>
<rect x="407.60" y="416.74" width="11.84" height="9.63" fill="#09b9f5" stroke="#045c7a"/>
<rect x="419.44" y="416.74" width="11.85" height="9.63" fill="#09bff5" stroke="#045f7a"/>
<rect x="431.29" y="416.74" width="11.85" height="9.63" fill="#09c4f5" stroke="#04627a"/>
<rect x="443.14" y="416.74" width="11.84" height="9.63" fill="#09c7f5" stroke="#04637a"/>
<rect x="454.98" y="416.74" width="11.85" height="9.63" fill="#09c8f5" stroke="#04647a"/>
<rect x="466.83" y="416.74" width="11.84" height="9.63" fill="#09c8f5" stroke="#04647a"/>
<rect x="478.67" y="416.74" width="11.85" height="9.63" fill="#09c5f5" stroke="#04637a"/>
<rect x="490.52" y="416.74" width="11.84" height="9.63" fill="#09c1f5" stroke="#04617a"/>
<rect x="502.36" y="416.74" width="11.85" height="9.63" fill="#09bbf5" stroke="#045e7a"/>
<rect x="514.21" y="416.74" width="11.84" height="9.63" fill="#09b4f5" stroke="#045a7a"/>
<rect x="526.05" y="416.74" width="11.85" height="9.63" fill="#09abf5" stroke="#04557a"/>
<rect x="537.89" y="416.74" width="11.85" height="9.63" fill="#09a1f5" stroke="#04507a"/>
<rect x="549.74" y="416.74" width="11.85" height="9.63" fill="#0996f5" stroke="#044b7a"/>
<rect x="561.59" y="416.74" width="11.85" height="9.63" fill="#098af5" stroke="#04457a"/>
<rect x="573.43" y="416.74" width="11.84" height="9.63" fill="#097ff5" stroke="#043f7a"/>
<rect x="585.27" y="416.74" width="11.85" height="9.63" fill="#0973f5" stroke="#053c7f"/>
<rect x="597.12" y="416.74" width="11.85" height="9.63" fill="#0967f5" stroke="#053885"/>
<rect x="608.97" y="416.74" width="11.85" height="9.63" fill="#095bf5" stroke="#05338a"/>
<rect x="620.81" y="416.74" width="11.85" height="9.63" fill="#0950f5" stroke="#052f8f"/>
<rect x="632.66" y="416.74" width="11.84" height="9.63" fill="#0945f5" stroke="#052a94"/>
<rect x="644.50" y="416.74" width="11.85" height="9.63" fill="#093bf5" stroke="#062598"/>
<rect x="656.35" y="416.74" width="11.85" height="9.63" fill="#0932f5" stroke="#06209d"/>
<rect x="668.19" y="416.74" width="11.85" height="9.63" fill="#0929f5" stroke="#061ba1"/>
<rect x="680.04" y="416.74" width="11.84" height="9.63" fill="#0921f5" stroke="#0616a5"/>
<rect x="691.88" y="416.74" width="11.85" height="9.63" fill="#0919f5" stroke="#0611a9"/>
<rect x="703.73" y="416.74" width="11.85" height="9.63" fill="#0912f5" stroke="#060cac"/>
<rect x="715.57" y="416.74" width="11.85" height="9.63" fill="#090bf5" stroke="#0608af"/>
<rect x="727.42" y="416.74" width="11.84" height="9.63" fill="#0909f1" stroke="#0707b0"/>
<rect x="739.26" y="416.74" width="11.85" height="9.63" fill="#0909eb" stroke="#0707ae"/>
<rect x="751.11" y="416.74" width="11.85" height="9.63" fill="#0909e6" stroke="#0707ad"/>
<rect x="762.95" y="416.74" width="11.85" height="9.63" fill="#0909e1" stroke="#0707ac"/>
<rect x="774.80" y="416.74" width="11.84" height="9.63" fill="#0909dd" stroke="#0707aa"/>
<rect x="786.64" y="416.74" width="11.85" height="9.63" fill="#0909d8" stroke="#0707a9"/>
<rect x="798.49" y="416.74" width="11.85" height="9.63" fill="#0909d4" stroke="#0707a8"/>
<rect x="810.33" y="416.74" width="11.85" height="9.63" fill="#0909d0" stroke="#0707a7"/>
<rect x="822.18" y="416.74" width="11.85" height="9.63" fill="#0909cd" stroke="#0707a6"/>
<rect x="834.02" y="416.74" width="12.98" height="9.63" fill="#0909c9" stroke="#0707a4"/>
<rect x="49.00" y="426.37" width="3.25" height="9.63" fill="#4ef4af" stroke="#277a57"/>
<rect x="52.25" y="426.37" width="11.84" height="9.63" fill="#81f47c" stroke="#407a3e"/>
<rect x="64.09" y="426.37" width="11.84" height="9.63" fill="#b4f447" stroke="#5a7a24"/>
<rect x="75.94" y="426.37" width="11.84" height="9.63" fill="#e7f414" stroke="#747a0a"/>
<rect x="87.78" y="426.37" width="11.84" height="9.63" fill="#f4cf08" stroke="#7a6704"/>
<rect x="99.63" y="426.37" width="11.84" height="9.63" fill="#f4a108" stroke="#7a5104"/>
<rect x="111.47" y="426.37" width="11.85" height="9.63" fill="#f47808" stroke="#7a3c04"/>
<rect x="123.32" y="426.37" width="11.85" height="9.63" fill="#f45408" stroke="#7a2a04"/>
<rect x="135.17" y="426.37" width="11.84" height="9.63" fill="#f43608" stroke="#7a1b04"/>
<rect x="147.01" y="426.37" width="11.85" height="9.63" fill="#f41f08" stroke="#7a0f04"/>
<rect x="158.86" y="426.37" width="11.84" height="9.63" fill="#f40e08" stroke="#7a0704"/>
<rect x="170.70" y="426.37" width="11.85" height="9.63" fill="#ef0908" stroke="#780404"/>
<rect x="182.55" y="426.37" width="11.84" height="9.63" fill="#ee0908" stroke="#770404"/>
<rect x="194.39" y="426.37" width="11.84" height="9.63" fill="#f40a08" stroke="#7a0504"/>
<rect x="206.24" y="426.37" width="11.84" height="9.63" fill="#f41a08" stroke="#7a0d04"/>
<rect x="218.08" y="426.37" width="11.84" height="9.63" fill="#f43208" stroke="#7a1904"/>
<rect x="229.93" y="426.37" width="11.84" height="9.63" fill="#f45208" stroke="#7a2904"/>
<rect x="241.77" y="426.37" width="11.84" height="9.63" fill="#f47908" stroke="#7a3c04"/>
<rect x="253.62" y="426.37" width="11.85" height="9.63" fill="#f4a708" stroke="#7a5304"/>
<rect x="265.46" y="426.37" width="11.84" height="9.63" fill="#f4da08" stroke="#7a6d04"/>
<rect x="277.31" y="426.37" width="11.84" height="9.63" fill="#d5f427" stroke="#6a7a13"/>
<rect x="289.15" y="426.37" width="11.85" height="9.63" fill="#9af462" stroke="#4d7a31"/>
<rect x="301.00" y="426.37" width="11.85" height="9.63" fill="#61f49c" stroke="#317a4e"/>
<rect x="312.84" y="426.37" width="11.84" height="9.63" fill="#2df4d1" stroke="#167a68"/>
<rect x="324.69" y="426.37" width="11.85" height="9.63" fill="#09ebf5" stroke="#04767a"/>
<rect x="336.53" y="426.37" width="11.84" height="9.63" fill="#09c9f5" stroke="#04657a"/>
<rect x="348.38" y="426.37" width="11.85" height="9.63" fill="#09b3f5" stroke="#04597a"/>
<rect x="360.22" y="426.37" width="11.84" height="9.63" fill="#09a6f5" stroke="#04537a"/>
<rect x="372.06" y="426.37" width="11.85" height="9.63" fill="#09a2f5" stroke="#04517a"/>
<rect x="383.91" y="426.37" width="11.84" height="9.63" fill="#09a3f5" stroke="#04517a"/>
<rect x="395.75" y="426.37" width="11.85" height="9.63" fill="#09a7f5" stroke="#04547a"/>
<rect x="407.60" y="426.37" width="11.84" height="9.63" fill="#09adf5" stroke="#04567a"/>
<rect x="419.44" y="426.37" width="11.85" height="9.63" fill="#09b3f5" stroke="#04597a"/>
<rect x="431.29" y="426.37" width="11.85" height="9.63" fill="#09b7f5" stroke="#045c7a"/>
<rect x="443.14" y="426.37" width="11.84" height="9.63" fill="#09baf5" stroke="#045d7a"/>
<rect x="454.98" y="426.37" width="11.85" height="9.63" fill="#09bcf5" stroke="#045e7a"/>
<rect x="466.83" y="426.37" width="11.84" height="9.63" fill="#09bbf5" stroke="#045e7a"/>
<rect x="478.67" y="426.37" width="11.85" height="9.63" fill="#09b9f5" stroke="#045c7a"/>
<rect x="490.52" y="426.37" width="11.84" height="9.63" fill="#09b5f5" stroke="#045a7a"/>
<rect x="502.36" y="426.37" width="11.85" height="9.63" fill="#09aff5" stroke="#04577a"/>
<rect x="514.21" y="426.37" width="11.84" height="9.63" fill="#09a7f5" stroke="#04547a"/>
<rect x="526.05" y="426.37" width="11.85" height="9.63" fill="#099ff5" stroke="#044f7a"/>
<rect x="537.89" y="426.37" width="11.85" height="9.63" fill="#0995f5" stroke="#044b7a"/>
<rect x="549.74" y="426.37" width="11.85" height="9.63" fill="#098bf5" stroke="#04457a"/>
<rect x="561.59" y="426.37" width="11.85" height="9.63" fill="#0980f5" stroke="#04407a"/>
<rect x="573.43" y="426.37" width="11.84" height="9.63" fill="#0974f5" stroke="#053c7f"/>
<rect x="585.27" y="426.37" width="11.85" height="9.63" fill="#0969f5" stroke="#053884"/>
<rect x="597.12" y="426.37" width="11.85" height="9.63" fill="#095ef5" stroke="#053489"/>
<rect x="608.97" y="426.37" width="11.85" height="9.63" fill="#0952f5" stroke="#05308e"/>
<rect x="620.81" y="426.37" width="11.85" height="9.63" fill="#0948f5" stroke="#052b92"/>
<rect x="632.66" y="426.37" width="11.84" height="9.63" fill="#093ef5" stroke="#062697"/>
<rect x="644.50" y="426.37" width="11.85" height="9.63" fill="#0934f5" stroke="#06219c"/>
<rect x="656.35" y="426.37" width="11.85" height="9.63" fill="#092bf5" stroke="#061ca0"/>
<rect x="668.19" y="426.37" width="11.85" height="9.63" fill="#0922f5" stroke="#0617a4"/>
<rect x="680.04" y="426.37" width="11.84" height="9.63" fill="#091bf5" stroke="#0612a8"/>
<rect x="691.88" y="426.37" width="11.85" height="9.63" fill="#0913f5" stroke="#060eab"/>
<rect x="703.73" y="426.37" width="11.85" height="9.63" fill="#090df5" stroke="#0609af"/>
<rect x="715.57" y="426.37" width="11.85" height="9.63" fill="#0909f3" stroke="#0606b0"/>
<rect x="727.42" y="426.37" width="11.84" height="9.63" fill="#0909ed" stroke="#0707af"/>
<rect x="739.26" y="426.37" width="11.85" height="9.63" fill="#0909e8" stroke="#0707ad"/>
<rect x="751.11" y="426.37" width="11.85" height="9.63" fill="#0909e3" stroke="#0707ac"/>
<rect x="762.95" y="426.37" width="11.85" height="9.63" fill="#0909de" stroke="#0707ab"/>
<rect x="774.80" y="426.37" width="11.84" height="9.63" fill="#0909da" stroke="#0707aa"/>
<rect x="786.64" y="426.37" width="11.85" height="9.63" fill="#0909d6" stroke="#0707a9"/>
<rect x="798.49" y="426.37" width="11.85" height="9.63" fill="#0909d2" stroke="#0707a7"/>
<rect x="810.33" y="426.37" width="11.85" height="9.63" fill="#0909cf" stroke="#0707a6"/>
<rect x="822.18" y="426.37" width="11.85" height="9.63" fill="#0909cb" stroke="#0707a5"/>
<rect x="834.02" y="426.37" width="12.98" height="9.63" fill="#0909c8" stroke="#0707a4"/>
<rect x="49.00" y="435.99" width="3.25" height="9.63" fill="#37f4c6" stroke="#1c7a63"/>
<rect x="52.25" y="435.99" width="11.84" height="9.63" fill="#69f494" stroke="#347a4a"/>
<rect x="64.09" y="435.99" width="11.84" height="9.63" fill="#9bf461" stroke="#4e7a30"/>
<rect x="75.94" y="435.99" width="11.84" height="9.63" fill="#cef42e" stroke="#677a17"/>
<rect x="87.78" y="435.99" width="11.84" height="9.63" fill="#f4e908" stroke="#7a7504"/>
<rect x="99.63" y="435.99" width="11.84" height="9.63" fill="#f4bc08" stroke="#7a5e04"/>
<rect x="111.47" y="435.99" width="11.85" height="9.63" fill="#f49308" stroke="#7a4a04"/>
<rect x="123.32" y="435.99" width="11.85" height="9.63" fill="#f47008" stroke="#7a3804"/>
<rect x="135.17" y="435.99" width="11.84" height="9.63" fill="#f45208" stroke="#7a2904"/>
<rect x="147.01" y="435.99" width="11.85" height="9.63" fill="#f43a08" stroke="#7a1d04"/>
<rect x="158.86" y="435.99" width="11.84" height="9.63" fill="#f42a08" stroke="#7a1504"/>
<rect x="170.70" y="435.99" width="11.85" height="9.63" fill="#f42008" stroke="#7a1004"/>
<rect x="182.55" y="435.99" width="11.84" height="9.63" fill="#f41f08" stroke="#7a0f04"/>
<rect x="194.39" y="435.99" width="11.84" height="9.63" fill="#f42508" stroke="#7a1304"/>
<rect x="206.24" y="435.99" width="11.84" height="9.63" fill="#f43408" stroke="#7a1a04"/>
<rect x="218.08" y="435.99" width="11.84" height="9.63" fill="#f44a08" stroke="#7a2504"/>
<rect x="229.93" y="435.99" width="11.84" height="9.63" fill="#f46808" stroke="#7a3404"/>
<rect x="241.77" y="435.99" width="11.84" height="9.63" fill="#f48c08" stroke="#7a4604"/>
<rect x="253.62" y="435.99" width="11.85" height="9.63" fill="#f4b708" stroke="#7a5b04"/>
<rect x="265.46" y="435.99" width="11.84" height="9.63" fill="#f4e808" stroke="#7a7404"/>
<rect x="277.31" y="435.99" width="11.84" height="9.63" fill="#c8f434" stroke="#647a1a"/>
<rect x="289.15" y="435.99" width="11.85" height="9.63" fill="#8ef46e" stroke="#477a37"/>
<rect x="301.00" y="435.99" width="11.85" height="9.63" fill="#55f4a8" stroke="#2a7a54"/>
<rect x="312.84" y="435.99" width="11.84" height="9.63" fill="#20f4de" stroke="#107a6f"/>
<rect x="324.69" y="435.99" width="11.85" height="9.63" fill="#09def5" stroke="#046f7a"/>
<rect x="336.53" y="435.99" width="11.84" height="9.63" fill="#09bcf5" stroke="#045e7a"/>
<rect x="348.38" y="435.99" width="11.85" height="9.63" fill="#09a6f5" stroke="#04537a"/>
<rect x="360.22" y="435.99" width="11.84" height="9.63" fill="#0999f5" stroke="#044d7a"/>
<rect x="372.06" y="435.99" width="11.85" height="9.63" fill="#0995f5" stroke="#044a7a"/>
<rect x="383.91" y="435.99" width="11.84" height="9.63" fill="#0996f5" stroke="#044b7a"/>
<rect x="395.75" y="435.99" width="11.85" height="9.63" fill="#099af5" stroke="#044d7a"/>
<rect x="407.60" y="435.99" width="11.84" height="9.63" fill="#09a0f5" stroke="#04507a"/>
<rect x="419.44" y="435.99" width="11.85" height="9.63" fill="#09a5f5" stroke="#04527a"/>
<rect x="431.29" y="435.99" width="11.85" height="9.63" fill="#09a9f5" stroke="#04557a"/>
<rect x="443.14" y="435.99" width="11.84" height="9.63" fill="#09acf5" stroke="#04567a"/>
<rect x="454.98" y="435.99" width="11.85" height="9.63" fill="#09aef5" stroke="#04577a"/>
<rect x="466.83" y="435.99" width="11.84" height="9.63" fill="#09adf5" stroke="#04577a"/>
<rect x="478.67" y="435.99" width="11.85" height="9.63" fill="#09abf5" stroke="#04557a"/>
<rect x="490.52" y="435.99" width="11.84" height="9.63" fill="#09a7f5" stroke="#04537a"/>
<rect x="502.36" y="435.99" width="11.85" height="9.63" fill="#09a1f5" stroke="#04507a"/>
<rect x="514.21" y="435.99" width="11.84" height="9.63" fill="#099af5" stroke="#044d7a"/>
<rect x="526.05" y="435.99" width="11.85" height="9.63" fill="#0992f5" stroke="#04497a"/>
<rect x="537.89" y="435.99" width="11.85" height="9.63" fill="#0988f5" stroke="#04447a"/>
<rect x="549.74" y="435.99" width="11.85" height="9.63" fill="#097ef5" stroke="#043f7a"/>
<rect x="561.59" y="435.99" width="11.85" height="9.63" fill="#0974f5" stroke="#053c7f"/>
<rect x="573.43" y="435.99" width="11.84" height="9.63" fill="#0969f5" stroke="#053884"/>
<rect x="585.27" y="435.99" width="11.85" height="9.63" fill="#095ef5" stroke="#053488"/>
<rect x="597.12" y="435.99" width="11.85" height="9.63" fill="#0953f5" stroke="#05308d"/>
<rect x="608.97" y="435.99" width="11.85" height="9.63" fill="#0949f5" stroke="#052b92"/>
<rect x="620.81" y="435.99" width="11.85" height="9.63" fill="#093ff5" stroke="#052797"/>
<rect x="632.66" y="435.99" width="11.84" height="9.63" fill="#0935f5" stroke="#06229b"/>
<rect x="644.50" y="435.99" width="11.85" height="9.63" fill="#092cf5" stroke="#061d9f"/>
<rect x="656.35" y="435.99" width="11.85" height="9.63" fill="#0924f5" stroke="#0618a3"/>
<rect x="668.19" y="435.99" width="11.85" height="9.63" fill="#091cf5" stroke="#0613a7"/>
<rect x="680.04" y="435.99" width="11.84" height="9.63" fill="#0914f5" stroke="#060eab"/>
<rect x="691.88" y="435.99" width="11.85" height="9.63" fill="#090ef5" stroke="#060aae"/>
<rect x="703.73" y="435.99" width="11.85" height="9.63" fill="#0909f3" stroke="#0606b0"/>
<rect x="715.57" y="435.99" width="11.85" height="9.63" fill="#0909ee" stroke="#0707af"/>
<rect x="727.42" y="435.99" width="11.84" height="9.63" fill="#0909e8" stroke="#0707ae"/>
<rect x="739.26" y="435.99" width="11.85" height="9.63" fill="#0909e3" stroke="#0707ac"/>
<rect x="751.11" y="435.99" width="11.85" height="9.63" fill="#0909df" stroke="#0707ab"/>
<rect x="762.95" y="435.99" width="11.85" height="9.63" fill="#0909db" stroke="#0707aa"/>
<rect x="774.80" y="435.99" width="11.84" height="9.63" fill="#0909d7" stroke="#0707a9"/>
<rect x="786.64" y="435.99" width="11.85" height="9.63" fill="#0909d3" stroke="#0707a8"/>
<rect x="798.49" y="435.99" width="11.85" height="9.63" fill="#0909d0" stroke="#0707a7"/>
<rect x="810.33" y="435.99" width="11.85" height="9.63" fill="#0909cd" stroke="#0707a6"/>
<rect x="822.18" y="435.99" width="11.85" height="9.63" fill="#0909ca" stroke="#0707a5"/>
<rect x="834.02" y="435.99" width="12.98" height="9.63" fill="#0909c7" stroke="#0707a4"/>
<rect x="49.00" y="445.62" width="3.25" height="9.63" fill="#1ff4de" stroke="#107a6f"/>
<rect x="52.25" y="445.62" width="11.84" height="9.63" fill="#50f4ad" stroke="#287a57"/>
<rect x="64.09" y="445.62" width="11.84" height="9.63" fill="#81f47b" stroke="#417a3e"/>
<rect x="75.94" y="445.62" width="11.84" height="9.63" fill="#b2f44a" stroke="#597a25"/>
<rect x="87.78" y="445.62" width="11.84" height="9.63" fill="#e2f41a" stroke="#717a0d"/>
<rect x="99.63" y="445.62" width="11.84" height="9.63" fill="#f4d908" stroke="#7a6c04"/>
<rect x="111.47" y="445.62" width="11.85" height="9.63" fill="#f4b008" stroke="#7a5804"/>
<rect x="123.32" y="445.62" width="11.85" height="9.63" fill="#f48d08" stroke="#7a4604"/>
<rect x="135.17" y="445.62" width="11.84" height="9.63" fill="#f46f08" stroke="#7a3704"/>
<rect x="147.01" y="445.62" width="11.85" height="9.63" fill="#f45708" stroke="#7a2c04"/>
<rect x="158.86" y="445.62" width="11.84" height="9.63" fill="#f44708" stroke="#7a2304"/>
<rect x="170.70" y="445.62" width="11.85" height="9.63" fill="#f43e08" stroke="#7a1f04"/>
<rect x="182.55" y="445.62" width="11.84" height="9.63" fill="#f43c08" stroke="#7a1e04"/>
<rect x="194.39" y="445.62" width="11.84" height="9.63" fill="#f44208" stroke="#7a2104"/>
<rect x="206.24" y="445.62" width="11.84" height="9.63" fill="#f44f08" stroke="#7a2804"/>
<rect x="218.08" y="445.62" width="11.84" height="9.63" fill="#f46408" stroke="#7a3204"/>
<rect x="229.93" y="445.62" width="11.84" height="9.63" fill="#f47e08" stroke="#7a3f04"/>
<rect x="241.77" y="445.62" width="11.84" height="9.63" fill="#f4a008" stroke="#7a5004"/>
<rect x="253.62" y="445.62" width="11.85" height="9.63" fill="#f4c808" stroke="#7a6404"/>
<rect x="265.46" y="445.62" width="11.84" height="9.63" fill="#eff40c" stroke="#787a06"/>
<rect x="277.31" y="445.62" width="11.84" height="9.63" fill="#baf442" stroke="#5d7a21"/>
<rect x="289.15" y="445.62" width="11.85" height="9.63" fill="#80f47c" stroke="#407a3e"/>
<rect x="301.00" y="445.62" width="11.85" height="9.63" fill="#46f4b7" stroke="#237a5b"/>
<rect x="312.84" y="445.62" width="11.84" height="9.63" fill="#11f4ec" stroke="#097a76"/>
<rect x="324.69" y="445.62" width="11.85" height="9.63" fill="#09cff5" stroke="#04687a"/>
<rect x="336.53" y="445.62" width="11.84" height="9.63" fill="#09aef5" stroke="#04577a"/>
<rect x="348.38" y="445.62" width="11.85" height="9.63" fill="#0997f5" stroke="#044c7a"/>
<rect x="360.22" y="445.62" width="11.84" height="9.63" fill="#098bf5" stroke="#04467a"/>
<rect x="372.06" y="445.62" width="11.85" height="9.63" fill="#0987f5" stroke="#04437a"/>
<rect x="383.91" y="445.62" width="11.84" height="9.63" fill="#0988f5" stroke="#04447a"/>
<rect x="395.75" y="445.62" width="11.85" height="9.63" fill="#098cf5" stroke="#04467a"/>
<rect x="407.60" y="445.62" width="11.84" height="9.63" fill="#0991f5" stroke="#04487a"/>
<rect x="419.44" y="445.62" width="11.85" height="9.63" fill="#0996f5" stroke="#044b7a"/>
<rect x="431.29" y="445.62" width="11.85" height="9.63" fill="#099af5" stroke="#044d7a"/>
<rect x="443.14" y="445.62" width="11.84" height="9.63" fill="#099df5" stroke="#044e7a"/>
<rect x="454.98" y="445.62" width="11.85" height="9.63" fill="#099ef5" stroke="#044f7a"/>
<rect x="466.83" y="445.62" width="11.84" height="9.63" fill="#099ef5" stroke="#044f7a"/>
<rect x="478.67" y="445.62" width="11.85" height="9.63" fill="#099bf5" stroke="#044e7a"/>
<rect x="490.52" y="445.62" width="11.84" height="9.63" fill="#0997f5" stroke="#044c7a"/>
<rect x="502.36" y="445.62" width="11.85" height="9.63" fill="#0992f5" stroke="#04497a"/>
<rect x="514.21" y="445.62" width="11.84" height="9.63" fill="#098bf5" stroke="#04467a"/>
<rect x="526.05" y="445.62" width="11.85" height="9.63" fill="#0983f5" stroke="#04427a"/>
<rect x="537.89" y="445.62" width="11.85" height="9.63" fill="#097bf5" stroke="#053e7c"/>
<rect x="549.74" y="445.62" width="11.85" height="9.63" fill="#0971f5" stroke="#053b80"/>
<rect x="561.59" y="445.62" width="11.85" height="9.63" fill="#0967f5" stroke="#053884"/>
<rect x="573.43" y="445.62" width="11.84" height="9.63" fill="#095df5" stroke="#053489"/>
<rect x="585.27" y="445.62" width="11.85" height="9.63" fill="#0953f5" stroke="#05308d"/>
<rect x="597.12" y="445.62" width="11.85" height="9.63" fill="#0949f5" stroke="#052b92"/>
<rect x="608.97" y="445.62" width="11.85" height="9.63" fill="#093ff5" stroke="#052797"/>
<rect x="620.81" y="445.62" width="11.85" height="9.63" fill="#0935f5" stroke="#06229b"/>
<rect x="632.66" y="445.62" width="11.84" height="9.63" fill="#092cf5" stroke="#061d9f"/>
<rect x="644.50" y="445.62" width="11.85" height="9.63" fill="#0924f5" stroke="#0618a3"/>
<rect x="656.35" y="445.62" width="11.85" height="9.63" fill="#091cf5" stroke="#0613a7"/>
<rect x="668.19" y="445.62" width="11.85" height="9.63" fill="#0914f5" stroke="#060eab"/>
<rect x="680.04" y="445.62" width="11.84" height="9.63" fill="#090ef5" stroke="#060aae"/>
<rect x="691.88" y="445.62" width="11.85" height="9.63" fill="#0909f3" stroke="#0606b0"/>
<rect x="703.73" y="445.62" width="11.85" height="9.63" fill="#0909ee" stroke="#0707af"/>
<rect x="715.57" y="445.62" width="11.85" height="9.63" fill="#0909e8" stroke="#0707ae"/>
<rect x="727.42" y="445.62" width="11.84" height="9.63" fill="#0909e4" stroke="#0707ac"/>
<rect x="739.26" y="445.62" width="11.85" height="9.63" fill="#0909df" stroke="#0707ab"/>
<rect x="751.11" y="445.62" width="11.85" height="9.63" fill="#0909db" stroke="#0707aa"/>
<rect x="762.95" y="445.62" width="11.85" height="9.63" fill="#0909d7" stroke="#0707a9"/>
<rect x="774.80" y="445.62" width="11.84" height="9.63" fill="#0909d4" stroke="#0707a8"/>
<rect x="786.64" y="445.62" width="11.85" height="9.63" fill="#0909d1" stroke="#0707a7"/>
<rect x="798.49" y="445.62" width="11.85" height="9.63" fill="#0909ce" stroke="#0707a6"/>
<rect x="810.33" y="445.62" width="11.85" height="9.63" fill="#0909cb" stroke="#0707a5"/>
<rect x="822.18" y="445.62" width="11.85" height="9.63" fill="#0909c8" stroke="#0707a4"/>
<rect x="834.02" y="445.62" width="12.98" height="9.63" fill="#0909c5" stroke="#0707a3"/>
<rect x="49.00" y="455.25" width="3.25" height="9.63" fill="#09f2f5" stroke="#04797a"/>
<rect x="52.25" y="455.25" width="11.84" height="9.63" fill="#36f4c7" stroke="#1b7a64"/>
<rect x="64.09" y="455.25" width="11.84" height="9.63" fill="#66f497" stroke="#337a4b"/>
<rect x="75.94" y="455.25" width="11.84" height="9.63" fill="#96f466" stroke="#4b7a33"/>
<rect x="87.78" y="455.25" width="11.84" height="9.63" fill="#c5f437" stroke="#627a1b"/>
<rect x="99.63" y="455.25" width="11.84" height="9.63" fill="#f1f40a" stroke="#787a05"/>
<rect x="111.47" y="455.25" width="11.85" height="9.63" fill="#f4ce08" stroke="#7a6704"/>
<rect x="123.32" y="455.25" width="11.85" height="9.63" fill="#f4ab08" stroke="#7a5504"/>
<rect x="135.17" y="455.25" width="11.84" height="9.63" fill="#f48d08" stroke="#7a4604"/>
<rect x="147.01" y="455.25" width="11.85" height="9.63" fill="#f47508" stroke="#7a3b04"/>
<rect x="158.86" y="455.25" width="11.84" height="9.63" fill="#f46508" stroke="#7a3204"/>
<rect x="170.70" y="455.25" width="11.85" height="9.63" fill="#f45c08" stroke="#7a2e04"/>
<rect x="182.55" y="455.25" width="11.84" height="9.63" fill="#f45a08" stroke="#7a2d04"/>
<rect x="194.39" y="455.25" width="11.84" height="9.63" fill="#f45f08" stroke="#7a3004"/>
<rect x="206.24" y="455.25" width="11.84" height="9.63" fill="#f46b08" stroke="#7a3604"/>
<rect x="218.08" y="455.25" width="11.84" height="9.63" fill="#f47d08" stroke="#7a3f04"/>
<rect x="229.93" y="455.25" width="11.84" height="9.63" fill="#f49508" stroke="#7a4b04"/>
<rect x="241.77" y="455.25" width="11.84" height="9.63" fill="#f4b408" stroke="#7a5a04"/>
<rect x="253.62" y="455.25" width="11.85" height="9.63" fill="#f4da08" stroke="#7a6d04"/>
<rect x="265.46" y="455.25" width="11.84" height="9.63" fill="#dff41d" stroke="#6f7a0e"/>
<rect x="277.31" y="455.25" width="11.84" height="9.63" fill="#aaf452" stroke="#557a29"/>
<rect x="289.15" y="455.25" width="11.85" height="9.63" fill="#70f48d" stroke="#387a46"/>
<rect x="301.00" y="455.25" width="11.85" height="9.63" fill="#36f4c7" stroke="#1b7a63"/>
<rect x="312.84" y="455.25" width="11.84" height="9.63" fill="#09ecf5" stroke="#04767a"/>
<rect x="324.69" y="455.25" width="11.85" height="9.63" fill="#09bff5" stroke="#04607a"/>
<rect x="336.53" y="455.25" width="11.84" height="9.63" fill="#099ef5" stroke="#044f7a"/>
<rect x="348.38" y="455.25" width="11.85" height="9.63" fill="#0988f5" stroke="#04447a"/>
<rect x="360.22" y="455.25" width="11.84" height="9.63" fill="#097cf5" stroke="#043f7b"/>
<rect x="372.06" y="455.25" width="11.85" height="9.63" fill="#0978f5" stroke="#053d7d"/>
<rect x="383.91" y="455.25" width="11.84" height="9.63" fill="#0979f5" stroke="#053e7d"/>
<rect x="395.75" y="455.25" width="11.85" height="9.63" fill="#097df5" stroke="#043f7b"/>
<rect x="407.60" y="455.25" width="11.84" height="9.63" fill="#0982f5" stroke="#04417a"/>
<rect x="419.44" y="455.25" width="11.85" height="9.63" fill="#0986f5" stroke="#04437a"/>
<rect x="431.29" y="455.25" width="11.85" height="9.63" fill="#098af5" stroke="#04457a"/>
<rect x="443.14" y="455.25" width="11.84" height="9.63" fill="#098df5" stroke="#04467a"/>
<rect x="454.98" y="455.25" width="11.85" height="9.63" fill="#098ef5" stroke="#04477a"/>
<rect x="466.83" y="455.25" width="11.84" height="9.63" fill="#098df5" stroke="#04477a"/>
<rect x="478.67" y="455.25" width="11.85" height="9.63" fill="#098bf5" stroke="#04467a"/>
<rect x="490.52" y="455.25" width="11.84" height="9.63" fill="#0987f5" stroke="#04447a"/>
<rect x="502.36" y="455.25" width="11.85" height="9.63" fill="#0982f5" stroke="#04417a"/>
<rect x="514.21" y="455.25" width="11.84" height="9.63" fill="#097cf5" stroke="#043e7b"/>
<rect x="526.05" y="455.25" width="11.85" height="9.63" fill="#0975f5" stroke="#053c7f"/>
<rect x="537.89" y="455.25" width="11.85" height="9.63" fill="#096cf5" stroke="#053a82"/>
<rect x="549.74" y="455.25" width="11.85" height="9.63" fill="#0964f5" stroke="#053686"/>
<rect x="561.59" y="455.25" width="11.85" height="9.63" fill="#095af5" stroke="#05338a"/>
<rect x="573.43" y="455.25" width="11.84" height="9.63" fill="#0951f5" stroke="#052f8e"/>
<rect x="585.27" y="455.25" width="11.85" height="9.63" fill="#0947f5" stroke="#052b93"/>
<rect x="597.12" y="455.25" width="11.85" height="9.63" fill="#093ef5" stroke="#062697"/>
<rect x="608.97" y="455.25" width="11.85" height="9.63" fill="#0934f5" stroke="#06219b"/>
<rect x="620.81" y="455.25" width="11.85" height="9.63" fill="#092bf5" stroke="#061ca0"/>
<rect x="632.66" y="455.25" width="11.84" height="9.63" fill="#0923f5" stroke="#0617a4"/>
<rect x="644.50" y="455.25" width="11.85" height="9.63" fill="#091bf5" stroke="#0613a8"/>
<rect x="656.35" y="455.25" width="11.85" height="9.63" fill="#0914f5" stroke="#060eab"/>
<rect x="668.19" y="455.25" width="11.85" height="9.63" fill="#090df5" stroke="#0609af"/>
<rect x="680.04" y="455.25" width="11.84" height="9.63" fill="#0909f3" stroke="#0606b0"/>
<rect x="691.88" y="455.25" width="11.85" height="9.63" fill="#0909ed" stroke="#0707af"/>
<rect x="703.73" y="455.25" width="11.85" height="9.63" fill="#0909e8" stroke="#0707ae"/>
<rect x="715.57" y="455.25" width="11.85" height="9.63" fill="#0909e3" stroke="#0707ac"/>
<rect x="727.42" y="455.25" width="11.84" height="9.63" fill="#0909df" stroke="#0707ab"/>
<rect x="739.26" y="455.25" width="11.85" height="9.63" fill="#0909db" stroke="#0707aa"/>
<rect x="751.11" y="455.25" width="11.85" height="9.63" fill="#0909d7" stroke="#0707a9"/>
<rect x="762.95" y="455.25" width="11.85" height="9.63" fill="#0909d4" stroke="#0707a8"/>
<rect x="774.80" y="455.25" width="11.84" height="9.63" fill="#0909d0" stroke="#0707a7"/>
<rect x="786.64" y="455.25" width="11.85" height="9.63" fill="#0909ce" stroke="#0707a6"/>
<rect x="798.49" y="455.25" width="11.85" height="9.63" fill="#0909cb" stroke="#0707a5"/>
<rect x="810.33" y="455.25" width="11.85" height="9.63" fill="#0909c8" stroke="#0707a4"/>
<rect x="822.18" y="455.25" width="11.85" height="9.63" fill="#0909c6" stroke="#0707a3"/>
<rect x="834.02" y="455.25" width="12.98" height="9.63" fill="#0909c3" stroke="#0707a2"/>
<rect x="49.00" y="464.87" width="3.25" height="9.63" fill="#09d9f5" stroke="#046d7a"/>
<rect x="52.25" y="464.87" width="11.84" height="9.63" fill="#1cf4e2" stroke="#0e7a71"/>
<rect x="64.09" y="464.87" width="11.84" height="9.63" fill="#4af4b3" stroke="#257a59"/>
<rect x="75.94" y="464.87" width="11.84" height="9.63" fill="#79f483" stroke="#3d7a42"/>
<rect x="87.78" y="464.87" width="11.84" height="9.63" fill="#a7f455" stroke="#547a2a"/>
<rect x="99.63" y="464.87" width="11.84" height="9.63" fill="#d3f429" stroke="#697a14"/>
<rect x="111.47" y="464.87" width="11.85" height="9.63" fill="#f4ed08" stroke="#7a7604"/>
<rect x="123.32" y="464.87" width="11.85" height="9.63" fill="#f4c908" stroke="#7a6504"/>
<rect x="135.17" y="464.87" width="11.84" height="9.63" fill="#f4ac08" stroke="#7a5604"/>
<rect x="147.01" y="464.87" width="11.85" height="9.63" fill="#f49408" stroke="#7a4a04"/>
<rect x="158.86" y="464.87" width="11.84" height="9.63" fill="#f48308" stroke="#7a4204"/>
<rect x="170.70" y="464.87" width="11.85" height="9.63" fill="#f47a08" stroke="#7a3d04"/>
<rect x="182.55" y="464.87" width="11.84" height="9.63" fill="#f47808" stroke="#7a3c04"/>
<rect x="194.39" y="464.87" width="11.84" height="9.63" fill="#f47c08" stroke="#7a3e04"/>
<rect x="206.24" y="464.87" width="11.84" height="9.63" fill="#f48708" stroke="#7a4304"/>
<rect x="218.08" y="464.87" width="11.84" height="9.63" fill="#f49708" stroke="#7a4b04"/>
<rect x="229.93" y="464.87" width="11.84" height="9.63" fill="#f4ad08" stroke="#7a5604"/>
<rect x="241.77" y="464.87" width="11.84" height="9.63" fill="#f4c908" stroke="#7a6504"/>
<rect x="253.62" y="464.87" width="11.85" height="9.63" fill="#f4ee08" stroke="#7a7704"/>
<rect x="265.46" y="464.87" width="11.84" height="9.63" fill="#ccf42f" stroke="#667a18"/>
<rect x="277.31" y="464.87" width="11.84" height="9.63" fill="#98f465" stroke="#4c7a32"/>
<rect x="289.15" y="464.87" width="11.85" height="9.63" fill="#5ef49f" stroke="#2f7a4f"/>
<rect x="301.00" y="464.87" width="11.85" height="9.63" fill="#24f4d9" stroke="#127a6d"/>
<rect x="312.84" y="464.87" width="11.84" height="9.63" fill="#09daf5" stroke="#046d7a"/>
<rect x="324.69" y="464.87" width="11.85" height="9.63" fill="#09aef5" stroke="#04577a"/>
<rect x="336.53" y="464.87" width="11.84" height="9.63" fill="#098ef5" stroke="#04477a"/>
<rect x="348.38" y="464.87" width="11.85" height="9.63" fill="#0978f5" stroke="#053d7d"/>
<rect x="360.22" y="464.87" width="11.84" height="9.63" fill="#096df5" stroke="#053a82"/>
<rect x="372.06" y="464.87" width="11.85" height="9.63" fill="#0969f5" stroke="#053884"/>
<rect x="383.91" y="464.87" width="11.84" height="9.63" fill="#096af5" stroke="#053983"/>
<rect x="395.75" y="464.87" width="11.85" height="9.63" fill="#096df5" stroke="#053a82"/>
<rect x="407.60" y="464.87" width="11.84" height="9.63" fill="#0972f5" stroke="#053b80"/>
<rect x="419.44" y="464.87" width="11.85" height="9.63" fill="#0976f5" stroke="#053d7e"/>
<rect x="431.29" y="464.87" width="11.85" height="9.63" fill="#097af5" stroke="#053e7c"/>
<rect x="443.14" y="464.87" width="11.84" height="9.63" fill="#097cf5" stroke="#043e7b"/>
<rect x="454.98" y="464.87" width="11.85" height="9.63" fill="#097df5" stroke="#043f7b"/>
<rect x="466.83" y="464.87" width="11.84" height="9.63" fill="#097cf5" stroke="#043f7b"/>
<rect x="478.67" y="464.87" width="11.85" height="9.63" fill="#097af5" stroke="#053e7c"/>
<rect x="490.52" y="464.87" width="11.84" height="9.63" fill="#0977f5" stroke="#053d7e"/>
<rect x="502.36" y="464.87" width="11.85" height="9.63" fill="#0972f5" stroke="#053c80"/>
<rect x="514.21" y="464.87" width="11.84" height="9.63" fill="#096cf5" stroke="#053a82"/>
<rect x="526.05" y="464.87" width="11.85" height="9.63" fill="#0965f5" stroke="#053785"/>
<rect x="537.89" y="464.87" width="11.85" height="9.63" fill="#095ef5" stroke="#053489"/>
<rect x="549.74" y="464.87" width="11.85" height="9.63" fill="#0955f5" stroke="#05318c"/>
<rect x="561.59" y="464.87" width="11.85" height="9.63" fill="#094df5" stroke="#052d90"/>
<rect x="573.43" y="464.87" width="11.84" height="9.63" fill="#0944f5" stroke="#052994"/>
<rect x="585.27" y="464.87" width="11.85" height="9.63" fill="#093bf5" stroke="#062598"/>
<rect x="597.12" y="464.87" width="11.85" height="9.63" fill="#0932f5" stroke="#06209c"/>
<rect x="608.97" y="464.87" width="11.85" height="9.63" fill="#092af5" stroke="#061ba0"/>
<rect x="620.81" y="464.87" width="11.85" height="9.63" fill="#0922f5" stroke="#0617a4"/>
<rect x="632.66" y="464.87" width="11.84" height="9.63" fill="#091af5" stroke="#0612a8"/>
<rect x="644.50" y="464.87" width="11.85" height="9.63" fill="#0913f5" stroke="#060dac"/>
<rect x="656.35" y="464.87" width="11.85" height="9.63" fill="#090cf5" stroke="#0609af"/>
<rect x="668.19" y="464.87" width="11.85" height="9.63" fill="#0909f2" stroke="#0606b0"/>
<rect x="680.04" y="464.87" width="11.84" height="9.63" fill="#0909ec" stroke="#0707af"/>
<rect x="691.88" y="464.87" width="11.85" height="9.63" fill="#0909e7" stroke="#0707ad"/>
<rect x="703.73" y="464.87" width="11.85" height="9.63" fill="#0909e2" stroke="#0707ac"/>
<rect x="715.57" y="464.87" width="11.85" height="9.63" fill="#0909de" stroke="#0707ab"/>
<rect x="727.42" y="464.87" width="11.84" height="9.63" fill="#0909da" stroke="#0707aa"/>
<rect x="739.26" y="464.87" width="11.85" height="9.63" fill="#0909d6" stroke="#0707a9"/>
<rect x="751.11" y="464.87" width="11.85" height="9.63" fill="#0909d3" stroke="#0707a8"/>
<rect x="762.95" y="464.87" width="11.85" height="9.63" fill="#0909d0" stroke="#0707a7"/>
<rect x="774.80" y="464.87" width="11.84" height="9.63" fill="#0909cd" stroke="#0707a6"/>
<rect x="786.64" y="464.87" width="11.85" height="9.63" fill="#0909ca" stroke="#0707a5"/>
<rect x="798.49" y="464.87" width="11.85" height="9.63" fill="#0909c8" stroke="#0707a4"/>
<rect x="810.33" y="464.87" width="11.85" height="9.63" fill="#0909c6" stroke="#0707a3"/>
<rect x="822.18" y="464.87" width="11.85" height="9.63" fill="#0909c4" stroke="#0707a2"/>
<rect x="834.02" y="464.87" width="12.98" height="9.63" fill="#0909c1" stroke="#0707a2"/>
<rect x="49.00" y="474.50" width="3.25" height="8.30" fill="#09c1f5" stroke="#04617a"/>
<rect x="52.25" y="474.50" width="11.84" height="8.30" fill="#09ecf5" stroke="#04767a"/>
<rect x="64.09" y="474.50" width="11.84" height="8.30" fill="#2ff4ce" stroke="#177a67"/>
<rect x="75.94" y="474.50" width="11.84" height="8.30" fill="#5cf4a0" stroke="#2e7a50"/>
<rect x="87.78" y="474.50" width="11.84" height="8.30" fill="#89f473" stroke="#457a3a"/>
<rect x="99.63" y="474.50" width="11.84" height="8.30" fill="#b4f448" stroke="#5a7a24"/>
<rect x="111.47" y="474.50" width="11.85" height="8.30" fill="#dcf420" stroke="#6e7a10"/>
<rect x="123.32" y="474.50" width="11.85" height="8.30" fill="#f4e808" stroke="#7a7404"/>
<rect x="135.17" y="474.50" width="11.84" height="8.30" fill="#f4ca08" stroke="#7a6504"/>
<rect x="147.01" y="474.50" width="11.85" height="8.30" fill="#f4b308" stroke="#7a5904"/>
<rect x="158.86" y="474.50" width="11.84" height="8.30" fill="#f4a208" stroke="#7a5104"/>
<rect x="170.70" y="474.50" width="11.85" height="8.30" fill="#f49808" stroke="#7a4c04"/>
<rect x="182.55" y="474.50" width="11.84" height="8.30" fill="#f49608" stroke="#7a4b04"/>
<rect x="194.39" y="474.50" width="11.84" height="8.30" fill="#f49908" stroke="#7a4d04"/>
<rect x="206.24" y="474.50" width="11.84" height="8.30" fill="#f4a208" stroke="#7a5104"/>
<rect x="218.08" y="474.50" width="11.84" height="8.30" fill="#f4b008" stroke="#7a5804"/>
<rect x="229.93" y="474.50" width="11.84" height="8.30" fill="#f4c408" stroke="#7a6204"/>
<rect x="241.77" y="474.50" width="11.84" height="8.30" fill="#f4df08" stroke="#7a6f04"/>
<rect x="253.62" y="474.50" width="11.85" height="8.30" fill="#e5f416" stroke="#727a0b"/>
<rect x="265.46" y="474.50" width="11.84" height="8.30" fill="#b8f443" stroke="#5c7a22"/>
<rect x="277.31" y="474.50" width="11.84" height="8.30" fill="#84f479" stroke="#427a3c"/>
<rect x="289.15" y="474.50" width="11.85" height="8.30" fill="#4af4b3" stroke="#257a59"/>
<rect x="301.00" y="474.50" width="11.85" height="8.30" fill="#11f4ed" stroke="#097a76"/>
<rect x="312.84" y="474.50" width="11.84" height="8.30" fill="#09c7f5" stroke="#04647a"/>
<rect x="324.69" y="474.50" width="11.85" height="8.30" fill="#099cf5" stroke="#044e7a"/>
<rect x="336.53" y="474.50" width="11.84" height="8.30" fill="#097df5" stroke="#043f7b"/>
<rect x="348.38" y="474.50" width="11.85" height="8.30" fill="#0968f5" stroke="#053884"/>
<rect x="360.22" y="474.50" width="11.84" height="8.30" fill="#095df5" stroke="#053489"/>
<rect x="372.06" y="474.50" width="11.85" height="8.30" fill="#095af5" stroke="#05338a"/>
<rect x="383.91" y="474.50" width="11.84" height="8.30" fill="#095af5" stroke="#05338a"/>
<rect x="395.75" y="474.50" width="11.85" height="8.30" fill="#095df5" stroke="#053489"/>
<rect x="407.60" y="474.50" width="11.84" height="8.30" fill="#0961f5" stroke="#053687"/>
<rect x="419.44" y="474.50" width="11.85" height="8.30" fill="#0965f5" stroke="#053785"/>
<rect x="431.29" y="474.50" width="11.85" height="8.30" fill="#0969f5" stroke="#053884"/>
<rect x="443.14" y="474.50" width="11.84" height="8.30" fill="#096bf5" stroke="#053983"/>
<rect x="454.98" y="474.50" width="11.85" height="8.30" fill="#096cf5" stroke="#053982"/>
<rect x="466.83" y="474.50" width="11.84" height="8.30" fill="#096bf5" stroke="#053983"/>
<rect x="478.67" y="474.50" width="11.85" height="8.30" fill="#0969f5" stroke="#053983"/>
<rect x="490.52" y="474.50" width="11.84" height="8.30" fill="#0966f5" stroke="#053785"/>
<rect x="502.36" y="474.50" width="11.85" height="8.30" fill="#0962f5" stroke="#053687"/>
<rect x="514.21" y="474.50" width="11.84" height="8.30" fill="#095cf5" stroke="#053489"/>
<rect x="526.05" y="474.50" width="11.85" height="8.30" fill="#0956f5" stroke="#05318c"/>
<rect x="537.89" y="474.50" width="11.85" height="8.30" fill="#094ff5" stroke="#052e8f"/>
<rect x="549.74" y="474.50" width="11.85" height="8.30" fill="#0947f5" stroke="#052b93"/>
<rect x="561.59" y="474.50" width="11.85" height="8.30" fill="#093ff5" stroke="#052796"/>
<rect x="573.43" y="474.50" width="11.84" height="8.30" fill="#0937f5" stroke="#06239a"/>
<rect x="585.27" y="474.50" width="11.85" height="8.30" fill="#092ff5" stroke="#061e9e"/>
<rect x="597.12" y="474.50" width="11.85" height="8.30" fill="#0927f5" stroke="#061aa2"/>
<rect x="608.97" y="474.50" width="11.85" height="8.30" fill="#091ff5" stroke="#0615a6"/>
<rect x="620.81" y="474.50" width="11.85" height="8.30" fill="#0918f5" stroke="#0610a9"/>
<rect x="632.66" y="474.50" width="11.84" height="8.30" fill="#0911f5" stroke="#060cad"/>
<rect x="644.50" y="474.50" width="11.85" height="8.30" fill="#090af5" stroke="#0607b0"/>
<rect x="656.35" y="474.50" width="11.85" height="8.30" fill="#0909f0" stroke="#0707b0"/>
<rect x="668.19" y="474.50" width="11.85" height="8.30" fill="#0909ea" stroke="#0707ae"/>
<rect x="680.04" y="474.50" width="11.84" height="8.30" fill="#0909e5" stroke="#0707ad"/>
<rect x="691.88" y="474.50" width="11.85" height="8.30" fill="#0909e0" stroke="#0707ac"/>
<rect x="703.73" y="474.50" width="11.85" height="8.30" fill="#0909dc" stroke="#0707aa"/>
<rect x="715.57" y="474.50" width="11.85" height="8.30" fill="#0909d8" stroke="#0707a9"/>
<rect x="727.42" y="474.50" width="11.84" height="8.30" fill="#0909d5" stroke="#0707a8"/>
<rect x="739.26" y="474.50" width="11.85" height="8.30" fill="#0909d2" stroke="#0707a7"/>
<rect x="751.11" y="474.50" width="11.85" height="8.30" fill="#0909cf" stroke="#0707a6"/>
<rect x="762.95" y="474.50" width="11.85" height="8.30" fill="#0909cc" stroke="#0707a5"/>
<rect x="774.80" y="474.50" width="11.84" height="8.30" fill="#0909ca" stroke="#0707a4"/>
<rect x="786.64" y="474.50" width="11.85" height="8.30" fill="#0909c7" stroke="#0707a4"/>
<rect x="798.49" y="474.50" width="11.85" height="8.30" fill="#0909c5" stroke="#0707a3"/>
<rect x="810.33" y="474.50" width="11.85" height="8.30" fill="#0909c3" stroke="#0707a2"/>
<rect x="822.18" y="474.50" width="11.85" height="8.30" fill="#0909c1" stroke="#0707a2"/>
<rect x="834.02" y="474.50" width="12.98" height="8.30" fill="#0909bf" stroke="#0808a1"/>
</g>
<path d="M48.50 2.78H847.00M48.50 12.40H847.00M48.50 22.03H847.00M48.50 31.66H847.00M48.50 41.28H847.00M48.50 50.91H847.00M48.50 60.54H847.00M48.50 70.17H847.00M48.50 79.79H847.00M48.50 89.42H847.00M48.50 99.05H847.00M48.50 108.67H847.00M48.50 118.30H847.00M48.50 127.93H847.00M48.50 137.55H847.00M48.50 147.18H847.00M48.50 156.81H847.00M48.50 166.44H847.00M48.50 176.06H847.00M48.50 185.69H847.00M48.50 195.32H847.00M48.50 204.94H847.00M48.50 214.57H847.00M48.50 224.20H847.00M48.50 233.82H847.00M48.50 243.45H847.00M48.50 253.08H847.00M48.50 262.71H847.00M48.50 272.33H847.00M48.50 281.96H847.00M48.50 291.59H847.00M48.50 301.21H847.00M48.50 310.84H847.00M48.50 320.47H847.00M48.50 330.10H847.00M48.50 339.72H847.00M48.50 349.35H847.00M48.50 358.98H847.00M48.50 368.60H847.00M48.50 378.23H847.00M48.50 387.86H847.00M48.50 397.48H847.00M48.50 407.11H847.00M48.50 416.74H847.00M48.50 426.37H847.00M48.50 435.99H847.00M48.50 445.62H847.00M48.50 455.25H847.00M48.50 464.87H847.00M48.50 474.50H847.00" stroke="#000" stroke-opacity="0.05" stroke-width="1.2" fill="none"/>
<path d="M111.47 185.69H218.08M87.78 195.32H265.46M64.09 204.94H301.00M48.50 214.57H312.84M48.50 224.20H336.53M48.50 233.82H348.38M48.50 243.45H372.06M419.44 243.45H478.67M48.50 253.08H502.36M48.50 262.71H526.05M48.50 272.33H537.89M48.50 281.96H561.59M48.50 291.59H573.43M48.50 301.21H585.27M48.50 310.84H597.12M48.50 320.47H608.97M48.50 330.10H608.97M48.50 339.72H620.81M48.50 349.35H620.81M48.50 358.98H620.81M48.50 368.60H620.81M48.50 378.23H620.81M48.50 387.86H620.81M48.50 397.48H608.97M48.50 407.11H608.97M48.50 416.74H597.12M48.50 426.37H585.27M48.50 435.99H573.43M48.50 445.62H561.59M48.50 455.25H549.74M48.50 464.87H526.05M48.50 474.50H360.22M431.29 474.50H490.52" stroke="#000" stroke-opacity="0.10" stroke-width="1.2" fill="none"/>
<path d="M123.32 224.20H194.39M99.63 233.82H241.77M87.78 243.45H265.46M64.09 253.08H289.15M48.50 262.71H289.15M48.50 272.33H301.00M48.50 281.96H312.84M48.50 291.59H312.84M48.50 301.21H324.69M48.50 310.84H324.69M48.50 320.47H324.69M48.50 330.10H324.69M48.50 339.72H324.69M48.50 349.35H336.53M48.50 358.98H336.53M48.50 368.60H336.53M48.50 378.23H336.53M48.50 387.86H324.69M48.50 397.48H324.69M48.50 407.11H324.69M48.50 416.74H324.69M48.50 426.37H324.69M48.50 435.99H324.69M48.50 445.62H312.84M52.25 455.25H312.84M52.25 464.87H312.84M64.09 474.50H301.00" stroke="#000" stroke-opacity="0.08" stroke-width="1.2" fill="none"/>
<g>
<defs><linearGradient id="cb" x1="0" y1="0" x2="0" y2="481.7" gradientUnits="userSpaceOnUse"><stop offset="0.0000" stop-color="#f42308"/><stop offset="0.0227" stop-color="#f43508"/><stop offset="0.0455" stop-color="#f44708"/><stop offset="0.0682" stop-color="#f45908"/><stop offset="0.0909" stop-color="#f46b08"/><stop offset="0.1136" stop-color="#f47d08"/><stop offset="0.1364" stop-color="#f48f08"/><stop offset="0.1591" stop-color="#f4a108"/><stop offset="0.1818" stop-color="#f4b308"/><stop offset="0.2045" stop-color="#f4c508"/><stop offset="0.2273" stop-color="#f4d708"/><stop offset="0.2500" stop-color="#f4e908"/><stop offset="0.2727" stop-color="#ebf410"/><stop offset="0.2955" stop-color="#d9f422"/><stop offset="0.3182" stop-color="#c7f434"/><stop offset="0.3409" stop-color="#b5f447"/><stop offset="0.3636" stop-color="#a3f459"/><stop offset="0.3864" stop-color="#91f46b"/><stop offset="0.4091" stop-color="#7ff47d"/><stop offset="0.4318" stop-color="#6df490"/><stop offset="0.4545" stop-color="#5bf4a2"/><stop offset="0.4773" stop-color="#49f4b4"/><stop offset="0.5000" stop-color="#37f4c7"/><stop offset="0.5227" stop-color="#25f4d9"/><stop offset="0.5455" stop-color="#13f4eb"/><stop offset="0.5682" stop-color="#09ebf5"/><stop offset="0.5909" stop-color="#09d9f5"/><stop offset="0.6136" stop-color="#09c7f5"/><stop offset="0.6364" stop-color="#09b5f5"/><stop offset="0.6591" stop-color="#09a3f5"/><stop offset="0.6818" stop-color="#0991f5"/><stop offset="0.7045" stop-color="#097ff5"/><stop offset="0.7273" stop-color="#096df5"/><stop offset="0.7500" stop-color="#095af5"/><stop offset="0.7727" stop-color="#0948f5"/><stop offset="0.7955" stop-color="#0936f5"/><stop offset="0.8182" stop-color="#0924f5"/><stop offset="0.8409" stop-color="#0912f5"/><stop offset="0.8636" stop-color="#0909ec"/><stop offset="0.8864" stop-color="#0909da"/><stop offset="0.9091" stop-color="#0909c7"/><stop offset="0.9318" stop-color="#0909b5"/><stop offset="0.9545" stop-color="#0909a3"/><stop offset="0.9773" stop-color="#090990"/><stop offset="1.0000" stop-color="#09097e"/></linearGradient></defs><rect x="854.1" y="-2" width="15.4" height="484.2" fill="url(#cb)"/>
</g>
<path d="M868.7 -2V481.7" stroke="#000" stroke-opacity="0.55" stroke-width="0.9"/>
<path d="M866 37.7h3M866 126.5h3M866 215.3h3M866 304.1h3M866 392.9h3" stroke="#000" stroke-opacity="0.7" stroke-width="0.9"/>
</g>
<g>
<text transform="translate(60.50 509.00) scale(1.000 1.450)" font-size="14.50" text-anchor="middle">20</text>
<text transform="translate(174.50 509.00) scale(1.000 1.450)" font-size="14.50" text-anchor="middle">30</text>
<text transform="translate(288.50 509.00) scale(1.000 1.450)" font-size="14.50" text-anchor="middle">40</text>
<text transform="translate(402.50 509.00) scale(1.000 1.450)" font-size="14.50" text-anchor="middle">50</text>
<text transform="translate(516.50 509.00) scale(1.000 1.450)" font-size="14.50" text-anchor="middle">60</text>
<text transform="translate(630.50 509.00) scale(1.000 1.450)" font-size="14.50" text-anchor="middle">70</text>
<text transform="translate(744.50 509.00) scale(1.000 1.450)" font-size="14.50" text-anchor="middle">80</text>
<text transform="translate(44.30 424.40) scale(1.000 1.450)" font-size="14.50" text-anchor="end">2</text>
<text transform="translate(44.30 357.40) scale(1.000 1.450)" font-size="14.50" text-anchor="end">4</text>
<text transform="translate(44.30 290.40) scale(1.000 1.450)" font-size="14.50" text-anchor="end">6</text>
<text transform="translate(44.30 223.40) scale(1.000 1.450)" font-size="14.50" text-anchor="end">8</text>
<text transform="translate(44.30 156.40) scale(1.000 1.450)" font-size="14.50" text-anchor="end">10</text>
<text transform="translate(44.30 89.40) scale(1.000 1.450)" font-size="14.50" text-anchor="end">12</text>
<text transform="translate(44.30 22.40) scale(1.000 1.450)" font-size="14.50" text-anchor="end">14</text>
<text transform="translate(873.00 490.00) scale(1.000 1.340)" font-size="14.00" text-anchor="start">0</text>
<text transform="translate(873.00 401.20) scale(1.000 1.340)" font-size="14.00" text-anchor="start">0.5</text>
<text transform="translate(873.00 312.40) scale(1.000 1.340)" font-size="14.00" text-anchor="start">1</text>
<text transform="translate(873.00 223.60) scale(1.000 1.340)" font-size="14.00" text-anchor="start">1.5</text>
<text transform="translate(873.00 134.80) scale(1.000 1.340)" font-size="14.00" text-anchor="start">2</text>
<text transform="translate(873.00 46.00) scale(1.000 1.340)" font-size="14.00" text-anchor="start">2.5</text>
<text transform="translate(448.50 534.90) scale(1.000 1.300)" font-size="16.00" text-anchor="middle">Age (years)</text>
<text transform="translate(861.50 514.00) scale(1.000 1.330)" font-size="14.00" text-anchor="middle">Kernel</text>
<text transform="translate(863.70 539.40) scale(1.000 1.330)" font-size="14.20" text-anchor="middle">Density</text>
<text transform="translate(23.30 190.50) rotate(-90) scale(1.545 1.050)" font-size="14.50" text-anchor="middle" style="stroke-width:0.08px">Household Income (CAD)</text>
</g>
</svg>
</body></html>
